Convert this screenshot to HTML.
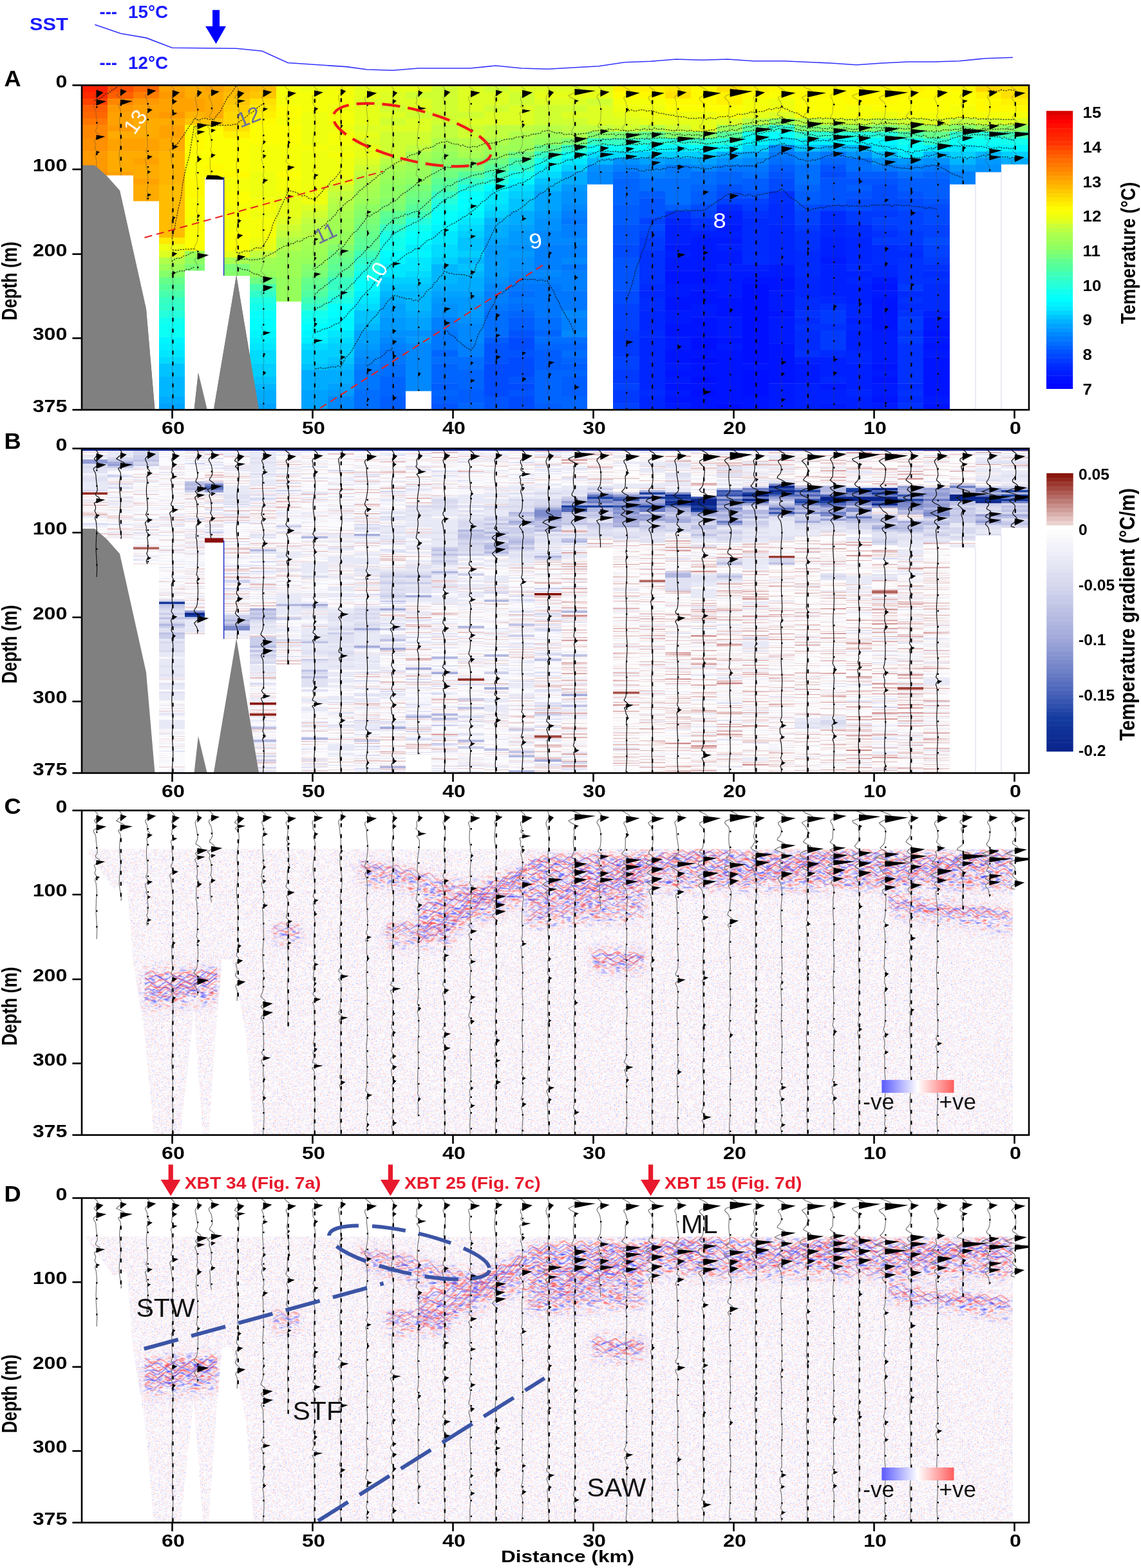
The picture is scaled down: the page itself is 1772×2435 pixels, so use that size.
<!DOCTYPE html><html><head><meta charset="utf-8"><title>Figure</title><style>
*{margin:0;padding:0}
html,body{width:1772px;height:2435px;background:#fff;overflow:hidden}
svg{display:block}
text{font-family:'Liberation Sans', Arial, Helvetica, sans-serif}
.tl{font-size:28.5px;font-weight:bold;fill:#000}
.cl{font-size:23.5px;font-weight:bold;fill:#000}
.lab{font-size:26.2px;font-weight:bold;fill:#000}
.pl{font-size:34.5px;font-weight:bold;fill:#000}
.sst{font-size:27.5px;font-weight:bold;fill:#1a1aff}
</style></head><body>
<svg width="1772" height="2435" viewBox="0 0 1772 2435">
<rect width="1772" height="2435" fill="#fff"/>
<defs><filter id="fB" x="0" y="0" width="1" height="1" color-interpolation-filters="sRGB">
<feTurbulence type="fractalNoise" baseFrequency="0.004 0.42" numOctaves="2" seed="3" result="n"/>
<feColorMatrix in="n" type="matrix" values="0 0 0 0 0.78  0 0 0 0 0.42  0 0 0 0 0.42  2.2 0 0 0 -1.22" result="r"/>
<feColorMatrix in="n" type="matrix" values="0 0 0 0 0.55  0 0 0 0 0.58  0 0 0 0 0.86  -2.0 0 0 0 0.88" result="b"/>
<feFlood flood-color="#fbfbfe" result="w"/>
<feMerge><feMergeNode in="w"/><feMergeNode in="r"/><feMergeNode in="b"/></feMerge>
</filter>
<filter id="fB2" x="0" y="0" width="1" height="1" color-interpolation-filters="sRGB">
<feTurbulence type="fractalNoise" baseFrequency="0.004 0.42" numOctaves="2" seed="5" result="n"/>
<feColorMatrix in="n" type="matrix" values="0 0 0 0 0.75  0 0 0 0 0.38  0 0 0 0 0.38  2.6 0 0 0 -1.38" result="r"/>
<feColorMatrix in="n" type="matrix" values="0 0 0 0 0.55  0 0 0 0 0.58  0 0 0 0 0.86  -1.6 0 0 0 0.66" result="b"/>
<feFlood flood-color="#fdfcfd" result="w"/>
<feMerge><feMergeNode in="w"/><feMergeNode in="r"/><feMergeNode in="b"/></feMerge>
</filter>
<filter id="fS" x="0" y="0" width="1" height="1" color-interpolation-filters="sRGB">
<feTurbulence type="fractalNoise" baseFrequency="0.3 0.45" numOctaves="2" seed="8" result="n"/>
<feColorMatrix in="n" type="matrix" values="0 0 0 0 1  0 0 0 0 0.42  0 0 0 0 0.42  1.2 0 0 0 -0.625" result="r"/>
<feColorMatrix in="n" type="matrix" values="0 0 0 0 0.42  0 0 0 0 0.42  0 0 0 0 1  -1.2 0 0 0 0.575" result="b"/>
<feMerge><feMergeNode in="r"/><feMergeNode in="b"/></feMerge>
</filter>
<filter id="fS2" x="0" y="0" width="1" height="1" color-interpolation-filters="sRGB">
<feTurbulence type="fractalNoise" baseFrequency="0.09 0.22" numOctaves="2" seed="21" result="n"/>
<feColorMatrix in="n" type="matrix" values="0 0 0 0 1  0 0 0 0 0.3  0 0 0 0 0.3  3.0 0 0 0 -1.58" result="r"/>
<feColorMatrix in="n" type="matrix" values="0 0 0 0 0.28  0 0 0 0 0.3  0 0 0 0 1  -3.0 0 0 0 1.42" result="b"/>
<feMerge><feMergeNode in="r"/><feMergeNode in="b"/></feMerge>
</filter>
<filter id="fBl" x="-0.1" y="-0.5" width="1.2" height="2"><feGaussianBlur stdDeviation="9"/></filter>
<clipPath id="trclip"><rect x="127" y="0" width="1471" height="504"/></clipPath><g id="trthin"><g clip-path="url(#trclip)"><path d="M147.5 1l2.9 3l1.9 3l-0.5 3l-3.2 3l-2.2 3l2.2 3l3.2 3l0.5 3l-3 3l-4.1 3l0.6 3l1.9 3l1 3l0.3 3l0.2 3l0.3 3l0.3 3l0.4 3l0.4 3l0.4 3l0.2 3l-0.7 3l-2.1 3l0.5 3l4.8 3l1.1 3l-4.1 3l-4.4 3l1.2 3l1.1 3l-0.3 3l-1.3 3l1.6 3l1.4 3l-2.1 3l-0.3 3l1.3 3l0.5 3l0.3 3l0.3 3l0.2 3l0.1 3l-0.1 3l-0.2 3l-0.3 3l-0.3 3l0.1 3l-0.2 3l-0.1 3l-0.1 3l0 3l0 3l0.1 3l0.2 3l0.2 3l0.2 3l0.2 3l0.2 3l0.2 3l0.1 3l0.1 3l0 3l-0.1 3l-0.1 3l-0.1 3l-0.2 3l-0.3 0.6M185.4 1l2.7 3l1.4 3l-1.6 3l-4.1 3l-3 3l6 3l5.9 3l0.3 3l-4.6 3l-4.7 3l1.4 3l1.9 3l0.4 3l-0.3 3l-0.5 3l-0.4 3l-0.3 3l-0.2 3l-0.1 3l0 3l0.2 3l0.3 3l0.3 3l0.3 3l0.3 3l0.2 3l0.1 3l0 3l-0.1 3l-0.2 3l-0.3 3l-0.4 3l-0.4 3l-0.3 3l-0.3 3l-0.1 3l0 3l0.1 3l0.3 3l0.4 3l0.5 3l0.5 3l0.5 3l0.4 3l0.4 3l0.2 3l-1.6 0.6M228.9 1l2.6 3l1 3l-1.6 3l-2.9 3l-2.4 3l0.8 3l1.7 3l0.8 3l-0.5 3l0.6 3l2.9 3l1 3l-2 3l-2.9 3l0.1 3l0.6 3l-0.1 3l-0.4 3l-0.4 3l-0.3 3l-0.1 3l0 3l0.1 3l0.2 3l0.3 3l0.3 3l0.3 3l0.3 3l0.2 3l0.1 3l0 3l-0.4 3l-1.2 3l-1.1 3l2.2 3l1.6 3l-1.7 3l-3 3l0.3 3l1.2 3l0.4 3l-0.6 3l1.2 3l2.4 3l-1.1 3l-0.7 3l0.6 3l0.3 3l0.1 3l0 3l-0.1 3l-0.1 3l-0.4 3l-1.4 3l1.4 3l1.6 3l-2.6 3l-0.8 3l1.1 3l0.4 1.6M265.6 1l3 3l2.3 3l0.6 3l-2 3l-2.7 3l0 3l2.1 3l0.7 3l-1.6 3l-1 3l0.1 3l-0.9 3l2.6 3l1 3l-3.3 3l-1.2 3l1.2 3l0.3 3l0.1 3l0.2 3l0.3 3l0.3 3l0.3 3l0.2 3l0.1 3l-0.1 3l-0.7 3l-1.6 3l-0.2 3l3 3l0.9 3l-2.7 3l-3.3 3l0.6 3l1.1 3l0.4 3l0.2 3l0.3 3l0.4 3l0.5 3l0.5 3l0.5 3l0.4 3l0.3 3l0.2 3l0 3l-0.8 3l-0.1 3l-0.1 3l-0.1 3l-0.1 3l-0.1 3l-0.1 3l0 3l0 3l0.1 3l0.1 3l0.1 3l0.2 3l0.2 3l0.1 3l0.1 3l0 3l-0.3 3l-0.8 3l-0.1 3l1.6 3l0.3 3l-1.6 3l-1.5 3l0.5 3l0.3 3l0 3l0 3l0 3l0.1 3l0.1 3l0.2 3l0.2 3l0.2 3l0.1 3l-0.1 3l-0.8 3l-0.9 3l2 3l1.9 3l-0.8 3l-2.8 3l-0.7 3l1.1 3l0.5 3l-0.1 3l-0.7 3l-0.3 3l1.9 3l1.4 3l-0.6 3l-1.7 3l0.1 3l1 3l0.4 3l0.1 3l0 3l-0.1 3l-0.1 3l-0.2 3l-0.2 3l-0.2 3l-0.2 3l-0.1 3l-0.1 3l0 3l0 3l0.1 3l0.1 3l0.1 3l0.1 3l0.1 3l0.1 3l0 3l0 3l-0.1 3l-0.1 3l-0.2 3l-0.2 3l-0.2 3l-0.2 3l-0.1 3l-0.1 3l0 3l0 3l0.1 3l0.2 3l0.2 3l0.2 3l0.2 3l0.2 3l0.1 3l0.1 3l0 3l0 3l-0.1 3l-0.1 3l-0.1 3l-0.1 3l-0.1 3l-0.1 3l0 3l0 3l0.1 3l0.1 3l0.1 3l0.2 3l0.2 3l0.2 3l0.1 3l0.1 3l0 3l-0.1 3l-0.1 3l-0.2 3l-0.2 3l-0.2 3l-0.2 3l-0.2 3l-0.2 3l-0.1 3l0.7 2M305.4 1l1.7 3l1.1 3l-0.1 3l-1.5 3l-2.1 3l-1.3 3l0.4 3l0.8 3l0.6 3l0.5 3l0.4 3l0.5 3l0.4 3l0.1 3l-0.7 3l-1.7 3l-0.4 3l4.4 3l3.5 3l-0.6 3l-5.6 3l-2.4 3l2.7 3l0 3l-3.5 3l1 3l1.7 3l0.4 3l0.2 3l0.2 3l0.3 3l0.2 3l-0.1 3l-0.7 3l-0.2 3l2.2 3l1.5 3l-0.9 3l-2.6 3l-1.3 3l0.5 3l0.2 3l-0.2 3l-0.3 3l-0.2 3l0 3l1.1 3l0.1 3l0.2 3l0.2 3l0.2 3l0.2 3l0.2 3l0.1 3l0.1 3l0 3l0 3l-0.1 3l-0.1 3l-0.1 3l-0.1 3l-0.1 3l-0.1 3l-0.5 3l-0.5 3l1.8 3l0.7 3l-1.6 3l-0.1 3l0.9 3l0.3 3l0.1 3l0.1 3l0 3l-0.1 3l-0.1 3l-0.2 3l-0.2 3l-0.2 3l-0.3 3l-0.6 3l-1.4 3l-2.2 3l-0.9 3l3.9 3l4.3 3l2 3l-2.3 3l-4.5 3l-2.9 3l1.4 3l2.1 3l1.1 3l0.3 3l0 3l0 1.6M325.6 1l3.3 3l2.1 3l-0.6 3l-2.7 3l-3.3 3l0.2 3l1.8 3l1.5 3l0.8 3l0.5 3l0.4 3l0.2 3l-0.2 3l-1.2 3l-2.3 3l-0.8 3l4.3 3l3.5 3l-0.2 3l-5.2 3l-5.6 3l2.5 3l2 3l-1.7 3l0.7 3l1.4 3l0.5 3l0.3 3l0.3 3l0.3 3l0.1 3l-0.5 3l-1.1 3l1.4 3l1.9 3l-1 3l-3 3l-0.5 3l0.7 3l0.1 3l-0.1 3l0 3l0.1 3l0.3 3l0.4 3l0.5 3l0.5 3l0 0.6M366.6 1l2.2 3l1.7 3l0.7 3l-1.3 3l-3.8 3l-1.7 3l4.9 3l-0.7 3l-3.2 3l3.1 3l1.8 3l0.5 3l0.2 3l0.1 3l-0.1 3l-0.2 3l-0.3 3l-0.4 3l-0.5 3l-0.4 3l-0.4 3l-0.3 3l-0.2 3l-0.1 3l0 3l0.2 3l0.2 3l0.3 3l0.3 3l0.3 3l0.2 3l0.1 3l0 3l-0.2 3l-0.3 3l-0.3 3l-0.4 3l-0.4 3l-0.4 3l-0.3 3l-0.2 3l0 3l0.1 3l0.2 3l0.4 3l0.4 3l0.6 3l0.2 3l0.2 3l0.2 3l0.1 3l0.1 3l0 3l-0.1 3l-0.1 3l-0.1 3l-0.1 3l-0.1 3l-0.1 3l-0.1 3l0 3l0 3l0.1 3l0.1 3l-0.1 3l-0.6 3l-0.4 3l1.9 3l1.5 3l-0.6 3l-2.1 3l-0.6 3l0.1 3l-1 3l0.3 3l2.7 3l0.9 3l-2.1 3l-2.8 3l0.4 3l1.1 3l0.3 3l-0.4 3l-1.3 3l-1.1 3l2.4 3l3.6 3l1.3 3l-2.3 3l-3.8 3l-0.6 3l1.5 3l0.9 3l0.2 3l-0.1 3l-0.1 3l-0.1 3l0 3l0.5 0.6M406.1 1l3.7 3l2.7 3l0.3 3l-2 3l-3.1 3l-1.1 3l1.2 3l1.3 3l-0.4 3l0.1 3l2.9 3l-0.6 3l-3.6 3l-0.1 3l0.7 3l-0.1 3l-0.2 3l-0.1 3l0 3l0.1 3l0.2 3l0.3 3l0.3 3l0.2 3l-0.1 3l-0.6 3l0.6 3l1.4 3l-0.4 3l-2 3l-0.6 3l0.1 3l-0.9 3l-0.2 3l1.7 3l0.4 3l-1.4 3l-0.9 3l1.1 3l0.9 3l0.6 3l0.5 3l0.5 3l0.3 3l-0.3 3l-1.1 3l0.6 3l2.5 3l-0.9 3l-3.1 3l0 3l1 3l0.2 3l-0.1 3l0 3l0 3l0.1 3l0.1 3l0.1 3l0.2 3l0.1 3l0.1 3l0.1 3l0 3l0 3l-0.1 3l-0.1 3l-0.2 3l-0.2 3l-0.2 3l-0.2 3l-0.2 3l-0.1 3l-0.1 3l0 3l0.1 3l0.1 3l0.2 3l0.2 3l0.2 3l0.2 3l0.1 3l-0.2 3l-0.5 3l0.8 3l0.8 3l-0.8 3l-1.1 3l0.4 3l0.2 3l0 3l-0.1 3l-0.3 3l-0.9 3l-1.6 3l-0.8 3l3.1 3l3.4 3l0.5 3l-3.5 3l-3.2 3l1.6 3l4.2 3l1.8 3l-2.2 3l-4.2 3l-1.1 3l1.5 3l1.3 3l0.5 3l0.1 3l0 3l0 3l0.1 3l0.1 3l0.1 3l0.1 3l0.1 3l0.1 3l0.1 3l0 3l0 3l-0.2 3l-0.9 3l-2.2 3l1.7 3l4 3l-1.6 3l-4.7 3l0.9 3l1.6 3l0.4 3l0.2 3l0.2 3l0.1 3l-0.3 3l-0.2 3l2 3l0 3l-1.7 3l0.5 3l0.4 3l0 3l-0.2 3l-0.7 3l-0.8 3l1.5 3l1.1 3l-1.2 3l-1.6 3l0.7 3l0.7 3l0.2 3l0.2 3l0.2 3l0.1 3l0.1 3l0 3l0 3l-0.1 3l-0.1 3l-0.2 3l-0.2 3l-0.2 3l-0.2 3l-0.2 3l-0.1 3l0.6 2M442 1l2.3 3l4 3l2.3 3l-1 3l-3 3l-2.5 3l0.9 3l1.5 3l0.6 3l0 3l-0.2 3l-0.3 3l-0.3 3l-0.6 3l-0.5 3l1.6 3l0 3l-1.2 3l0.9 3l0.8 3l0.5 3l0.4 3l0.4 3l0.2 3l-0.2 3l-0.6 3l0.5 3l1 3l-0.1 3l-1.5 3l-1.6 3l0 3l0.1 3l-0.1 3l-0.1 3l0 3l-0.2 3l-0.9 3l-1.2 3l2.4 3l3.6 3l0.3 3l-3.1 3l-2.2 3l1.3 3l0.9 3l-0.1 3l-0.1 3l-0.2 3l-0.2 3l-0.2 3l-0.1 3l-0.2 3l-0.9 3l-0.7 3l3.2 3l0.6 3l-2.9 3l0.3 3l1.3 3l0.4 3l0.2 3l0.1 3l0 3l-0.4 3l-1.2 3l1.8 3l1 3l-2.6 3l-0.1 3l0.8 3l0.1 3l0 3l0.1 3l0.1 3l0.1 3l0.2 3l0.2 3l0.1 3l0.1 3l0.1 3l0 3l-0.1 3l-0.1 3l-0.2 3l-0.2 3l-0.2 3l-0.2 3l-0.2 3l-0.2 3l-0.1 3l0 3l0 3l0.1 3l0.1 3l0.2 3l0.2 3l0.2 3l0.1 3l0.1 3l0 3l0 3l-0.1 3l-0.1 3l-0.1 3l-0.1 3l-0.1 3l-0.1 3l-0.1 3l0 3l0.1 3l0.5 1.6M485.9 1l3.6 3l3.1 3l0.8 3l-2.7 3l-4.3 3l-1.6 3l1.1 3l0.4 3l-0.4 3l1.8 3l1.8 3l-0.5 3l-2 3l0.1 3l1.3 3l0.7 3l0.3 3l0.1 3l0 3l-0.1 3l-0.2 3l-0.4 3l-0.4 3l-0.5 3l-0.5 3l-0.4 3l-0.4 3l-0.2 3l-0.1 3l0 3l0.2 3l0.3 3l0.4 3l0.4 3l0.4 3l0.3 3l0.3 3l0.2 3l0 3l-0.1 3l-0.2 3l-0.4 3l-1.1 3l-1.1 3l2.4 3l0.8 3l-2.1 3l-0.8 3l1.2 3l0.2 3l-0.7 3l1.6 3l1.5 3l-1.6 3l-0.7 3l1 3l0.2 3l0 3l-0.1 3l-0.1 3l-0.2 3l-0.2 3l-0.2 3l-0.2 3l-0.1 3l-0.1 3l0 3l0 3l0.1 3l0.1 3l0.1 3l0.1 3l0.1 3l0.1 3l0 3l-0.3 3l-1.4 3l1.6 3l1.8 3l-2.7 3l-1.2 3l1.1 3l0.1 3l-0.1 3l-0.2 3l-0.6 3l0.1 3l1.6 3l0.5 3l-1 3l-0.5 3l0.8 3l0.1 3l-1.3 3l-0.6 3l3.8 3l1.8 3l-2.9 3l-3.3 3l1.3 3l1 3l0.1 3l-0.1 3l0 3l0 3l0.1 3l0.1 3l0.1 3l0.2 3l0.2 3l0.1 3l0.1 3l0 3l0 3l-0.1 3l-0.1 3l-0.2 3l-0.3 3l-0.7 3l-0.9 3l0.6 3l1.4 3l0.3 3l-1.2 3l-1.4 3l0.5 3l0.8 3l0.2 3l-1.6 3l-0.8 3l6.3 3l-1 3l-5.7 3l2.1 3l1.3 3l0 3l-0.1 3l-0.1 3l-0.1 3l-0.1 3l0 3l0 3l0.1 3l0.1 3l0.2 3l0.2 3l0.2 3l0.2 3l0.2 3l0.1 3l0.1 3l0 3l-0.1 3l-0.1 3l-0.2 3l-0.2 3l-0.2 3l-0.2 3l-0.1 3l-0.1 3l-0.1 3l0 3l0.1 3l0.1 3l0.1 3l0.1 3l0.1 3l-0.2 2M530 1l1.5 3l0.5 3l-1.3 3l-2.3 3l-2.4 3l-0.2 3l0.7 3l0.6 3l0.3 3l0.2 3l0.3 3l0.3 3l0.4 3l0.4 3l0.3 3l0.2 3l-0.2 3l-0.6 3l0.9 3l0.8 3l-0.9 3l-1.7 3l-0.1 3l0.3 3l0 3l0 3l0.1 3l0.2 3l0.3 3l0.4 3l0.5 3l0.5 3l0.4 3l0.4 3l0.2 3l0.1 3l0 3l-0.2 3l-0.3 3l-0.4 3l-0.4 3l-0.4 3l-0.4 3l-0.3 3l-0.2 3l-0.1 3l0.4 3l0.1 3l0.1 3l0.1 3l0.1 3l0.1 3l0.1 3l0 3l-0.2 3l-0.7 3l0.9 3l0.5 3l-1.5 3l-0.4 3l0.3 3l-0.1 3l-0.1 3l0 3l0 3l0.1 3l0.1 3l0.2 3l0.2 3l0.2 3l0.2 3l0.2 3l0.1 3l0.1 3l0 3l-0.1 3l-0.1 3l-0.1 3l-0.1 3l-0.2 3l-0.4 3l-1.7 3l-1.4 3l4.6 3l2.7 3l-3.2 3l-3.7 3l2 3l1.5 3l0.4 3l0.1 3l0 3l0 3l-0.1 3l-0.1 3l-0.2 3l-0.2 3l-0.2 3l-0.2 3l-0.2 3l-0.1 3l-0.1 3l-0.4 3l-1.7 3l0 3l5 3l0.2 3l-4.7 3l0.2 3l1.9 3l0.4 3l0 3l-0.1 3l-0.1 3l-0.1 3l-0.1 3l-0.1 3l-0.1 3l-0.1 3l0 3l0 3l0.1 3l0.1 3l0.2 3l0.2 3l0.2 3l0.2 3l0.2 3l0.1 3l0.1 3l0 3l-0.1 3l-0.1 3l-0.2 3l-0.2 3l-0.5 3l-1.3 3l-0.3 3l2.7 3l1.2 3l-1.9 3l-2.2 3l1 3l1 3l0.3 3l0.1 3l0.1 3l0 3l0 3l-0.1 3l-0.1 3l-0.2 3l-0.2 3l-0.2 3l-0.2 3l-0.2 3l-0.1 3l-0.1 3l0 3l0.1 3l0.1 3l0.2 3l0.2 3l0.2 3l0.2 3l0.2 3l0.1 3l-0.3 2M567.5 1l3.4 3l3.4 3l1.7 3l-1.7 3l-3.4 3l-4.1 3l-0.3 3l1.4 3l1 3l0.4 3l0.1 3l0.1 3l0.2 3l0.3 3l0.3 3l0.3 3l0.3 3l0.2 3l0.1 3l-0.1 3l-0.2 3l-0.3 3l-0.4 3l-0.5 3l-0.5 3l-0.5 3l-0.8 3l-1.4 3l0.4 3l2.6 3l0.3 3l-2.2 3l-0.7 3l1.5 3l1 3l0.5 3l0.3 3l0.2 3l0.1 3l0 3l-0.1 3l-0.2 3l-0.3 3l-0.3 3l-0.3 3l-0.2 3l0.4 3l0 3l0.1 3l0.1 3l0.2 3l0.2 3l0.2 3l0.2 3l0.2 3l0.1 3l0.1 3l0 3l-0.1 3l-0.1 3l-0.2 3l-0.7 3l-1.5 3l2.2 3l1.2 3l-3.1 3l-0.4 3l1.1 3l0.2 3l0.1 3l0.1 3l-0.2 3l-0.4 3l0.5 3l1.3 3l0.3 3l-1 3l-1.1 3l0.3 3l0.3 3l-0.1 3l-0.2 3l-0.2 3l-0.1 3l-0.1 3l0 3l0.1 3l0.1 3l0.2 3l0.2 3l0.2 3l0.2 3l0.2 3l0.1 3l0.1 3l0 3l0 3l-0.1 3l-0.1 3l-0.1 3l-0.1 3l-0.1 3l-0.1 3l-0.1 3l0 3l0 3l0.1 3l0.1 3l0.2 3l0.2 3l0.1 3l0.1 3l0.1 3l0 3l-0.1 3l-0.1 3l-0.2 3l-0.2 3l-0.2 3l-0.2 3l-0.2 3l-0.2 3l-0.1 3l0 3l0 3l0.1 3l0.1 3l0.2 3l0.2 3l0.2 3l0.1 3l0.1 3l0 3l0 3l-0.1 3l-0.1 3l-0.1 3l-0.1 3l-0.1 3l-0.1 3l-0.1 3l0 3l-0.3 3l-1.2 3l0.4 3l3.4 3l0.2 3l-3 3l-0.1 3l1.4 3l0.5 3l0.1 3l0 3l-0.1 3l-0.1 3l-0.2 3l-0.2 3l-0.4 3l-0.7 3l0 3l1.2 3l0.3 3l-0.9 3l-0.9 3l0.6 3l0.5 3l0.2 3l-0.1 2M607.6 1l2 3l1.9 3l1 3l-1.1 3l-2.2 3l0.4 3l2.4 3l0.4 3l-1.8 3l-0.4 3l0.7 3l0 3l-0.4 3l-0.5 3l-0.5 3l-0.4 3l-0.3 3l-0.1 3l0 3l0.1 3l0.2 3l0.3 3l0.3 3l0.3 3l0.2 3l0.2 3l0.1 3l-0.1 3l-0.2 3l-0.3 3l-0.3 3l-0.4 3l-0.4 3l-0.3 3l-0.2 3l-0.1 3l0.1 3l0.2 3l0.3 3l0.4 3l0.5 3l0.5 3l0.5 3l0.4 3l0.3 3l0.2 3l-0.9 3l0 3l-0.1 3l-0.1 3l-0.2 3l-0.2 3l-0.1 3l-0.1 3l-0.1 3l0 3l0 3l0.1 3l0.1 3l0.1 3l0.1 3l0.1 3l0.1 3l0 3l0 3l-0.1 3l-0.1 3l-0.2 3l-0.2 3l-0.2 3l-0.2 3l-0.2 3l-0.1 3l-0.1 3l0 3l0.1 3l0.1 3l0.2 3l0.2 3l0.2 3l0.2 3l0.1 3l0.1 3l0 3l0 3l-0.1 3l-0.1 3l-0.3 3l-1.8 3l-1.4 3l5.5 3l0.1 3l-5.7 3l1.1 3l1.8 3l0.4 3l0.2 3l0.2 3l0.2 3l0.2 3l0 3l-0.6 3l0.1 3l1.6 3l-0.5 3l-1.8 3l0.2 3l0.3 3l-0.2 3l-0.3 3l-0.8 3l-0.5 3l1.6 3l1.1 3l-0.9 3l-1.5 3l0.4 3l0.8 3l0.3 3l0.1 3l0 3l-0.1 3l-0.6 3l-1 3l1 3l1.7 3l-0.8 3l-2.8 3l-1.1 3l1.3 3l2.5 3l0.9 3l-1.4 3l-1.9 3l0.4 3l0.3 3l0.3 3l2 3l1.3 3l-0.5 3l-1.7 3l-0.7 3l0.7 3l0.4 3l0 3l-0.1 3l-0.1 3l-0.1 3l-0.1 3l0 3l0 3l0.1 3l0.1 3l0.2 3l0.2 3l0.1 3l-0.2 3l-0.9 3l-0.2 3l2.2 3l1 3l-1.6 3l-2.3 3l0.3 3l0.6 3l0 3l-0.1 3l0.7 2M648.4 1l1.7 3l1.3 3l0.2 3l-1.4 3l-2.2 3l-1.1 3l0.5 3l0.2 3l-1.7 3l2.5 3l5 3l-2.2 3l-4.1 3l2.5 3l1.5 3l0.3 3l0 3l-0.1 3l-0.2 3l-0.4 3l-0.4 3l-0.5 3l-0.5 3l-0.4 3l-0.3 3l-0.2 3l-0.1 3l0 3l0 3l-0.2 3l-0.3 3l1.1 3l1.7 3l0.5 3l-1 3l-1.4 3l0.2 3l0.4 3l-0.1 3l-0.3 3l-0.4 3l-0.3 3l-0.3 3l-0.4 3l-0.9 3l-0.3 3l3.1 3l1.6 3l-0.9 3l-2 3l0.3 3l1.1 3l0.5 3l0.2 3l0.1 3l0 3l-0.1 3l-0.1 3l-0.1 3l-0.2 3l-0.4 3l-0.6 3l-0.2 3l1 3l0.7 3l-0.3 3l-1 3l-0.2 3l0.6 3l0.4 3l0.2 3l0.1 3l0 3l0 3l-0.1 3l-0.2 3l-0.2 3l-0.2 3l-0.2 3l-0.2 3l-0.2 3l-0.1 3l-0.1 3l0 3l0.1 3l0.1 3l0.2 3l0.2 3l0.2 3l0.2 3l0.1 3l0.1 3l0 3l0 3l-0.1 3l-0.1 3l-0.2 3l-0.5 3l-0.8 3l0.5 3l1.6 3l0.1 3l-1.4 3l-0.8 3l0.9 3l0.6 3l0.3 3l0.2 3l0.2 3l0.1 3l0 3l0 3l-0.1 3l-0.1 3l-0.2 3l-0.2 3l-0.2 3l-0.2 3l-0.2 3l-0.1 3l-0.1 3l0 3l0.1 3l0.1 3l0.1 3l0.1 3l0.1 3l0.1 3l0.1 3l0 3l-0.1 3l-0.1 3l-0.1 3l-0.2 3l-0.2 3l-0.2 3l-0.1 3l-0.1 3l0 3l0 3l0.1 3l0.1 3l0.2 3l0.2 3l-0.1 3l-0.5 3l0.8 3l1.6 3l0 3l-1.5 3l-0.6 3l0.6 3l0.2 3l-0.1 3l-0.1 3l-0.1 3l-0.1 3l0.1 2.6M687.1 1l2.4 3l1.8 3l0.4 3l-1 3l-1.7 3l-0.9 3l0.9 3l1.3 3l0.9 3l0.4 3l0 3l-0.2 3l-0.3 3l-0.3 3l-0.4 3l-0.3 3l-0.3 3l-0.2 3l-0.1 3l0.1 3l0.2 3l0.3 3l0.3 3l0.3 3l0.3 3l0.2 3l0.1 3l0 3l-0.1 3l-0.3 3l-0.4 3l-0.8 3l-1.6 3l0 3l2.3 3l-0.3 3l-2.9 3l-0.7 3l1.2 3l0.6 3l0.4 3l0.4 3l0.4 3l0.4 3l0.3 3l0.3 3l-0.2 3l0 3l0 3l-0.1 3l-0.1 3l-0.1 3l-0.1 3l-0.1 3l-0.1 3l0 3l0 3l0.1 3l0.1 3l0.2 3l0.1 3l-0.2 3l0 3l1.3 3l0.6 3l-0.8 3l-1 3l0.3 3l0.2 3l-0.1 3l-0.4 3l-1.4 3l-0.1 3l3.2 3l-1.5 3l-2.7 3l1.5 3l0.6 3l0.1 3l0.1 3l0.1 3l0.1 3l0.1 3l0 3l0 3l-0.1 3l-0.2 3l-0.6 3l-1.2 3l-0.3 3l2.3 3l1.4 3l-1.1 3l-2.5 3l-0.5 3l1.2 3l0.8 3l0.3 3l0.2 3l0.2 3l0.2 3l0.2 3l0.1 3l0.1 3l0 3l-0.1 3l-0.1 3l-0.1 3l-0.1 3l-0.2 3l-0.5 3l-1.5 3l-0.6 3l3.7 3l1.7 3l-2.6 3l-2.8 3l1.3 3l0 3l-0.8 3l3.1 3l2.5 3l-1.6 3l-3.6 3l0.1 3l1.2 3l0.3 3l-0.2 3l-0.2 3l-0.2 3l-0.1 3l-0.1 3l0 3l0.1 3l0.1 3l0.1 3l0.2 3l0.2 3l0.1 3l0.1 3l0.1 3l0 3l0 3l-0.1 3l-0.1 3l-0.1 3l-0.1 3l-0.1 3l-0.1 3l0 3l0 3l0.1 3l0.1 3l0.2 3l0.2 3l0.2 3l0.2 3l0.2 3l0.1 3l0.1 3l0 3l-0.1 3l-0.1 3l-0.2 3l-0.2 3l-0.2 3l-0.2 3l0 2M727.7 1l3.7 3l3.6 3l1.5 3l-2.2 3l-4.1 3l-2.7 3l0.7 3l1.2 3l0.4 3l-0.2 3l-0.3 3l-0.2 3l-0.1 3l0 3l0.2 3l0.3 3l0.4 3l0.4 3l0.3 3l-0.2 3l0.1 3l2.1 3l0.4 3l-1.8 3l-0.5 3l0.5 3l-0.1 3l-0.3 3l-0.3 3l-0.2 3l-0.1 3l0 3l0.1 3l0.2 3l0.2 3l-0.2 3l-1.2 3l1.3 3l4 3l0.2 3l-3.6 3l-1 3l1.4 3l0.3 3l-0.3 3l-0.5 3l-0.5 3l-0.2 3l-0.2 3l-0.1 3l-0.1 3l0 3l0 3l0.1 3l0.1 3l0.1 3l0.1 3l-0.4 3l-1.5 3l0.2 3l3.9 3l0.6 3l-3.6 3l-1.8 3l1.5 3l0.6 3l0 3l-0.1 3l0 3l0 3l0.1 3l0.1 3l0.2 3l0 3l-1 3l-0.2 3l3.9 3l-0.5 3l-3.4 3l1.2 3l0.8 3l0 3l-0.1 3l-0.2 3l-0.2 3l-0.2 3l-0.1 3l-0.1 3l0 3l0 3l0.1 3l-0.1 3l-0.9 3l-0.4 3l3 3l1.3 3l-2.2 3l-2 3l1.2 3l0.5 3l-0.1 3l-0.2 3l-0.3 3l-0.5 3l-1 3l-0.6 3l1.9 3l1.5 3l-0.7 3l-2.1 3l-0.3 3l1.1 3l0.7 3l0.3 3l0.2 3l0.1 3l0.1 3l0 3l-0.1 3l-0.1 3l-0.1 3l-0.1 3l-0.1 3l-0.1 3l-0.1 3l0 3l0.1 3l0.1 3l0.2 3l0.2 3l0.2 3l0.2 3l0.2 3l0.1 3l0.1 3l0 3l-0.1 3l-0.1 3l-0.2 3l-0.6 3l-0.9 3l1.3 3l0.8 3l-1.5 3l-1.1 3l0.8 3l0.3 3l0 3l-0.4 3l-1 3l2.2 3l1.9 3l-1.8 3l-1.9 3l1.2 3l0.4 3l-0.1 3l-0.2 3l-0.2 3l-0.2 3l-0.1 3l-0.1 3l-0.1 3l0 3l0.1 3l0.1 3l0.2 3l0.4 2M768.7 1l3.2 3l2.2 3l0 3l-2.2 3l-3.1 3l-0.7 3l0.8 3l0.5 3l-0.1 3l-0.4 3l-0.4 3l-0.3 3l-0.1 3l0 3l0.2 3l0.3 3l0.4 3l0.4 3l0.4 3l0.4 3l0.3 3l0.2 3l0.1 3l0 3l-0.2 3l-0.2 3l-0.3 3l-0.3 3l-0.3 3l-0.2 3l-0.1 3l0 3l0.2 3l0.3 3l0.4 3l0.4 3l0.4 3l0.3 3l-0.3 3l-1.7 3l-1.6 3l4 3l3.5 3l-2.1 3l-6.6 3l-2.1 3l4.2 3l1.2 3l-1.7 3l0.1 3l2.3 3l0.6 3l-3.1 3l-3.4 3l2.3 3l2.9 3l0.5 3l-0.9 3l0.2 3l0.5 3l0.1 3l-0.1 3l-0.1 3l-0.2 3l-0.2 3l-0.2 3l-0.1 3l-0.1 3l0 3l0 3l0.1 3l0.1 3l0.2 3l0.2 3l0.2 3l0.2 3l0.2 3l0.1 3l0.1 3l0 3l0 3l-0.1 3l-0.1 3l-0.1 3l-0.1 3l-0.1 3l-0.1 3l0 3l0 3l0.1 3l0.1 3l0.1 3l0.2 3l0.1 3l0.1 3l0.1 3l0 3l0 3l-0.1 3l-0.1 3l-0.2 3l-0.2 3l-0.2 3l-0.2 3l-0.2 3l-0.1 3l-0.1 3l0 3l0 3l0.1 3l0.1 3l0.2 3l0.1 3l-0.3 3l-0.8 3l0.2 3l2.2 3l1.3 3l-1 3l-2.3 3l-0.7 3l0.8 3l0.5 3l0.1 3l-0.1 3l-0.8 3l-0.9 3l3.2 3l0.8 3l-3.1 3l0.4 3l1.3 3l0.4 3l0.1 3l-0.1 3l-0.7 3l-1.2 3l0.8 3l2.6 3l0.4 3l-2.3 3l-2.4 3l0.7 3l0.8 3l0.2 3l0 3l0 3l0.1 3l0.1 3l0.1 3l0.1 3l0.1 3l0.1 3l0 3l0 3l-0.1 3l-0.1 3l-0.2 3l-0.2 3l-0.2 3l-0.2 3l-0.1 3l-0.1 3l0 3l0.1 3l0.1 3l0.2 3l0.5 2M808.5 1l3.8 3l2.9 3l0.8 3l-1.7 3l-2.8 3l-3.1 3l0 3l1.5 3l0.9 3l-1.6 3l-0.1 3l5.4 3l-1.3 3l-6.2 3l0.7 3l1 3l-0.6 3l0.6 3l1.4 3l0.3 3l-0.9 3l-0.8 3l0.9 3l0.9 3l0.5 3l0.3 3l0.1 3l0 3l-0.1 3l-0.2 3l-0.4 3l-0.8 3l-1.8 3l-2.1 3l1 3l4.5 3l2.8 3l-1.2 3l-3.7 3l-2.8 3l1.7 3l2.3 3l1.3 3l0.6 3l0.3 3l0.1 3l-1.1 3l-0.1 3l-0.1 3l-0.2 3l-0.2 3l-0.2 3l-0.2 3l-0.1 3l-0.1 3l0 3l0 3l0.1 3l0.1 3l0.1 3l0.1 3l0.1 3l0.1 3l0 3l-0.2 3l-1.2 3l0.4 3l2.7 3l-1.4 3l-2.7 3l1 3l0.5 3l0 3l0 3l0 3l0.1 3l0.1 3l0.2 3l0.2 3l0.2 3l0.2 3l0.2 3l0.1 3l0.1 3l0 3l0 3l-0.1 3l-0.1 3l-0.1 3l-0.1 3l-0.1 3l-0.1 3l0 3l0 3l0.1 3l0.1 3l0.2 3l0.2 3l0.2 3l0.1 3l0.1 3l0 3l0 3l-0.1 3l-0.1 3l-0.2 3l-0.2 3l-0.2 3l-0.2 3l-0.2 3l-0.1 3l-0.1 3l0 3l0 3l0.1 3l0.1 3l0.2 3l0.2 3l0.1 3l0.1 3l0.1 3l0 3l0 3l-0.1 3l-0.1 3l-0.1 3l-0.1 3l-0.1 3l-0.1 3l0 3l0 3l0.1 3l0.1 3l0.1 3l-0.3 3l-0.9 3l2.3 3l1.4 3l-2.2 3l-0.6 3l1.1 3l0.2 3l-0.1 3l-0.2 3l-0.2 3l-0.2 3l-0.4 3l-1 3l-0.8 3l2.1 3l1.6 3l-1 3l-2.3 3l0.2 3l1.1 3l0.5 3l0.2 3l0.1 3l0 3l-0.1 3l-0.1 3l-0.2 3l-0.2 3l-0.2 3l-0.2 3l-0.2 3l-0.1 3l0.8 2M850.4 1l1.3 3l0.9 3l-0.2 3l-1.3 3l-1.7 3l-1.4 3l0.3 3l1.1 3l1.1 3l0.8 3l0.6 3l0.4 3l0.3 3l0.1 3l0 3l-0.1 3l-0.2 3l-0.3 3l-0.3 3l-0.3 3l-0.2 3l-0.1 3l0 3l0.1 3l0.2 3l0.3 3l0.4 3l0.4 3l0.3 3l-0.1 3l-1.6 3l-2.9 3l1.5 3l7 3l3 3l-4.6 3l-8.8 3l-3.4 3l6.6 3l4.9 3l-3.5 3l-4.1 3l2.3 3l1.2 3l0.3 3l0.3 3l0.6 3l0.1 3l0.1 3l0.1 3l0 3l-0.2 3l-0.8 3l-0.2 3l1.7 3l0.1 3l-1.9 3l-0.6 3l0.7 3l0.2 3l0 3l0.1 3l0.1 3l0.2 3l0.2 3l0.2 3l0.2 3l0.2 3l0.1 3l0.1 3l0 3l0 3l-0.3 3l-0.9 3l0.5 3l1.3 3l-1.3 3l-1.2 3l0.7 3l0.2 3l0 3l0 3l-0.5 3l-0.5 3l1.9 3l1.3 3l-1.2 3l-1.7 3l0.7 3l0.5 3l0 3l-0.2 3l-0.2 3l-0.2 3l-0.2 3l-0.2 3l-0.1 3l-0.1 3l0 3l0 3l0.1 3l0.1 3l0.2 3l0.1 3l-0.2 3l-0.6 3l1.5 3l1.1 3l-1.3 3l-1.2 3l0.7 3l0.2 3l-0.1 3l-0.1 3l-0.1 3l-0.1 3l0 3l0 3l0.1 3l0.1 3l0.2 3l0.2 3l0.2 3l0.2 3l0.1 3l0.1 3l0 3l-0.1 3l-0.1 3l-0.2 3l-0.2 3l-0.2 3l-0.2 3l-0.2 3l-0.1 3l-0.1 3l0 3l0 3l-0.2 3l-1.2 3l-0.3 3l3.8 3l1.1 3l-3.2 3l-1.7 3l0.9 3l0.7 3l1.6 3l0.4 3l-1.3 3l-1.6 3l0.3 3l0.5 3l0.1 3l0 3l0.1 3l0.1 3l0.2 3l0.2 3l0.2 3l0.2 3l0.2 3l0.2 3l0.1 3l0 3l0 3l-0.1 3l-0.6 2M888.8 1l9 3l4.3 3l-4.3 3l-9 3l-5.9 3l3.3 3l6.4 3l0.4 3l-2.3 3l0.9 3l0.2 3l-0.4 3l-0.4 3l-0.3 3l-0.2 3l-0.1 3l0.1 3l0.2 3l0.3 3l0.3 3l-0.1 3l-1.1 3l-1.9 3l0.1 3l5.1 3l3.1 3l-1.6 3l-4.9 3l-1.4 3l1.5 3l0.9 3l-2.4 3l-0.1 3l2.7 3l3.5 3l-1.3 3l-4.5 3l-1.8 3l2.3 3l2.4 3l1.3 3l0.5 3l0.2 3l0.1 3l-0.1 3l-0.2 3l-0.9 3l-0.2 3l-0.2 3l-0.2 3l-0.2 3l-0.2 3l-0.1 3l-0.1 3l0 3l0.1 3l0.1 3l0.1 3l0.2 3l0.2 3l0.1 3l0.1 3l0.1 3l0 3l0 3l-0.1 3l-0.1 3l-0.1 3l-0.1 3l-0.1 3l-0.1 3l0 3l0 3l0.1 3l0.1 3l0.2 3l0.2 3l0.2 3l0.2 3l0.1 3l-0.5 3l0.4 3l1.4 3l-1 3l-1.1 3l0.5 3l0 3l-0.2 3l-0.2 3l-0.1 3l-0.1 3l0 3l0 3l0 3l-0.1 3l-0.6 3l-0.2 3l2.3 3l0.7 3l-1.9 3l-0.9 3l0.9 3l0.2 3l-0.1 3l-0.2 3l-0.2 3l-0.2 3l-0.2 3l-0.1 3l-0.1 3l0 3l0.1 3l0.1 3l0.2 3l0.2 3l0.2 3l0.2 3l0.2 3l0.1 3l0.1 3l0 3l0 3l-0.1 3l-0.1 3l-0.1 3l-0.1 3l-0.1 3l-0.1 3l0 3l0 3l0.1 3l0.1 3l0.2 3l0.2 3l0.2 3l0.1 3l0.1 3l0 3l0 3l-0.1 3l-0.1 3l-0.2 3l-0.2 3l-0.2 3l-0.2 3l-0.2 3l-0.1 3l-0.1 3l0 3l0 3l0.1 3l-0.2 3l-1.1 3l0.5 3l3.2 3l-0.2 3l-3 3l0.3 3l1.1 3l0.1 3l-0.1 3l-0.1 3l-0.1 3l-0.1 3l-0.1 3l0 3l0 3l0.6 2M928.2 1l3.5 3l2.6 3l0 3l-2.8 3l-3.8 3l-0.7 3l1.9 3l1.8 3l1 3l0.6 3l0.4 3l0.3 3l0.2 3l0.1 3l-0.1 3l-0.2 3l-0.3 3l-0.3 3l-0.8 3l-2.1 3l-1.1 3l4.9 3l2.6 3l-3.3 3l-4 3l1.8 3l1 3l-1 3l0 3l3.9 3l1.9 3l-3.3 3l-2.9 3l3.7 3l3.4 3l-3.8 3l-6.6 3l1.4 3l2.5 3l0.6 3l-0.1 3l-0.1 3l0 3l0.2 3l0.3 3l0.3 3l0.5 3l0.1 3l0.1 3l0.1 3l-0.2 2.6M966.6 1l5.3 3l4.9 3l2.6 3l-2 3l-4.4 3l-4.3 3l0.8 3l2.1 3l0.8 3l0.8 3l1.4 3l0 3l-1.7 3l-1.8 3l0.1 3l0.2 3l-0.1 3l-0.1 3l-0.1 3l-0.6 3l-2.2 3l-2.7 3l3.8 3l6.2 3l-1 3l-6 3l0 3l5.2 3l-1.5 3l-6.4 3l1.5 3l3.8 3l-3.5 3l-3.2 3l6.6 3l4.5 3l-3.2 3l-5.6 3l1.1 3l3 3l1.5 3l0.7 3l0.5 3l0.4 3l0.3 3l0.2 3l-0.9 3l-0.1 3l-0.1 3l-0.1 3l-0.2 3l-0.5 3l-0.6 3l0.6 3l1 3l-0.2 3l-1.2 3l-0.1 3l0.6 3l0.3 3l0.2 3l0.1 3l0.1 3l0 3l0 3l-0.1 3l-0.1 3l-0.2 3l-0.2 3l-0.2 3l-0.2 3l-0.2 3l-0.1 3l-0.1 3l0 3l0.1 3l0.1 3l0.2 3l0.2 3l0.2 3l0.2 3l0.1 3l0.1 3l0 3l0 3l-0.1 3l-0.1 3l-0.1 3l-0.1 3l-0.1 3l-0.1 3l0 3l0 3l0.1 3l0.1 3l0.2 3l0.2 3l0.2 3l0.2 3l0.2 3l0.1 3l0.1 3l0 3l-0.1 3l-0.1 3l-0.2 3l-0.2 3l-0.2 3l-0.2 3l-0.2 3l-0.1 3l-0.1 3l0 3l0 3l0.1 3l0.1 3l0.1 3l0.1 3l0.1 3l0.1 3l0 3l0 3l-0.1 3l-0.1 3l-0.2 3l-0.2 3l-0.2 3l-0.4 3l-1.3 3l-1.6 3l3.5 3l2.9 3l-2.2 3l-3.7 3l1.3 3l0.9 3l0.5 3l2 3l0.7 3l-1.3 3l-1.2 3l0.7 3l0.4 3l0 3l-0.1 3l-0.2 3l-0.1 3l-0.1 3l-0.1 3l0 3l0 3l0.1 3l0.1 3l0.1 3l0.1 3l0.1 3l0.1 3l0 3l0 3l-0.1 3l-0.1 3l-0.2 3l-0.2 3l-0.2 3l-0.2 3l-0.2 3l-0.1 3l0.7 2M1007.8 1l2.2 3l5.2 3l2.8 3l-2.2 3l-5 3l-4 3l1.5 3l2.6 3l1.5 3l0.7 3l0.4 3l0.3 3l0.2 3l0.1 3l0 3l-0.2 3l-0.3 3l-0.5 3l-0.9 3l-1.8 3l-2.6 3l-0.2 3l4.5 3l2.5 3l-2.9 3l-6.1 3l-2.2 3l6.7 3l5 3l-1.6 3l-5.3 3l-3.1 3l5.2 3l5.2 3l0 3l-5.1 3l-5.5 3l4 3l4.8 3l-0.9 3l-4.5 3l-0.4 3l2.1 3l1.1 3l0.5 3l0.4 3l0.5 3l0.2 3l0.2 3l0.2 3l0.1 3l0.1 3l0 3l0 3l-0.1 3l-0.1 3l-0.2 3l-0.2 3l-0.2 3l-0.1 3l-0.1 3l0 3l0 3l0.1 3l0.1 3l0.1 3l0.1 3l0.1 3l0.1 3l0.1 3l0 3l-0.1 3l-0.5 3l-0.9 3l0.3 3l1.4 3l0 3l-1.6 3l-1 3l0.6 3l0.4 3l0.1 3l0.1 3l0.2 3l0.2 3l0.2 3l0.2 3l0.2 3l0.1 3l0.1 3l0 3l0 3l-0.1 3l-0.1 3l-0.1 3l-0.1 3l-0.1 3l-0.1 3l0 3l0 3l0.1 3l0.1 3l0.2 3l0.2 3l0.2 3l0.2 3l0.1 3l0.1 3l0 3l-0.1 3l-0.1 3l-0.2 3l-0.2 3l-0.2 3l-0.2 3l-0.2 3l-0.2 3l-0.1 3l0 3l0 3l0.1 3l0.1 3l0.1 3l0.1 3l0.1 3l0.1 3l0.1 3l0 3l0 3l-0.1 3l-0.1 3l-0.2 3l-0.2 3l-0.1 3l-0.1 3l-0.1 3l0 3l0.1 3l0.1 3l0.2 3l0.2 3l0.2 3l0.2 3l0.2 3l0.2 3l0.1 3l0 3l0 3l-0.1 3l-0.1 3l-0.2 3l-0.2 3l-0.2 3l-0.1 3l-0.1 3l-0.1 3l0 3l0.1 3l0.1 3l0.1 3l0.1 3l0.1 3l0.1 3l0.1 3l0 3l0 3l-0.1 3l-0.4 2M1049.7 1l3.7 3l2.8 3l0.5 3l-2.7 3l-4.2 3l-2 3l0.9 3l1.2 3l0.5 3l0.1 3l0.1 3l0.2 3l0.3 3l0.4 3l0.5 3l0.5 3l0.5 3l0.4 3l0.3 3l0.2 3l-0.1 3l-0.9 3l-3.1 3l-4 3l4.7 3l8.3 3l0.3 3l-8.9 3l-8.6 3l5.8 3l6.3 3l1.7 3l-2 3l-3 3l0.3 3l1.7 3l0.7 3l-1 3l-1 3l2.9 3l2.3 3l-1.6 3l-4.2 3l-1.2 3l1.1 3l0.4 3l0.7 3l-0.1 3l0 3l0 3l0.1 3l0.1 3l0.2 3l0.2 3l0.2 3l0.1 3l0.1 3l0 3l0 3l-0.1 3l-0.1 3l-0.1 3l-0.1 3l-0.1 3l-0.1 3l0 3l0 3l0.1 3l0.1 3l0.2 3l0.2 3l0.2 3l0.2 3l0.2 3l0.1 3l0.1 3l0 3l-0.1 3l-0.1 3l-0.2 3l-0.2 3l-0.4 3l-1.1 3l-2 3l0.6 3l4.2 3l1.5 3l-2.8 3l-3.7 3l1 3l1.7 3l0.7 3l0.2 3l0.1 3l0 3l0 3l-0.1 3l-0.1 3l-0.2 3l-0.2 3l-0.2 3l-0.2 3l-0.1 3l-0.1 3l0 3l0.1 3l0.1 3l0.2 3l0.2 3l0.2 3l0.2 3l0.2 3l0.1 3l0.1 3l0 3l0 3l-0.1 3l-0.1 3l-0.1 3l-0.1 3l-0.1 3l-0.1 3l0 3l0 3l0.1 3l0.1 3l0.1 3l0.2 3l0.2 3l0.1 3l-0.3 3l-1 3l0.7 3l2.2 3l-0.2 3l-2.5 3l-0.8 3l0.8 3l0.2 3l-0.1 3l-0.2 3l-0.1 3l0 3l0 3l0.1 3l0.1 3l0.2 3l0.2 3l0.2 3l0.1 3l0.1 3l0 3l0 3l-0.1 3l-0.1 3l-0.1 3l-0.1 3l-0.1 3l-0.1 3l-0.1 3l0 3l0.1 3l0.1 3l0.2 3l0.2 3l0.2 3l0.2 3l-0.4 2M1085.2 1l6.7 3l5.3 3l2.7 3l-2.2 3l-4.7 3l-6.1 3l-0.4 3l2.9 3l2.8 3l1.5 3l0.5 3l0 3l-0.3 3l-0.4 3l-0.4 3l-0.4 3l-0.4 3l-0.4 3l-0.7 3l-2 3l-3 3l2 3l7.2 3l2.9 3l-4.4 3l-7.6 3l-1.8 3l0.6 3l2.9 3l6.7 3l3.9 3l-2.5 3l-7.7 3l-4.5 3l4.5 3l4.7 3l-1.8 3l-5.6 3l-0.3 3l3 3l1.9 3l0.8 3l0.5 3l0.5 3l0.5 3l0.4 3l-0.2 3l0.1 3l0 3l-0.1 3l-0.8 3l-1.5 3l1.3 3l2.7 3l-0.6 3l-3.3 3l-0.4 3l1.4 3l0.5 3l0.2 3l0.2 3l0.2 3l0.2 3l0.1 3l0.1 3l0.1 3l0 3l-0.1 3l-0.1 3l-0.2 3l-0.2 3l-0.2 3l-0.2 3l-0.2 3l-0.1 3l-0.1 3l0 3l0 3l0.1 3l0.1 3l0.1 3l-0.1 3l-0.9 3l-0.5 3l3.1 3l1 3l-2.8 3l-1.4 3l1.2 3l0.4 3l-0.1 3l-0.1 3l-0.1 3l-0.1 3l0 3l0.1 3l0.1 3l0.2 3l0.2 3l0.2 3l0.2 3l0.2 3l0.2 3l0.1 3l0 3l-0.1 3l-0.3 3l-0.9 3l0.5 3l1.3 3l-0.9 3l-1.7 3l0.5 3l0.4 3l0.1 3l0 3l0.1 3l0.1 3l0.1 3l0.1 3l0.1 3l0.1 3l0 3l0 3l-0.1 3l-0.1 3l-0.2 3l-0.2 3l-0.2 3l-0.2 3l-0.1 3l-0.1 3l0 3l0 3l0.1 3l0.2 3l0.2 3l0.2 3l0.2 3l0.2 3l0.1 3l0.1 3l0 3l0 3l-0.1 3l-0.1 3l-0.1 3l-0.1 3l-0.1 3l-0.1 3l0 3l0 3l0 3l-0.4 3l-1.6 3l-0.4 3l4.7 3l2.3 3l-3 3l-3.8 3l1.5 3l1.4 3l0.2 3l-0.1 3l-0.2 3l-0.2 3l-0.2 3l0.1 2M1134.5 1l6.9 3l3.9 3l-2.6 3l-6.5 3l-8.7 3l-2.2 3l2.6 3l2.9 3l1.5 3l0.3 3l-0.2 3l-0.3 3l-0.2 3l-0.1 3l0 3l0.2 3l0.3 3l0.4 3l0.4 3l0.4 3l0.2 3l-0.3 3l-2 3l-3.3 3l1.3 3l7.4 3l3 3l-5.6 3l-8.9 3l0.1 3l4.8 3l2.2 3l0 3l0.3 3l0.8 3l1.2 3l-0.8 3l-2.5 3l0.2 3l1.9 3l1.5 3l0.6 3l0.1 3l-0.2 3l-0.3 3l-0.4 3l-0.8 3l-0.2 3l-0.2 3l-0.2 3l-0.4 3l-1.1 3l-1.8 3l0.4 3l4.3 3l2.8 3l-1.1 3l-3.7 3l-2.5 3l1.4 3l1.5 3l0.5 3l0 3l-0.2 3l-0.2 3l-0.2 3l-0.2 3l-0.1 3l-0.1 3l0 3l0 3l0.1 3l0.2 3l0.2 3l0.2 3l0.2 3l0.2 3l0.2 3l0.1 3l0.1 3l0 3l-0.1 3l-0.1 3l-0.1 3l-0.1 3l-0.1 3l-0.1 3l-0.1 3l0 3l0 3l0.1 3l0.1 3l0.1 3l0.2 3l0.2 3l0.1 3l0.1 3l0 3l0 3l-0.1 3l-0.1 3l-0.2 3l-0.2 3l-0.2 3l-0.2 3l-0.2 3l-0.1 3l-0.1 3l0 3l0.1 3l0 3l-0.3 3l-0.6 3l1.2 3l1.8 3l-0.3 3l-1.9 3l-0.1 3l0.8 3l0.2 3l-0.1 3l-0.1 3l-0.1 3l-0.1 3l-0.1 3l0 3l0 3l0.1 3l0.1 3l0.2 3l0.2 3l0.2 3l0.2 3l0.2 3l0.1 3l0.1 3l0 3l-0.1 3l-0.1 3l-0.2 3l-0.2 3l-0.2 3l-0.2 3l-0.2 3l-0.1 3l-0.1 3l0 3l0.1 3l0.1 3l0.1 3l0.1 3l0.1 3l0.1 3l0.1 3l0 3l-0.1 3l-0.1 3l-0.2 3l-0.2 3l-0.2 3l-0.2 3l-0.2 3l-0.1 3l-0.1 3l0 3l0.1 3l0.1 3l0.7 2M1170.4 1l4 3l3.2 3l1.1 3l-2.3 3l-3.9 3l-2.4 3l0.7 3l1.1 3l0.4 3l-0.2 3l-0.3 3l-0.5 3l-0.9 3l0.7 3l1.7 3l-0.5 3l-1.9 3l-1.5 3l-3 3l2.8 3l7.8 3l1.1 3l-6.4 3l-3.5 3l5.2 3l5.5 3l-1.9 3l-5.8 3l-3.4 3l1.6 3l2.2 3l1.1 3l0.4 3l0.3 3l0.3 3l0.4 3l0.4 3l0.4 3l0.3 3l0.2 3l0.1 3l0 3l-0.2 3l-0.3 3l-0.4 3l-0.5 3l-0.4 3l-0.2 3l-0.2 3l-0.1 3l-0.1 3l0 3l0 3l0.1 3l0.1 3l0.2 3l0.2 3l0.1 3l0.1 3l0.1 3l0 3l0 3l-0.1 3l-0.1 3l-0.1 3l-0.1 3l-0.1 3l-0.1 3l0 3l0 3l0.1 3l0.1 3l0.2 3l0.2 3l0.2 3l0.2 3l0.2 3l0.1 3l0.1 3l0 3l0 3l-0.1 3l-0.1 3l-0.2 3l-0.2 3l-0.2 3l-0.1 3l-0.1 3l0 3l0 3l0.1 3l0.1 3l0.1 3l0.1 3l0.1 3l0.1 3l0 3l-0.5 3l-0.2 3l1.4 3l-0.7 3l-1.4 3l0.4 3l0 3l-0.2 3l-0.1 3l-0.1 3l0 3l0 3l0.1 3l0.2 3l0.2 3l0.2 3l0.2 3l0.2 3l0.1 3l0.1 3l0 3l0 3l-0.1 3l-0.1 3l-0.1 3l-0.1 3l-0.1 3l-0.1 3l0 3l0 3l0.1 3l0.1 3l0.2 3l0.2 3l0.2 3l0.2 3l0.1 3l0.1 3l0 3l-0.1 3l-0.1 3l-0.2 3l-0.2 3l-0.2 3l-0.2 3l-0.2 3l-0.2 3l-0.1 3l0 3l0 3l0.1 3l0.1 3l0.1 3l0.1 3l0.1 3l0.1 3l0.1 3l0 3l0 3l-0.1 3l-0.1 3l-0.2 3l-0.2 3l-0.1 3l-0.1 3l-0.1 3l0 3l0.1 3l0.1 3l0.2 3l0.4 2M1206.5 1l4.8 3l5.6 3l3 3l-2 3l-4.7 3l-4.7 3l0.8 3l2.4 3l1.4 3l0.3 3l-0.2 3l-0.6 3l-1.6 3l-3.2 3l-0.7 3l7 3l4.9 3l-2.5 3l-8.6 3l-4.7 3l7.6 3l7.9 3l1 3l-4.8 3l-4.3 3l1.5 3l0.3 3l-1.7 3l0.3 3l4.4 3l3.2 3l0.1 3l-3.6 3l-5.1 3l-1.9 3l1.7 3l2 3l1.1 3l0.5 3l0.4 3l0.3 3l0.2 3l0.1 3l0 3l-0.1 3l-0.2 3l-0.4 3l-0.2 3l-0.2 3l-0.2 3l-0.2 3l-0.1 3l-0.1 3l0 3l0.1 3l0.1 3l0.2 3l0.2 3l0.2 3l0.2 3l0.2 3l0.1 3l0.1 3l0 3l0 3l-0.1 3l-0.1 3l-0.1 3l-0.1 3l-0.1 3l-0.1 3l0 3l0 3l0.1 3l0.1 3l0.2 3l0.2 3l0.2 3l0.1 3l0.1 3l0.1 3l0 3l-0.1 3l-0.2 3l-0.6 3l-0.6 3l0.8 3l0.6 3l-0.9 3l-1.3 3l0.2 3l0.4 3l0.1 3l0.1 3l0.1 3l0.2 3l0.2 3l0.1 3l0.1 3l0.1 3l0 3l0 3l-0.1 3l-0.1 3l-0.1 3l-0.1 3l-0.1 3l-0.1 3l-0.1 3l0 3l0.1 3l0.1 3l0.2 3l0.2 3l0.2 3l0.2 3l0.2 3l0.1 3l0.1 3l0 3l0 3l-0.1 3l-0.1 3l-0.2 3l-0.2 3l-0.2 3l-0.1 3l-0.1 3l-0.1 3l0 3l0 3l0.1 3l0.1 3l0.1 3l0.1 3l0.1 3l0.1 3l0 3l-0.5 3l-1.4 3l0.3 3l2.8 3l-0.2 3l-3.2 3l-0.8 3l0.4 3l0 3l2.3 3l0.2 3l-2.2 3l0.3 3l1 3l0.4 3l0.2 3l0.2 3l0.1 3l0.1 3l0 3l-0.6 3l-1.2 3l2 3l1.4 3l-2.1 3l-1.7 3l1.1 3l0.4 3l0.1 3l0.3 2M1246.9 1l4 3l7.6 3l3.8 3l-3.7 3l-7.8 3l-5.3 3l2.4 3l3.3 3l1.2 3l2 3l1.3 3l-1.4 3l-1 3l-1 3l-3 3l-1.8 3l5.3 3l5.7 3l1.9 3l-4.6 3l-8.1 3l-5 3l0.1 3l3.1 3l6.6 3l4.5 3l0 3l-4.9 3l-6.2 3l2.8 3l6.1 3l2.4 3l-2.3 3l-3.5 3l0.7 3l1.4 3l0.4 3l-0.2 3l-0.3 3l-0.2 3l-0.1 3l0 3l0.1 3l0.2 3l0.3 3l0.4 3l-0.1 3l0.2 3l0.1 3l0.1 3l0 3l0 3l-0.1 3l-0.2 3l-0.4 3l-1.2 3l0.9 3l1.4 3l-1.8 3l-1.1 3l0.9 3l0.2 3l0.1 3l0.1 3l0.1 3l0.1 3l0.1 3l0.1 3l0.1 3l0 3l0 3l-0.1 3l-0.1 3l-0.1 3l-0.2 3l-0.2 3l-0.1 3l-0.1 3l0 3l0 3l-0.3 3l-0.3 3l1.4 3l0.8 3l-0.9 3l-0.4 3l0.8 3l0.3 3l0.1 3l0 3l0 3l-0.1 3l-0.1 3l-0.2 3l-0.2 3l-0.2 3l-0.1 3l-0.1 3l0 3l0 3l0.1 3l0.1 3l0.1 3l0.1 3l0.1 3l0.1 3l0 3l0 3l-0.1 3l-0.1 3l-0.2 3l-0.2 3l-0.2 3l-0.2 3l-0.2 3l-0.1 3l-0.1 3l0 3l0.1 3l0.1 3l0.2 3l0.2 3l0.2 3l0.2 3l0.2 3l0.1 3l0.1 3l0 3l0 3l-0.1 3l-0.1 3l-0.1 3l-0.1 3l-0.1 3l-0.1 3l0 3l0 3l0.1 3l0.1 3l0.2 3l0.2 3l0.2 3l0.2 3l0.1 3l0.1 3l0 3l-0.1 3l-0.1 3l-0.2 3l-0.2 3l-0.2 3l-0.2 3l-0.2 3l-0.1 3l-0.1 3l0 3l0 3l0.1 3l0.1 3l0.1 3l0.1 3l0.1 3l0.1 3l0 3l0 3l-0.1 3l-0.1 3l0 2M1294 1l4.7 3l2.2 3l-2.5 3l-4.9 3l-3.8 3l0.9 3l2 3l1 3l0.2 3l-0.1 3l-0.2 3l-0.1 3l0 3l-0.2 3l-1.5 3l-2.5 3l3.4 3l5.4 3l-2.3 3l-6.5 3l2.6 3l5 3l-4.7 3l-3.1 3l5.3 3l2.9 3l-6.6 3l-4.7 3l6.5 3l4.4 3l-3.9 3l-5.8 3l2 3l5.4 3l1.3 3l-3.4 3l-2.3 3l2.3 3l1.9 3l0.6 3l0.1 3l-0.1 3l-0.2 3l-0.3 3l-0.4 3l-0.4 3l0.3 3l-0.2 3l-0.1 3l0 3l0 3l0.1 3l0.1 3l0.2 3l0.2 3l0.2 3l0.2 3l0.2 3l0.1 3l0.1 3l0 3l0 3l-0.1 3l-0.1 3l-0.1 3l-0.1 3l-0.1 3l-0.1 3l0 3l0 3l0.1 3l0.1 3l0.1 3l0.2 3l0.2 3l0.1 3l0.1 3l0 3l0 3l-0.1 3l-0.1 3l-0.2 3l-0.2 3l-0.2 3l-0.2 3l-0.2 3l-0.1 3l-0.1 3l0 3l0 3l0.1 3l0.1 3l0.2 3l0.2 3l0.1 3l0.1 3l0.1 3l0 3l0 3l-0.1 3l-0.1 3l-0.1 3l-0.1 3l-0.1 3l-0.1 3l0 3l0 3l0 3l-0.1 3l-0.5 3l-0.4 3l1.6 3l1.7 3l0.2 3l-1.3 3l-1.3 3l0.6 3l0.6 3l0.1 3l-0.1 3l-0.2 3l-0.2 3l-0.2 3l-0.2 3l-0.1 3l-0.1 3l0 3l0 3l0.1 3l0.1 3l0.1 3l0.1 3l0.1 3l0.1 3l0 3l0 3l-0.1 3l-0.4 3l-1.4 3l0.8 3l2.4 3l-1.9 3l-2.2 3l1.1 3l-0.3 3l-0.5 3l2 3l1.5 3l-0.9 3l-1.8 3l0.6 3l1 3l0.4 3l0.1 3l0 3l0 3l-0.1 3l-0.1 3l-0.1 3l-0.1 3l-0.1 3l-0.1 3l0 3l0 3l0.1 3l0.1 3l0.2 3l-0.1 2M1330.2 1l8.2 3l4.6 3l-2.8 3l-7.4 3l-9.1 3l1.6 3l5.6 3l2.6 3l-0.5 3l0.4 3l0.9 3l0.2 3l-0.2 3l-0.3 3l-0.5 3l-1.1 3l-2.4 3l-2.8 3l2.1 3l5.9 3l2.1 3l-5 3l-8.2 3l0.1 3l8.3 3l4.7 3l-2.6 3l-5.5 3l-1 3l6.4 3l5.2 3l-0.6 3l-4.1 3l-5.1 3l0.2 3l1.9 3l1.2 3l0.3 3l0 3l0 3l0.1 3l0.2 3l0.3 3l0.3 3l0.3 3l-0.2 3l-1.5 3l1.9 3l1.5 3l-1.7 3l-1.8 3l0.8 3l0.2 3l-0.2 3l-0.2 3l-0.2 3l-0.2 3l-0.1 3l0 3l0 3l0.1 3l0.1 3l0.2 3l0.2 3l0.2 3l0.1 3l0.1 3l0 3l0 3l-0.1 3l-0.1 3l-0.1 3l-0.1 3l-0.1 3l-0.1 3l-0.1 3l0 3l0.1 3l0.1 3l0.2 3l0.2 3l0.2 3l0.2 3l0.2 3l0.1 3l0.1 3l0 3l0 3l-0.1 3l-0.1 3l-0.2 3l-0.2 3l-0.2 3l-0.2 3l-0.1 3l-0.1 3l0 3l0 3l0.1 3l0.1 3l0.1 3l-0.1 3l-0.6 3l1.3 3l0.8 3l-1.6 3l-0.2 3l0.4 3l-0.4 3l-1 3l0.6 3l1.6 3l-0.4 3l-2 3l-0.1 3l0.8 3l0.3 3l0.2 3l0.2 3l0.2 3l0.2 3l0.2 3l0.2 3l0.1 3l0 3l0 3l-0.1 3l-0.1 3l-0.1 3l-0.1 3l-0.1 3l-0.1 3l-0.1 3l0 3l0 3l0.1 3l0.1 3l0.2 3l0.2 3l0.2 3l0.1 3l0.1 3l0 3l0 3l-0.1 3l-0.2 3l-0.2 3l-0.2 3l-0.2 3l-0.2 3l-0.2 3l-0.1 3l-0.1 3l0 3l0.1 3l0.1 3l0.1 3l0.2 3l0.2 3l0.1 3l0.1 3l0 3l0 3l-0.1 3l-0.1 3l-0.1 3l-0.1 3l0.2 2M1367.1 1l9.1 3l6.8 3l1.6 3l-5.2 3l-8.3 3l-5.7 3l2 3l4.1 3l2.7 3l1.1 3l0.2 3l-0.1 3l-0.3 3l-0.4 3l-0.5 3l-0.6 3l-1 3l-2.6 3l-3.2 3l3.2 3l6.4 3l-0.9 3l-9.9 3l-6.1 3l13 3l10.9 3l-1.3 3l-9.7 3l-7.5 3l2.1 3l2.1 3l2.4 3l4.9 3l2.4 3l-2.9 3l-6.1 3l-1.7 3l5.6 3l3.5 3l-2.5 3l-4.7 3l0.9 3l2.8 3l1.5 3l0.6 3l0.4 3l-0.8 3l0 3l0 3l-0.1 3l-0.1 3l-0.2 3l-0.2 3l-0.2 3l-0.3 3l-0.8 3l-1.1 3l2.6 3l0.4 3l-2.8 3l0.6 3l0.9 3l0.2 3l0.1 3l0.1 3l0.1 3l0 3l0 3l-0.1 3l-0.1 3l-0.2 3l-0.2 3l-0.2 3l-0.1 3l-0.1 3l0 3l0 3l0.1 3l0 3l-0.3 3l-0.6 3l1 3l2.2 3l0.6 3l-1.4 3l-1.7 3l0.4 3l0.1 3l-0.2 3l1.2 3l1 3l-0.3 3l-1.5 3l-1.1 3l0.5 3l0.5 3l0.2 3l0.1 3l0.1 3l0.1 3l0.1 3l0.1 3l0.1 3l0 3l0 3l-0.1 3l-0.1 3l-0.2 3l-0.2 3l-0.2 3l-0.3 3l-0.8 3l-1 3l1.6 3l1.5 3l-1.1 3l-2 3l0.8 3l0.9 3l0.3 3l0 3l-0.8 3l0.3 3l2.5 3l-0.7 3l-2.4 3l0.7 3l0.5 3l-0.1 3l-0.1 3l-0.1 3l0 3l0 3l0.1 3l0.1 3l0.2 3l0.2 3l0.2 3l0.2 3l0.2 3l0.1 3l0.1 3l0 3l-0.1 3l-0.1 3l-0.2 3l-0.2 3l-0.2 3l-0.2 3l-0.2 3l-0.1 3l-0.1 3l0 3l0 3l0.1 3l0.1 3l0.1 3l0.1 3l0.1 3l0.1 3l-0.2 3l-0.6 3l1.1 3l0.3 3l-1.6 3l-0.1 3l0.3 3l0.6 2M1410.5 1l3.2 3l2.7 3l1 3l-1.7 3l-2.9 3l-1.6 3l1.1 3l1.5 3l0.8 3l0.2 3l-0.1 3l-0.5 3l-0.9 3l-1.9 3l-2.9 3l-1.5 3l3.9 3l4.8 3l0.7 3l-5.7 3l-1.8 3l3.7 3l3 3l-4.9 3l-7.8 3l4.4 3l9.2 3l4.1 3l-2.3 3l-5.4 3l-2.1 3l1.4 3l0 3l-1.9 3l-0.3 3l4.6 3l3.6 3l0.2 3l-3.5 3l-4.6 3l0 3l2.4 3l1.8 3l0.8 3l0.3 3l0.1 3l-0.9 3l-0.1 3l-0.2 3l-0.3 3l-0.6 3l-0.6 3l0.6 3l0.7 3l-0.2 3l-1.1 3l-0.7 3l0.5 3l0.4 3l0.2 3l0 3l-0.7 3l-0.9 3l2.4 3l2.2 3l-1.1 3l-2.9 3l0 3l1.1 3l0.2 3l-0.3 3l-0.6 3l0.3 3l1 3l0.1 3l-0.9 3l-0.5 3l0.6 3l0.5 3l0.3 3l0.2 3l0.2 3l0.1 3l0.1 3l0 3l-0.1 3l-0.1 3l-0.2 3l-0.2 3l-0.2 3l-0.2 3l-0.2 3l-0.1 3l-0.1 3l0 3l0 3l0.1 3l0.1 3l-0.1 3l-0.9 3l0.4 3l2.5 3l-0.4 3l-2.5 3l0.4 3l0.7 3l0 3l-0.2 3l-0.2 3l-0.2 3l-0.1 3l-0.1 3l0 3l0.1 3l0.1 3l0.2 3l0.2 3l0.2 3l0.2 3l0.2 3l0.1 3l0.1 3l0 3l0 3l-0.1 3l-0.1 3l-0.1 3l-0.1 3l-0.1 3l-0.1 3l0 3l0 3l0.1 3l0.1 3l0.1 3l0.2 3l0.2 3l0.1 3l0.1 3l0.1 3l0 3l-0.1 3l-0.1 3l-0.2 3l-0.2 3l-0.2 3l-0.2 3l-0.2 3l-0.2 3l-0.1 3l0 3l0 3l0.1 3l0.1 3l0.2 3l0.2 3l0.2 3l0.1 3l0.1 3l0 3l0 3l-0.1 3l-0.1 3l-0.1 3l-0.1 3l-0.1 3l-0.1 3l0.5 2M1454.4 1l3.8 3l2.6 3l0.2 3l-2.7 3l-4 3l-3 3l0.5 3l1.7 3l1.3 3l0.8 3l0.5 3l0.4 3l0.3 3l-0.2 3l-1.2 3l-1 3l3.2 3l2.9 3l-0.4 3l-3.6 3l-3.4 3l0.7 3l0.8 3l-0.5 3l-1.8 3l-3 3l-1.7 3l4 3l6.3 3l3.7 3l-2.2 3l-6.8 3l-7.2 3l5.4 3l6.6 3l-0.3 3l-5.3 3l-0.6 3l3.7 3l1.4 3l-1.3 3l-1.6 3l0.3 3l0.3 3l0.1 3l0.1 3l0.8 3l0.2 3l0.2 3l0.2 3l0.2 3l0.2 3l0.2 3l0.1 3l0.1 3l0 3l-0.1 3l-0.1 3l-0.2 3l-0.2 3l-0.2 3l-0.2 3l-0.1 3l-0.1 3l0 3l0 3l0.1 3l0.1 3l0.1 3l0.1 3l0.1 3l0.1 3l0 3l0 3l-0.1 3l-0.1 3l-0.2 3l-0.2 3l-0.2 3l-0.2 3l-0.2 3l-0.1 3l0 3l0 3l0.1 3l0.1 3l0.2 3l0.2 3l0.2 3l0.2 3l0.2 3l0.1 3l0 3l0 3l-0.1 3l-0.1 3l-0.1 3l-0.1 3l-0.1 3l-0.1 3l0 3l0 3l0.1 3l0.1 3l0.2 3l0.2 3l0.2 3l0.2 3l0.1 3l0.1 3l0 3l0 3l-0.1 3l-0.1 3l-0.2 3l-0.4 3l-1.1 3l-1 3l2.7 3l0.9 3l-2.7 3l-1.1 3l1.3 3l0.5 3l0.2 3l0.1 3l0.1 3l0.1 3l0.1 3l0 3l0 3l-0.1 3l-0.1 3l-0.1 3l-0.2 3l-0.2 3l-0.1 3l-0.1 3l0 3l0 3l0.1 3l0.1 3l0.2 3l0.2 3l0.2 3l0.2 3l0.2 3l0.1 3l0.1 3l0 3l0 3l-0.1 3l-0.1 3l-0.2 3l-0.2 3l-0.2 3l-0.1 3l-0.1 3l0 3l0 3l0.1 3l0.1 3l0.1 3l0.1 3l0.1 3l0.1 3l0 3l-0.6 2M1494.4 1l4.1 3l2.6 3l-0.5 3l-3.6 3l-5.7 3l-0.4 3l3.9 3l0.4 3l-2.5 3l0.6 3l1.2 3l0.3 3l0.2 3l0.3 3l0.3 3l0.2 3l-0.4 3l-2.4 3l-5 3l-1.7 3l10.8 3l8.5 3l-1.7 3l-11.3 3l-7.1 3l4.6 3l3 3l-4 3l-1.5 3l4.2 3l2.8 3l0.2 3l-1.4 3l-0.5 3l1.1 3l0.9 3l0.5 3l0.3 3l0.1 3l0 3l-0.1 3l-0.2 3l-0.3 3l-0.3 3l-0.3 3l-0.2 3l0.4 3l0 3l0 3l0.1 3l0.3 2.6M1531.6 1l3.7 3l3.2 3l1 3l-1.9 3l-3.2 3l-0.6 3l1.7 3l1.5 3l0.6 3l0.1 3l-0.1 3l-0.3 3l-0.3 3l-0.4 3l-0.8 3l-1.7 3l-2.1 3l1.4 3l4.7 3l1.2 3l-6.6 3l-7.3 3l9.9 3l10.5 3l-3.2 3l-11.7 3l-0.8 3l4.8 3l0.7 3l-2.9 3l-0.3 3l5.8 3l0.5 3l-6.8 3l-1.5 3l5.6 3l0.6 3l-5.5 3l-0.5 3l3.1 3l1.6 3l0.6 3l0.4 3l0.3 3l-0.1 1.6M1570.4 1l2.5 3l4.3 3l2.3 3l-1.7 3l-3.9 3l-2.9 3l1.6 3l2.4 3l1.5 3l0.7 3l0.4 3l0.1 3l-0.1 3l-0.8 3l-2 3l-2.5 3l0.7 3l5 3l2.9 3l-2.9 3l-9.1 3l-6.7 3l11.3 3l10 3l-2.8 3l-10.8 3l-2 3l5.2 3l2.9 3l0.5 3l-0.7 3l-1.7 3l-1.6 3l1.3 3l3.6 3l2.2 3l-1 3l-3.5 3l-4.3 3l-0.5 3l5.7 1.6" fill="none" stroke-width="1.2"/></g></g><g id="trmain"><g clip-path="url(#trclip)"><g stroke="#000" stroke-width="2.3" stroke-dasharray="6 11"><line x1="150.3" y1="12" x2="150.3" y2="199.6" stroke-dashoffset="4" stroke-width="2.2" stroke-dasharray="2.5 22"/><line x1="187.8" y1="12" x2="187.8" y2="139.6" stroke-dashoffset="3"/><line x1="229.8" y1="12" x2="229.8" y2="179.6" stroke-dashoffset="9" stroke-width="2.2" stroke-dasharray="2.5 22"/><line x1="268.5" y1="12" x2="268.5" y2="504" stroke-dashoffset="8"/><line x1="307.3" y1="12" x2="307.3" y2="287.6" stroke-dashoffset="0" stroke-width="2.2" stroke-dasharray="2.5 22"/><line x1="328.8" y1="12" x2="328.8" y2="142.6" stroke-dashoffset="2" stroke-width="2.2" stroke-dasharray="2.5 22"/><line x1="369.8" y1="12" x2="369.8" y2="295.6" stroke-dashoffset="1"/><line x1="409.4" y1="12" x2="409.4" y2="504" stroke-dashoffset="9" stroke-width="2.2" stroke-dasharray="2.5 22"/><line x1="447.8" y1="12" x2="447.8" y2="335.6" stroke-dashoffset="6"/><line x1="488.8" y1="12" x2="488.8" y2="504" stroke-dashoffset="8"/><line x1="529.8" y1="12" x2="529.8" y2="504" stroke-dashoffset="9"/><line x1="570.8" y1="12" x2="570.8" y2="504" stroke-dashoffset="7" stroke-width="2.2" stroke-dasharray="2.5 22"/><line x1="610.8" y1="12" x2="610.8" y2="504" stroke-dashoffset="7"/><line x1="650.3" y1="12" x2="650.3" y2="474.6" stroke-dashoffset="5" stroke-width="2.2" stroke-dasharray="2.5 22"/><line x1="690.8" y1="12" x2="690.8" y2="504" stroke-dashoffset="5"/><line x1="731.8" y1="12" x2="731.8" y2="504" stroke-dashoffset="9" stroke-width="2.2" stroke-dasharray="2.5 22"/><line x1="770.8" y1="12" x2="770.8" y2="504" stroke-dashoffset="10"/><line x1="811.8" y1="12" x2="811.8" y2="504" stroke-dashoffset="6" stroke-width="2.2" stroke-dasharray="2.5 22"/><line x1="852.8" y1="12" x2="852.8" y2="504" stroke-dashoffset="5"/><line x1="893.2" y1="12" x2="893.2" y2="504" stroke-dashoffset="6"/><line x1="933.2" y1="12" x2="933.2" y2="153.6" stroke-dashoffset="1" stroke-width="2.2" stroke-dasharray="2.5 22"/><line x1="973.2" y1="12" x2="973.2" y2="504" stroke-dashoffset="1" stroke-width="2.2" stroke-dasharray="2.5 22"/><line x1="1013.2" y1="12" x2="1013.2" y2="504" stroke-dashoffset="6"/><line x1="1053.2" y1="12" x2="1053.2" y2="504" stroke-dashoffset="1" stroke-width="2.2" stroke-dasharray="2.5 22"/><line x1="1093.2" y1="12" x2="1093.2" y2="504" stroke-dashoffset="1"/><line x1="1134.4" y1="12" x2="1134.4" y2="504" stroke-dashoffset="5" stroke-width="2.2" stroke-dasharray="2.5 22"/><line x1="1174.4" y1="12" x2="1174.4" y2="504" stroke-dashoffset="9"/><line x1="1214.4" y1="12" x2="1214.4" y2="504" stroke-dashoffset="5" stroke-width="2.2" stroke-dasharray="2.5 22"/><line x1="1254.8" y1="12" x2="1254.8" y2="504" stroke-dashoffset="9"/><line x1="1295.3" y1="12" x2="1295.3" y2="504" stroke-dashoffset="8" stroke-width="2.2" stroke-dasharray="2.5 22"/><line x1="1334.8" y1="12" x2="1334.8" y2="504" stroke-dashoffset="4"/><line x1="1375.3" y1="12" x2="1375.3" y2="504" stroke-dashoffset="5" stroke-width="2.2" stroke-dasharray="2.5 22"/><line x1="1415.3" y1="12" x2="1415.3" y2="504" stroke-dashoffset="6"/><line x1="1456.8" y1="12" x2="1456.8" y2="504" stroke-dashoffset="6" stroke-width="2.2" stroke-dasharray="2.5 22"/><line x1="1495.8" y1="12" x2="1495.8" y2="153.6" stroke-dashoffset="0"/><line x1="1537.3" y1="12" x2="1537.3" y2="134.6" stroke-dashoffset="4" stroke-width="2.2" stroke-dasharray="2.5 22"/><line x1="1576.8" y1="12" x2="1576.8" y2="122.6" stroke-dashoffset="3"/></g>
<path d="M149.5 7.2l11.1 3.9l-11.1 9.1zM149.5 22l15.8 2.9l-15.8 6.7zM149.5 77.2l13.8 2.3l-13.8 5.4zM149.5 101.8l5.6 1.7l-5.6 4zM187 5.9l9.8 3.3l-9.8 7.6zM187 22l18.9 2.7l-18.9 6.3zM229 5l13.4 3.4l-13.4 8zM229 35.5l7.9 2.4l-7.9 5.6zM229 108.3l8 2.2l-8 5.2zM229 132.3l5.2 1.7l-5.2 3.9zM229 168l6.2 1.7l-6.2 3.9zM267.7 7.3l11.4 3.8l-11.4 8.9zM267.7 22l7.5 2.5l-7.5 5.7zM267.7 41.5l7.7 1.8l-7.7 4.3zM267.7 92.5l9.4 2.3l-9.4 5.5zM267.7 203.2l4.8 2.2l-4.8 5.2zM267.7 258.8l7.6 2.3l-7.6 5.5zM267.7 288.3l5.4 2.4l-5.4 5.5zM306.5 7.4l7.3 3.4l-7.3 8zM306.5 58.5l16.4 3l-16.4 7zM306.5 69.8l12 2.1l-12 4.9zM306.5 111.6l7 2.6l-7 6zM306.5 200.3l4.4 1.9l-4.4 4.3zM306.5 260.3l17.9 3.2l-17.9 7.4zM328 6.6l12.8 3.2l-12.8 7.4zM328 55.4l17.4 2.9l-17.4 6.9zM328 67.6l7.1 1.9l-7.1 4.4zM328 105.9l6.9 2.2l-6.9 5.1zM369 8.2l10.5 3.9l-10.5 9zM369 22l12.3 1.8l-12.3 4.2zM369 207.6l5.8 2.4l-5.8 5.6zM369 230.4l8.4 2.4l-8.4 5.7zM369 263.2l12.4 2.8l-12.4 6.6zM408.6 6.8l13.8 3.5l-13.8 8.2zM408.6 34.5l7.5 1.9l-7.5 4.4zM408.6 85.3l4.4 2.1l-4.4 5zM408.6 107l4.9 2.2l-4.9 5.1zM408.6 145l7.7 2.1l-7.7 4.9zM408.6 258.3l3.1 1.9l-3.1 4.5zM408.6 296.5l15.1 3.2l-15.1 7.4zM408.6 310.2l15.5 3.2l-15.5 7.4zM408.6 381.9l11.8 2l-11.8 4.7zM408.6 415.6l4 1.7l-4 4.1zM408.6 444.1l4.9 2.1l-4.9 4.9zM447 8.9l13.1 3.1l-13.1 7.2zM447 49.6l3.5 1.7l-3.5 3.9zM447 85.8l4 2.5l-4 5.8zM447 124.5l10.8 2.4l-10.8 5.6zM447 170l7.2 1.8l-7.2 4.3zM447 203.6l5.6 1.7l-5.6 3.9zM488 7.9l13.9 3l-13.9 7.1zM488 33.8l6.2 2.3l-6.2 5.3zM488 137.3l6.7 1.9l-6.7 4.4zM488 158.9l4.9 1.7l-4.9 4.1zM488 237l6.8 1.7l-6.8 4zM488 266.1l3.8 2.1l-3.8 5zM488 290.6l10.5 2.2l-10.5 5.1zM488 367.9l4.9 2.5l-4.9 5.9zM488 394.4l13.7 1.7l-13.7 4zM529 5.6l8.4 3.4l-8.4 7.9zM529 60.5l3.6 2.1l-3.6 5zM529 173.7l3.1 1.7l-3.1 3.9zM529 254.8l12.8 2.1l-12.8 4.9zM529 319.6l11.6 1.9l-11.6 4.5zM529 419.5l7.6 2.2l-7.6 5.2zM570 8.7l15.3 3.4l-15.3 7.9zM570 91.7l7 2.2l-7 5.1zM570 194.6l6.9 1.7l-6.9 4zM570 226.9l3.7 2.4l-3.7 5.6zM570 439.6l8 2l-8 4.7zM570 485.1l3.6 2.3l-3.6 5.3zM610 8.2l7.2 3.3l-7.2 7.7zM610 22l5.9 2.2l-5.9 5.2zM610 274.7l12.9 1.8l-12.9 4.2zM610 313.2l3.9 1.9l-3.9 4.3zM610 342.1l4.8 2.3l-4.8 5.3zM610 379l5.7 2.2l-5.7 5zM610 395.3l6.4 2.4l-6.4 5.7zM610 417.4l5.5 2.6l-5.5 6zM610 482.7l6.3 2.3l-6.3 5.4zM649.5 7.8l7.1 3.2l-7.1 7.5zM649.5 33.7l12.8 1.9l-12.8 4.3zM649.5 100.9l4.6 2.6l-4.6 6zM649.5 144.1l6.4 2.4l-6.4 5.5zM649.5 195.3l3.4 2.6l-3.4 6zM649.5 304.6l4.7 2.3l-4.7 5.4zM649.5 445.4l4.2 2.2l-4.2 5.2zM690 6.8l9.4 3.7l-9.4 8.6zM690 106.6l7.1 2.1l-7.1 4.9zM690 194.6l3.2 2.2l-3.2 5.1zM690 222.9l7.7 1.7l-7.7 4zM690 276.2l7.5 2.6l-7.5 6zM690 344.5l10 2.2l-10 5.1zM690 366.4l9.8 2.3l-9.8 5.3zM731 8.2l14.8 3.2l-14.8 7.4zM731 67.9l4.5 2l-4.5 4.6zM731 118.5l9.8 2.1l-9.8 5zM731 184.9l10.1 2.1l-10.1 4.9zM731 232.4l8.3 1.8l-8.3 4.1zM731 287.4l7.7 2.1l-7.7 4.9zM731 324.6l6.3 2.4l-6.3 5.7zM731 428.8l4.4 1.9l-4.4 4.4zM731 456.1l6.8 1.9l-6.8 4.4zM770 7l10.5 3.1l-10.5 7.3zM770 130.3l16.3 2.5l-16.3 5.9zM770 143.2l14.9 2.8l-14.9 6.5zM770 153.4l15.8 2.9l-15.8 6.7zM770 168.7l3.1 2.1l-3.1 5zM770 354.1l6.8 2.6l-6.8 6.1zM770 386.1l7.5 1.8l-7.5 4.2zM770 419l8 2.4l-8 5.6zM811 7.3l16 3.9l-16 9zM811 37.4l13.6 1.9l-13.6 4.3zM811 58.7l4.2 2.4l-4.2 5.7zM811 111.2l15.4 2.9l-15.4 6.8zM811 204.9l6.9 1.8l-6.9 4.2zM811 413.6l6.1 1.8l-6.1 4.2zM811 453.4l6.7 2.3l-6.7 5.4zM852 7l8.1 3.9l-8.1 9.1zM852 104.6l22.1 2.6l-22.1 6.1zM852 120.1l13.5 1.9l-13.5 4.5zM852 166.9l4.6 2l-4.6 4.7zM852 228.4l4.1 1.7l-4.1 4zM852 258l5.3 2.1l-5.3 4.9zM852 323.9l4.3 1.9l-4.3 4.4zM852 428.1l9.2 2l-9.2 4.8zM852 446.3l4.7 2.3l-4.7 5.4zM892.4 5.5l32.7 3l-32.7 7.1zM892.4 22l6.5 1.8l-6.5 4.1zM892.4 79.5l19.6 3.1l-19.6 7.2zM892.4 91.9l19.7 3l-19.7 7zM892.4 103.8l19.7 3.1l-19.7 7.3zM892.4 249.6l3.6 1.7l-3.6 3.9zM892.4 296.2l5.4 2l-5.4 4.7zM892.4 466.4l7.5 2l-7.5 4.6zM932.4 7.2l14.2 3.2l-14.2 7.4zM932.4 68.7l13.7 2.2l-13.7 5.1zM932.4 94.1l13.6 2.9l-13.6 6.7zM932.4 104.5l21.9 2.4l-21.9 5.5zM972.4 8.4l21.2 3.4l-21.2 7.9zM972.4 35l4.6 2.4l-4.6 5.5zM972.4 74l23.9 2.6l-23.9 6.1zM972.4 84.4l23.6 2.6l-23.6 6zM972.4 95.7l13 2.4l-13 5.7zM972.4 107.5l18.3 2.5l-18.3 5.7zM972.4 166.1l3.3 2.2l-3.3 5.2zM972.4 396.2l11.2 2.1l-11.2 4.9zM972.4 416.2l4.6 2.2l-4.6 5.1zM1012.4 9l19.6 3l-19.6 7.1zM1012.4 72.7l16.7 2.9l-16.7 6.7zM1012.4 87.4l19.4 3.1l-19.4 7.2zM1012.4 102.5l16.7 3.2l-16.7 7.5zM1012.4 117.3l13.9 2.4l-13.9 5.6zM1012.4 229.7l4.6 2.3l-4.6 5.3zM1052.4 7.6l14 3.2l-14 7.5zM1052.4 79.7l28.5 2.5l-28.5 5.9zM1052.4 94.5l11.5 2.9l-11.5 6.8zM1052.4 123.6l10.5 2.4l-10.5 5.6zM1052.4 260.3l12.2 2.4l-12.2 5.7zM1052.4 403.4l6.3 2.2l-6.3 5zM1092.4 8.3l27.3 3.7l-27.3 8.6zM1092.4 71.4l21.3 2.6l-21.3 6zM1092.4 94l24.5 3.2l-24.5 7.6zM1092.4 107.4l20.6 2.7l-20.6 6.3zM1092.4 163.2l8.4 2.2l-8.4 5.1zM1092.4 257.3l7.8 2l-7.8 4.7zM1092.4 330.8l4.3 1.9l-4.3 4.5zM1092.4 473.6l12.5 2.2l-12.5 5.2zM1133.6 5.6l35.3 3.7l-35.3 8.7zM1133.6 80.9l25.1 2.7l-25.1 6.3zM1133.6 95.1l13.8 3.2l-13.8 7.4zM1133.6 105.7l13.7 3.2l-13.7 7.6zM1133.6 168.4l13.6 2.8l-13.6 6.5zM1133.6 346l5.1 2.2l-5.1 5.1zM1173.6 7.9l14.4 3.3l-14.4 7.6zM1173.6 45.8l4.3 1.9l-4.3 4.5zM1173.6 65.3l27.8 2.6l-27.8 6zM1173.6 77.1l21.8 3.2l-21.8 7.4zM1173.6 301.1l3.3 1.7l-3.3 3.9zM1213.6 8.6l22 3.3l-22 7.7zM1213.6 51.5l22.2 2.6l-22.2 6.1zM1213.6 67.4l18.3 2.5l-18.3 5.8zM1213.6 94.4l18.1 3.3l-18.1 7.6zM1213.6 264.2l3.3 2.2l-3.3 5zM1213.6 427.6l7.8 2.1l-7.8 4.8zM1213.6 445.8l5.5 1.9l-5.5 4.4zM1213.6 485.9l6.5 1.9l-6.5 4.4zM1254 8.8l29.1 3l-29.1 7.1zM1254 32.8l3.9 1.8l-3.9 4.1zM1254 56.2l25.4 3.1l-25.4 7.2zM1254 79.1l18.9 3.1l-18.9 7.1zM1254 94.6l12.5 2.6l-12.5 6.2zM1254 174.2l5 1.7l-5 4zM1254 251.6l3.2 1.9l-3.2 4.5zM1294.5 5.2l20.2 3.3l-20.2 7.7zM1294.5 55.5l19.3 2.4l-19.3 5.5zM1294.5 66.7l22.5 2.7l-22.5 6.2zM1294.5 77l33.5 2.5l-33.5 5.7zM1294.5 88.9l18.9 3.2l-18.9 7.5zM1294.5 102.8l15.9 2.6l-15.9 6.1zM1294.5 340.3l5.5 2.6l-5.5 6zM1294.5 423.6l6.9 1.8l-6.9 4.1zM1294.5 444.2l5.7 2.2l-5.7 5.2zM1334 6l33.7 3.3l-33.7 7.7zM1334 22l4.8 2.2l-4.8 5.1zM1334 62.6l20.3 2.8l-20.3 6.5zM1334 78.4l19.4 3l-19.4 7zM1334 92.9l19.7 3.2l-19.7 7.6zM1334 147l5.8 1.9l-5.8 4.5zM1334 314.6l3.6 1.7l-3.6 4zM1334 337.2l5 2.1l-5 4.9zM1374.5 7.5l36 3.5l-36 8.2zM1374.5 64.9l22.3 2.5l-22.3 5.9zM1374.5 78.5l35.9 2.8l-35.9 6.4zM1374.5 102.6l16.8 3l-16.8 7.1zM1374.5 116l17.4 2.7l-17.4 6.2zM1374.5 176l6.3 1.7l-6.3 4zM1374.5 250.9l5.9 2.5l-5.9 5.7zM1374.5 274l4.7 2.6l-4.7 6.1zM1374.5 345.4l5.8 2.1l-5.8 4.9zM1374.5 373.1l5.7 1.8l-5.7 4.2zM1374.5 491.3l3.1 1.7l-3.1 4zM1414.5 7.8l12.5 3.3l-12.5 7.7zM1414.5 56.8l22.2 3.3l-22.2 7.7zM1414.5 68.1l25.8 2.5l-25.8 5.7zM1414.5 83.9l17.1 2.7l-17.1 6.4zM1414.5 112.3l17.2 3l-17.2 7zM1414.5 163.2l3.3 2.5l-3.3 5.8zM1414.5 195.6l7.9 2.2l-7.9 5.2zM1414.5 223.6l3.1 2.3l-3.1 5.5zM1414.5 307.3l6 1.9l-6 4.5zM1456 7.3l16 3.6l-16 8.4zM1456 55.2l12 2.6l-12 6.1zM1456 90l24.3 3.3l-24.3 7.7zM1456 105.4l15.5 2.4l-15.5 5.5zM1456 119.6l4.2 2.1l-4.2 5zM1456 359.3l7.3 2l-7.3 4.6zM1495 6.5l15.9 3.5l-15.9 8.2zM1495 22l7.9 2l-7.9 4.7zM1495 67.4l40.3 2.9l-40.3 6.7zM1495 78.8l17.2 2.4l-17.2 5.6zM1495 94l5.3 2.5l-5.3 5.8zM1536.5 7.6l12.9 3.1l-12.9 7.3zM1536.5 59.8l15.6 2.8l-15.6 6.4zM1536.5 72.4l34.7 2.4l-34.7 5.6zM1536.5 98.6l19.8 2.4l-19.8 5.6zM1536.5 108.7l18.2 2.3l-18.2 5.5zM1576 8.8l16.5 3.1l-16.5 7.2zM1576 57.6l19 3.1l-19 7.1zM1576 72.4l34 2.5l-34 5.8zM1576 108.5l15.1 3.3l-15.1 7.6z" fill="#000"/></g></g></defs>
<polyline points="147.3,38.2 187.3,52 227.3,58.9 267.3,74.2 367,75.3 407,79.3 447,97.5 538,103.6 570,108 610,109.3 650,106 730,106 770,102 810,106 850,107.3 930,102.7 970,96.7 1010,95.3 1050,92 1090,93.3 1130,92 1170,94.7 1217,94.7 1290,98 1330,100.7 1370,98 1410,96 1450,96 1490,94.7 1530,90.7 1573,89.3" fill="none" stroke="#3333ff" stroke-width="1.6"/>
<text transform="translate(46 46.5) scale(1.120 1)" class="sst">SST</text>
<text transform="translate(154.5 28.3)" class="sst">---</text>
<text transform="translate(199 28.3) scale(1.010 1)" class="sst">15°C</text>
<text transform="translate(154.5 107.3)" class="sst">---</text>
<text transform="translate(199 107.3) scale(1.010 1)" class="sst">12°C</text>
<polygon points="330,15.6 341,15.6 341,40.7 351,40.7 335.5,68 319,40.7 330,40.7" fill="#0000ff"/>
<rect x="127" y="132.4" width="40" height="10.7" fill="#ff1e00"/>
<rect x="127" y="142.7" width="40" height="10.7" fill="#ff2a00"/>
<rect x="127" y="153" width="40" height="10.7" fill="#ff4200"/>
<rect x="127" y="163.3" width="40" height="10.7" fill="#ff5f00"/>
<rect x="127" y="173.5" width="40" height="10.7" fill="#ff6700"/>
<rect x="127" y="183.8" width="40" height="10.7" fill="#ff7700"/>
<rect x="127" y="194.1" width="40" height="21" fill="#ff8700"/>
<rect x="127" y="214.7" width="40" height="21" fill="#ff9000"/>
<rect x="127" y="235.3" width="40" height="31.3" fill="#ff9900"/>
<rect x="127" y="266.1" width="40" height="6.3" fill="#ff9000"/>
<rect x="167" y="132.4" width="40" height="10.7" fill="#ff4e00"/>
<rect x="167" y="142.7" width="40" height="10.7" fill="#ff5f00"/>
<rect x="167" y="153" width="40" height="10.7" fill="#ff8700"/>
<rect x="167" y="163.3" width="40" height="10.7" fill="#ff9900"/>
<rect x="167" y="173.5" width="40" height="21" fill="#ffa200"/>
<rect x="167" y="194.1" width="40" height="10.7" fill="#ff9900"/>
<rect x="167" y="204.4" width="40" height="10.7" fill="#ffab00"/>
<rect x="167" y="214.7" width="40" height="21" fill="#ffa200"/>
<rect x="167" y="235.3" width="40" height="31.3" fill="#ffab00"/>
<rect x="167" y="266.1" width="40" height="6.3" fill="#ffa200"/>
<rect x="207" y="132.4" width="40" height="10.7" fill="#ff6700"/>
<rect x="207" y="142.7" width="40" height="10.7" fill="#ff7e00"/>
<rect x="207" y="153" width="40" height="10.7" fill="#ff9900"/>
<rect x="207" y="163.3" width="40" height="21" fill="#ffa200"/>
<rect x="207" y="183.8" width="40" height="31.3" fill="#ffab00"/>
<rect x="207" y="214.7" width="40" height="21" fill="#ffa200"/>
<rect x="207" y="235.3" width="40" height="10.7" fill="#ffab00"/>
<rect x="207" y="245.5" width="40" height="10.7" fill="#ffa200"/>
<rect x="207" y="255.8" width="40" height="21" fill="#ffab00"/>
<rect x="207" y="276.4" width="40" height="10.7" fill="#ffa200"/>
<rect x="207" y="286.7" width="40" height="25.7" fill="#ffab00"/>
<rect x="247" y="132.4" width="40" height="10.7" fill="#ffa200"/>
<rect x="247" y="142.7" width="40" height="10.7" fill="#ff9900"/>
<rect x="247" y="153" width="40" height="21" fill="#ffa200"/>
<rect x="247" y="173.5" width="40" height="10.7" fill="#ff9900"/>
<rect x="247" y="183.8" width="40" height="10.7" fill="#ffab00"/>
<rect x="247" y="194.1" width="40" height="21" fill="#ffa200"/>
<rect x="247" y="214.7" width="40" height="21" fill="#ffab00"/>
<rect x="247" y="235.3" width="40" height="51.8" fill="#ffb400"/>
<rect x="247" y="286.7" width="40" height="82.7" fill="#ffbc00"/>
<rect x="247" y="369" width="40" height="10.7" fill="#ffe900"/>
<rect x="247" y="379.3" width="40" height="10.7" fill="#eeff10"/>
<rect x="247" y="389.5" width="40" height="10.7" fill="#ddff23"/>
<rect x="247" y="399.8" width="40" height="10.7" fill="#afff4b"/>
<rect x="247" y="410.1" width="40" height="10.7" fill="#9bff56"/>
<rect x="247" y="420.4" width="40" height="10.7" fill="#85ff6b"/>
<rect x="247" y="430.7" width="40" height="10.7" fill="#66ff8a"/>
<rect x="247" y="441" width="40" height="10.7" fill="#57ff99"/>
<rect x="247" y="451.3" width="40" height="10.7" fill="#47ffac"/>
<rect x="247" y="461.5" width="40" height="10.7" fill="#37ffc2"/>
<rect x="247" y="471.8" width="40" height="10.7" fill="#31ffca"/>
<rect x="247" y="482.1" width="40" height="10.7" fill="#25ffdb"/>
<rect x="247" y="492.4" width="40" height="10.7" fill="#13ffed"/>
<rect x="247" y="502.7" width="40" height="21" fill="#0cfff4"/>
<rect x="247" y="523.3" width="40" height="10.7" fill="#00f6ff"/>
<rect x="247" y="533.5" width="40" height="10.7" fill="#00efff"/>
<rect x="247" y="543.8" width="40" height="10.7" fill="#00e7ff"/>
<rect x="247" y="554.1" width="40" height="10.7" fill="#00dbff"/>
<rect x="247" y="564.4" width="40" height="21" fill="#00c3ff"/>
<rect x="247" y="585" width="40" height="31.3" fill="#00b7ff"/>
<rect x="247" y="615.8" width="40" height="10.7" fill="#00acff"/>
<rect x="247" y="626.1" width="40" height="10.7" fill="#00a2ff"/>
<rect x="287" y="132.4" width="31" height="21" fill="#ffab00"/>
<rect x="287" y="153" width="31" height="21" fill="#ffa200"/>
<rect x="287" y="173.5" width="31" height="10.7" fill="#ffb400"/>
<rect x="287" y="183.8" width="31" height="10.7" fill="#ffc500"/>
<rect x="287" y="194.1" width="31" height="41.5" fill="#fffa00"/>
<rect x="287" y="235.3" width="31" height="41.5" fill="#fcff03"/>
<rect x="287" y="276.4" width="31" height="31.3" fill="#fffa00"/>
<rect x="287" y="307.3" width="31" height="31.3" fill="#fcff03"/>
<rect x="287" y="338.1" width="31" height="10.7" fill="#f5ff09"/>
<rect x="287" y="348.4" width="31" height="10.7" fill="#fffa00"/>
<rect x="287" y="358.7" width="31" height="31.3" fill="#fcff03"/>
<rect x="287" y="389.5" width="31" height="10.7" fill="#9bff56"/>
<rect x="287" y="399.8" width="31" height="10.7" fill="#8dff63"/>
<rect x="287" y="410.1" width="31" height="10.3" fill="#7cff74"/>
<rect x="318" y="132.4" width="29" height="10.7" fill="#ffa200"/>
<rect x="318" y="142.7" width="29" height="41.5" fill="#ffab00"/>
<rect x="318" y="183.8" width="29" height="10.7" fill="#ffc500"/>
<rect x="318" y="194.1" width="29" height="10.7" fill="#fffa00"/>
<rect x="318" y="204.4" width="29" height="51.8" fill="#fcff03"/>
<rect x="318" y="255.8" width="29" height="19.6" fill="#fffa00"/>
<rect x="347" y="132.4" width="41" height="10.7" fill="#ffb400"/>
<rect x="347" y="142.7" width="41" height="10.7" fill="#ffbc00"/>
<rect x="347" y="153" width="41" height="10.7" fill="#ffc500"/>
<rect x="347" y="163.3" width="41" height="10.7" fill="#ffce00"/>
<rect x="347" y="173.5" width="41" height="21" fill="#ffd700"/>
<rect x="347" y="194.1" width="41" height="10.7" fill="#ffe000"/>
<rect x="347" y="204.4" width="41" height="10.7" fill="#fff100"/>
<rect x="347" y="214.7" width="41" height="51.8" fill="#fcff03"/>
<rect x="347" y="266.1" width="41" height="10.7" fill="#fffa00"/>
<rect x="347" y="276.4" width="41" height="21" fill="#f5ff09"/>
<rect x="347" y="297" width="41" height="21" fill="#fcff03"/>
<rect x="347" y="317.5" width="41" height="10.7" fill="#f5ff09"/>
<rect x="347" y="327.8" width="41" height="10.7" fill="#fcff03"/>
<rect x="347" y="338.1" width="41" height="21" fill="#f5ff09"/>
<rect x="347" y="358.7" width="41" height="31.3" fill="#fcff03"/>
<rect x="347" y="389.5" width="41" height="10.7" fill="#e6ff19"/>
<rect x="347" y="399.8" width="41" height="10.7" fill="#a7ff50"/>
<rect x="347" y="410.1" width="41" height="10.7" fill="#7cff74"/>
<rect x="347" y="420.4" width="41" height="8" fill="#85ff6b"/>
<rect x="388" y="132.4" width="41" height="10.7" fill="#ffbc00"/>
<rect x="388" y="142.7" width="41" height="10.7" fill="#ffc500"/>
<rect x="388" y="153" width="41" height="10.7" fill="#ffe000"/>
<rect x="388" y="163.3" width="41" height="10.7" fill="#ffe900"/>
<rect x="388" y="173.5" width="41" height="10.7" fill="#fff100"/>
<rect x="388" y="183.8" width="41" height="10.7" fill="#fffa00"/>
<rect x="388" y="194.1" width="41" height="31.3" fill="#fcff03"/>
<rect x="388" y="225" width="41" height="41.5" fill="#f5ff09"/>
<rect x="388" y="266.1" width="41" height="41.5" fill="#eeff10"/>
<rect x="388" y="307.3" width="41" height="21" fill="#f5ff09"/>
<rect x="388" y="327.8" width="41" height="10.7" fill="#eeff10"/>
<rect x="388" y="338.1" width="41" height="31.3" fill="#f5ff09"/>
<rect x="388" y="369" width="41" height="10.7" fill="#eeff10"/>
<rect x="388" y="379.3" width="41" height="10.7" fill="#e6ff19"/>
<rect x="388" y="389.5" width="41" height="10.7" fill="#c1ff3f"/>
<rect x="388" y="399.8" width="41" height="10.7" fill="#a1ff53"/>
<rect x="388" y="410.1" width="41" height="10.7" fill="#9bff56"/>
<rect x="388" y="420.4" width="41" height="10.7" fill="#95ff5b"/>
<rect x="388" y="430.7" width="41" height="10.7" fill="#71ff7f"/>
<rect x="388" y="441" width="41" height="10.7" fill="#47ffac"/>
<rect x="388" y="451.3" width="41" height="10.7" fill="#31ffca"/>
<rect x="388" y="461.5" width="41" height="10.7" fill="#1cffe4"/>
<rect x="388" y="471.8" width="41" height="10.7" fill="#13ffed"/>
<rect x="388" y="482.1" width="41" height="10.7" fill="#05fffa"/>
<rect x="388" y="492.4" width="41" height="21" fill="#00feff"/>
<rect x="388" y="513" width="41" height="10.7" fill="#00f6ff"/>
<rect x="388" y="523.3" width="41" height="10.7" fill="#00efff"/>
<rect x="388" y="533.5" width="41" height="10.7" fill="#00e7ff"/>
<rect x="388" y="543.8" width="41" height="21" fill="#00dbff"/>
<rect x="388" y="564.4" width="41" height="21" fill="#00cfff"/>
<rect x="388" y="585" width="41" height="10.7" fill="#00c3ff"/>
<rect x="388" y="595.3" width="41" height="10.7" fill="#00b7ff"/>
<rect x="388" y="605.5" width="41" height="21" fill="#00acff"/>
<rect x="388" y="626.1" width="41" height="10.7" fill="#00a2ff"/>
<rect x="429" y="132.4" width="39" height="31.3" fill="#f5ff09"/>
<rect x="429" y="163.3" width="39" height="21" fill="#fcff03"/>
<rect x="429" y="183.8" width="39" height="10.7" fill="#f5ff09"/>
<rect x="429" y="194.1" width="39" height="31.3" fill="#fcff03"/>
<rect x="429" y="225" width="39" height="41.5" fill="#f5ff09"/>
<rect x="429" y="266.1" width="39" height="10.7" fill="#fcff03"/>
<rect x="429" y="276.4" width="39" height="21" fill="#f5ff09"/>
<rect x="429" y="297" width="39" height="10.7" fill="#eeff10"/>
<rect x="429" y="307.3" width="39" height="31.3" fill="#e6ff19"/>
<rect x="429" y="338.1" width="39" height="10.7" fill="#ddff23"/>
<rect x="429" y="348.4" width="39" height="10.7" fill="#cfff31"/>
<rect x="429" y="358.7" width="39" height="10.7" fill="#c1ff3f"/>
<rect x="429" y="369" width="39" height="21" fill="#afff4b"/>
<rect x="429" y="389.5" width="39" height="10.7" fill="#a1ff53"/>
<rect x="429" y="399.8" width="39" height="31.3" fill="#9bff56"/>
<rect x="429" y="430.7" width="39" height="37.7" fill="#95ff5b"/>
<rect x="468" y="132.4" width="41" height="10.7" fill="#eeff10"/>
<rect x="468" y="142.7" width="41" height="31.3" fill="#f5ff09"/>
<rect x="468" y="173.5" width="41" height="51.8" fill="#eeff10"/>
<rect x="468" y="225" width="41" height="10.7" fill="#f5ff09"/>
<rect x="468" y="235.3" width="41" height="82.7" fill="#eeff10"/>
<rect x="468" y="317.5" width="41" height="10.7" fill="#ddff23"/>
<rect x="468" y="327.8" width="41" height="10.7" fill="#cfff31"/>
<rect x="468" y="338.1" width="41" height="10.7" fill="#c1ff3f"/>
<rect x="468" y="348.4" width="41" height="21" fill="#b8ff45"/>
<rect x="468" y="369" width="41" height="10.7" fill="#a7ff50"/>
<rect x="468" y="379.3" width="41" height="10.7" fill="#a1ff53"/>
<rect x="468" y="389.5" width="41" height="10.7" fill="#9bff56"/>
<rect x="468" y="399.8" width="41" height="10.7" fill="#95ff5b"/>
<rect x="468" y="410.1" width="41" height="10.7" fill="#85ff6b"/>
<rect x="468" y="420.4" width="41" height="10.7" fill="#7cff74"/>
<rect x="468" y="430.7" width="41" height="10.7" fill="#66ff8a"/>
<rect x="468" y="441" width="41" height="10.7" fill="#5dff93"/>
<rect x="468" y="451.3" width="41" height="10.7" fill="#50ffa0"/>
<rect x="468" y="461.5" width="41" height="10.7" fill="#3fffb7"/>
<rect x="468" y="471.8" width="41" height="10.7" fill="#31ffca"/>
<rect x="468" y="482.1" width="41" height="10.7" fill="#13ffed"/>
<rect x="468" y="492.4" width="41" height="10.7" fill="#0cfff4"/>
<rect x="468" y="502.7" width="41" height="10.7" fill="#00feff"/>
<rect x="468" y="513" width="41" height="10.7" fill="#00f6ff"/>
<rect x="468" y="523.3" width="41" height="10.7" fill="#00efff"/>
<rect x="468" y="533.5" width="41" height="10.7" fill="#00dbff"/>
<rect x="468" y="543.8" width="41" height="21" fill="#00cfff"/>
<rect x="468" y="564.4" width="41" height="10.7" fill="#00c3ff"/>
<rect x="468" y="574.7" width="41" height="31.3" fill="#00acff"/>
<rect x="468" y="605.5" width="41" height="31.3" fill="#00a2ff"/>
<rect x="509" y="132.4" width="41" height="31.3" fill="#f5ff09"/>
<rect x="509" y="163.3" width="41" height="10.7" fill="#eeff10"/>
<rect x="509" y="173.5" width="41" height="21" fill="#f5ff09"/>
<rect x="509" y="194.1" width="41" height="10.7" fill="#eeff10"/>
<rect x="509" y="204.4" width="41" height="21" fill="#f5ff09"/>
<rect x="509" y="225" width="41" height="10.7" fill="#eeff10"/>
<rect x="509" y="235.3" width="41" height="10.7" fill="#f5ff09"/>
<rect x="509" y="245.5" width="41" height="31.3" fill="#eeff10"/>
<rect x="509" y="276.4" width="41" height="10.7" fill="#e6ff19"/>
<rect x="509" y="286.7" width="41" height="10.7" fill="#cfff31"/>
<rect x="509" y="297" width="41" height="10.7" fill="#c1ff3f"/>
<rect x="509" y="307.3" width="41" height="10.7" fill="#b8ff45"/>
<rect x="509" y="317.5" width="41" height="10.7" fill="#afff4b"/>
<rect x="509" y="327.8" width="41" height="10.7" fill="#a7ff50"/>
<rect x="509" y="338.1" width="41" height="21" fill="#a1ff53"/>
<rect x="509" y="358.7" width="41" height="21" fill="#95ff5b"/>
<rect x="509" y="379.3" width="41" height="10.7" fill="#85ff6b"/>
<rect x="509" y="389.5" width="41" height="10.7" fill="#71ff7f"/>
<rect x="509" y="399.8" width="41" height="10.7" fill="#66ff8a"/>
<rect x="509" y="410.1" width="41" height="10.7" fill="#5dff93"/>
<rect x="509" y="420.4" width="41" height="10.7" fill="#50ffa0"/>
<rect x="509" y="430.7" width="41" height="21" fill="#37ffc2"/>
<rect x="509" y="451.3" width="41" height="10.7" fill="#2cffd3"/>
<rect x="509" y="461.5" width="41" height="10.7" fill="#1cffe4"/>
<rect x="509" y="471.8" width="41" height="10.7" fill="#05fffa"/>
<rect x="509" y="482.1" width="41" height="10.7" fill="#00feff"/>
<rect x="509" y="492.4" width="41" height="21" fill="#00f6ff"/>
<rect x="509" y="513" width="41" height="10.7" fill="#00e7ff"/>
<rect x="509" y="523.3" width="41" height="10.7" fill="#00dbff"/>
<rect x="509" y="533.5" width="41" height="21" fill="#00cfff"/>
<rect x="509" y="554.1" width="41" height="10.7" fill="#00c3ff"/>
<rect x="509" y="564.4" width="41" height="10.7" fill="#00b7ff"/>
<rect x="509" y="574.7" width="41" height="21" fill="#00acff"/>
<rect x="509" y="595.3" width="41" height="10.7" fill="#00a2ff"/>
<rect x="509" y="605.5" width="41" height="10.7" fill="#0099ff"/>
<rect x="509" y="615.8" width="41" height="21" fill="#0088ff"/>
<rect x="550" y="132.4" width="40" height="21" fill="#e6ff19"/>
<rect x="550" y="153" width="40" height="10.7" fill="#ddff23"/>
<rect x="550" y="163.3" width="40" height="31.3" fill="#e6ff19"/>
<rect x="550" y="194.1" width="40" height="10.7" fill="#ddff23"/>
<rect x="550" y="204.4" width="40" height="10.7" fill="#e6ff19"/>
<rect x="550" y="214.7" width="40" height="10.7" fill="#ddff23"/>
<rect x="550" y="225" width="40" height="21" fill="#e6ff19"/>
<rect x="550" y="245.5" width="40" height="10.7" fill="#ddff23"/>
<rect x="550" y="255.8" width="40" height="10.7" fill="#cfff31"/>
<rect x="550" y="266.1" width="40" height="10.7" fill="#c1ff3f"/>
<rect x="550" y="276.4" width="40" height="10.7" fill="#afff4b"/>
<rect x="550" y="286.7" width="40" height="10.7" fill="#a7ff50"/>
<rect x="550" y="297" width="40" height="10.7" fill="#a1ff53"/>
<rect x="550" y="307.3" width="40" height="10.7" fill="#9bff56"/>
<rect x="550" y="317.5" width="40" height="10.7" fill="#8dff63"/>
<rect x="550" y="327.8" width="40" height="10.7" fill="#85ff6b"/>
<rect x="550" y="338.1" width="40" height="10.7" fill="#7cff74"/>
<rect x="550" y="348.4" width="40" height="10.7" fill="#71ff7f"/>
<rect x="550" y="358.7" width="40" height="10.7" fill="#66ff8a"/>
<rect x="550" y="369" width="40" height="10.7" fill="#5dff93"/>
<rect x="550" y="379.3" width="40" height="10.7" fill="#57ff99"/>
<rect x="550" y="389.5" width="40" height="10.7" fill="#3fffb7"/>
<rect x="550" y="399.8" width="40" height="10.7" fill="#31ffca"/>
<rect x="550" y="410.1" width="40" height="10.7" fill="#25ffdb"/>
<rect x="550" y="420.4" width="40" height="10.7" fill="#13ffed"/>
<rect x="550" y="430.7" width="40" height="10.7" fill="#05fffa"/>
<rect x="550" y="441" width="40" height="10.7" fill="#00feff"/>
<rect x="550" y="451.3" width="40" height="10.7" fill="#00efff"/>
<rect x="550" y="461.5" width="40" height="10.7" fill="#00e7ff"/>
<rect x="550" y="471.8" width="40" height="10.7" fill="#00dbff"/>
<rect x="550" y="482.1" width="40" height="21" fill="#00c3ff"/>
<rect x="550" y="502.7" width="40" height="10.7" fill="#00b7ff"/>
<rect x="550" y="513" width="40" height="21" fill="#00a2ff"/>
<rect x="550" y="533.5" width="40" height="10.7" fill="#0099ff"/>
<rect x="550" y="543.8" width="40" height="10.7" fill="#0091ff"/>
<rect x="550" y="554.1" width="40" height="10.7" fill="#0088ff"/>
<rect x="550" y="564.4" width="40" height="10.7" fill="#007fff"/>
<rect x="550" y="574.7" width="40" height="31.3" fill="#0077ff"/>
<rect x="550" y="605.5" width="40" height="31.3" fill="#006eff"/>
<rect x="590" y="132.4" width="40" height="10.7" fill="#e6ff19"/>
<rect x="590" y="142.7" width="40" height="21" fill="#ddff23"/>
<rect x="590" y="163.3" width="40" height="10.7" fill="#cfff31"/>
<rect x="590" y="173.5" width="40" height="10.7" fill="#ddff23"/>
<rect x="590" y="183.8" width="40" height="10.7" fill="#cfff31"/>
<rect x="590" y="194.1" width="40" height="10.7" fill="#ddff23"/>
<rect x="590" y="204.4" width="40" height="41.5" fill="#cfff31"/>
<rect x="590" y="245.5" width="40" height="10.7" fill="#b8ff45"/>
<rect x="590" y="255.8" width="40" height="10.7" fill="#a7ff50"/>
<rect x="590" y="266.1" width="40" height="10.7" fill="#9bff56"/>
<rect x="590" y="276.4" width="40" height="10.7" fill="#95ff5b"/>
<rect x="590" y="286.7" width="40" height="21" fill="#8dff63"/>
<rect x="590" y="307.3" width="40" height="10.7" fill="#85ff6b"/>
<rect x="590" y="317.5" width="40" height="10.7" fill="#7cff74"/>
<rect x="590" y="327.8" width="40" height="10.7" fill="#5dff93"/>
<rect x="590" y="338.1" width="40" height="10.7" fill="#50ffa0"/>
<rect x="590" y="348.4" width="40" height="10.7" fill="#37ffc2"/>
<rect x="590" y="358.7" width="40" height="10.7" fill="#1cffe4"/>
<rect x="590" y="369" width="40" height="21" fill="#13ffed"/>
<rect x="590" y="389.5" width="40" height="10.7" fill="#00feff"/>
<rect x="590" y="399.8" width="40" height="10.7" fill="#00f6ff"/>
<rect x="590" y="410.1" width="40" height="21" fill="#00e7ff"/>
<rect x="590" y="430.7" width="40" height="10.7" fill="#00cfff"/>
<rect x="590" y="441" width="40" height="10.7" fill="#00c3ff"/>
<rect x="590" y="451.3" width="40" height="10.7" fill="#00b7ff"/>
<rect x="590" y="461.5" width="40" height="10.7" fill="#00acff"/>
<rect x="590" y="471.8" width="40" height="21" fill="#00a2ff"/>
<rect x="590" y="492.4" width="40" height="21" fill="#0099ff"/>
<rect x="590" y="513" width="40" height="10.7" fill="#0091ff"/>
<rect x="590" y="523.3" width="40" height="10.7" fill="#0088ff"/>
<rect x="590" y="533.5" width="40" height="10.7" fill="#007fff"/>
<rect x="590" y="543.8" width="40" height="21" fill="#0077ff"/>
<rect x="590" y="564.4" width="40" height="21" fill="#006eff"/>
<rect x="590" y="585" width="40" height="31.3" fill="#0065ff"/>
<rect x="590" y="615.8" width="40" height="21" fill="#005dff"/>
<rect x="630" y="132.4" width="40" height="10.7" fill="#e6ff19"/>
<rect x="630" y="142.7" width="40" height="10.7" fill="#cfff31"/>
<rect x="630" y="153" width="40" height="21" fill="#ddff23"/>
<rect x="630" y="173.5" width="40" height="10.7" fill="#cfff31"/>
<rect x="630" y="183.8" width="40" height="21" fill="#ddff23"/>
<rect x="630" y="204.4" width="40" height="21" fill="#cfff31"/>
<rect x="630" y="225" width="40" height="10.7" fill="#c1ff3f"/>
<rect x="630" y="235.3" width="40" height="10.7" fill="#a7ff50"/>
<rect x="630" y="245.5" width="40" height="10.7" fill="#a1ff53"/>
<rect x="630" y="255.8" width="40" height="10.7" fill="#9bff56"/>
<rect x="630" y="266.1" width="40" height="10.7" fill="#95ff5b"/>
<rect x="630" y="276.4" width="40" height="10.7" fill="#8dff63"/>
<rect x="630" y="286.7" width="40" height="10.7" fill="#7cff74"/>
<rect x="630" y="297" width="40" height="10.7" fill="#71ff7f"/>
<rect x="630" y="307.3" width="40" height="10.7" fill="#66ff8a"/>
<rect x="630" y="317.5" width="40" height="10.7" fill="#57ff99"/>
<rect x="630" y="327.8" width="40" height="10.7" fill="#3fffb7"/>
<rect x="630" y="338.1" width="40" height="10.7" fill="#25ffdb"/>
<rect x="630" y="348.4" width="40" height="10.7" fill="#13ffed"/>
<rect x="630" y="358.7" width="40" height="10.7" fill="#05fffa"/>
<rect x="630" y="369" width="40" height="10.7" fill="#00feff"/>
<rect x="630" y="379.3" width="40" height="10.7" fill="#00efff"/>
<rect x="630" y="389.5" width="40" height="10.7" fill="#00f6ff"/>
<rect x="630" y="399.8" width="40" height="21" fill="#00e7ff"/>
<rect x="630" y="420.4" width="40" height="10.7" fill="#00dbff"/>
<rect x="630" y="430.7" width="40" height="10.7" fill="#00cfff"/>
<rect x="630" y="441" width="40" height="10.7" fill="#00c3ff"/>
<rect x="630" y="451.3" width="40" height="31.3" fill="#00b7ff"/>
<rect x="630" y="482.1" width="40" height="10.7" fill="#00acff"/>
<rect x="630" y="492.4" width="40" height="21" fill="#00a2ff"/>
<rect x="630" y="513" width="40" height="10.7" fill="#0091ff"/>
<rect x="630" y="523.3" width="40" height="10.7" fill="#0099ff"/>
<rect x="630" y="533.5" width="40" height="73.9" fill="#0088ff"/>
<rect x="670" y="132.4" width="41" height="62.1" fill="#cfff31"/>
<rect x="670" y="194.1" width="41" height="21" fill="#c1ff3f"/>
<rect x="670" y="214.7" width="41" height="10.7" fill="#afff4b"/>
<rect x="670" y="225" width="41" height="10.7" fill="#a1ff53"/>
<rect x="670" y="235.3" width="41" height="10.7" fill="#95ff5b"/>
<rect x="670" y="245.5" width="41" height="10.7" fill="#8dff63"/>
<rect x="670" y="255.8" width="41" height="10.7" fill="#7cff74"/>
<rect x="670" y="266.1" width="41" height="10.7" fill="#71ff7f"/>
<rect x="670" y="276.4" width="41" height="10.7" fill="#5dff93"/>
<rect x="670" y="286.7" width="41" height="10.7" fill="#50ffa0"/>
<rect x="670" y="297" width="41" height="10.7" fill="#37ffc2"/>
<rect x="670" y="307.3" width="41" height="10.7" fill="#25ffdb"/>
<rect x="670" y="317.5" width="41" height="10.7" fill="#13ffed"/>
<rect x="670" y="327.8" width="41" height="10.7" fill="#05fffa"/>
<rect x="670" y="338.1" width="41" height="10.7" fill="#00feff"/>
<rect x="670" y="348.4" width="41" height="10.7" fill="#00f6ff"/>
<rect x="670" y="358.7" width="41" height="21" fill="#00e7ff"/>
<rect x="670" y="379.3" width="41" height="21" fill="#00dbff"/>
<rect x="670" y="399.8" width="41" height="10.7" fill="#00cfff"/>
<rect x="670" y="410.1" width="41" height="31.3" fill="#00b7ff"/>
<rect x="670" y="441" width="41" height="10.7" fill="#00acff"/>
<rect x="670" y="451.3" width="41" height="10.7" fill="#00a2ff"/>
<rect x="670" y="461.5" width="41" height="10.7" fill="#0099ff"/>
<rect x="670" y="471.8" width="41" height="21" fill="#0091ff"/>
<rect x="670" y="492.4" width="41" height="21" fill="#007fff"/>
<rect x="670" y="513" width="41" height="31.3" fill="#0077ff"/>
<rect x="670" y="543.8" width="41" height="10.7" fill="#0065ff"/>
<rect x="670" y="554.1" width="41" height="10.7" fill="#006eff"/>
<rect x="670" y="564.4" width="41" height="31.3" fill="#0065ff"/>
<rect x="670" y="595.3" width="41" height="10.7" fill="#005dff"/>
<rect x="670" y="605.5" width="41" height="10.7" fill="#0065ff"/>
<rect x="670" y="615.8" width="41" height="10.7" fill="#005dff"/>
<rect x="670" y="626.1" width="41" height="10.7" fill="#0054ff"/>
<rect x="711" y="132.4" width="41" height="41.5" fill="#ddff23"/>
<rect x="711" y="173.5" width="41" height="10.7" fill="#cfff31"/>
<rect x="711" y="183.8" width="41" height="10.7" fill="#ddff23"/>
<rect x="711" y="194.1" width="41" height="21" fill="#cfff31"/>
<rect x="711" y="214.7" width="41" height="10.7" fill="#b8ff45"/>
<rect x="711" y="225" width="41" height="10.7" fill="#afff4b"/>
<rect x="711" y="235.3" width="41" height="10.7" fill="#a7ff50"/>
<rect x="711" y="245.5" width="41" height="10.7" fill="#8dff63"/>
<rect x="711" y="255.8" width="41" height="10.7" fill="#7cff74"/>
<rect x="711" y="266.1" width="41" height="10.7" fill="#57ff99"/>
<rect x="711" y="276.4" width="41" height="10.7" fill="#37ffc2"/>
<rect x="711" y="286.7" width="41" height="10.7" fill="#1cffe4"/>
<rect x="711" y="297" width="41" height="10.7" fill="#05fffa"/>
<rect x="711" y="307.3" width="41" height="21" fill="#00feff"/>
<rect x="711" y="327.8" width="41" height="10.7" fill="#00f6ff"/>
<rect x="711" y="338.1" width="41" height="10.7" fill="#00e7ff"/>
<rect x="711" y="348.4" width="41" height="10.7" fill="#00dbff"/>
<rect x="711" y="358.7" width="41" height="10.7" fill="#00cfff"/>
<rect x="711" y="369" width="41" height="21" fill="#00c3ff"/>
<rect x="711" y="389.5" width="41" height="10.7" fill="#00cfff"/>
<rect x="711" y="399.8" width="41" height="10.7" fill="#00b7ff"/>
<rect x="711" y="410.1" width="41" height="10.7" fill="#00c3ff"/>
<rect x="711" y="420.4" width="41" height="10.7" fill="#00b7ff"/>
<rect x="711" y="430.7" width="41" height="21" fill="#00acff"/>
<rect x="711" y="451.3" width="41" height="10.7" fill="#00a2ff"/>
<rect x="711" y="461.5" width="41" height="31.3" fill="#0099ff"/>
<rect x="711" y="492.4" width="41" height="10.7" fill="#0091ff"/>
<rect x="711" y="502.7" width="41" height="31.3" fill="#0088ff"/>
<rect x="711" y="533.5" width="41" height="21" fill="#007fff"/>
<rect x="711" y="554.1" width="41" height="21" fill="#006eff"/>
<rect x="711" y="574.7" width="41" height="31.3" fill="#0065ff"/>
<rect x="711" y="605.5" width="41" height="21" fill="#005dff"/>
<rect x="711" y="626.1" width="41" height="10.7" fill="#0065ff"/>
<rect x="752" y="132.4" width="38" height="10.7" fill="#cfff31"/>
<rect x="752" y="142.7" width="38" height="21" fill="#ddff23"/>
<rect x="752" y="163.3" width="38" height="10.7" fill="#cfff31"/>
<rect x="752" y="173.5" width="38" height="21" fill="#ddff23"/>
<rect x="752" y="194.1" width="38" height="21" fill="#c1ff3f"/>
<rect x="752" y="214.7" width="38" height="10.7" fill="#afff4b"/>
<rect x="752" y="225" width="38" height="10.7" fill="#a1ff53"/>
<rect x="752" y="235.3" width="38" height="10.7" fill="#95ff5b"/>
<rect x="752" y="245.5" width="38" height="10.7" fill="#71ff7f"/>
<rect x="752" y="255.8" width="38" height="10.7" fill="#57ff99"/>
<rect x="752" y="266.1" width="38" height="10.7" fill="#37ffc2"/>
<rect x="752" y="276.4" width="38" height="10.7" fill="#25ffdb"/>
<rect x="752" y="286.7" width="38" height="10.7" fill="#00feff"/>
<rect x="752" y="297" width="38" height="21" fill="#00e7ff"/>
<rect x="752" y="317.5" width="38" height="10.7" fill="#00dbff"/>
<rect x="752" y="327.8" width="38" height="10.7" fill="#00cfff"/>
<rect x="752" y="338.1" width="38" height="10.7" fill="#00b7ff"/>
<rect x="752" y="348.4" width="38" height="21" fill="#00acff"/>
<rect x="752" y="369" width="38" height="10.7" fill="#00a2ff"/>
<rect x="752" y="379.3" width="38" height="51.8" fill="#0099ff"/>
<rect x="752" y="430.7" width="38" height="10.7" fill="#0091ff"/>
<rect x="752" y="441" width="38" height="10.7" fill="#0088ff"/>
<rect x="752" y="451.3" width="38" height="21" fill="#007fff"/>
<rect x="752" y="471.8" width="38" height="10.7" fill="#0077ff"/>
<rect x="752" y="482.1" width="38" height="41.5" fill="#006eff"/>
<rect x="752" y="523.3" width="38" height="10.7" fill="#005dff"/>
<rect x="752" y="533.5" width="38" height="31.3" fill="#0054ff"/>
<rect x="752" y="564.4" width="38" height="51.8" fill="#004bff"/>
<rect x="752" y="615.8" width="38" height="21" fill="#0054ff"/>
<rect x="790" y="132.4" width="40" height="10.7" fill="#ddff23"/>
<rect x="790" y="142.7" width="40" height="21" fill="#cfff31"/>
<rect x="790" y="163.3" width="40" height="31.3" fill="#ddff23"/>
<rect x="790" y="194.1" width="40" height="10.7" fill="#c1ff3f"/>
<rect x="790" y="204.4" width="40" height="10.7" fill="#afff4b"/>
<rect x="790" y="214.7" width="40" height="10.7" fill="#a1ff53"/>
<rect x="790" y="225" width="40" height="10.7" fill="#9bff56"/>
<rect x="790" y="235.3" width="40" height="10.7" fill="#71ff7f"/>
<rect x="790" y="245.5" width="40" height="10.7" fill="#47ffac"/>
<rect x="790" y="255.8" width="40" height="10.7" fill="#31ffca"/>
<rect x="790" y="266.1" width="40" height="10.7" fill="#13ffed"/>
<rect x="790" y="276.4" width="40" height="10.7" fill="#00f6ff"/>
<rect x="790" y="286.7" width="40" height="10.7" fill="#00dbff"/>
<rect x="790" y="297" width="40" height="10.7" fill="#00cfff"/>
<rect x="790" y="307.3" width="40" height="21" fill="#00c3ff"/>
<rect x="790" y="327.8" width="40" height="21" fill="#00acff"/>
<rect x="790" y="348.4" width="40" height="10.7" fill="#00a2ff"/>
<rect x="790" y="358.7" width="40" height="21" fill="#0099ff"/>
<rect x="790" y="379.3" width="40" height="10.7" fill="#0091ff"/>
<rect x="790" y="389.5" width="40" height="10.7" fill="#0099ff"/>
<rect x="790" y="399.8" width="40" height="21" fill="#0091ff"/>
<rect x="790" y="420.4" width="40" height="10.7" fill="#0088ff"/>
<rect x="790" y="430.7" width="40" height="10.7" fill="#007fff"/>
<rect x="790" y="441" width="40" height="10.7" fill="#0077ff"/>
<rect x="790" y="451.3" width="40" height="10.7" fill="#006eff"/>
<rect x="790" y="461.5" width="40" height="10.7" fill="#0077ff"/>
<rect x="790" y="471.8" width="40" height="10.7" fill="#006eff"/>
<rect x="790" y="482.1" width="40" height="10.7" fill="#0065ff"/>
<rect x="790" y="492.4" width="40" height="21" fill="#005dff"/>
<rect x="790" y="513" width="40" height="10.7" fill="#0054ff"/>
<rect x="790" y="523.3" width="40" height="21" fill="#004bff"/>
<rect x="790" y="543.8" width="40" height="10.7" fill="#0054ff"/>
<rect x="790" y="554.1" width="40" height="31.3" fill="#004bff"/>
<rect x="790" y="585" width="40" height="10.7" fill="#0054ff"/>
<rect x="790" y="595.3" width="40" height="10.7" fill="#004bff"/>
<rect x="790" y="605.5" width="40" height="10.7" fill="#0054ff"/>
<rect x="790" y="615.8" width="40" height="21" fill="#004bff"/>
<rect x="830" y="132.4" width="42" height="10.7" fill="#ddff23"/>
<rect x="830" y="142.7" width="42" height="10.7" fill="#e6ff19"/>
<rect x="830" y="153" width="42" height="10.7" fill="#ddff23"/>
<rect x="830" y="163.3" width="42" height="31.3" fill="#cfff31"/>
<rect x="830" y="194.1" width="42" height="10.7" fill="#b8ff45"/>
<rect x="830" y="204.4" width="42" height="10.7" fill="#a1ff53"/>
<rect x="830" y="214.7" width="42" height="10.7" fill="#95ff5b"/>
<rect x="830" y="225" width="42" height="10.7" fill="#66ff8a"/>
<rect x="830" y="235.3" width="42" height="10.7" fill="#37ffc2"/>
<rect x="830" y="245.5" width="42" height="10.7" fill="#13ffed"/>
<rect x="830" y="255.8" width="42" height="10.7" fill="#00efff"/>
<rect x="830" y="266.1" width="42" height="10.7" fill="#00dbff"/>
<rect x="830" y="276.4" width="42" height="10.7" fill="#00c3ff"/>
<rect x="830" y="286.7" width="42" height="10.7" fill="#00b7ff"/>
<rect x="830" y="297" width="42" height="31.3" fill="#00a2ff"/>
<rect x="830" y="327.8" width="42" height="10.7" fill="#0099ff"/>
<rect x="830" y="338.1" width="42" height="21" fill="#0091ff"/>
<rect x="830" y="358.7" width="42" height="21" fill="#0088ff"/>
<rect x="830" y="379.3" width="42" height="41.5" fill="#007fff"/>
<rect x="830" y="420.4" width="42" height="10.7" fill="#0088ff"/>
<rect x="830" y="430.7" width="42" height="10.7" fill="#007fff"/>
<rect x="830" y="441" width="42" height="51.8" fill="#0077ff"/>
<rect x="830" y="492.4" width="42" height="21" fill="#006eff"/>
<rect x="830" y="513" width="42" height="10.7" fill="#0065ff"/>
<rect x="830" y="523.3" width="42" height="10.7" fill="#006eff"/>
<rect x="830" y="533.5" width="42" height="10.7" fill="#0065ff"/>
<rect x="830" y="543.8" width="42" height="31.3" fill="#005dff"/>
<rect x="830" y="574.7" width="42" height="51.8" fill="#0065ff"/>
<rect x="830" y="626.1" width="42" height="10.7" fill="#005dff"/>
<rect x="872" y="132.4" width="40" height="10.7" fill="#ddff23"/>
<rect x="872" y="142.7" width="40" height="10.7" fill="#e6ff19"/>
<rect x="872" y="153" width="40" height="10.7" fill="#ddff23"/>
<rect x="872" y="163.3" width="40" height="10.7" fill="#cfff31"/>
<rect x="872" y="173.5" width="40" height="10.7" fill="#ddff23"/>
<rect x="872" y="183.8" width="40" height="10.7" fill="#cfff31"/>
<rect x="872" y="194.1" width="40" height="10.7" fill="#c1ff3f"/>
<rect x="872" y="204.4" width="40" height="10.7" fill="#afff4b"/>
<rect x="872" y="214.7" width="40" height="10.7" fill="#7cff74"/>
<rect x="872" y="225" width="40" height="10.7" fill="#31ffca"/>
<rect x="872" y="235.3" width="40" height="10.7" fill="#0cfff4"/>
<rect x="872" y="245.5" width="40" height="10.7" fill="#00e7ff"/>
<rect x="872" y="255.8" width="40" height="10.7" fill="#00cfff"/>
<rect x="872" y="266.1" width="40" height="21" fill="#00acff"/>
<rect x="872" y="286.7" width="40" height="10.7" fill="#0099ff"/>
<rect x="872" y="297" width="40" height="21" fill="#0091ff"/>
<rect x="872" y="317.5" width="40" height="10.7" fill="#0088ff"/>
<rect x="872" y="327.8" width="40" height="10.7" fill="#007fff"/>
<rect x="872" y="338.1" width="40" height="10.7" fill="#0077ff"/>
<rect x="872" y="348.4" width="40" height="21" fill="#007fff"/>
<rect x="872" y="369" width="40" height="10.7" fill="#0088ff"/>
<rect x="872" y="379.3" width="40" height="21" fill="#007fff"/>
<rect x="872" y="399.8" width="40" height="10.7" fill="#0088ff"/>
<rect x="872" y="410.1" width="40" height="10.7" fill="#0077ff"/>
<rect x="872" y="420.4" width="40" height="31.3" fill="#007fff"/>
<rect x="872" y="451.3" width="40" height="31.3" fill="#0077ff"/>
<rect x="872" y="482.1" width="40" height="10.7" fill="#0088ff"/>
<rect x="872" y="492.4" width="40" height="21" fill="#007fff"/>
<rect x="872" y="513" width="40" height="10.7" fill="#0088ff"/>
<rect x="872" y="523.3" width="40" height="10.7" fill="#006eff"/>
<rect x="872" y="533.5" width="40" height="10.7" fill="#0065ff"/>
<rect x="872" y="543.8" width="40" height="10.7" fill="#006eff"/>
<rect x="872" y="554.1" width="40" height="10.7" fill="#0065ff"/>
<rect x="872" y="564.4" width="40" height="10.7" fill="#005dff"/>
<rect x="872" y="574.7" width="40" height="10.7" fill="#0065ff"/>
<rect x="872" y="585" width="40" height="31.3" fill="#005dff"/>
<rect x="872" y="615.8" width="40" height="21" fill="#0065ff"/>
<rect x="912" y="132.4" width="40" height="21" fill="#e6ff19"/>
<rect x="912" y="153" width="40" height="10.7" fill="#cfff31"/>
<rect x="912" y="163.3" width="40" height="31.3" fill="#ddff23"/>
<rect x="912" y="194.1" width="40" height="10.7" fill="#c1ff3f"/>
<rect x="912" y="204.4" width="40" height="10.7" fill="#85ff6b"/>
<rect x="912" y="214.7" width="40" height="10.7" fill="#37ffc2"/>
<rect x="912" y="225" width="40" height="10.7" fill="#05fffa"/>
<rect x="912" y="235.3" width="40" height="10.7" fill="#00dbff"/>
<rect x="912" y="245.5" width="40" height="10.7" fill="#00b7ff"/>
<rect x="912" y="255.8" width="40" height="10.7" fill="#0091ff"/>
<rect x="912" y="266.1" width="40" height="20.3" fill="#0088ff"/>
<rect x="952" y="132.4" width="41" height="10.7" fill="#fff100"/>
<rect x="952" y="142.7" width="41" height="10.7" fill="#fffa00"/>
<rect x="952" y="153" width="41" height="10.7" fill="#f5ff09"/>
<rect x="952" y="163.3" width="41" height="10.7" fill="#eeff10"/>
<rect x="952" y="173.5" width="41" height="10.7" fill="#e6ff19"/>
<rect x="952" y="183.8" width="41" height="10.7" fill="#ddff23"/>
<rect x="952" y="194.1" width="41" height="10.7" fill="#cfff31"/>
<rect x="952" y="204.4" width="41" height="10.7" fill="#7cff74"/>
<rect x="952" y="214.7" width="41" height="10.7" fill="#37ffc2"/>
<rect x="952" y="225" width="41" height="10.7" fill="#0cfff4"/>
<rect x="952" y="235.3" width="41" height="10.7" fill="#00dbff"/>
<rect x="952" y="245.5" width="41" height="10.7" fill="#0091ff"/>
<rect x="952" y="255.8" width="41" height="10.7" fill="#007fff"/>
<rect x="952" y="266.1" width="41" height="10.7" fill="#006eff"/>
<rect x="952" y="276.4" width="41" height="41.5" fill="#0065ff"/>
<rect x="952" y="317.5" width="41" height="31.3" fill="#005dff"/>
<rect x="952" y="348.4" width="41" height="31.3" fill="#0054ff"/>
<rect x="952" y="379.3" width="41" height="21" fill="#004bff"/>
<rect x="952" y="399.8" width="41" height="51.8" fill="#0054ff"/>
<rect x="952" y="451.3" width="41" height="21" fill="#004bff"/>
<rect x="952" y="471.8" width="41" height="41.5" fill="#0042ff"/>
<rect x="952" y="513" width="41" height="41.5" fill="#003aff"/>
<rect x="952" y="554.1" width="41" height="21" fill="#0042ff"/>
<rect x="952" y="574.7" width="41" height="21" fill="#003aff"/>
<rect x="952" y="595.3" width="41" height="10.7" fill="#0042ff"/>
<rect x="952" y="605.5" width="41" height="21" fill="#003aff"/>
<rect x="952" y="626.1" width="41" height="10.7" fill="#0042ff"/>
<rect x="993" y="132.4" width="40" height="10.7" fill="#fff100"/>
<rect x="993" y="142.7" width="40" height="10.7" fill="#fffa00"/>
<rect x="993" y="153" width="40" height="10.7" fill="#f5ff09"/>
<rect x="993" y="163.3" width="40" height="21" fill="#eeff10"/>
<rect x="993" y="183.8" width="40" height="10.7" fill="#e6ff19"/>
<rect x="993" y="194.1" width="40" height="10.7" fill="#b8ff45"/>
<rect x="993" y="204.4" width="40" height="10.7" fill="#66ff8a"/>
<rect x="993" y="214.7" width="40" height="10.7" fill="#2cffd3"/>
<rect x="993" y="225" width="40" height="10.7" fill="#00feff"/>
<rect x="993" y="235.3" width="40" height="10.7" fill="#00cfff"/>
<rect x="993" y="245.5" width="40" height="10.7" fill="#00a2ff"/>
<rect x="993" y="255.8" width="40" height="10.7" fill="#0088ff"/>
<rect x="993" y="266.1" width="40" height="10.7" fill="#007fff"/>
<rect x="993" y="276.4" width="40" height="21" fill="#006eff"/>
<rect x="993" y="297" width="40" height="10.7" fill="#005dff"/>
<rect x="993" y="307.3" width="40" height="31.3" fill="#0054ff"/>
<rect x="993" y="338.1" width="40" height="10.7" fill="#0042ff"/>
<rect x="993" y="348.4" width="40" height="10.7" fill="#004bff"/>
<rect x="993" y="358.7" width="40" height="10.7" fill="#0042ff"/>
<rect x="993" y="369" width="40" height="21" fill="#003aff"/>
<rect x="993" y="389.5" width="40" height="51.8" fill="#0031ff"/>
<rect x="993" y="441" width="40" height="10.7" fill="#002bff"/>
<rect x="993" y="451.3" width="40" height="10.7" fill="#0026ff"/>
<rect x="993" y="461.5" width="40" height="21" fill="#002bff"/>
<rect x="993" y="482.1" width="40" height="31.3" fill="#0026ff"/>
<rect x="993" y="513" width="40" height="10.7" fill="#002bff"/>
<rect x="993" y="523.3" width="40" height="82.7" fill="#0026ff"/>
<rect x="993" y="605.5" width="40" height="10.7" fill="#002bff"/>
<rect x="993" y="615.8" width="40" height="21" fill="#0026ff"/>
<rect x="1033" y="132.4" width="40" height="10.7" fill="#ffe900"/>
<rect x="1033" y="142.7" width="40" height="10.7" fill="#ffe000"/>
<rect x="1033" y="153" width="40" height="10.7" fill="#fffa00"/>
<rect x="1033" y="163.3" width="40" height="10.7" fill="#fcff03"/>
<rect x="1033" y="173.5" width="40" height="10.7" fill="#eeff10"/>
<rect x="1033" y="183.8" width="40" height="10.7" fill="#e6ff19"/>
<rect x="1033" y="194.1" width="40" height="10.7" fill="#cfff31"/>
<rect x="1033" y="204.4" width="40" height="10.7" fill="#85ff6b"/>
<rect x="1033" y="214.7" width="40" height="10.7" fill="#25ffdb"/>
<rect x="1033" y="225" width="40" height="10.7" fill="#00f6ff"/>
<rect x="1033" y="235.3" width="40" height="10.7" fill="#00cfff"/>
<rect x="1033" y="245.5" width="40" height="10.7" fill="#0099ff"/>
<rect x="1033" y="255.8" width="40" height="21" fill="#0077ff"/>
<rect x="1033" y="276.4" width="40" height="41.5" fill="#006eff"/>
<rect x="1033" y="317.5" width="40" height="10.7" fill="#005dff"/>
<rect x="1033" y="327.8" width="40" height="10.7" fill="#0031ff"/>
<rect x="1033" y="338.1" width="40" height="10.7" fill="#0026ff"/>
<rect x="1033" y="348.4" width="40" height="31.3" fill="#0020ff"/>
<rect x="1033" y="379.3" width="40" height="10.7" fill="#001aff"/>
<rect x="1033" y="389.5" width="40" height="10.7" fill="#0020ff"/>
<rect x="1033" y="399.8" width="40" height="21" fill="#001aff"/>
<rect x="1033" y="420.4" width="40" height="21" fill="#0014ff"/>
<rect x="1033" y="441" width="40" height="21" fill="#001aff"/>
<rect x="1033" y="461.5" width="40" height="21" fill="#0014ff"/>
<rect x="1033" y="482.1" width="40" height="21" fill="#001aff"/>
<rect x="1033" y="502.7" width="40" height="21" fill="#0014ff"/>
<rect x="1033" y="523.3" width="40" height="21" fill="#001aff"/>
<rect x="1033" y="543.8" width="40" height="21" fill="#0014ff"/>
<rect x="1033" y="564.4" width="40" height="10.7" fill="#001aff"/>
<rect x="1033" y="574.7" width="40" height="10.7" fill="#0014ff"/>
<rect x="1033" y="585" width="40" height="10.7" fill="#001aff"/>
<rect x="1033" y="595.3" width="40" height="10.7" fill="#0014ff"/>
<rect x="1033" y="605.5" width="40" height="10.7" fill="#001aff"/>
<rect x="1033" y="615.8" width="40" height="10.7" fill="#0014ff"/>
<rect x="1033" y="626.1" width="40" height="10.7" fill="#001aff"/>
<rect x="1073" y="132.4" width="40" height="31.3" fill="#fffa00"/>
<rect x="1073" y="163.3" width="40" height="10.7" fill="#fcff03"/>
<rect x="1073" y="173.5" width="40" height="10.7" fill="#eeff10"/>
<rect x="1073" y="183.8" width="40" height="21" fill="#e6ff19"/>
<rect x="1073" y="204.4" width="40" height="10.7" fill="#85ff6b"/>
<rect x="1073" y="214.7" width="40" height="10.7" fill="#31ffca"/>
<rect x="1073" y="225" width="40" height="10.7" fill="#00feff"/>
<rect x="1073" y="235.3" width="40" height="10.7" fill="#00cfff"/>
<rect x="1073" y="245.5" width="40" height="10.7" fill="#00a2ff"/>
<rect x="1073" y="255.8" width="40" height="10.7" fill="#0088ff"/>
<rect x="1073" y="266.1" width="40" height="21" fill="#006eff"/>
<rect x="1073" y="286.7" width="40" height="10.7" fill="#0065ff"/>
<rect x="1073" y="297" width="40" height="21" fill="#005dff"/>
<rect x="1073" y="317.5" width="40" height="10.7" fill="#004bff"/>
<rect x="1073" y="327.8" width="40" height="10.7" fill="#0042ff"/>
<rect x="1073" y="338.1" width="40" height="10.7" fill="#0031ff"/>
<rect x="1073" y="348.4" width="40" height="10.7" fill="#002bff"/>
<rect x="1073" y="358.7" width="40" height="10.7" fill="#0020ff"/>
<rect x="1073" y="369" width="40" height="51.8" fill="#001aff"/>
<rect x="1073" y="420.4" width="40" height="21" fill="#0014ff"/>
<rect x="1073" y="441" width="40" height="10.7" fill="#001aff"/>
<rect x="1073" y="451.3" width="40" height="21" fill="#0014ff"/>
<rect x="1073" y="471.8" width="40" height="21" fill="#001aff"/>
<rect x="1073" y="492.4" width="40" height="31.3" fill="#0014ff"/>
<rect x="1073" y="523.3" width="40" height="21" fill="#000fff"/>
<rect x="1073" y="543.8" width="40" height="10.7" fill="#0014ff"/>
<rect x="1073" y="554.1" width="40" height="10.7" fill="#000fff"/>
<rect x="1073" y="564.4" width="40" height="21" fill="#0014ff"/>
<rect x="1073" y="585" width="40" height="10.7" fill="#000fff"/>
<rect x="1073" y="595.3" width="40" height="10.7" fill="#0014ff"/>
<rect x="1073" y="605.5" width="40" height="10.7" fill="#000fff"/>
<rect x="1073" y="615.8" width="40" height="21" fill="#0014ff"/>
<rect x="1113" y="132.4" width="40" height="10.7" fill="#ffe000"/>
<rect x="1113" y="142.7" width="40" height="21" fill="#fff100"/>
<rect x="1113" y="163.3" width="40" height="10.7" fill="#fcff03"/>
<rect x="1113" y="173.5" width="40" height="10.7" fill="#f5ff09"/>
<rect x="1113" y="183.8" width="40" height="10.7" fill="#ddff23"/>
<rect x="1113" y="194.1" width="40" height="10.7" fill="#9bff56"/>
<rect x="1113" y="204.4" width="40" height="10.7" fill="#57ff99"/>
<rect x="1113" y="214.7" width="40" height="10.7" fill="#25ffdb"/>
<rect x="1113" y="225" width="40" height="10.7" fill="#00f6ff"/>
<rect x="1113" y="235.3" width="40" height="10.7" fill="#00acff"/>
<rect x="1113" y="245.5" width="40" height="10.7" fill="#0091ff"/>
<rect x="1113" y="255.8" width="40" height="10.7" fill="#0077ff"/>
<rect x="1113" y="266.1" width="40" height="21" fill="#0065ff"/>
<rect x="1113" y="286.7" width="40" height="10.7" fill="#0054ff"/>
<rect x="1113" y="297" width="40" height="10.7" fill="#004bff"/>
<rect x="1113" y="307.3" width="40" height="10.7" fill="#0042ff"/>
<rect x="1113" y="317.5" width="40" height="10.7" fill="#002bff"/>
<rect x="1113" y="327.8" width="40" height="21" fill="#0020ff"/>
<rect x="1113" y="348.4" width="40" height="10.7" fill="#001aff"/>
<rect x="1113" y="358.7" width="40" height="10.7" fill="#0020ff"/>
<rect x="1113" y="369" width="40" height="10.7" fill="#001aff"/>
<rect x="1113" y="379.3" width="40" height="10.7" fill="#0020ff"/>
<rect x="1113" y="389.5" width="40" height="21" fill="#001aff"/>
<rect x="1113" y="410.1" width="40" height="10.7" fill="#0020ff"/>
<rect x="1113" y="420.4" width="40" height="41.5" fill="#001aff"/>
<rect x="1113" y="461.5" width="40" height="31.3" fill="#0014ff"/>
<rect x="1113" y="492.4" width="40" height="31.3" fill="#001aff"/>
<rect x="1113" y="523.3" width="40" height="10.7" fill="#0014ff"/>
<rect x="1113" y="533.5" width="40" height="10.7" fill="#001aff"/>
<rect x="1113" y="543.8" width="40" height="82.7" fill="#0014ff"/>
<rect x="1113" y="626.1" width="40" height="10.7" fill="#000fff"/>
<rect x="1153" y="132.4" width="41" height="10.7" fill="#fff100"/>
<rect x="1153" y="142.7" width="41" height="10.7" fill="#fffa00"/>
<rect x="1153" y="153" width="41" height="21" fill="#f5ff09"/>
<rect x="1153" y="173.5" width="41" height="10.7" fill="#e6ff19"/>
<rect x="1153" y="183.8" width="41" height="10.7" fill="#b8ff45"/>
<rect x="1153" y="194.1" width="41" height="10.7" fill="#5dff93"/>
<rect x="1153" y="204.4" width="41" height="10.7" fill="#13ffed"/>
<rect x="1153" y="214.7" width="41" height="10.7" fill="#00f6ff"/>
<rect x="1153" y="225" width="41" height="10.7" fill="#00cfff"/>
<rect x="1153" y="235.3" width="41" height="10.7" fill="#00a2ff"/>
<rect x="1153" y="245.5" width="41" height="10.7" fill="#0088ff"/>
<rect x="1153" y="255.8" width="41" height="10.7" fill="#0077ff"/>
<rect x="1153" y="266.1" width="41" height="10.7" fill="#006eff"/>
<rect x="1153" y="276.4" width="41" height="21" fill="#005dff"/>
<rect x="1153" y="297" width="41" height="10.7" fill="#0054ff"/>
<rect x="1153" y="307.3" width="41" height="10.7" fill="#0042ff"/>
<rect x="1153" y="317.5" width="41" height="10.7" fill="#003aff"/>
<rect x="1153" y="327.8" width="41" height="10.7" fill="#0031ff"/>
<rect x="1153" y="338.1" width="41" height="72.4" fill="#002bff"/>
<rect x="1153" y="410.1" width="41" height="10.7" fill="#0020ff"/>
<rect x="1153" y="420.4" width="41" height="10.7" fill="#001aff"/>
<rect x="1153" y="430.7" width="41" height="10.7" fill="#0014ff"/>
<rect x="1153" y="441" width="41" height="123.8" fill="#000fff"/>
<rect x="1153" y="564.4" width="41" height="10.7" fill="#0014ff"/>
<rect x="1153" y="574.7" width="41" height="41.5" fill="#000fff"/>
<rect x="1153" y="615.8" width="41" height="21" fill="#0014ff"/>
<rect x="1194" y="132.4" width="40" height="10.7" fill="#fffa00"/>
<rect x="1194" y="142.7" width="40" height="10.7" fill="#fcff03"/>
<rect x="1194" y="153" width="40" height="21" fill="#eeff10"/>
<rect x="1194" y="173.5" width="40" height="10.7" fill="#ddff23"/>
<rect x="1194" y="183.8" width="40" height="10.7" fill="#8dff63"/>
<rect x="1194" y="194.1" width="40" height="10.7" fill="#2cffd3"/>
<rect x="1194" y="204.4" width="40" height="10.7" fill="#05fffa"/>
<rect x="1194" y="214.7" width="40" height="10.7" fill="#00dbff"/>
<rect x="1194" y="225" width="40" height="10.7" fill="#0088ff"/>
<rect x="1194" y="235.3" width="40" height="10.7" fill="#0077ff"/>
<rect x="1194" y="245.5" width="40" height="10.7" fill="#006eff"/>
<rect x="1194" y="255.8" width="40" height="10.7" fill="#005dff"/>
<rect x="1194" y="266.1" width="40" height="10.7" fill="#0054ff"/>
<rect x="1194" y="276.4" width="40" height="21" fill="#004bff"/>
<rect x="1194" y="297" width="40" height="21" fill="#0031ff"/>
<rect x="1194" y="317.5" width="40" height="31.3" fill="#002bff"/>
<rect x="1194" y="348.4" width="40" height="62.1" fill="#0026ff"/>
<rect x="1194" y="410.1" width="40" height="21" fill="#001aff"/>
<rect x="1194" y="430.7" width="40" height="21" fill="#0014ff"/>
<rect x="1194" y="451.3" width="40" height="31.3" fill="#001aff"/>
<rect x="1194" y="482.1" width="40" height="10.7" fill="#0014ff"/>
<rect x="1194" y="492.4" width="40" height="41.5" fill="#001aff"/>
<rect x="1194" y="533.5" width="40" height="62.1" fill="#0014ff"/>
<rect x="1194" y="595.3" width="40" height="41.5" fill="#001aff"/>
<rect x="1234" y="132.4" width="40" height="21" fill="#fffa00"/>
<rect x="1234" y="153" width="40" height="21" fill="#fcff03"/>
<rect x="1234" y="173.5" width="40" height="10.7" fill="#f5ff09"/>
<rect x="1234" y="183.8" width="40" height="10.7" fill="#b8ff45"/>
<rect x="1234" y="194.1" width="40" height="10.7" fill="#7cff74"/>
<rect x="1234" y="204.4" width="40" height="10.7" fill="#2cffd3"/>
<rect x="1234" y="214.7" width="40" height="10.7" fill="#00efff"/>
<rect x="1234" y="225" width="40" height="10.7" fill="#00c3ff"/>
<rect x="1234" y="235.3" width="40" height="10.7" fill="#0088ff"/>
<rect x="1234" y="245.5" width="40" height="10.7" fill="#007fff"/>
<rect x="1234" y="255.8" width="40" height="31.3" fill="#006eff"/>
<rect x="1234" y="286.7" width="40" height="10.7" fill="#0065ff"/>
<rect x="1234" y="297" width="40" height="21" fill="#005dff"/>
<rect x="1234" y="317.5" width="40" height="10.7" fill="#004bff"/>
<rect x="1234" y="327.8" width="40" height="21" fill="#0042ff"/>
<rect x="1234" y="348.4" width="40" height="10.7" fill="#003aff"/>
<rect x="1234" y="358.7" width="40" height="31.3" fill="#0031ff"/>
<rect x="1234" y="389.5" width="40" height="41.5" fill="#002bff"/>
<rect x="1234" y="430.7" width="40" height="31.3" fill="#0026ff"/>
<rect x="1234" y="461.5" width="40" height="21" fill="#002bff"/>
<rect x="1234" y="482.1" width="40" height="10.7" fill="#0031ff"/>
<rect x="1234" y="492.4" width="40" height="10.7" fill="#002bff"/>
<rect x="1234" y="502.7" width="40" height="10.7" fill="#0031ff"/>
<rect x="1234" y="513" width="40" height="31.3" fill="#002bff"/>
<rect x="1234" y="543.8" width="40" height="10.7" fill="#0031ff"/>
<rect x="1234" y="554.1" width="40" height="10.7" fill="#0020ff"/>
<rect x="1234" y="564.4" width="40" height="31.3" fill="#001aff"/>
<rect x="1234" y="595.3" width="40" height="41.5" fill="#0020ff"/>
<rect x="1274" y="132.4" width="40" height="21" fill="#fffa00"/>
<rect x="1274" y="153" width="40" height="21" fill="#fcff03"/>
<rect x="1274" y="173.5" width="40" height="10.7" fill="#f5ff09"/>
<rect x="1274" y="183.8" width="40" height="10.7" fill="#cfff31"/>
<rect x="1274" y="194.1" width="40" height="10.7" fill="#85ff6b"/>
<rect x="1274" y="204.4" width="40" height="10.7" fill="#2cffd3"/>
<rect x="1274" y="214.7" width="40" height="10.7" fill="#00efff"/>
<rect x="1274" y="225" width="40" height="10.7" fill="#00acff"/>
<rect x="1274" y="235.3" width="40" height="10.7" fill="#0077ff"/>
<rect x="1274" y="245.5" width="40" height="10.7" fill="#0065ff"/>
<rect x="1274" y="255.8" width="40" height="10.7" fill="#0054ff"/>
<rect x="1274" y="266.1" width="40" height="10.7" fill="#004bff"/>
<rect x="1274" y="276.4" width="40" height="41.5" fill="#0054ff"/>
<rect x="1274" y="317.5" width="40" height="10.7" fill="#0042ff"/>
<rect x="1274" y="327.8" width="40" height="21" fill="#002bff"/>
<rect x="1274" y="348.4" width="40" height="21" fill="#0026ff"/>
<rect x="1274" y="369" width="40" height="31.3" fill="#0020ff"/>
<rect x="1274" y="399.8" width="40" height="10.7" fill="#001aff"/>
<rect x="1274" y="410.1" width="40" height="51.8" fill="#0020ff"/>
<rect x="1274" y="461.5" width="40" height="10.7" fill="#0026ff"/>
<rect x="1274" y="471.8" width="40" height="10.7" fill="#0031ff"/>
<rect x="1274" y="482.1" width="40" height="21" fill="#003aff"/>
<rect x="1274" y="502.7" width="40" height="10.7" fill="#0031ff"/>
<rect x="1274" y="513" width="40" height="31.3" fill="#003aff"/>
<rect x="1274" y="543.8" width="40" height="10.7" fill="#002bff"/>
<rect x="1274" y="554.1" width="40" height="31.3" fill="#0020ff"/>
<rect x="1274" y="585" width="40" height="10.7" fill="#0026ff"/>
<rect x="1274" y="595.3" width="40" height="10.7" fill="#001aff"/>
<rect x="1274" y="605.5" width="40" height="21" fill="#0020ff"/>
<rect x="1274" y="626.1" width="40" height="10.7" fill="#001aff"/>
<rect x="1314" y="132.4" width="40" height="31.3" fill="#fffa00"/>
<rect x="1314" y="163.3" width="40" height="21" fill="#f5ff09"/>
<rect x="1314" y="183.8" width="40" height="10.7" fill="#cfff31"/>
<rect x="1314" y="194.1" width="40" height="10.7" fill="#8dff63"/>
<rect x="1314" y="204.4" width="40" height="10.7" fill="#25ffdb"/>
<rect x="1314" y="214.7" width="40" height="10.7" fill="#00f6ff"/>
<rect x="1314" y="225" width="40" height="10.7" fill="#00b7ff"/>
<rect x="1314" y="235.3" width="40" height="10.7" fill="#0091ff"/>
<rect x="1314" y="245.5" width="40" height="21" fill="#006eff"/>
<rect x="1314" y="266.1" width="40" height="10.7" fill="#005dff"/>
<rect x="1314" y="276.4" width="40" height="10.7" fill="#0054ff"/>
<rect x="1314" y="286.7" width="40" height="10.7" fill="#005dff"/>
<rect x="1314" y="297" width="40" height="10.7" fill="#0054ff"/>
<rect x="1314" y="307.3" width="40" height="21" fill="#004bff"/>
<rect x="1314" y="327.8" width="40" height="21" fill="#003aff"/>
<rect x="1314" y="348.4" width="40" height="21" fill="#002bff"/>
<rect x="1314" y="369" width="40" height="41.5" fill="#0026ff"/>
<rect x="1314" y="410.1" width="40" height="10.7" fill="#002bff"/>
<rect x="1314" y="420.4" width="40" height="10.7" fill="#0020ff"/>
<rect x="1314" y="430.7" width="40" height="10.7" fill="#0026ff"/>
<rect x="1314" y="441" width="40" height="31.3" fill="#0020ff"/>
<rect x="1314" y="471.8" width="40" height="21" fill="#0026ff"/>
<rect x="1314" y="492.4" width="40" height="10.7" fill="#0020ff"/>
<rect x="1314" y="502.7" width="40" height="10.7" fill="#0026ff"/>
<rect x="1314" y="513" width="40" height="31.3" fill="#0020ff"/>
<rect x="1314" y="543.8" width="40" height="21" fill="#0026ff"/>
<rect x="1314" y="564.4" width="40" height="41.5" fill="#0020ff"/>
<rect x="1314" y="605.5" width="40" height="10.7" fill="#0026ff"/>
<rect x="1314" y="615.8" width="40" height="21" fill="#0020ff"/>
<rect x="1354" y="132.4" width="40" height="31.3" fill="#fffa00"/>
<rect x="1354" y="163.3" width="40" height="10.7" fill="#fcff03"/>
<rect x="1354" y="173.5" width="40" height="10.7" fill="#eeff10"/>
<rect x="1354" y="183.8" width="40" height="10.7" fill="#c1ff3f"/>
<rect x="1354" y="194.1" width="40" height="10.7" fill="#7cff74"/>
<rect x="1354" y="204.4" width="40" height="10.7" fill="#25ffdb"/>
<rect x="1354" y="214.7" width="40" height="10.7" fill="#00f6ff"/>
<rect x="1354" y="225" width="40" height="10.7" fill="#00e7ff"/>
<rect x="1354" y="235.3" width="40" height="10.7" fill="#00b7ff"/>
<rect x="1354" y="245.5" width="40" height="10.7" fill="#0091ff"/>
<rect x="1354" y="255.8" width="40" height="10.7" fill="#0077ff"/>
<rect x="1354" y="266.1" width="40" height="10.7" fill="#005dff"/>
<rect x="1354" y="276.4" width="40" height="10.7" fill="#0054ff"/>
<rect x="1354" y="286.7" width="40" height="31.3" fill="#004bff"/>
<rect x="1354" y="317.5" width="40" height="10.7" fill="#0042ff"/>
<rect x="1354" y="327.8" width="40" height="10.7" fill="#003aff"/>
<rect x="1354" y="338.1" width="40" height="10.7" fill="#0042ff"/>
<rect x="1354" y="348.4" width="40" height="10.7" fill="#003aff"/>
<rect x="1354" y="358.7" width="40" height="10.7" fill="#0031ff"/>
<rect x="1354" y="369" width="40" height="10.7" fill="#003aff"/>
<rect x="1354" y="379.3" width="40" height="31.3" fill="#002bff"/>
<rect x="1354" y="410.1" width="40" height="21" fill="#0026ff"/>
<rect x="1354" y="430.7" width="40" height="10.7" fill="#001aff"/>
<rect x="1354" y="441" width="40" height="10.7" fill="#0014ff"/>
<rect x="1354" y="451.3" width="40" height="10.7" fill="#001aff"/>
<rect x="1354" y="461.5" width="40" height="51.8" fill="#0014ff"/>
<rect x="1354" y="513" width="40" height="51.8" fill="#001aff"/>
<rect x="1354" y="564.4" width="40" height="10.7" fill="#0014ff"/>
<rect x="1354" y="574.7" width="40" height="10.7" fill="#001aff"/>
<rect x="1354" y="585" width="40" height="10.7" fill="#0014ff"/>
<rect x="1354" y="595.3" width="40" height="21" fill="#001aff"/>
<rect x="1354" y="615.8" width="40" height="10.7" fill="#0014ff"/>
<rect x="1354" y="626.1" width="40" height="10.7" fill="#001aff"/>
<rect x="1394" y="132.4" width="40" height="10.7" fill="#fff100"/>
<rect x="1394" y="142.7" width="40" height="10.7" fill="#fffa00"/>
<rect x="1394" y="153" width="40" height="21" fill="#fcff03"/>
<rect x="1394" y="173.5" width="40" height="10.7" fill="#f5ff09"/>
<rect x="1394" y="183.8" width="40" height="10.7" fill="#cfff31"/>
<rect x="1394" y="194.1" width="40" height="10.7" fill="#95ff5b"/>
<rect x="1394" y="204.4" width="40" height="10.7" fill="#47ffac"/>
<rect x="1394" y="214.7" width="40" height="10.7" fill="#13ffed"/>
<rect x="1394" y="225" width="40" height="10.7" fill="#00feff"/>
<rect x="1394" y="235.3" width="40" height="10.7" fill="#00e7ff"/>
<rect x="1394" y="245.5" width="40" height="10.7" fill="#0099ff"/>
<rect x="1394" y="255.8" width="40" height="10.7" fill="#007fff"/>
<rect x="1394" y="266.1" width="40" height="10.7" fill="#006eff"/>
<rect x="1394" y="276.4" width="40" height="21" fill="#005dff"/>
<rect x="1394" y="297" width="40" height="10.7" fill="#0054ff"/>
<rect x="1394" y="307.3" width="40" height="21" fill="#004bff"/>
<rect x="1394" y="327.8" width="40" height="31.3" fill="#0042ff"/>
<rect x="1394" y="358.7" width="40" height="21" fill="#003aff"/>
<rect x="1394" y="379.3" width="40" height="10.7" fill="#0031ff"/>
<rect x="1394" y="389.5" width="40" height="10.7" fill="#002bff"/>
<rect x="1394" y="399.8" width="40" height="41.5" fill="#0031ff"/>
<rect x="1394" y="441" width="40" height="10.7" fill="#003aff"/>
<rect x="1394" y="451.3" width="40" height="10.7" fill="#002bff"/>
<rect x="1394" y="461.5" width="40" height="10.7" fill="#0031ff"/>
<rect x="1394" y="471.8" width="40" height="10.7" fill="#002bff"/>
<rect x="1394" y="482.1" width="40" height="10.7" fill="#0031ff"/>
<rect x="1394" y="492.4" width="40" height="21" fill="#003aff"/>
<rect x="1394" y="513" width="40" height="10.7" fill="#0031ff"/>
<rect x="1394" y="523.3" width="40" height="10.7" fill="#003aff"/>
<rect x="1394" y="533.5" width="40" height="62.1" fill="#0031ff"/>
<rect x="1394" y="595.3" width="40" height="10.7" fill="#002bff"/>
<rect x="1394" y="605.5" width="40" height="10.7" fill="#0031ff"/>
<rect x="1394" y="615.8" width="40" height="10.7" fill="#002bff"/>
<rect x="1394" y="626.1" width="40" height="10.7" fill="#0031ff"/>
<rect x="1434" y="132.4" width="41" height="21" fill="#fffa00"/>
<rect x="1434" y="153" width="41" height="21" fill="#fcff03"/>
<rect x="1434" y="173.5" width="41" height="10.7" fill="#f5ff09"/>
<rect x="1434" y="183.8" width="41" height="10.7" fill="#ddff23"/>
<rect x="1434" y="194.1" width="41" height="10.7" fill="#9bff56"/>
<rect x="1434" y="204.4" width="41" height="10.7" fill="#66ff8a"/>
<rect x="1434" y="214.7" width="41" height="10.7" fill="#31ffca"/>
<rect x="1434" y="225" width="41" height="10.7" fill="#00efff"/>
<rect x="1434" y="235.3" width="41" height="10.7" fill="#00b7ff"/>
<rect x="1434" y="245.5" width="41" height="10.7" fill="#0091ff"/>
<rect x="1434" y="255.8" width="41" height="10.7" fill="#0077ff"/>
<rect x="1434" y="266.1" width="41" height="10.7" fill="#0065ff"/>
<rect x="1434" y="276.4" width="41" height="31.3" fill="#005dff"/>
<rect x="1434" y="307.3" width="41" height="10.7" fill="#0054ff"/>
<rect x="1434" y="317.5" width="41" height="31.3" fill="#004bff"/>
<rect x="1434" y="348.4" width="41" height="21" fill="#0042ff"/>
<rect x="1434" y="369" width="41" height="10.7" fill="#004bff"/>
<rect x="1434" y="379.3" width="41" height="21" fill="#0042ff"/>
<rect x="1434" y="399.8" width="41" height="10.7" fill="#003aff"/>
<rect x="1434" y="410.1" width="41" height="10.7" fill="#0031ff"/>
<rect x="1434" y="420.4" width="41" height="10.7" fill="#002bff"/>
<rect x="1434" y="430.7" width="41" height="10.7" fill="#0031ff"/>
<rect x="1434" y="441" width="41" height="41.5" fill="#002bff"/>
<rect x="1434" y="482.1" width="41" height="10.7" fill="#0020ff"/>
<rect x="1434" y="492.4" width="41" height="21" fill="#001aff"/>
<rect x="1434" y="513" width="41" height="10.7" fill="#0014ff"/>
<rect x="1434" y="523.3" width="41" height="10.7" fill="#001aff"/>
<rect x="1434" y="533.5" width="41" height="10.7" fill="#0014ff"/>
<rect x="1434" y="543.8" width="41" height="10.7" fill="#001aff"/>
<rect x="1434" y="554.1" width="41" height="62.1" fill="#0014ff"/>
<rect x="1434" y="615.8" width="41" height="10.7" fill="#001aff"/>
<rect x="1434" y="626.1" width="41" height="10.7" fill="#0014ff"/>
<rect x="1475" y="132.4" width="40" height="10.7" fill="#fffa00"/>
<rect x="1475" y="142.7" width="40" height="21" fill="#fcff03"/>
<rect x="1475" y="163.3" width="40" height="21" fill="#f5ff09"/>
<rect x="1475" y="183.8" width="40" height="10.7" fill="#c1ff3f"/>
<rect x="1475" y="194.1" width="40" height="10.7" fill="#85ff6b"/>
<rect x="1475" y="204.4" width="40" height="10.7" fill="#2cffd3"/>
<rect x="1475" y="214.7" width="40" height="10.7" fill="#0cfff4"/>
<rect x="1475" y="225" width="40" height="10.7" fill="#00e7ff"/>
<rect x="1475" y="235.3" width="40" height="10.7" fill="#00cfff"/>
<rect x="1475" y="245.5" width="40" height="10.7" fill="#00b7ff"/>
<rect x="1475" y="255.8" width="40" height="10.7" fill="#0099ff"/>
<rect x="1475" y="266.1" width="40" height="20.3" fill="#007fff"/>
<rect x="1515" y="132.4" width="40" height="10.7" fill="#ffd700"/>
<rect x="1515" y="142.7" width="40" height="10.7" fill="#fff100"/>
<rect x="1515" y="153" width="40" height="21" fill="#fffa00"/>
<rect x="1515" y="173.5" width="40" height="10.7" fill="#f5ff09"/>
<rect x="1515" y="183.8" width="40" height="10.7" fill="#cfff31"/>
<rect x="1515" y="194.1" width="40" height="10.7" fill="#95ff5b"/>
<rect x="1515" y="204.4" width="40" height="10.7" fill="#25ffdb"/>
<rect x="1515" y="214.7" width="40" height="10.7" fill="#0cfff4"/>
<rect x="1515" y="225" width="40" height="10.7" fill="#00f6ff"/>
<rect x="1515" y="235.3" width="40" height="10.7" fill="#00b7ff"/>
<rect x="1515" y="245.5" width="40" height="10.7" fill="#0099ff"/>
<rect x="1515" y="255.8" width="40" height="10.7" fill="#0091ff"/>
<rect x="1515" y="266.1" width="40" height="1.3" fill="#0088ff"/>
<rect x="1555" y="132.4" width="43" height="21" fill="#ffe000"/>
<rect x="1555" y="153" width="43" height="10.7" fill="#fff100"/>
<rect x="1555" y="163.3" width="43" height="10.7" fill="#fffa00"/>
<rect x="1555" y="173.5" width="43" height="10.7" fill="#f5ff09"/>
<rect x="1555" y="183.8" width="43" height="10.7" fill="#ddff23"/>
<rect x="1555" y="194.1" width="43" height="10.7" fill="#8dff63"/>
<rect x="1555" y="204.4" width="43" height="10.7" fill="#3fffb7"/>
<rect x="1555" y="214.7" width="43" height="10.7" fill="#13ffed"/>
<rect x="1555" y="225" width="43" height="10.7" fill="#00f6ff"/>
<rect x="1555" y="235.3" width="43" height="10.7" fill="#00cfff"/>
<rect x="1555" y="245.5" width="43" height="9.9" fill="#00acff"/>
<polygon points="127,256.8 147,256.8 165.5,273 186,296 227,480 240.5,636.4 127,636.4" fill="#808080"/>
<polygon points="301.5,636.4 307.9,578.9 321.7,636.4" fill="#808080"/>
<polygon points="331.8,636.4 367.1,427.4 402,636.4" fill="#808080"/>
<g transform="translate(0 -637)"><rect x="127" y="1333.5" width="40" height="139.6" filter="url(#fB)"/></g>
<g transform="translate(0 -261)"><rect x="167" y="957.5" width="40" height="139.6" filter="url(#fB)"/></g>
<g transform="translate(0 -759)"><rect x="207" y="1455.5" width="40" height="179.6" filter="url(#fB)"/></g>
<g transform="translate(0 -367)"><rect x="247" y="1063.5" width="40" height="504" filter="url(#fB)"/></g>
<g transform="translate(0 -814)"><rect x="287" y="1510.5" width="31" height="287.6" filter="url(#fB)"/></g>
<g transform="translate(0 -707)"><rect x="318" y="1403.5" width="29" height="142.6" filter="url(#fB)"/></g>
<g transform="translate(0 -861)"><rect x="347" y="1557.5" width="41" height="295.6" filter="url(#fB)"/></g>
<g transform="translate(0 -757)"><rect x="388" y="1453.5" width="41" height="504" filter="url(#fB)"/></g>
<g transform="translate(0 -667)"><rect x="429" y="1363.5" width="39" height="335.6" filter="url(#fB)"/></g>
<g transform="translate(0 -542)"><rect x="468" y="1238.5" width="41" height="504" filter="url(#fB)"/></g>
<g transform="translate(0 -29)"><rect x="509" y="725.5" width="41" height="504" filter="url(#fB)"/></g>
<g transform="translate(0 -860)"><rect x="550" y="1556.5" width="40" height="504" filter="url(#fB)"/></g>
<g transform="translate(0 -476)"><rect x="590" y="1172.5" width="40" height="504" filter="url(#fB)"/></g>
<g transform="translate(0 -794)"><rect x="630" y="1490.5" width="40" height="474.6" filter="url(#fB)"/></g>
<g transform="translate(0 -255)"><rect x="670" y="951.5" width="41" height="504" filter="url(#fB)"/></g>
<g transform="translate(0 -664)"><rect x="711" y="1360.5" width="41" height="504" filter="url(#fB)"/></g>
<g transform="translate(0 -53)"><rect x="752" y="749.5" width="38" height="504" filter="url(#fB)"/></g>
<g transform="translate(0 -160)"><rect x="790" y="856.5" width="40" height="504" filter="url(#fB)"/></g>
<g transform="translate(0 -115)"><rect x="830" y="811.5" width="42" height="504" filter="url(#fB)"/></g>
<g transform="translate(0 -380)"><rect x="872" y="1076.5" width="40" height="504" filter="url(#fB2)"/></g>
<g transform="translate(0 -480)"><rect x="912" y="1176.5" width="40" height="153.6" filter="url(#fB2)"/></g>
<g transform="translate(0 -889)"><rect x="952" y="1585.5" width="41" height="504" filter="url(#fB2)"/></g>
<g transform="translate(0 -252)"><rect x="993" y="948.5" width="40" height="504" filter="url(#fB2)"/></g>
<g transform="translate(0 -389)"><rect x="1033" y="1085.5" width="40" height="504" filter="url(#fB2)"/></g>
<g transform="translate(0 -556)"><rect x="1073" y="1252.5" width="40" height="504" filter="url(#fB2)"/></g>
<g transform="translate(0 -104)"><rect x="1113" y="800.5" width="40" height="504" filter="url(#fB2)"/></g>
<g transform="translate(0 -587)"><rect x="1153" y="1283.5" width="41" height="504" filter="url(#fB2)"/></g>
<g transform="translate(0 -255)"><rect x="1194" y="951.5" width="40" height="504" filter="url(#fB2)"/></g>
<g transform="translate(0 -13)"><rect x="1234" y="709.5" width="40" height="504" filter="url(#fB2)"/></g>
<g transform="translate(0 -748)"><rect x="1274" y="1444.5" width="40" height="504" filter="url(#fB2)"/></g>
<g transform="translate(0 -221)"><rect x="1314" y="917.5" width="40" height="504" filter="url(#fB2)"/></g>
<g transform="translate(0 -417)"><rect x="1354" y="1113.5" width="40" height="504" filter="url(#fB2)"/></g>
<g transform="translate(0 -286)"><rect x="1394" y="982.5" width="40" height="504" filter="url(#fB2)"/></g>
<g transform="translate(0 -186)"><rect x="1434" y="882.5" width="41" height="504" filter="url(#fB2)"/></g>
<g transform="translate(0 -888)"><rect x="1475" y="1584.5" width="40" height="153.6" filter="url(#fB2)"/></g>
<g transform="translate(0 -784)"><rect x="1515" y="1480.5" width="40" height="134.6" filter="url(#fB2)"/></g>
<g transform="translate(0 -398)"><rect x="1555" y="1094.5" width="43" height="122.6" filter="url(#fB2)"/></g>
<rect x="127" y="706.7" width="40" height="3.7" fill="#e8e9f6"/>
<rect x="127" y="713.5" width="40" height="7.1" fill="#929cd4"/>
<rect x="127" y="720.3" width="40" height="3.7" fill="#e0e1f2"/>
<rect x="127" y="723.7" width="40" height="3.7" fill="#d7d9ee"/>
<rect x="127" y="727.1" width="40" height="7.1" fill="#e0e1f2"/>
<rect x="127" y="737.3" width="40" height="3.7" fill="#e8e9f6"/>
<rect x="127" y="740.7" width="40" height="7.1" fill="#e0e1f2"/>
<rect x="127" y="747.5" width="40" height="13.9" fill="#e8e9f6"/>
<rect x="127" y="764.5" width="40" height="3.7" fill="#962f27"/>
<rect x="167" y="696.5" width="40" height="13.9" fill="#e8e9f6"/>
<rect x="167" y="710.1" width="40" height="3.7" fill="#d7d9ee"/>
<rect x="167" y="713.5" width="40" height="3.7" fill="#cbceea"/>
<rect x="167" y="716.9" width="40" height="3.7" fill="#a4abdb"/>
<rect x="167" y="720.3" width="40" height="3.7" fill="#929cd4"/>
<rect x="167" y="723.7" width="40" height="3.7" fill="#cbceea"/>
<rect x="167" y="727.1" width="40" height="3.7" fill="#e8e9f6"/>
<rect x="207" y="696.5" width="40" height="3.7" fill="#e0e1f2"/>
<rect x="207" y="699.9" width="40" height="7.1" fill="#d7d9ee"/>
<rect x="207" y="706.7" width="40" height="7.1" fill="#cbceea"/>
<rect x="207" y="713.5" width="40" height="3.7" fill="#bec2e5"/>
<rect x="207" y="716.9" width="40" height="3.7" fill="#d7d9ee"/>
<rect x="207" y="720.3" width="40" height="3.7" fill="#cbceea"/>
<rect x="207" y="849.5" width="40" height="3.7" fill="#b0615a"/>
<rect x="247" y="931.1" width="40" height="3.7" fill="#d7d9ee"/>
<rect x="247" y="934.5" width="40" height="3.7" fill="#103499"/>
<rect x="247" y="937.9" width="40" height="3.7" fill="#bec2e5"/>
<rect x="247" y="941.3" width="40" height="3.7" fill="#cbceea"/>
<rect x="247" y="944.7" width="40" height="3.7" fill="#d7d9ee"/>
<rect x="247" y="948.1" width="40" height="3.7" fill="#e0e1f2"/>
<rect x="247" y="951.5" width="40" height="3.7" fill="#cbceea"/>
<rect x="247" y="954.9" width="40" height="3.7" fill="#e0e1f2"/>
<rect x="247" y="958.3" width="40" height="3.7" fill="#bec2e5"/>
<rect x="247" y="961.7" width="40" height="3.7" fill="#e0e1f2"/>
<rect x="247" y="965.1" width="40" height="3.7" fill="#d7d9ee"/>
<rect x="247" y="968.5" width="40" height="3.7" fill="#b1b7e0"/>
<rect x="247" y="971.9" width="40" height="3.7" fill="#cbceea"/>
<rect x="247" y="975.3" width="40" height="7.1" fill="#e0e1f2"/>
<rect x="247" y="982.1" width="40" height="3.7" fill="#bec2e5"/>
<rect x="247" y="985.5" width="40" height="7.1" fill="#cbceea"/>
<rect x="247" y="992.3" width="40" height="3.7" fill="#e8e9f6"/>
<rect x="247" y="995.7" width="40" height="3.7" fill="#d7d9ee"/>
<rect x="247" y="999.1" width="40" height="10.5" fill="#e0e1f2"/>
<rect x="247" y="1009.3" width="40" height="3.7" fill="#d7d9ee"/>
<rect x="247" y="1012.7" width="40" height="7.1" fill="#e8e9f6"/>
<rect x="247" y="1022.9" width="40" height="10.5" fill="#e8e9f6"/>
<rect x="247" y="1033.1" width="40" height="3.7" fill="#e0e1f2"/>
<rect x="247" y="1036.5" width="40" height="10.5" fill="#e8e9f6"/>
<rect x="247" y="1046.7" width="40" height="3.7" fill="#e0e1f2"/>
<rect x="247" y="1050.1" width="40" height="3.7" fill="#e8e9f6"/>
<rect x="247" y="1060.3" width="40" height="3.7" fill="#e0e1f2"/>
<rect x="247" y="1063.7" width="40" height="7.1" fill="#e8e9f6"/>
<rect x="247" y="1073.9" width="40" height="3.7" fill="#e0e1f2"/>
<rect x="247" y="1077.3" width="40" height="10.5" fill="#e8e9f6"/>
<rect x="247" y="1107.9" width="40" height="3.7" fill="#e8e9f6"/>
<rect x="247" y="1118.1" width="40" height="13.9" fill="#e8e9f6"/>
<rect x="287" y="747.5" width="31" height="3.7" fill="#bec2e5"/>
<rect x="287" y="750.9" width="31" height="3.7" fill="#b1b7e0"/>
<rect x="287" y="754.3" width="31" height="3.7" fill="#bec2e5"/>
<rect x="287" y="757.7" width="31" height="3.7" fill="#b1b7e0"/>
<rect x="287" y="761.1" width="31" height="3.7" fill="#cbceea"/>
<rect x="287" y="948.1" width="31" height="3.7" fill="#929cd4"/>
<rect x="287" y="951.5" width="31" height="3.7" fill="#0a248c"/>
<rect x="287" y="954.9" width="31" height="3.7" fill="#183fa2"/>
<rect x="287" y="958.3" width="31" height="3.7" fill="#bec2e5"/>
<rect x="287" y="961.7" width="31" height="10.5" fill="#e8e9f6"/>
<rect x="287" y="975.3" width="31" height="7.1" fill="#e8e9f6"/>
<rect x="318" y="747.5" width="29" height="3.7" fill="#cbceea"/>
<rect x="318" y="750.9" width="29" height="3.7" fill="#7d8bcc"/>
<rect x="318" y="754.3" width="29" height="3.7" fill="#5067b9"/>
<rect x="318" y="757.7" width="29" height="3.7" fill="#6779c3"/>
<rect x="318" y="761.1" width="29" height="3.7" fill="#929cd4"/>
<rect x="347" y="723.7" width="41" height="3.7" fill="#e8e9f6"/>
<rect x="347" y="754.3" width="41" height="13.9" fill="#e8e9f6"/>
<rect x="347" y="767.9" width="41" height="7.1" fill="#e0e1f2"/>
<rect x="347" y="774.7" width="41" height="3.7" fill="#e8e9f6"/>
<rect x="347" y="778.1" width="41" height="3.7" fill="#e0e1f2"/>
<rect x="347" y="951.5" width="41" height="3.7" fill="#e8e9f6"/>
<rect x="347" y="954.9" width="41" height="7.1" fill="#cbceea"/>
<rect x="347" y="961.7" width="41" height="3.7" fill="#b1b7e0"/>
<rect x="347" y="965.1" width="41" height="3.7" fill="#cbceea"/>
<rect x="347" y="968.5" width="41" height="3.7" fill="#b1b7e0"/>
<rect x="347" y="971.9" width="41" height="7.1" fill="#7d8bcc"/>
<rect x="388" y="696.5" width="41" height="3.7" fill="#e0e1f2"/>
<rect x="388" y="703.3" width="41" height="7.1" fill="#e8e9f6"/>
<rect x="388" y="710.1" width="41" height="3.7" fill="#e0e1f2"/>
<rect x="388" y="713.5" width="41" height="3.7" fill="#e8e9f6"/>
<rect x="388" y="716.9" width="41" height="3.7" fill="#e0e1f2"/>
<rect x="388" y="720.3" width="41" height="13.9" fill="#e8e9f6"/>
<rect x="388" y="737.3" width="41" height="3.7" fill="#e8e9f6"/>
<rect x="388" y="744.1" width="41" height="10.5" fill="#e8e9f6"/>
<rect x="388" y="761.1" width="41" height="3.7" fill="#e8e9f6"/>
<rect x="388" y="829.1" width="41" height="3.7" fill="#e0e1f2"/>
<rect x="388" y="852.9" width="41" height="3.7" fill="#b1b7e0"/>
<rect x="388" y="856.3" width="41" height="3.7" fill="#e0e1f2"/>
<rect x="388" y="944.7" width="41" height="3.7" fill="#a4abdb"/>
<rect x="388" y="948.1" width="41" height="3.7" fill="#cbceea"/>
<rect x="388" y="951.5" width="41" height="3.7" fill="#bec2e5"/>
<rect x="388" y="954.9" width="41" height="3.7" fill="#cbceea"/>
<rect x="388" y="958.3" width="41" height="3.7" fill="#b1b7e0"/>
<rect x="388" y="961.7" width="41" height="3.7" fill="#d7d9ee"/>
<rect x="388" y="965.1" width="41" height="3.7" fill="#e0e1f2"/>
<rect x="388" y="968.5" width="41" height="3.7" fill="#e8e9f6"/>
<rect x="388" y="971.9" width="41" height="3.7" fill="#e0e1f2"/>
<rect x="388" y="975.3" width="41" height="7.1" fill="#e8e9f6"/>
<rect x="388" y="988.9" width="41" height="13.9" fill="#cbceea"/>
<rect x="388" y="1002.5" width="41" height="3.7" fill="#b1b7e0"/>
<rect x="388" y="1005.9" width="41" height="3.7" fill="#e0e1f2"/>
<rect x="388" y="1009.3" width="41" height="3.7" fill="#bec2e5"/>
<rect x="388" y="1012.7" width="41" height="3.7" fill="#e0e1f2"/>
<rect x="388" y="1016.1" width="41" height="3.7" fill="#cbceea"/>
<rect x="388" y="1019.5" width="41" height="3.7" fill="#d7d9ee"/>
<rect x="388" y="1022.9" width="41" height="3.7" fill="#e0e1f2"/>
<rect x="388" y="1026.3" width="41" height="3.7" fill="#d7d9ee"/>
<rect x="388" y="1033.1" width="41" height="10.5" fill="#e8e9f6"/>
<rect x="388" y="1046.7" width="41" height="3.7" fill="#e8e9f6"/>
<rect x="388" y="1090.9" width="41" height="3.7" fill="#8a180f"/>
<rect x="388" y="1107.9" width="41" height="3.7" fill="#91261c"/>
<rect x="388" y="1128.3" width="41" height="3.7" fill="#bec2e5"/>
<rect x="388" y="1148.7" width="41" height="3.7" fill="#b1b7e0"/>
<rect x="388" y="1172.5" width="41" height="3.7" fill="#d7d9ee"/>
<rect x="388" y="1179.3" width="41" height="3.7" fill="#cbceea"/>
<rect x="429" y="815.5" width="39" height="3.7" fill="#cbceea"/>
<rect x="429" y="856.3" width="39" height="7.1" fill="#e8e9f6"/>
<rect x="429" y="883.5" width="39" height="3.7" fill="#e0e1f2"/>
<rect x="429" y="920.9" width="39" height="17.3" fill="#e8e9f6"/>
<rect x="429" y="937.9" width="39" height="3.7" fill="#b1b7e0"/>
<rect x="429" y="941.3" width="39" height="13.9" fill="#e8e9f6"/>
<rect x="429" y="958.3" width="39" height="3.7" fill="#cbceea"/>
<rect x="429" y="992.3" width="39" height="3.7" fill="#d7d9ee"/>
<rect x="468" y="832.5" width="41" height="3.7" fill="#b1b7e0"/>
<rect x="468" y="873.3" width="41" height="17.3" fill="#e8e9f6"/>
<rect x="468" y="893.7" width="41" height="3.7" fill="#d7d9ee"/>
<rect x="468" y="920.9" width="41" height="3.7" fill="#e8e9f6"/>
<rect x="468" y="934.5" width="41" height="3.7" fill="#e8e9f6"/>
<rect x="468" y="937.9" width="41" height="3.7" fill="#a4abdb"/>
<rect x="468" y="941.3" width="41" height="3.7" fill="#d7d9ee"/>
<rect x="468" y="944.7" width="41" height="3.7" fill="#e8e9f6"/>
<rect x="468" y="954.9" width="41" height="7.1" fill="#e8e9f6"/>
<rect x="468" y="968.5" width="41" height="3.7" fill="#e8e9f6"/>
<rect x="468" y="975.3" width="41" height="10.5" fill="#e8e9f6"/>
<rect x="468" y="985.5" width="41" height="3.7" fill="#e0e1f2"/>
<rect x="468" y="988.9" width="41" height="3.7" fill="#e8e9f6"/>
<rect x="468" y="992.3" width="41" height="3.7" fill="#e0e1f2"/>
<rect x="468" y="995.7" width="41" height="3.7" fill="#bec2e5"/>
<rect x="468" y="999.1" width="41" height="10.5" fill="#e8e9f6"/>
<rect x="468" y="1009.3" width="41" height="7.1" fill="#e0e1f2"/>
<rect x="468" y="1016.1" width="41" height="3.7" fill="#e8e9f6"/>
<rect x="468" y="1022.9" width="41" height="3.7" fill="#cbceea"/>
<rect x="468" y="1026.3" width="41" height="3.7" fill="#e0e1f2"/>
<rect x="468" y="1029.7" width="41" height="10.5" fill="#e8e9f6"/>
<rect x="468" y="1039.9" width="41" height="3.7" fill="#bec2e5"/>
<rect x="468" y="1043.3" width="41" height="3.7" fill="#d7d9ee"/>
<rect x="468" y="1046.7" width="41" height="3.7" fill="#e0e1f2"/>
<rect x="468" y="1050.1" width="41" height="3.7" fill="#bec2e5"/>
<rect x="468" y="1053.5" width="41" height="13.9" fill="#e0e1f2"/>
<rect x="468" y="1070.5" width="41" height="3.7" fill="#e0e1f2"/>
<rect x="468" y="1084.1" width="41" height="7.1" fill="#e8e9f6"/>
<rect x="468" y="1097.7" width="41" height="7.1" fill="#e8e9f6"/>
<rect x="468" y="1145.3" width="41" height="3.7" fill="#b1b7e0"/>
<rect x="509" y="829.1" width="41" height="7.1" fill="#e8e9f6"/>
<rect x="509" y="839.3" width="41" height="3.7" fill="#e8e9f6"/>
<rect x="509" y="849.5" width="41" height="3.7" fill="#e0e1f2"/>
<rect x="509" y="863.1" width="41" height="10.5" fill="#e8e9f6"/>
<rect x="509" y="893.7" width="41" height="3.7" fill="#e8e9f6"/>
<rect x="509" y="910.7" width="41" height="7.1" fill="#e8e9f6"/>
<rect x="509" y="920.9" width="41" height="7.1" fill="#e8e9f6"/>
<rect x="509" y="944.7" width="41" height="7.1" fill="#e8e9f6"/>
<rect x="509" y="951.5" width="41" height="13.9" fill="#e0e1f2"/>
<rect x="509" y="965.1" width="41" height="7.1" fill="#e8e9f6"/>
<rect x="509" y="971.9" width="41" height="3.7" fill="#e0e1f2"/>
<rect x="509" y="975.3" width="41" height="3.7" fill="#d7d9ee"/>
<rect x="509" y="978.7" width="41" height="3.7" fill="#e8e9f6"/>
<rect x="509" y="982.1" width="41" height="3.7" fill="#cbceea"/>
<rect x="509" y="985.5" width="41" height="13.9" fill="#e0e1f2"/>
<rect x="509" y="999.1" width="41" height="3.7" fill="#e8e9f6"/>
<rect x="509" y="1002.5" width="41" height="3.7" fill="#e0e1f2"/>
<rect x="509" y="1005.9" width="41" height="3.7" fill="#e8e9f6"/>
<rect x="509" y="1009.3" width="41" height="3.7" fill="#e0e1f2"/>
<rect x="509" y="1012.7" width="41" height="3.7" fill="#d7d9ee"/>
<rect x="509" y="1016.1" width="41" height="3.7" fill="#e0e1f2"/>
<rect x="509" y="1019.5" width="41" height="3.7" fill="#e8e9f6"/>
<rect x="509" y="1022.9" width="41" height="3.7" fill="#e0e1f2"/>
<rect x="509" y="1026.3" width="41" height="7.1" fill="#e8e9f6"/>
<rect x="509" y="1033.1" width="41" height="3.7" fill="#e0e1f2"/>
<rect x="509" y="1036.5" width="41" height="3.7" fill="#e8e9f6"/>
<rect x="509" y="1043.3" width="41" height="7.1" fill="#e8e9f6"/>
<rect x="509" y="1053.5" width="41" height="7.1" fill="#e8e9f6"/>
<rect x="509" y="1063.7" width="41" height="3.7" fill="#e8e9f6"/>
<rect x="509" y="1080.7" width="41" height="7.1" fill="#e8e9f6"/>
<rect x="509" y="1124.9" width="41" height="3.7" fill="#e0e1f2"/>
<rect x="509" y="1155.5" width="41" height="10.5" fill="#e8e9f6"/>
<rect x="509" y="1169.1" width="41" height="3.7" fill="#e8e9f6"/>
<rect x="550" y="815.5" width="40" height="3.7" fill="#e8e9f6"/>
<rect x="550" y="818.9" width="40" height="3.7" fill="#d7d9ee"/>
<rect x="550" y="822.3" width="40" height="3.7" fill="#e8e9f6"/>
<rect x="550" y="829.1" width="40" height="3.7" fill="#a4abdb"/>
<rect x="550" y="832.5" width="40" height="3.7" fill="#e8e9f6"/>
<rect x="550" y="839.3" width="40" height="3.7" fill="#e8e9f6"/>
<rect x="550" y="859.7" width="40" height="3.7" fill="#e8e9f6"/>
<rect x="550" y="866.5" width="40" height="10.5" fill="#e8e9f6"/>
<rect x="550" y="880.1" width="40" height="3.7" fill="#e8e9f6"/>
<rect x="550" y="883.5" width="40" height="3.7" fill="#e0e1f2"/>
<rect x="550" y="886.9" width="40" height="7.1" fill="#e8e9f6"/>
<rect x="550" y="907.3" width="40" height="3.7" fill="#e8e9f6"/>
<rect x="550" y="941.3" width="40" height="3.7" fill="#e8e9f6"/>
<rect x="550" y="944.7" width="40" height="3.7" fill="#d7d9ee"/>
<rect x="550" y="948.1" width="40" height="3.7" fill="#e0e1f2"/>
<rect x="550" y="951.5" width="40" height="3.7" fill="#d7d9ee"/>
<rect x="550" y="954.9" width="40" height="3.7" fill="#e0e1f2"/>
<rect x="550" y="958.3" width="40" height="3.7" fill="#d7d9ee"/>
<rect x="550" y="961.7" width="40" height="3.7" fill="#e8e9f6"/>
<rect x="550" y="965.1" width="40" height="3.7" fill="#e0e1f2"/>
<rect x="550" y="968.5" width="40" height="3.7" fill="#d7d9ee"/>
<rect x="550" y="971.9" width="40" height="3.7" fill="#e0e1f2"/>
<rect x="550" y="975.3" width="40" height="3.7" fill="#a4abdb"/>
<rect x="550" y="978.7" width="40" height="3.7" fill="#e0e1f2"/>
<rect x="550" y="982.1" width="40" height="20.7" fill="#e8e9f6"/>
<rect x="550" y="1002.5" width="40" height="3.7" fill="#a4abdb"/>
<rect x="550" y="1016.1" width="40" height="10.5" fill="#e8e9f6"/>
<rect x="550" y="1029.7" width="40" height="10.5" fill="#e8e9f6"/>
<rect x="550" y="1077.3" width="40" height="3.7" fill="#e0e1f2"/>
<rect x="550" y="1084.1" width="40" height="7.1" fill="#e8e9f6"/>
<rect x="550" y="1097.7" width="40" height="3.7" fill="#e8e9f6"/>
<rect x="550" y="1121.5" width="40" height="10.5" fill="#e8e9f6"/>
<rect x="550" y="1148.7" width="40" height="3.7" fill="#cbceea"/>
<rect x="590" y="795.1" width="40" height="3.7" fill="#e0e1f2"/>
<rect x="590" y="801.9" width="40" height="3.7" fill="#e0e1f2"/>
<rect x="590" y="815.5" width="40" height="3.7" fill="#e0e1f2"/>
<rect x="590" y="818.9" width="40" height="7.1" fill="#e8e9f6"/>
<rect x="590" y="825.7" width="40" height="3.7" fill="#e0e1f2"/>
<rect x="590" y="832.5" width="40" height="3.7" fill="#e8e9f6"/>
<rect x="590" y="835.9" width="40" height="3.7" fill="#e0e1f2"/>
<rect x="590" y="883.5" width="40" height="3.7" fill="#e8e9f6"/>
<rect x="590" y="886.9" width="40" height="3.7" fill="#e0e1f2"/>
<rect x="590" y="890.3" width="40" height="3.7" fill="#d7d9ee"/>
<rect x="590" y="893.7" width="40" height="3.7" fill="#cbceea"/>
<rect x="590" y="897.1" width="40" height="3.7" fill="#e0e1f2"/>
<rect x="590" y="900.5" width="40" height="3.7" fill="#d7d9ee"/>
<rect x="590" y="903.9" width="40" height="3.7" fill="#cbceea"/>
<rect x="590" y="907.3" width="40" height="7.1" fill="#e0e1f2"/>
<rect x="590" y="914.1" width="40" height="3.7" fill="#d7d9ee"/>
<rect x="590" y="917.5" width="40" height="3.7" fill="#e0e1f2"/>
<rect x="590" y="920.9" width="40" height="3.7" fill="#d7d9ee"/>
<rect x="590" y="924.3" width="40" height="3.7" fill="#cbceea"/>
<rect x="590" y="927.7" width="40" height="3.7" fill="#e0e1f2"/>
<rect x="590" y="941.3" width="40" height="3.7" fill="#e8e9f6"/>
<rect x="590" y="944.7" width="40" height="3.7" fill="#a4abdb"/>
<rect x="590" y="948.1" width="40" height="3.7" fill="#e8e9f6"/>
<rect x="590" y="958.3" width="40" height="7.1" fill="#e8e9f6"/>
<rect x="590" y="968.5" width="40" height="3.7" fill="#e8e9f6"/>
<rect x="590" y="975.3" width="40" height="3.7" fill="#cbceea"/>
<rect x="590" y="985.5" width="40" height="7.1" fill="#e0e1f2"/>
<rect x="590" y="992.3" width="40" height="3.7" fill="#bec2e5"/>
<rect x="590" y="999.1" width="40" height="7.1" fill="#e8e9f6"/>
<rect x="590" y="1005.9" width="40" height="3.7" fill="#a4abdb"/>
<rect x="590" y="1077.3" width="40" height="3.7" fill="#e8e9f6"/>
<rect x="590" y="1128.3" width="40" height="3.7" fill="#a4abdb"/>
<rect x="590" y="1189.5" width="40" height="3.7" fill="#b1b7e0"/>
<rect x="630" y="784.9" width="40" height="3.7" fill="#d7d9ee"/>
<rect x="630" y="788.3" width="40" height="3.7" fill="#e8e9f6"/>
<rect x="630" y="791.7" width="40" height="3.7" fill="#e0e1f2"/>
<rect x="630" y="795.1" width="40" height="3.7" fill="#e8e9f6"/>
<rect x="630" y="798.5" width="40" height="3.7" fill="#e0e1f2"/>
<rect x="630" y="801.9" width="40" height="7.1" fill="#e8e9f6"/>
<rect x="630" y="812.1" width="40" height="7.1" fill="#e8e9f6"/>
<rect x="630" y="829.1" width="40" height="7.1" fill="#e8e9f6"/>
<rect x="630" y="839.3" width="40" height="3.7" fill="#e8e9f6"/>
<rect x="630" y="846.1" width="40" height="7.1" fill="#e8e9f6"/>
<rect x="630" y="856.3" width="40" height="3.7" fill="#e8e9f6"/>
<rect x="630" y="869.9" width="40" height="3.7" fill="#e8e9f6"/>
<rect x="630" y="876.7" width="40" height="7.1" fill="#e0e1f2"/>
<rect x="630" y="883.5" width="40" height="3.7" fill="#e8e9f6"/>
<rect x="630" y="886.9" width="40" height="3.7" fill="#e0e1f2"/>
<rect x="630" y="890.3" width="40" height="3.7" fill="#d7d9ee"/>
<rect x="630" y="893.7" width="40" height="3.7" fill="#bec2e5"/>
<rect x="630" y="897.1" width="40" height="7.1" fill="#e0e1f2"/>
<rect x="630" y="903.9" width="40" height="3.7" fill="#cbceea"/>
<rect x="630" y="907.3" width="40" height="3.7" fill="#e8e9f6"/>
<rect x="630" y="910.7" width="40" height="10.5" fill="#e0e1f2"/>
<rect x="630" y="924.3" width="40" height="3.7" fill="#a4abdb"/>
<rect x="630" y="927.7" width="40" height="7.1" fill="#e8e9f6"/>
<rect x="630" y="1036.5" width="40" height="3.7" fill="#a4abdb"/>
<rect x="630" y="1111.3" width="40" height="3.7" fill="#b1b7e0"/>
<rect x="670" y="771.3" width="41" height="3.7" fill="#e8e9f6"/>
<rect x="670" y="774.7" width="41" height="7.1" fill="#d7d9ee"/>
<rect x="670" y="781.5" width="41" height="3.7" fill="#e0e1f2"/>
<rect x="670" y="784.9" width="41" height="3.7" fill="#d7d9ee"/>
<rect x="670" y="788.3" width="41" height="3.7" fill="#e0e1f2"/>
<rect x="670" y="791.7" width="41" height="10.5" fill="#e8e9f6"/>
<rect x="670" y="805.3" width="41" height="20.7" fill="#e8e9f6"/>
<rect x="670" y="825.7" width="41" height="3.7" fill="#e0e1f2"/>
<rect x="670" y="829.1" width="41" height="7.1" fill="#e8e9f6"/>
<rect x="670" y="835.9" width="41" height="3.7" fill="#e0e1f2"/>
<rect x="670" y="839.3" width="41" height="10.5" fill="#e8e9f6"/>
<rect x="670" y="849.5" width="41" height="3.7" fill="#cbceea"/>
<rect x="670" y="852.9" width="41" height="3.7" fill="#bec2e5"/>
<rect x="670" y="856.3" width="41" height="3.7" fill="#d7d9ee"/>
<rect x="670" y="859.7" width="41" height="3.7" fill="#bec2e5"/>
<rect x="670" y="863.1" width="41" height="3.7" fill="#d7d9ee"/>
<rect x="670" y="866.5" width="41" height="3.7" fill="#e0e1f2"/>
<rect x="670" y="869.9" width="41" height="3.7" fill="#cbceea"/>
<rect x="670" y="873.3" width="41" height="3.7" fill="#d7d9ee"/>
<rect x="670" y="876.7" width="41" height="3.7" fill="#e8e9f6"/>
<rect x="670" y="883.5" width="41" height="3.7" fill="#e8e9f6"/>
<rect x="670" y="886.9" width="41" height="3.7" fill="#b1b7e0"/>
<rect x="670" y="893.7" width="41" height="7.1" fill="#e8e9f6"/>
<rect x="670" y="907.3" width="41" height="3.7" fill="#e0e1f2"/>
<rect x="670" y="914.1" width="41" height="3.7" fill="#e8e9f6"/>
<rect x="670" y="927.7" width="41" height="10.5" fill="#e8e9f6"/>
<rect x="670" y="1019.5" width="41" height="3.7" fill="#b1b7e0"/>
<rect x="670" y="1043.3" width="41" height="3.7" fill="#a4abdb"/>
<rect x="670" y="1107.9" width="41" height="3.7" fill="#b1b7e0"/>
<rect x="670" y="1114.7" width="41" height="3.7" fill="#bec2e5"/>
<rect x="670" y="1199.7" width="41" height="1.1" fill="#cbceea"/>
<rect x="711" y="767.9" width="41" height="13.9" fill="#e8e9f6"/>
<rect x="711" y="784.9" width="41" height="3.7" fill="#e0e1f2"/>
<rect x="711" y="791.7" width="41" height="3.7" fill="#e0e1f2"/>
<rect x="711" y="798.5" width="41" height="3.7" fill="#e0e1f2"/>
<rect x="711" y="801.9" width="41" height="3.7" fill="#e8e9f6"/>
<rect x="711" y="805.3" width="41" height="3.7" fill="#e0e1f2"/>
<rect x="711" y="808.7" width="41" height="10.5" fill="#d7d9ee"/>
<rect x="711" y="818.9" width="41" height="3.7" fill="#e0e1f2"/>
<rect x="711" y="822.3" width="41" height="3.7" fill="#b1b7e0"/>
<rect x="711" y="825.7" width="41" height="3.7" fill="#cbceea"/>
<rect x="711" y="829.1" width="41" height="7.1" fill="#bec2e5"/>
<rect x="711" y="835.9" width="41" height="3.7" fill="#cbceea"/>
<rect x="711" y="839.3" width="41" height="3.7" fill="#d7d9ee"/>
<rect x="711" y="842.7" width="41" height="3.7" fill="#cbceea"/>
<rect x="711" y="846.1" width="41" height="10.5" fill="#d7d9ee"/>
<rect x="711" y="856.3" width="41" height="3.7" fill="#e0e1f2"/>
<rect x="711" y="859.7" width="41" height="3.7" fill="#cbceea"/>
<rect x="711" y="866.5" width="41" height="3.7" fill="#e8e9f6"/>
<rect x="711" y="873.3" width="41" height="3.7" fill="#e8e9f6"/>
<rect x="711" y="890.3" width="41" height="3.7" fill="#cbceea"/>
<rect x="711" y="900.5" width="41" height="3.7" fill="#e8e9f6"/>
<rect x="711" y="907.3" width="41" height="3.7" fill="#e8e9f6"/>
<rect x="711" y="920.9" width="41" height="7.1" fill="#e8e9f6"/>
<rect x="711" y="971.9" width="41" height="3.7" fill="#b1b7e0"/>
<rect x="711" y="1053.5" width="41" height="3.7" fill="#973128"/>
<rect x="711" y="1084.1" width="41" height="3.7" fill="#cbceea"/>
<rect x="711" y="1097.7" width="41" height="3.7" fill="#bec2e5"/>
<rect x="711" y="1111.3" width="41" height="3.7" fill="#d7d9ee"/>
<rect x="711" y="1124.9" width="41" height="3.7" fill="#e8e9f6"/>
<rect x="711" y="1138.5" width="41" height="3.7" fill="#e0e1f2"/>
<rect x="711" y="1148.7" width="41" height="3.7" fill="#b1b7e0"/>
<rect x="711" y="1158.9" width="41" height="3.7" fill="#cbceea"/>
<rect x="752" y="757.7" width="38" height="3.7" fill="#e8e9f6"/>
<rect x="752" y="764.5" width="38" height="7.1" fill="#e8e9f6"/>
<rect x="752" y="774.7" width="38" height="7.1" fill="#e8e9f6"/>
<rect x="752" y="784.9" width="38" height="3.7" fill="#d7d9ee"/>
<rect x="752" y="788.3" width="38" height="3.7" fill="#e0e1f2"/>
<rect x="752" y="791.7" width="38" height="10.5" fill="#e8e9f6"/>
<rect x="752" y="801.9" width="38" height="3.7" fill="#d7d9ee"/>
<rect x="752" y="805.3" width="38" height="3.7" fill="#cbceea"/>
<rect x="752" y="808.7" width="38" height="3.7" fill="#e0e1f2"/>
<rect x="752" y="812.1" width="38" height="3.7" fill="#bec2e5"/>
<rect x="752" y="815.5" width="38" height="3.7" fill="#d7d9ee"/>
<rect x="752" y="818.9" width="38" height="3.7" fill="#cbceea"/>
<rect x="752" y="822.3" width="38" height="3.7" fill="#d7d9ee"/>
<rect x="752" y="825.7" width="38" height="3.7" fill="#b1b7e0"/>
<rect x="752" y="829.1" width="38" height="3.7" fill="#d7d9ee"/>
<rect x="752" y="832.5" width="38" height="3.7" fill="#bec2e5"/>
<rect x="752" y="835.9" width="38" height="3.7" fill="#cbceea"/>
<rect x="752" y="839.3" width="38" height="3.7" fill="#e0e1f2"/>
<rect x="752" y="842.7" width="38" height="3.7" fill="#bec2e5"/>
<rect x="752" y="846.1" width="38" height="7.1" fill="#b1b7e0"/>
<rect x="752" y="852.9" width="38" height="3.7" fill="#cbceea"/>
<rect x="752" y="856.3" width="38" height="3.7" fill="#b1b7e0"/>
<rect x="752" y="859.7" width="38" height="3.7" fill="#d7d9ee"/>
<rect x="752" y="869.9" width="38" height="3.7" fill="#e8e9f6"/>
<rect x="752" y="876.7" width="38" height="3.7" fill="#e8e9f6"/>
<rect x="752" y="893.7" width="38" height="10.5" fill="#e8e9f6"/>
<rect x="752" y="907.3" width="38" height="3.7" fill="#e8e9f6"/>
<rect x="752" y="917.5" width="38" height="3.7" fill="#d7d9ee"/>
<rect x="752" y="931.1" width="38" height="3.7" fill="#b1b7e0"/>
<rect x="752" y="1016.1" width="38" height="3.7" fill="#b1b7e0"/>
<rect x="752" y="1043.3" width="38" height="3.7" fill="#cbceea"/>
<rect x="752" y="1067.1" width="38" height="3.7" fill="#a4abdb"/>
<rect x="752" y="1084.1" width="38" height="7.1" fill="#e8e9f6"/>
<rect x="752" y="1094.3" width="38" height="10.5" fill="#e8e9f6"/>
<rect x="752" y="1162.3" width="38" height="3.7" fill="#bec2e5"/>
<rect x="790" y="754.3" width="40" height="7.1" fill="#e8e9f6"/>
<rect x="790" y="764.5" width="40" height="3.7" fill="#e0e1f2"/>
<rect x="790" y="771.3" width="40" height="3.7" fill="#e8e9f6"/>
<rect x="790" y="774.7" width="40" height="3.7" fill="#d7d9ee"/>
<rect x="790" y="778.1" width="40" height="7.1" fill="#e0e1f2"/>
<rect x="790" y="784.9" width="40" height="3.7" fill="#d7d9ee"/>
<rect x="790" y="788.3" width="40" height="7.1" fill="#e0e1f2"/>
<rect x="790" y="795.1" width="40" height="3.7" fill="#b1b7e0"/>
<rect x="790" y="798.5" width="40" height="3.7" fill="#bec2e5"/>
<rect x="790" y="801.9" width="40" height="3.7" fill="#d7d9ee"/>
<rect x="790" y="805.3" width="40" height="3.7" fill="#cbceea"/>
<rect x="790" y="808.7" width="40" height="3.7" fill="#a4abdb"/>
<rect x="790" y="812.1" width="40" height="3.7" fill="#b1b7e0"/>
<rect x="790" y="815.5" width="40" height="3.7" fill="#e0e1f2"/>
<rect x="790" y="818.9" width="40" height="10.5" fill="#cbceea"/>
<rect x="790" y="829.1" width="40" height="3.7" fill="#d7d9ee"/>
<rect x="790" y="832.5" width="40" height="3.7" fill="#cbceea"/>
<rect x="790" y="835.9" width="40" height="3.7" fill="#bec2e5"/>
<rect x="790" y="839.3" width="40" height="3.7" fill="#b1b7e0"/>
<rect x="790" y="842.7" width="40" height="3.7" fill="#bec2e5"/>
<rect x="790" y="846.1" width="40" height="3.7" fill="#d7d9ee"/>
<rect x="790" y="849.5" width="40" height="3.7" fill="#bec2e5"/>
<rect x="790" y="852.9" width="40" height="3.7" fill="#d7d9ee"/>
<rect x="790" y="856.3" width="40" height="3.7" fill="#e8e9f6"/>
<rect x="790" y="859.7" width="40" height="7.1" fill="#e0e1f2"/>
<rect x="790" y="866.5" width="40" height="7.1" fill="#e8e9f6"/>
<rect x="790" y="948.1" width="40" height="3.7" fill="#e0e1f2"/>
<rect x="790" y="968.5" width="40" height="3.7" fill="#bec2e5"/>
<rect x="790" y="985.5" width="40" height="3.7" fill="#cbceea"/>
<rect x="790" y="1060.3" width="40" height="7.1" fill="#e8e9f6"/>
<rect x="790" y="1077.3" width="40" height="3.7" fill="#e8e9f6"/>
<rect x="790" y="1131.7" width="40" height="3.7" fill="#cbceea"/>
<rect x="790" y="1165.7" width="40" height="3.7" fill="#bec2e5"/>
<rect x="790" y="1172.5" width="40" height="3.7" fill="#b1b7e0"/>
<rect x="790" y="1196.3" width="40" height="3.7" fill="#b1b7e0"/>
<rect x="830" y="750.9" width="42" height="3.7" fill="#e8e9f6"/>
<rect x="830" y="761.1" width="42" height="3.7" fill="#e8e9f6"/>
<rect x="830" y="764.5" width="42" height="3.7" fill="#d7d9ee"/>
<rect x="830" y="767.9" width="42" height="7.1" fill="#e8e9f6"/>
<rect x="830" y="774.7" width="42" height="10.5" fill="#d7d9ee"/>
<rect x="830" y="784.9" width="42" height="3.7" fill="#cbceea"/>
<rect x="830" y="788.3" width="42" height="3.7" fill="#a4abdb"/>
<rect x="830" y="791.7" width="42" height="10.5" fill="#7d8bcc"/>
<rect x="830" y="801.9" width="42" height="3.7" fill="#929cd4"/>
<rect x="830" y="805.3" width="42" height="3.7" fill="#a4abdb"/>
<rect x="830" y="808.7" width="42" height="7.1" fill="#bec2e5"/>
<rect x="830" y="815.5" width="42" height="3.7" fill="#b1b7e0"/>
<rect x="830" y="818.9" width="42" height="3.7" fill="#cbceea"/>
<rect x="830" y="822.3" width="42" height="3.7" fill="#b1b7e0"/>
<rect x="830" y="825.7" width="42" height="3.7" fill="#e8e9f6"/>
<rect x="830" y="829.1" width="42" height="3.7" fill="#d7d9ee"/>
<rect x="830" y="832.5" width="42" height="3.7" fill="#e8e9f6"/>
<rect x="830" y="835.9" width="42" height="7.1" fill="#e0e1f2"/>
<rect x="830" y="842.7" width="42" height="3.7" fill="#e8e9f6"/>
<rect x="830" y="849.5" width="42" height="7.1" fill="#e8e9f6"/>
<rect x="830" y="863.1" width="42" height="3.7" fill="#b1b7e0"/>
<rect x="830" y="866.5" width="42" height="3.7" fill="#d7d9ee"/>
<rect x="830" y="920.9" width="42" height="3.7" fill="#88150b"/>
<rect x="830" y="951.5" width="42" height="3.7" fill="#d7d9ee"/>
<rect x="830" y="1022.9" width="42" height="3.7" fill="#bec2e5"/>
<rect x="830" y="1094.3" width="42" height="3.7" fill="#d7d9ee"/>
<rect x="830" y="1107.9" width="42" height="3.7" fill="#cbceea"/>
<rect x="830" y="1141.9" width="42" height="3.7" fill="#a2473f"/>
<rect x="830" y="1179.3" width="42" height="3.7" fill="#a4abdb"/>
<rect x="872" y="754.3" width="40" height="7.1" fill="#e8e9f6"/>
<rect x="872" y="761.1" width="40" height="7.1" fill="#e0e1f2"/>
<rect x="872" y="767.9" width="40" height="3.7" fill="#e8e9f6"/>
<rect x="872" y="771.3" width="40" height="3.7" fill="#cbceea"/>
<rect x="872" y="774.7" width="40" height="3.7" fill="#bec2e5"/>
<rect x="872" y="778.1" width="40" height="3.7" fill="#929cd4"/>
<rect x="872" y="781.5" width="40" height="3.7" fill="#b1b7e0"/>
<rect x="872" y="784.9" width="40" height="3.7" fill="#183fa2"/>
<rect x="872" y="788.3" width="40" height="7.1" fill="#5067b9"/>
<rect x="872" y="795.1" width="40" height="3.7" fill="#bec2e5"/>
<rect x="872" y="798.5" width="40" height="13.9" fill="#cbceea"/>
<rect x="872" y="812.1" width="40" height="3.7" fill="#bec2e5"/>
<rect x="872" y="815.5" width="40" height="3.7" fill="#e0e1f2"/>
<rect x="872" y="818.9" width="40" height="3.7" fill="#e8e9f6"/>
<rect x="872" y="829.1" width="40" height="3.7" fill="#d7d9ee"/>
<rect x="872" y="832.5" width="40" height="3.7" fill="#e8e9f6"/>
<rect x="872" y="835.9" width="40" height="3.7" fill="#bec2e5"/>
<rect x="872" y="839.3" width="40" height="3.7" fill="#b1b7e0"/>
<rect x="872" y="842.7" width="40" height="3.7" fill="#e8e9f6"/>
<rect x="872" y="859.7" width="40" height="7.1" fill="#e8e9f6"/>
<rect x="872" y="948.1" width="40" height="3.7" fill="#b1b7e0"/>
<rect x="872" y="1016.1" width="40" height="3.7" fill="#bec2e5"/>
<rect x="872" y="1077.3" width="40" height="3.7" fill="#a4abdb"/>
<rect x="872" y="1087.5" width="40" height="3.7" fill="#e8e9f6"/>
<rect x="872" y="1094.3" width="40" height="3.7" fill="#bec2e5"/>
<rect x="872" y="1101.1" width="40" height="3.7" fill="#e8e9f6"/>
<rect x="872" y="1182.7" width="40" height="3.7" fill="#d7d9ee"/>
<rect x="912" y="754.3" width="40" height="3.7" fill="#e0e1f2"/>
<rect x="912" y="757.7" width="40" height="3.7" fill="#cbceea"/>
<rect x="912" y="761.1" width="40" height="3.7" fill="#e0e1f2"/>
<rect x="912" y="764.5" width="40" height="3.7" fill="#b1b7e0"/>
<rect x="912" y="767.9" width="40" height="3.7" fill="#6779c3"/>
<rect x="912" y="771.3" width="40" height="3.7" fill="#183fa2"/>
<rect x="912" y="774.7" width="40" height="3.7" fill="#7d8bcc"/>
<rect x="912" y="778.1" width="40" height="3.7" fill="#6779c3"/>
<rect x="912" y="781.5" width="40" height="3.7" fill="#a4abdb"/>
<rect x="912" y="784.9" width="40" height="3.7" fill="#183fa2"/>
<rect x="912" y="788.3" width="40" height="7.1" fill="#b1b7e0"/>
<rect x="912" y="795.1" width="40" height="3.7" fill="#cbceea"/>
<rect x="912" y="798.5" width="40" height="3.7" fill="#bec2e5"/>
<rect x="912" y="801.9" width="40" height="3.7" fill="#cbceea"/>
<rect x="912" y="805.3" width="40" height="7.1" fill="#e0e1f2"/>
<rect x="912" y="812.1" width="40" height="3.7" fill="#bec2e5"/>
<rect x="912" y="815.5" width="40" height="3.7" fill="#cbceea"/>
<rect x="912" y="818.9" width="40" height="3.7" fill="#d7d9ee"/>
<rect x="912" y="822.3" width="40" height="7.1" fill="#e0e1f2"/>
<rect x="912" y="829.1" width="40" height="3.7" fill="#d7d9ee"/>
<rect x="912" y="832.5" width="40" height="3.7" fill="#e8e9f6"/>
<rect x="952" y="706.7" width="41" height="3.7" fill="#e8e9f6"/>
<rect x="952" y="716.9" width="41" height="3.7" fill="#e8e9f6"/>
<rect x="952" y="750.9" width="41" height="7.1" fill="#e8e9f6"/>
<rect x="952" y="764.5" width="41" height="3.7" fill="#cbceea"/>
<rect x="952" y="767.9" width="41" height="3.7" fill="#929cd4"/>
<rect x="952" y="771.3" width="41" height="3.7" fill="#5067b9"/>
<rect x="952" y="774.7" width="41" height="3.7" fill="#3453ae"/>
<rect x="952" y="778.1" width="41" height="7.1" fill="#929cd4"/>
<rect x="952" y="784.9" width="41" height="3.7" fill="#3453ae"/>
<rect x="952" y="788.3" width="41" height="3.7" fill="#7d8bcc"/>
<rect x="952" y="791.7" width="41" height="3.7" fill="#929cd4"/>
<rect x="952" y="795.1" width="41" height="3.7" fill="#7d8bcc"/>
<rect x="952" y="798.5" width="41" height="3.7" fill="#a4abdb"/>
<rect x="952" y="801.9" width="41" height="3.7" fill="#929cd4"/>
<rect x="952" y="805.3" width="41" height="7.1" fill="#a4abdb"/>
<rect x="952" y="812.1" width="41" height="3.7" fill="#b1b7e0"/>
<rect x="952" y="815.5" width="41" height="3.7" fill="#a4abdb"/>
<rect x="952" y="818.9" width="41" height="3.7" fill="#e0e1f2"/>
<rect x="952" y="822.3" width="41" height="3.7" fill="#e8e9f6"/>
<rect x="952" y="825.7" width="41" height="7.1" fill="#e0e1f2"/>
<rect x="952" y="832.5" width="41" height="3.7" fill="#d7d9ee"/>
<rect x="952" y="835.9" width="41" height="3.7" fill="#e8e9f6"/>
<rect x="952" y="914.1" width="41" height="3.7" fill="#e8e9f6"/>
<rect x="952" y="1073.9" width="41" height="3.7" fill="#aa554e"/>
<rect x="993" y="699.9" width="40" height="3.7" fill="#e8e9f6"/>
<rect x="993" y="716.9" width="40" height="7.1" fill="#e8e9f6"/>
<rect x="993" y="727.1" width="40" height="7.1" fill="#e8e9f6"/>
<rect x="993" y="750.9" width="40" height="7.1" fill="#e8e9f6"/>
<rect x="993" y="761.1" width="40" height="3.7" fill="#b1b7e0"/>
<rect x="993" y="764.5" width="40" height="3.7" fill="#183fa2"/>
<rect x="993" y="767.9" width="40" height="3.7" fill="#a4abdb"/>
<rect x="993" y="771.3" width="40" height="3.7" fill="#103499"/>
<rect x="993" y="774.7" width="40" height="7.1" fill="#a4abdb"/>
<rect x="993" y="781.5" width="40" height="3.7" fill="#7d8bcc"/>
<rect x="993" y="784.9" width="40" height="3.7" fill="#183fa2"/>
<rect x="993" y="788.3" width="40" height="7.1" fill="#6779c3"/>
<rect x="993" y="795.1" width="40" height="3.7" fill="#d7d9ee"/>
<rect x="993" y="798.5" width="40" height="3.7" fill="#929cd4"/>
<rect x="993" y="801.9" width="40" height="3.7" fill="#a4abdb"/>
<rect x="993" y="805.3" width="40" height="3.7" fill="#929cd4"/>
<rect x="993" y="808.7" width="40" height="3.7" fill="#cbceea"/>
<rect x="993" y="812.1" width="40" height="3.7" fill="#d7d9ee"/>
<rect x="993" y="815.5" width="40" height="3.7" fill="#bec2e5"/>
<rect x="993" y="818.9" width="40" height="3.7" fill="#cbceea"/>
<rect x="993" y="822.3" width="40" height="3.7" fill="#d7d9ee"/>
<rect x="993" y="825.7" width="40" height="7.1" fill="#e0e1f2"/>
<rect x="993" y="832.5" width="40" height="3.7" fill="#e8e9f6"/>
<rect x="993" y="835.9" width="40" height="7.1" fill="#e0e1f2"/>
<rect x="993" y="900.5" width="40" height="3.7" fill="#b2655e"/>
<rect x="1033" y="716.9" width="40" height="3.7" fill="#e8e9f6"/>
<rect x="1033" y="720.3" width="40" height="3.7" fill="#e0e1f2"/>
<rect x="1033" y="723.7" width="40" height="3.7" fill="#e8e9f6"/>
<rect x="1033" y="733.9" width="40" height="7.1" fill="#e0e1f2"/>
<rect x="1033" y="740.7" width="40" height="3.7" fill="#e8e9f6"/>
<rect x="1033" y="747.5" width="40" height="7.1" fill="#e8e9f6"/>
<rect x="1033" y="757.7" width="40" height="7.1" fill="#e8e9f6"/>
<rect x="1033" y="764.5" width="40" height="3.7" fill="#7d8bcc"/>
<rect x="1033" y="767.9" width="40" height="3.7" fill="#0c2a91"/>
<rect x="1033" y="771.3" width="40" height="3.7" fill="#103499"/>
<rect x="1033" y="774.7" width="40" height="3.7" fill="#3453ae"/>
<rect x="1033" y="778.1" width="40" height="3.7" fill="#0a248c"/>
<rect x="1033" y="781.5" width="40" height="3.7" fill="#103499"/>
<rect x="1033" y="784.9" width="40" height="3.7" fill="#6779c3"/>
<rect x="1033" y="788.3" width="40" height="7.1" fill="#a4abdb"/>
<rect x="1033" y="795.1" width="40" height="3.7" fill="#bec2e5"/>
<rect x="1033" y="798.5" width="40" height="3.7" fill="#cbceea"/>
<rect x="1033" y="801.9" width="40" height="3.7" fill="#b1b7e0"/>
<rect x="1033" y="805.3" width="40" height="7.1" fill="#a4abdb"/>
<rect x="1033" y="812.1" width="40" height="10.5" fill="#d7d9ee"/>
<rect x="1033" y="822.3" width="40" height="3.7" fill="#cbceea"/>
<rect x="1033" y="825.7" width="40" height="3.7" fill="#e8e9f6"/>
<rect x="1033" y="832.5" width="40" height="3.7" fill="#e8e9f6"/>
<rect x="1033" y="886.9" width="40" height="3.7" fill="#cbceea"/>
<rect x="1033" y="890.3" width="40" height="7.1" fill="#b1b7e0"/>
<rect x="1033" y="897.1" width="40" height="17.3" fill="#e0e1f2"/>
<rect x="1033" y="914.1" width="40" height="3.7" fill="#d7d9ee"/>
<rect x="1073" y="771.3" width="40" height="3.7" fill="#3453ae"/>
<rect x="1073" y="774.7" width="40" height="10.5" fill="#0a248c"/>
<rect x="1073" y="784.9" width="40" height="3.7" fill="#183fa2"/>
<rect x="1073" y="788.3" width="40" height="3.7" fill="#0a248c"/>
<rect x="1073" y="791.7" width="40" height="3.7" fill="#183fa2"/>
<rect x="1073" y="795.1" width="40" height="3.7" fill="#929cd4"/>
<rect x="1073" y="798.5" width="40" height="3.7" fill="#a4abdb"/>
<rect x="1073" y="801.9" width="40" height="3.7" fill="#cbceea"/>
<rect x="1073" y="805.3" width="40" height="3.7" fill="#bec2e5"/>
<rect x="1073" y="808.7" width="40" height="3.7" fill="#cbceea"/>
<rect x="1073" y="812.1" width="40" height="3.7" fill="#d7d9ee"/>
<rect x="1073" y="815.5" width="40" height="7.1" fill="#bec2e5"/>
<rect x="1073" y="822.3" width="40" height="7.1" fill="#d7d9ee"/>
<rect x="1073" y="829.1" width="40" height="3.7" fill="#bec2e5"/>
<rect x="1073" y="832.5" width="40" height="3.7" fill="#d7d9ee"/>
<rect x="1073" y="835.9" width="40" height="7.1" fill="#e8e9f6"/>
<rect x="1073" y="846.1" width="40" height="3.7" fill="#e0e1f2"/>
<rect x="1073" y="890.3" width="40" height="3.7" fill="#e8e9f6"/>
<rect x="1073" y="893.7" width="40" height="10.5" fill="#e0e1f2"/>
<rect x="1073" y="903.9" width="40" height="7.1" fill="#e8e9f6"/>
<rect x="1073" y="914.1" width="40" height="13.9" fill="#e8e9f6"/>
<rect x="1073" y="941.3" width="40" height="3.7" fill="#e8e9f6"/>
<rect x="1113" y="723.7" width="40" height="7.1" fill="#e0e1f2"/>
<rect x="1113" y="733.9" width="40" height="7.1" fill="#e0e1f2"/>
<rect x="1113" y="744.1" width="40" height="3.7" fill="#e8e9f6"/>
<rect x="1113" y="750.9" width="40" height="3.7" fill="#e8e9f6"/>
<rect x="1113" y="757.7" width="40" height="3.7" fill="#bec2e5"/>
<rect x="1113" y="761.1" width="40" height="3.7" fill="#3453ae"/>
<rect x="1113" y="764.5" width="40" height="3.7" fill="#5067b9"/>
<rect x="1113" y="767.9" width="40" height="3.7" fill="#3453ae"/>
<rect x="1113" y="771.3" width="40" height="3.7" fill="#a4abdb"/>
<rect x="1113" y="774.7" width="40" height="3.7" fill="#5067b9"/>
<rect x="1113" y="778.1" width="40" height="3.7" fill="#929cd4"/>
<rect x="1113" y="781.5" width="40" height="3.7" fill="#7d8bcc"/>
<rect x="1113" y="784.9" width="40" height="3.7" fill="#b1b7e0"/>
<rect x="1113" y="788.3" width="40" height="3.7" fill="#7d8bcc"/>
<rect x="1113" y="791.7" width="40" height="3.7" fill="#a4abdb"/>
<rect x="1113" y="795.1" width="40" height="3.7" fill="#bec2e5"/>
<rect x="1113" y="798.5" width="40" height="3.7" fill="#a4abdb"/>
<rect x="1113" y="801.9" width="40" height="3.7" fill="#b1b7e0"/>
<rect x="1113" y="805.3" width="40" height="3.7" fill="#bec2e5"/>
<rect x="1113" y="808.7" width="40" height="3.7" fill="#6779c3"/>
<rect x="1113" y="812.1" width="40" height="3.7" fill="#929cd4"/>
<rect x="1113" y="815.5" width="40" height="3.7" fill="#d7d9ee"/>
<rect x="1113" y="818.9" width="40" height="3.7" fill="#e8e9f6"/>
<rect x="1113" y="822.3" width="40" height="3.7" fill="#d7d9ee"/>
<rect x="1113" y="825.7" width="40" height="3.7" fill="#cbceea"/>
<rect x="1113" y="829.1" width="40" height="3.7" fill="#e0e1f2"/>
<rect x="1113" y="832.5" width="40" height="7.1" fill="#d7d9ee"/>
<rect x="1113" y="839.3" width="40" height="3.7" fill="#e0e1f2"/>
<rect x="1113" y="866.5" width="40" height="3.7" fill="#e0e1f2"/>
<rect x="1113" y="869.9" width="40" height="3.7" fill="#d7d9ee"/>
<rect x="1113" y="873.3" width="40" height="3.7" fill="#bec2e5"/>
<rect x="1113" y="890.3" width="40" height="3.7" fill="#d7d9ee"/>
<rect x="1113" y="893.7" width="40" height="3.7" fill="#bec2e5"/>
<rect x="1113" y="897.1" width="40" height="3.7" fill="#d7d9ee"/>
<rect x="1113" y="900.5" width="40" height="3.7" fill="#e8e9f6"/>
<rect x="1153" y="716.9" width="41" height="3.7" fill="#e8e9f6"/>
<rect x="1153" y="723.7" width="41" height="3.7" fill="#e8e9f6"/>
<rect x="1153" y="733.9" width="41" height="3.7" fill="#e8e9f6"/>
<rect x="1153" y="744.1" width="41" height="3.7" fill="#e8e9f6"/>
<rect x="1153" y="754.3" width="41" height="3.7" fill="#d7d9ee"/>
<rect x="1153" y="757.7" width="41" height="3.7" fill="#6779c3"/>
<rect x="1153" y="761.1" width="41" height="3.7" fill="#7d8bcc"/>
<rect x="1153" y="764.5" width="41" height="3.7" fill="#183fa2"/>
<rect x="1153" y="767.9" width="41" height="3.7" fill="#0a248c"/>
<rect x="1153" y="771.3" width="41" height="3.7" fill="#6779c3"/>
<rect x="1153" y="774.7" width="41" height="3.7" fill="#0a248c"/>
<rect x="1153" y="778.1" width="41" height="3.7" fill="#5067b9"/>
<rect x="1153" y="781.5" width="41" height="3.7" fill="#a4abdb"/>
<rect x="1153" y="784.9" width="41" height="3.7" fill="#d7d9ee"/>
<rect x="1153" y="788.3" width="41" height="3.7" fill="#e0e1f2"/>
<rect x="1153" y="791.7" width="41" height="7.1" fill="#b1b7e0"/>
<rect x="1153" y="798.5" width="41" height="3.7" fill="#cbceea"/>
<rect x="1153" y="801.9" width="41" height="3.7" fill="#b1b7e0"/>
<rect x="1153" y="805.3" width="41" height="3.7" fill="#e0e1f2"/>
<rect x="1153" y="808.7" width="41" height="7.1" fill="#cbceea"/>
<rect x="1153" y="815.5" width="41" height="3.7" fill="#d7d9ee"/>
<rect x="1153" y="818.9" width="41" height="3.7" fill="#e0e1f2"/>
<rect x="1153" y="822.3" width="41" height="3.7" fill="#e8e9f6"/>
<rect x="1153" y="825.7" width="41" height="3.7" fill="#e0e1f2"/>
<rect x="1153" y="829.1" width="41" height="3.7" fill="#e8e9f6"/>
<rect x="1153" y="832.5" width="41" height="3.7" fill="#e0e1f2"/>
<rect x="1153" y="835.9" width="41" height="7.1" fill="#e8e9f6"/>
<rect x="1153" y="859.7" width="41" height="3.7" fill="#e8e9f6"/>
<rect x="1153" y="866.5" width="41" height="10.5" fill="#e8e9f6"/>
<rect x="1153" y="880.1" width="41" height="3.7" fill="#e8e9f6"/>
<rect x="1153" y="988.9" width="41" height="3.7" fill="#e0e1f2"/>
<rect x="1153" y="995.7" width="41" height="10.5" fill="#e8e9f6"/>
<rect x="1153" y="1009.3" width="41" height="3.7" fill="#e8e9f6"/>
<rect x="1194" y="706.7" width="40" height="7.1" fill="#e8e9f6"/>
<rect x="1194" y="723.7" width="40" height="3.7" fill="#e8e9f6"/>
<rect x="1194" y="730.5" width="40" height="3.7" fill="#e8e9f6"/>
<rect x="1194" y="744.1" width="40" height="3.7" fill="#e8e9f6"/>
<rect x="1194" y="747.5" width="40" height="3.7" fill="#e0e1f2"/>
<rect x="1194" y="750.9" width="40" height="3.7" fill="#7d8bcc"/>
<rect x="1194" y="754.3" width="40" height="3.7" fill="#0a248c"/>
<rect x="1194" y="757.7" width="40" height="3.7" fill="#3453ae"/>
<rect x="1194" y="761.1" width="40" height="3.7" fill="#0a248c"/>
<rect x="1194" y="764.5" width="40" height="3.7" fill="#183fa2"/>
<rect x="1194" y="767.9" width="40" height="3.7" fill="#5067b9"/>
<rect x="1194" y="771.3" width="40" height="3.7" fill="#929cd4"/>
<rect x="1194" y="774.7" width="40" height="3.7" fill="#b1b7e0"/>
<rect x="1194" y="778.1" width="40" height="3.7" fill="#d7d9ee"/>
<rect x="1194" y="781.5" width="40" height="3.7" fill="#bec2e5"/>
<rect x="1194" y="784.9" width="40" height="3.7" fill="#a4abdb"/>
<rect x="1194" y="788.3" width="40" height="3.7" fill="#5067b9"/>
<rect x="1194" y="791.7" width="40" height="3.7" fill="#929cd4"/>
<rect x="1194" y="795.1" width="40" height="3.7" fill="#3453ae"/>
<rect x="1194" y="798.5" width="40" height="3.7" fill="#b1b7e0"/>
<rect x="1194" y="801.9" width="40" height="7.1" fill="#e0e1f2"/>
<rect x="1194" y="808.7" width="40" height="24.1" fill="#e8e9f6"/>
<rect x="1194" y="832.5" width="40" height="7.1" fill="#e0e1f2"/>
<rect x="1194" y="863.1" width="40" height="3.7" fill="#9a372f"/>
<rect x="1194" y="866.5" width="40" height="7.1" fill="#d7d9ee"/>
<rect x="1194" y="873.3" width="40" height="3.7" fill="#bec2e5"/>
<rect x="1234" y="754.3" width="40" height="3.7" fill="#bec2e5"/>
<rect x="1234" y="757.7" width="40" height="3.7" fill="#7d8bcc"/>
<rect x="1234" y="761.1" width="40" height="3.7" fill="#183fa2"/>
<rect x="1234" y="764.5" width="40" height="3.7" fill="#7d8bcc"/>
<rect x="1234" y="767.9" width="40" height="3.7" fill="#5067b9"/>
<rect x="1234" y="771.3" width="40" height="3.7" fill="#929cd4"/>
<rect x="1234" y="774.7" width="40" height="3.7" fill="#3453ae"/>
<rect x="1234" y="778.1" width="40" height="3.7" fill="#183fa2"/>
<rect x="1234" y="781.5" width="40" height="3.7" fill="#6779c3"/>
<rect x="1234" y="784.9" width="40" height="3.7" fill="#b1b7e0"/>
<rect x="1234" y="788.3" width="40" height="3.7" fill="#a4abdb"/>
<rect x="1234" y="791.7" width="40" height="3.7" fill="#bec2e5"/>
<rect x="1234" y="795.1" width="40" height="3.7" fill="#7d8bcc"/>
<rect x="1234" y="798.5" width="40" height="3.7" fill="#d7d9ee"/>
<rect x="1234" y="801.9" width="40" height="7.1" fill="#cbceea"/>
<rect x="1234" y="808.7" width="40" height="3.7" fill="#a4abdb"/>
<rect x="1234" y="812.1" width="40" height="3.7" fill="#d7d9ee"/>
<rect x="1234" y="815.5" width="40" height="7.1" fill="#e0e1f2"/>
<rect x="1234" y="822.3" width="40" height="10.5" fill="#e8e9f6"/>
<rect x="1234" y="1114.7" width="40" height="7.1" fill="#e8e9f6"/>
<rect x="1234" y="1121.5" width="40" height="3.7" fill="#e0e1f2"/>
<rect x="1234" y="1124.9" width="40" height="3.7" fill="#e8e9f6"/>
<rect x="1234" y="1128.3" width="40" height="3.7" fill="#e0e1f2"/>
<rect x="1274" y="754.3" width="40" height="10.5" fill="#b1b7e0"/>
<rect x="1274" y="764.5" width="40" height="3.7" fill="#bec2e5"/>
<rect x="1274" y="767.9" width="40" height="3.7" fill="#5067b9"/>
<rect x="1274" y="771.3" width="40" height="7.1" fill="#0a248c"/>
<rect x="1274" y="778.1" width="40" height="3.7" fill="#183fa2"/>
<rect x="1274" y="781.5" width="40" height="3.7" fill="#5067b9"/>
<rect x="1274" y="784.9" width="40" height="3.7" fill="#7d8bcc"/>
<rect x="1274" y="788.3" width="40" height="3.7" fill="#b1b7e0"/>
<rect x="1274" y="791.7" width="40" height="3.7" fill="#a4abdb"/>
<rect x="1274" y="795.1" width="40" height="3.7" fill="#6779c3"/>
<rect x="1274" y="798.5" width="40" height="3.7" fill="#7d8bcc"/>
<rect x="1274" y="801.9" width="40" height="3.7" fill="#cbceea"/>
<rect x="1274" y="805.3" width="40" height="3.7" fill="#929cd4"/>
<rect x="1274" y="808.7" width="40" height="7.1" fill="#d7d9ee"/>
<rect x="1274" y="815.5" width="40" height="3.7" fill="#e0e1f2"/>
<rect x="1274" y="818.9" width="40" height="3.7" fill="#e8e9f6"/>
<rect x="1274" y="822.3" width="40" height="3.7" fill="#e0e1f2"/>
<rect x="1274" y="890.3" width="40" height="3.7" fill="#e0e1f2"/>
<rect x="1274" y="893.7" width="40" height="3.7" fill="#d7d9ee"/>
<rect x="1274" y="897.1" width="40" height="3.7" fill="#e0e1f2"/>
<rect x="1274" y="1111.3" width="40" height="7.1" fill="#e8e9f6"/>
<rect x="1274" y="1118.1" width="40" height="7.1" fill="#d7d9ee"/>
<rect x="1274" y="1124.9" width="40" height="3.7" fill="#e0e1f2"/>
<rect x="1274" y="1128.3" width="40" height="3.7" fill="#e8e9f6"/>
<rect x="1314" y="754.3" width="40" height="3.7" fill="#e8e9f6"/>
<rect x="1314" y="757.7" width="40" height="3.7" fill="#183fa2"/>
<rect x="1314" y="761.1" width="40" height="3.7" fill="#103499"/>
<rect x="1314" y="764.5" width="40" height="3.7" fill="#6779c3"/>
<rect x="1314" y="767.9" width="40" height="3.7" fill="#7d8bcc"/>
<rect x="1314" y="771.3" width="40" height="7.1" fill="#0a248c"/>
<rect x="1314" y="778.1" width="40" height="3.7" fill="#6779c3"/>
<rect x="1314" y="781.5" width="40" height="3.7" fill="#7d8bcc"/>
<rect x="1314" y="784.9" width="40" height="3.7" fill="#bec2e5"/>
<rect x="1314" y="788.3" width="40" height="7.1" fill="#7d8bcc"/>
<rect x="1314" y="795.1" width="40" height="3.7" fill="#cbceea"/>
<rect x="1314" y="798.5" width="40" height="3.7" fill="#bec2e5"/>
<rect x="1314" y="801.9" width="40" height="3.7" fill="#6779c3"/>
<rect x="1314" y="805.3" width="40" height="3.7" fill="#b1b7e0"/>
<rect x="1314" y="808.7" width="40" height="3.7" fill="#bec2e5"/>
<rect x="1314" y="812.1" width="40" height="10.5" fill="#d7d9ee"/>
<rect x="1314" y="822.3" width="40" height="7.1" fill="#e8e9f6"/>
<rect x="1314" y="835.9" width="40" height="3.7" fill="#e8e9f6"/>
<rect x="1314" y="893.7" width="40" height="13.9" fill="#e8e9f6"/>
<rect x="1314" y="910.7" width="40" height="3.7" fill="#e8e9f6"/>
<rect x="1314" y="917.5" width="40" height="3.7" fill="#e8e9f6"/>
<rect x="1354" y="754.3" width="40" height="3.7" fill="#e8e9f6"/>
<rect x="1354" y="757.7" width="40" height="3.7" fill="#0a248c"/>
<rect x="1354" y="761.1" width="40" height="3.7" fill="#5067b9"/>
<rect x="1354" y="764.5" width="40" height="3.7" fill="#103499"/>
<rect x="1354" y="767.9" width="40" height="3.7" fill="#6779c3"/>
<rect x="1354" y="771.3" width="40" height="7.1" fill="#0a248c"/>
<rect x="1354" y="778.1" width="40" height="3.7" fill="#5067b9"/>
<rect x="1354" y="781.5" width="40" height="3.7" fill="#0c2a91"/>
<rect x="1354" y="784.9" width="40" height="3.7" fill="#7d8bcc"/>
<rect x="1354" y="798.5" width="40" height="7.1" fill="#cbceea"/>
<rect x="1354" y="805.3" width="40" height="3.7" fill="#b1b7e0"/>
<rect x="1354" y="808.7" width="40" height="3.7" fill="#bec2e5"/>
<rect x="1354" y="812.1" width="40" height="3.7" fill="#d7d9ee"/>
<rect x="1354" y="815.5" width="40" height="3.7" fill="#b1b7e0"/>
<rect x="1354" y="818.9" width="40" height="3.7" fill="#a4abdb"/>
<rect x="1354" y="822.3" width="40" height="3.7" fill="#cbceea"/>
<rect x="1354" y="825.7" width="40" height="10.5" fill="#e0e1f2"/>
<rect x="1354" y="835.9" width="40" height="3.7" fill="#d7d9ee"/>
<rect x="1354" y="839.3" width="40" height="3.7" fill="#cbceea"/>
<rect x="1354" y="842.7" width="40" height="3.7" fill="#d7d9ee"/>
<rect x="1354" y="893.7" width="40" height="3.7" fill="#e8e9f6"/>
<rect x="1354" y="897.1" width="40" height="3.7" fill="#e0e1f2"/>
<rect x="1354" y="917.5" width="40" height="3.7" fill="#af5e58"/>
<rect x="1394" y="754.3" width="40" height="3.7" fill="#929cd4"/>
<rect x="1394" y="757.7" width="40" height="3.7" fill="#a4abdb"/>
<rect x="1394" y="761.1" width="40" height="3.7" fill="#b1b7e0"/>
<rect x="1394" y="764.5" width="40" height="3.7" fill="#a4abdb"/>
<rect x="1394" y="767.9" width="40" height="3.7" fill="#3453ae"/>
<rect x="1394" y="771.3" width="40" height="3.7" fill="#929cd4"/>
<rect x="1394" y="774.7" width="40" height="3.7" fill="#183fa2"/>
<rect x="1394" y="778.1" width="40" height="3.7" fill="#6779c3"/>
<rect x="1394" y="781.5" width="40" height="7.1" fill="#7d8bcc"/>
<rect x="1394" y="788.3" width="40" height="3.7" fill="#929cd4"/>
<rect x="1394" y="791.7" width="40" height="3.7" fill="#bec2e5"/>
<rect x="1394" y="795.1" width="40" height="3.7" fill="#b1b7e0"/>
<rect x="1394" y="805.3" width="40" height="3.7" fill="#e8e9f6"/>
<rect x="1394" y="808.7" width="40" height="3.7" fill="#a4abdb"/>
<rect x="1394" y="812.1" width="40" height="7.1" fill="#bec2e5"/>
<rect x="1394" y="818.9" width="40" height="3.7" fill="#b1b7e0"/>
<rect x="1394" y="822.3" width="40" height="3.7" fill="#bec2e5"/>
<rect x="1394" y="825.7" width="40" height="3.7" fill="#d7d9ee"/>
<rect x="1394" y="829.1" width="40" height="3.7" fill="#e8e9f6"/>
<rect x="1394" y="832.5" width="40" height="7.1" fill="#e0e1f2"/>
<rect x="1394" y="839.3" width="40" height="10.5" fill="#e8e9f6"/>
<rect x="1394" y="852.9" width="40" height="10.5" fill="#e8e9f6"/>
<rect x="1394" y="866.5" width="40" height="3.7" fill="#e8e9f6"/>
<rect x="1394" y="1067.1" width="40" height="3.7" fill="#9f3f37"/>
<rect x="1434" y="757.7" width="41" height="3.7" fill="#929cd4"/>
<rect x="1434" y="761.1" width="41" height="3.7" fill="#a4abdb"/>
<rect x="1434" y="764.5" width="41" height="7.1" fill="#929cd4"/>
<rect x="1434" y="771.3" width="41" height="3.7" fill="#a4abdb"/>
<rect x="1434" y="774.7" width="41" height="3.7" fill="#6779c3"/>
<rect x="1434" y="778.1" width="41" height="3.7" fill="#a4abdb"/>
<rect x="1434" y="781.5" width="41" height="7.1" fill="#929cd4"/>
<rect x="1434" y="788.3" width="41" height="3.7" fill="#b1b7e0"/>
<rect x="1434" y="791.7" width="41" height="3.7" fill="#929cd4"/>
<rect x="1434" y="795.1" width="41" height="7.1" fill="#7d8bcc"/>
<rect x="1434" y="801.9" width="41" height="3.7" fill="#bec2e5"/>
<rect x="1434" y="805.3" width="41" height="3.7" fill="#d7d9ee"/>
<rect x="1434" y="808.7" width="41" height="3.7" fill="#bec2e5"/>
<rect x="1434" y="812.1" width="41" height="3.7" fill="#b1b7e0"/>
<rect x="1434" y="815.5" width="41" height="3.7" fill="#d7d9ee"/>
<rect x="1434" y="818.9" width="41" height="3.7" fill="#cbceea"/>
<rect x="1434" y="822.3" width="41" height="3.7" fill="#e0e1f2"/>
<rect x="1434" y="825.7" width="41" height="3.7" fill="#d7d9ee"/>
<rect x="1434" y="829.1" width="41" height="3.7" fill="#cbceea"/>
<rect x="1434" y="832.5" width="41" height="3.7" fill="#e0e1f2"/>
<rect x="1434" y="835.9" width="41" height="3.7" fill="#e8e9f6"/>
<rect x="1434" y="839.3" width="41" height="3.7" fill="#e0e1f2"/>
<rect x="1434" y="1053.5" width="41" height="10.5" fill="#e8e9f6"/>
<rect x="1475" y="750.9" width="40" height="3.7" fill="#cbceea"/>
<rect x="1475" y="754.3" width="40" height="3.7" fill="#6779c3"/>
<rect x="1475" y="757.7" width="40" height="3.7" fill="#bec2e5"/>
<rect x="1475" y="761.1" width="40" height="3.7" fill="#b1b7e0"/>
<rect x="1475" y="764.5" width="40" height="3.7" fill="#bec2e5"/>
<rect x="1475" y="767.9" width="40" height="7.1" fill="#0a248c"/>
<rect x="1475" y="774.7" width="40" height="3.7" fill="#0c2a91"/>
<rect x="1475" y="778.1" width="40" height="7.1" fill="#bec2e5"/>
<rect x="1475" y="784.9" width="40" height="3.7" fill="#d7d9ee"/>
<rect x="1475" y="788.3" width="40" height="3.7" fill="#bec2e5"/>
<rect x="1475" y="791.7" width="40" height="7.1" fill="#cbceea"/>
<rect x="1475" y="798.5" width="40" height="3.7" fill="#bec2e5"/>
<rect x="1475" y="801.9" width="40" height="10.5" fill="#cbceea"/>
<rect x="1475" y="812.1" width="40" height="7.1" fill="#e8e9f6"/>
<rect x="1475" y="818.9" width="40" height="10.5" fill="#d7d9ee"/>
<rect x="1475" y="829.1" width="40" height="3.7" fill="#e8e9f6"/>
<rect x="1475" y="832.5" width="40" height="3.7" fill="#d7d9ee"/>
<rect x="1475" y="835.9" width="40" height="3.7" fill="#e0e1f2"/>
<rect x="1475" y="846.1" width="40" height="3.7" fill="#e8e9f6"/>
<rect x="1515" y="703.3" width="40" height="3.7" fill="#e8e9f6"/>
<rect x="1515" y="710.1" width="40" height="7.1" fill="#e8e9f6"/>
<rect x="1515" y="716.9" width="40" height="3.7" fill="#e0e1f2"/>
<rect x="1515" y="727.1" width="40" height="7.1" fill="#e8e9f6"/>
<rect x="1515" y="737.3" width="40" height="7.1" fill="#e8e9f6"/>
<rect x="1515" y="744.1" width="40" height="3.7" fill="#e0e1f2"/>
<rect x="1515" y="754.3" width="40" height="3.7" fill="#d7d9ee"/>
<rect x="1515" y="757.7" width="40" height="7.1" fill="#7d8bcc"/>
<rect x="1515" y="764.5" width="40" height="3.7" fill="#b1b7e0"/>
<rect x="1515" y="767.9" width="40" height="3.7" fill="#6779c3"/>
<rect x="1515" y="771.3" width="40" height="3.7" fill="#0a248c"/>
<rect x="1515" y="774.7" width="40" height="3.7" fill="#103499"/>
<rect x="1515" y="778.1" width="40" height="3.7" fill="#0a248c"/>
<rect x="1515" y="781.5" width="40" height="3.7" fill="#cbceea"/>
<rect x="1515" y="784.9" width="40" height="3.7" fill="#d7d9ee"/>
<rect x="1515" y="788.3" width="40" height="3.7" fill="#e0e1f2"/>
<rect x="1515" y="791.7" width="40" height="3.7" fill="#d7d9ee"/>
<rect x="1515" y="795.1" width="40" height="3.7" fill="#e0e1f2"/>
<rect x="1515" y="798.5" width="40" height="3.7" fill="#929cd4"/>
<rect x="1515" y="801.9" width="40" height="3.7" fill="#bec2e5"/>
<rect x="1515" y="805.3" width="40" height="3.7" fill="#b1b7e0"/>
<rect x="1515" y="808.7" width="40" height="3.7" fill="#929cd4"/>
<rect x="1515" y="812.1" width="40" height="3.7" fill="#bec2e5"/>
<rect x="1515" y="815.5" width="40" height="7.1" fill="#e0e1f2"/>
<rect x="1515" y="822.3" width="40" height="7.1" fill="#e8e9f6"/>
<rect x="1515" y="829.1" width="40" height="2.3" fill="#d7d9ee"/>
<rect x="1555" y="706.7" width="43" height="3.7" fill="#e8e9f6"/>
<rect x="1555" y="713.5" width="43" height="3.7" fill="#e8e9f6"/>
<rect x="1555" y="716.9" width="43" height="3.7" fill="#e0e1f2"/>
<rect x="1555" y="723.7" width="43" height="3.7" fill="#e8e9f6"/>
<rect x="1555" y="730.5" width="43" height="7.1" fill="#e8e9f6"/>
<rect x="1555" y="737.3" width="43" height="3.7" fill="#e0e1f2"/>
<rect x="1555" y="740.7" width="43" height="7.1" fill="#e8e9f6"/>
<rect x="1555" y="750.9" width="43" height="3.7" fill="#e8e9f6"/>
<rect x="1555" y="754.3" width="43" height="3.7" fill="#d7d9ee"/>
<rect x="1555" y="757.7" width="43" height="3.7" fill="#b1b7e0"/>
<rect x="1555" y="761.1" width="43" height="3.7" fill="#183fa2"/>
<rect x="1555" y="764.5" width="43" height="3.7" fill="#b1b7e0"/>
<rect x="1555" y="767.9" width="43" height="3.7" fill="#183fa2"/>
<rect x="1555" y="771.3" width="43" height="3.7" fill="#7d8bcc"/>
<rect x="1555" y="774.7" width="43" height="3.7" fill="#103499"/>
<rect x="1555" y="778.1" width="43" height="3.7" fill="#6779c3"/>
<rect x="1555" y="781.5" width="43" height="3.7" fill="#d7d9ee"/>
<rect x="1555" y="784.9" width="43" height="3.7" fill="#bec2e5"/>
<rect x="1555" y="788.3" width="43" height="3.7" fill="#cbceea"/>
<rect x="1555" y="791.7" width="43" height="3.7" fill="#bec2e5"/>
<rect x="1555" y="795.1" width="43" height="3.7" fill="#d7d9ee"/>
<rect x="1555" y="798.5" width="43" height="3.7" fill="#a4abdb"/>
<rect x="1555" y="801.9" width="43" height="3.7" fill="#bec2e5"/>
<rect x="1555" y="805.3" width="43" height="3.7" fill="#e0e1f2"/>
<rect x="1555" y="808.7" width="43" height="3.7" fill="#cbceea"/>
<rect x="1555" y="812.1" width="43" height="3.7" fill="#bec2e5"/>
<rect x="1555" y="815.5" width="43" height="3.7" fill="#d7d9ee"/>
<rect x="127" y="697" width="1471" height="3" fill="#1a2a9a"/>
<polygon points="127,820.9 147,820.9 165.5,837.1 186,860.1 227,1044.1 240.5,1200.5 127,1200.5" fill="#808080"/>
<polygon points="301.5,1200.5 307.9,1143 321.7,1200.5" fill="#808080"/>
<polygon points="331.8,1200.5 367.1,991.5 402,1200.5" fill="#808080"/>
<clipPath id="clipC"><polygon points="133,1318.5 1573,1318.5 1573,1762 394,1762 382,1605 360,1490 345,1490 335,1605 324,1762 315,1762 301,1570 280.4,1762 239,1762 236.7,1736 224.7,1605 207,1496 201.8,1431 197,1372 176,1380"/></clipPath>
<mask id="mkC" maskUnits="userSpaceOnUse" x="0" y="1258.6" width="1772" height="520"><g fill="#fff" filter="url(#fBl)"><polygon points="1000,1322 1573,1322 1573,1382 1000,1382"/><polygon points="820,1334 1000,1322 1000,1427 820,1439"/><polygon points="650,1411 820,1341 820,1401 650,1471"/><polygon points="560,1334 760,1381 760,1417 560,1370"/><polygon points="600,1436 700,1436 700,1470 600,1470"/><polygon points="425,1436 465,1436 465,1466 425,1466"/><polygon points="920,1474 1000,1474 1000,1510 920,1510"/><polygon points="225,1508 340,1501 340,1559 225,1566"/><polygon points="1380,1388 1570,1416 1570,1448 1380,1420"/></g></mask>
<g clip-path="url(#clipC)">
<rect x="127" y="1316.6" width="1450" height="446" filter="url(#fS)"/>
<rect x="127" y="1316.6" width="1450" height="300" filter="url(#fS2)" mask="url(#mkC)"/>
<polyline points="1000,1331 1004,1328 1008,1326.6 1012,1329 1016,1331.5 1020,1333.7 1024,1330.5 1028,1327.2 1032,1324 1036,1325 1040,1327.3 1044,1329.5 1048,1328.8 1052,1325.5 1056,1322.2 1060,1320.5 1064,1322.7 1068,1325 1072,1327.2 1076,1324 1080,1320.9 1084,1317.8 1088,1319.1 1092,1321.7 1096,1324.3 1100,1324.1 1104,1321.3 1108,1318.5 1112,1317.4 1116,1320.3 1120,1323.3 1124,1326.1 1128,1323.6 1132,1321.2 1136,1318.8 1140,1320.8 1144,1324.1 1148,1327.3 1152,1327.6 1156,1325.4 1160,1323.2 1164,1322.5 1168,1325.8 1172,1329.1 1176,1332.2 1180,1329.9 1184,1327.6 1188,1325.3 1192,1327.3 1196,1330.4 1200,1333.5 1204,1333.5 1208,1331 1212,1328.3 1216,1327.3 1220,1330.1 1224,1332.8 1228,1335.3 1232,1332.4 1236,1329.4 1240,1326.4 1244,1327.7 1248,1330.1 1252,1332.5 1256,1331.9 1260,1328.7 1264,1325.4 1268,1323.7 1272,1325.9 1276,1328.2 1280,1330.2 1284,1326.9 1288,1323.6 1292,1320.3 1296,1321.4 1300,1323.7 1304,1326 1308,1325.5 1312,1322.3 1316,1319.2 1320,1317.8 1324,1320.4 1328,1323 1332,1325.4 1336,1322.6 1340,1319.9 1344,1317.2 1348,1318.9 1352,1321.9 1356,1324.9 1360,1325 1364,1322.5 1368,1320.2 1372,1319.4 1376,1322.6 1380,1325.9 1384,1329 1388,1326.7 1392,1324.5 1396,1322.2 1400,1324.4 1404,1327.7 1408,1330.9 1412,1331.3 1416,1329 1420,1326.6 1424,1325.8 1428,1329 1432,1332 1436,1334.9 1440,1332.3 1444,1329.7 1448,1327.1 1452,1328.7 1456,1331.4 1460,1334.1 1464,1333.8 1468,1330.8 1472,1327.8 1476,1326.4 1480,1328.8 1484,1331.2 1488,1333.3 1492,1330.1 1496,1326.9 1500,1323.6 1504,1324.6 1508,1326.9 1512,1329.1 1516,1328.4 1520,1325.1 1524,1321.8 1528,1320.1 1532,1322.4 1536,1324.7 1540,1326.9 1544,1323.8 1548,1320.7 1552,1317.6 1556,1319 1560,1321.6 1564,1324.3 1568,1324 1572,1321.3" fill="none" stroke="#ff4a4a" stroke-width="1.8" stroke-opacity="0.45"/>
<polyline points="1000,1331.7 1004,1334.1 1008,1336.5 1012,1337 1016,1333.8 1020,1330.5 1024,1327.7 1028,1329.9 1032,1332.2 1036,1334.4 1040,1332 1044,1328.7 1048,1325.4 1052,1325.4 1056,1327.7 1060,1330 1064,1330.6 1068,1327.4 1072,1324.3 1076,1321.8 1080,1324.3 1084,1326.9 1088,1329.6 1092,1327.7 1096,1324.9 1100,1322.2 1104,1322.8 1108,1325.8 1112,1328.8 1116,1330 1120,1327.6 1124,1325.2 1128,1323.3 1132,1326.5 1136,1329.8 1140,1333 1144,1331.7 1148,1329.5 1152,1327.3 1156,1328.2 1160,1331.5 1164,1334.8 1168,1336.3 1172,1334 1176,1331.6 1180,1329.7 1184,1332.9 1188,1336 1192,1339 1196,1337.4 1200,1334.8 1204,1332.1 1208,1332.6 1212,1335.4 1216,1338.1 1220,1338.9 1224,1335.9 1228,1332.9 1232,1330.3 1236,1332.8 1240,1335.2 1244,1337.5 1248,1335.2 1252,1332 1256,1328.7 1260,1328.6 1264,1330.9 1268,1333.1 1272,1333.5 1276,1330.2 1280,1326.9 1284,1324.1 1288,1326.4 1292,1328.7 1296,1331.1 1300,1328.9 1304,1325.8 1308,1322.7 1312,1322.9 1316,1325.5 1320,1328.2 1324,1329.1 1328,1326.3 1332,1323.6 1336,1321.4 1340,1324.4 1344,1327.4 1348,1330.4 1352,1328.9 1356,1326.5 1360,1324.2 1364,1325.1 1368,1328.3 1372,1331.6 1376,1333 1380,1330.8 1384,1328.6 1388,1326.8 1392,1330.1 1396,1333.4 1400,1336.7 1404,1335.3 1408,1333 1412,1330.6 1416,1331.4 1420,1334.5 1424,1337.6 1428,1338.7 1432,1336.1 1436,1333.5 1440,1331.2 1444,1334 1448,1336.7 1452,1339.3 1456,1337.3 1460,1334.3 1464,1331.3 1468,1331.4 1472,1333.8 1476,1336.2 1480,1336.7 1484,1333.4 1488,1330.1 1492,1327.3 1496,1329.5 1500,1331.8 1504,1334 1508,1331.6 1512,1328.3 1516,1325.1 1520,1325 1524,1327.4 1528,1329.7 1532,1330.3 1536,1327.2 1540,1324.1 1544,1321.6 1548,1324.2 1552,1326.8 1556,1329.5 1560,1327.7 1564,1325 1568,1322.3 1572,1323" fill="none" stroke="#4a4aff" stroke-width="1.8" stroke-opacity="0.45"/>
<polyline points="1000,1335.5 1004,1333.8 1008,1336.1 1012,1338.4 1016,1340.5 1020,1337.2 1024,1333.9 1028,1330.6 1032,1331.6 1036,1333.8 1040,1336.1 1044,1335.5 1048,1332.3 1052,1329.1 1056,1327.5 1060,1329.9 1064,1332.4 1068,1334.8 1072,1331.8 1076,1329 1080,1326.1 1084,1327.7 1088,1330.5 1092,1333.4 1096,1333.4 1100,1330.9 1104,1328.4 1108,1327.4 1112,1330.6 1116,1333.8 1120,1336.8 1124,1334.5 1128,1332.3 1132,1330 1136,1332.1 1140,1335.4 1144,1338.7 1148,1339.1 1152,1336.8 1156,1334.6 1160,1333.8 1164,1337 1168,1340.2 1172,1343.2 1176,1340.8 1180,1338.3 1184,1335.8 1188,1337.5 1192,1340.3 1196,1343.2 1200,1343 1204,1340.2 1208,1337.3 1212,1335.9 1216,1338.5 1220,1341 1224,1343.3 1228,1340.1 1232,1337 1236,1333.7 1240,1334.8 1244,1337.1 1248,1339.3 1252,1338.6 1256,1335.3 1260,1332 1264,1330.2 1268,1332.5 1272,1334.8 1276,1336.9 1280,1333.7 1284,1330.5 1288,1327.4 1292,1328.5 1296,1331 1300,1333.6 1304,1333.2 1308,1330.4 1312,1327.5 1316,1326.3 1320,1329.1 1324,1332 1328,1334.8 1332,1332.2 1336,1329.7 1340,1327.3 1344,1329.1 1348,1332.3 1352,1335.5 1356,1335.9 1360,1333.6 1364,1331.3 1368,1330.6 1372,1333.9 1376,1337.2 1380,1340.4 1384,1338.2 1388,1335.9 1392,1333.6 1396,1335.6 1400,1338.8 1404,1341.9 1408,1342.1 1412,1339.6 1416,1337.1 1420,1336 1424,1338.9 1428,1341.8 1432,1344.4 1436,1341.6 1440,1338.7 1444,1335.8 1448,1337.1 1452,1339.6 1456,1342.1 1460,1341.6 1464,1338.4 1468,1335.2 1472,1333.5 1476,1335.7 1480,1338 1484,1340.1 1488,1336.8 1492,1333.5 1496,1330.2 1500,1331.2 1504,1333.4 1508,1335.7 1512,1335.1 1516,1331.9 1520,1328.8 1524,1327.2 1528,1329.7 1532,1332.2 1536,1334.7 1540,1331.8 1544,1328.9 1548,1326.1 1552,1327.7 1556,1330.6 1560,1333.5 1564,1333.6 1568,1331.1 1572,1328.6" fill="none" stroke="#ff4a4a" stroke-width="1.8" stroke-opacity="0.45"/>
<polyline points="1000,1339.6 1004,1341.8 1008,1344 1012,1342 1016,1338.6 1020,1335.3 1024,1335 1028,1337.2 1032,1339.5 1036,1340.3 1040,1337.1 1044,1334 1048,1331 1052,1333.5 1056,1336 1060,1338.6 1064,1336.9 1068,1334.1 1072,1331.3 1076,1331.5 1080,1334.4 1084,1337.3 1088,1338.7 1092,1336.2 1096,1333.8 1100,1331.5 1104,1334.7 1108,1337.9 1112,1341.2 1116,1340.1 1120,1337.9 1124,1335.6 1128,1336.3 1132,1339.6 1136,1342.9 1140,1344.7 1144,1342.4 1148,1340.1 1152,1338 1156,1341.2 1160,1344.3 1164,1347.4 1168,1346.2 1172,1343.7 1176,1341.1 1180,1341.4 1184,1344.2 1188,1347 1192,1348.2 1196,1345.3 1200,1342.4 1204,1339.6 1208,1342.1 1212,1344.5 1216,1347 1220,1345 1224,1341.8 1228,1338.6 1232,1338.2 1236,1340.5 1240,1342.7 1244,1343.4 1248,1340.1 1252,1336.8 1256,1333.7 1260,1335.9 1264,1338.2 1268,1340.5 1272,1338.5 1276,1335.4 1280,1332.3 1284,1332.1 1288,1334.7 1292,1337.2 1296,1338.3 1300,1335.5 1304,1332.7 1308,1330.1 1312,1333 1316,1335.9 1320,1338.9 1324,1337.6 1328,1335.1 1332,1332.7 1336,1333.3 1340,1336.5 1344,1339.7 1348,1341.4 1352,1339.2 1356,1336.9 1360,1334.9 1364,1338.2 1368,1341.5 1372,1344.8 1376,1343.7 1380,1341.5 1384,1339.2 1388,1339.7 1392,1342.9 1396,1346 1400,1347.5 1404,1345 1408,1342.4 1412,1340 1416,1342.8 1420,1345.6 1424,1348.4 1428,1346.7 1432,1343.8 1436,1340.8 1440,1340.7 1444,1343.2 1448,1345.6 1452,1346.4 1456,1343.2 1460,1340 1464,1336.9 1468,1339.2 1472,1341.4 1476,1343.6 1480,1341.5 1484,1338.2 1488,1334.9 1492,1334.6 1496,1336.9 1500,1339.2 1504,1340 1508,1336.8 1512,1333.7 1516,1330.8 1520,1333.3 1524,1335.9 1528,1338.5 1532,1336.9 1536,1334.1 1540,1331.3 1544,1331.6 1548,1334.5 1552,1337.5 1556,1338.9 1560,1336.5 1564,1334.1 1568,1331.8 1572,1335" fill="none" stroke="#4a4aff" stroke-width="1.8" stroke-opacity="0.45"/>
<polyline points="1000,1343 1004,1345.3 1008,1347.5 1012,1344.5 1016,1341.2 1020,1338 1024,1338.6 1028,1340.9 1032,1343.3 1036,1343.3 1040,1340.2 1044,1337.2 1048,1335.3 1052,1337.9 1056,1340.6 1060,1343.3 1064,1340.9 1068,1338.2 1072,1335.6 1076,1336.9 1080,1339.9 1084,1343 1088,1343.7 1092,1341.3 1096,1338.9 1100,1337.7 1104,1341 1108,1344.2 1112,1347.5 1116,1345.6 1120,1343.4 1124,1341.2 1128,1342.8 1132,1346 1136,1349.3 1140,1350.1 1144,1347.7 1148,1345.4 1152,1344 1156,1347.1 1160,1350.1 1164,1353.1 1168,1350.8 1172,1348.1 1176,1345.4 1180,1346.4 1184,1349.1 1188,1351.7 1192,1351.8 1196,1348.8 1200,1345.7 1204,1343.7 1208,1346.1 1212,1348.4 1216,1350.7 1220,1347.8 1224,1344.5 1228,1341.2 1232,1341.7 1236,1343.9 1240,1346.2 1244,1346 1248,1342.7 1252,1339.4 1256,1337.3 1260,1339.6 1264,1342 1268,1344.4 1272,1341.6 1276,1338.6 1280,1335.6 1284,1336.5 1288,1339.2 1292,1342 1296,1342.3 1300,1339.6 1304,1337 1308,1335.5 1312,1338.5 1316,1341.6 1320,1344.7 1324,1342.6 1328,1340.3 1332,1338 1336,1339.5 1340,1342.8 1344,1346.1 1348,1346.9 1352,1344.7 1356,1342.5 1360,1341.3 1364,1344.6 1368,1347.9 1372,1351.1 1376,1349.1 1380,1346.7 1384,1344.3 1388,1345.7 1392,1348.7 1396,1351.7 1400,1352.1 1404,1349.5 1408,1346.7 1412,1345 1416,1347.7 1420,1350.3 1424,1352.9 1428,1350.2 1432,1347.2 1436,1344 1440,1344.7 1444,1347.1 1448,1349.4 1452,1349.2 1456,1345.9 1460,1342.6 1464,1340.4 1468,1342.6 1472,1344.9 1476,1347.1 1480,1344.1 1484,1340.9 1488,1337.6 1492,1338.3 1496,1340.6 1500,1343 1504,1343 1508,1340 1512,1337 1516,1335.2 1520,1337.8 1524,1340.6 1528,1343.4 1532,1341 1536,1338.3 1540,1335.8 1544,1337.1 1548,1340.1 1552,1343.2 1556,1343.9 1560,1341.6 1564,1339.3 1568,1338.1 1572,1341.3" fill="none" stroke="#ff4a4a" stroke-width="1.8" stroke-opacity="0.45"/>
<polyline points="1000,1351.1 1004,1347.8 1008,1344.5 1012,1341.3 1016,1343.6 1020,1346 1024,1348.4 1028,1346.7 1032,1343.7 1036,1340.7 1040,1340.5 1044,1343.2 1048,1345.9 1052,1347.4 1056,1344.7 1060,1342 1064,1339.4 1068,1342.4 1072,1345.5 1076,1348.6 1080,1347.6 1084,1345.3 1088,1343 1092,1343.4 1096,1346.7 1100,1350 1104,1351.9 1108,1349.7 1112,1347.5 1116,1345.2 1120,1348.5 1124,1351.7 1128,1355 1132,1354.1 1136,1351.7 1140,1349.3 1144,1349.6 1148,1352.6 1152,1355.6 1156,1357.2 1160,1354.5 1164,1351.8 1168,1349 1172,1351.7 1176,1354.3 1180,1356.9 1184,1355.3 1188,1352.2 1192,1349.1 1196,1348.7 1200,1351.1 1204,1353.4 1208,1354.3 1212,1351 1216,1347.8 1220,1344.4 1224,1346.6 1228,1348.9 1232,1351.1 1236,1349.2 1240,1346 1244,1342.7 1248,1342.2 1252,1344.6 1256,1347 1260,1348.1 1264,1345.1 1268,1342.1 1272,1339.2 1276,1341.8 1280,1344.5 1284,1347.3 1288,1346 1292,1343.4 1296,1340.8 1300,1341 1304,1344 1308,1347.2 1312,1349 1316,1346.6 1320,1344.3 1324,1342 1328,1345.2 1332,1348.5 1336,1351.8 1340,1351 1344,1348.8 1348,1346.6 1352,1347 1356,1350.3 1360,1353.5 1364,1355.4 1368,1353.1 1372,1350.7 1376,1348.2 1380,1351.2 1384,1354.2 1388,1357.1 1392,1355.9 1396,1353.2 1400,1350.4 1404,1350.3 1408,1352.9 1412,1355.5 1416,1356.7 1420,1353.7 1424,1350.6 1428,1347.4 1432,1349.7 1436,1352 1440,1354.3 1444,1352.5 1448,1349.2 1452,1345.9 1456,1345.3 1460,1347.5 1464,1349.8 1468,1350.7 1472,1347.4 1476,1344.2 1480,1341 1484,1343.3 1488,1345.7 1492,1348.1 1496,1346.5 1500,1343.5 1504,1340.6 1508,1340.4 1512,1343.1 1516,1345.9 1520,1347.4 1524,1344.8 1528,1342.2 1532,1339.6 1536,1342.6 1540,1345.7 1544,1348.9 1548,1347.9 1552,1345.6 1556,1343.3 1560,1343.8 1564,1347.1 1568,1350.4 1572,1352.4" fill="none" stroke="#4a4aff" stroke-width="1.8" stroke-opacity="0.45"/>
<polyline points="1000,1354.5 1004,1352.1 1008,1348.9 1012,1345.8 1016,1346 1020,1348.5 1024,1351 1028,1351.7 1032,1348.8 1036,1346 1040,1343.8 1044,1346.6 1048,1349.5 1052,1352.5 1056,1350.8 1060,1348.3 1064,1345.8 1068,1346.7 1072,1349.9 1076,1353.1 1080,1354.5 1084,1352.2 1088,1350 1092,1348.3 1096,1351.6 1100,1354.9 1104,1358.2 1108,1356.8 1112,1354.5 1116,1352.2 1120,1353.2 1124,1356.4 1128,1359.5 1132,1360.7 1136,1358.2 1140,1355.6 1144,1353.6 1148,1356.5 1152,1359.3 1156,1362.1 1160,1360.1 1164,1357.2 1168,1354.3 1172,1354.6 1176,1357.1 1180,1359.5 1184,1360 1188,1356.8 1192,1353.6 1196,1350.9 1200,1353.1 1204,1355.4 1208,1357.6 1212,1355.2 1216,1351.8 1220,1348.5 1224,1348.6 1228,1350.8 1232,1353.1 1236,1353.5 1240,1350.3 1244,1347.2 1248,1344.6 1252,1347.1 1256,1349.7 1260,1352.3 1264,1350.2 1268,1347.4 1272,1344.6 1276,1345.2 1280,1348.1 1284,1351 1288,1352.1 1292,1349.6 1296,1347.2 1300,1345.3 1304,1348.5 1308,1351.7 1312,1355 1316,1353.5 1320,1351.3 1324,1349 1328,1350.1 1332,1353.4 1336,1356.7 1340,1358.1 1344,1355.8 1348,1353.5 1352,1351.8 1356,1354.9 1360,1358.1 1364,1361.2 1368,1359.5 1372,1357 1376,1354.4 1380,1355.1 1384,1357.9 1388,1360.7 1392,1361.5 1396,1358.6 1400,1355.7 1404,1353.2 1408,1355.7 1412,1358.2 1416,1360.6 1420,1358.2 1424,1355 1428,1351.8 1432,1351.8 1436,1354.1 1440,1356.3 1444,1356.6 1448,1353.3 1452,1350 1456,1347.2 1460,1349.5 1464,1351.8 1468,1354.1 1472,1351.8 1476,1348.6 1480,1345.5 1484,1345.8 1488,1348.3 1492,1350.9 1496,1351.6 1500,1348.8 1504,1346 1508,1343.8 1512,1346.7 1516,1349.6 1520,1352.6 1524,1351 1528,1348.5 1532,1346.1 1536,1347.1 1540,1350.3 1544,1353.5 1548,1354.8 1552,1352.6 1556,1350.4 1560,1348.7 1564,1352 1568,1355.3 1572,1358.6" fill="none" stroke="#ff4a4a" stroke-width="1.8" stroke-opacity="0.45"/>
<polyline points="1000,1356.9 1004,1356.4 1008,1353.4 1012,1350.4 1016,1349 1020,1351.6 1024,1354.3 1028,1356.9 1032,1354.2 1036,1351.5 1040,1348.9 1044,1350.7 1048,1353.7 1052,1356.8 1056,1357 1060,1354.7 1064,1352.3 1068,1351.6 1072,1354.9 1076,1358.2 1080,1361.3 1084,1359.1 1088,1356.8 1092,1354.6 1096,1356.7 1100,1359.9 1104,1363.2 1108,1363.5 1112,1361.1 1116,1358.7 1120,1357.9 1124,1360.9 1128,1363.9 1132,1366.7 1136,1364.1 1140,1361.4 1144,1358.6 1148,1360.1 1152,1362.8 1156,1365.4 1160,1365 1164,1362 1168,1358.9 1172,1357.3 1176,1359.7 1180,1362 1184,1364.1 1188,1360.9 1192,1357.6 1196,1354.3 1200,1355.3 1204,1357.5 1208,1359.8 1212,1359.1 1216,1355.8 1220,1352.5 1224,1350.9 1228,1353.2 1232,1355.6 1236,1357.9 1240,1354.8 1244,1351.8 1248,1348.8 1252,1350.3 1256,1352.9 1260,1355.7 1264,1355.6 1268,1352.9 1272,1350.3 1276,1349.3 1280,1352.3 1284,1355.4 1288,1358.4 1292,1356 1296,1353.7 1300,1351.4 1304,1353.4 1308,1356.7 1312,1360 1316,1360.4 1320,1358.1 1324,1355.9 1328,1355.2 1332,1358.5 1336,1361.8 1340,1364.8 1344,1362.5 1348,1360.1 1352,1357.6 1356,1359.5 1360,1362.5 1364,1365.5 1368,1365.4 1372,1362.7 1376,1360 1380,1358.7 1384,1361.4 1388,1364 1392,1366.4 1396,1363.4 1400,1360.3 1404,1357.2 1408,1358.3 1412,1360.7 1416,1363 1420,1362.3 1424,1359 1428,1355.7 1432,1354 1436,1356.2 1440,1358.4 1444,1360.5 1448,1357.2 1452,1354 1456,1350.7 1460,1351.9 1464,1354.3 1468,1356.7 1472,1356.2 1476,1353.2 1480,1350.2 1484,1348.9 1488,1351.6 1492,1354.3 1496,1357 1500,1354.3 1504,1351.7 1508,1349.1 1512,1350.9 1516,1354 1520,1357.1 1524,1357.3 1528,1355 1532,1352.7 1536,1352 1540,1355.3 1544,1358.6 1548,1361.7 1552,1359.5 1556,1357.2 1560,1355 1564,1357.1 1568,1360.3 1572,1363.5" fill="none" stroke="#4a4aff" stroke-width="1.8" stroke-opacity="0.27"/>
<polyline points="1000,1357.2 1004,1354.3 1008,1353.8 1012,1356.5 1016,1359.3 1020,1361 1024,1358.3 1028,1355.7 1032,1353.1 1036,1355.9 1040,1358.9 1044,1362.1 1048,1361.4 1052,1359.1 1056,1356.7 1060,1356.9 1064,1360.2 1068,1363.5 1072,1365.7 1076,1363.5 1080,1361.3 1084,1359 1088,1362 1092,1365.3 1096,1368.5 1100,1367.8 1104,1365.5 1108,1363 1112,1363 1116,1366.1 1120,1369 1124,1370.9 1128,1368.2 1132,1365.4 1136,1362.6 1140,1365 1144,1367.6 1148,1370.2 1152,1368.8 1156,1365.8 1160,1362.6 1164,1361.9 1168,1364.3 1172,1366.6 1176,1367.8 1180,1364.5 1184,1361.2 1188,1357.9 1192,1359.8 1196,1362.1 1200,1364.3 1204,1362.7 1208,1359.4 1212,1356.2 1216,1355.5 1220,1357.9 1224,1360.3 1228,1361.7 1232,1358.6 1236,1355.7 1240,1352.8 1244,1355.1 1248,1357.9 1252,1360.7 1256,1359.7 1260,1357.1 1264,1354.5 1268,1354.4 1272,1357.5 1276,1360.6 1280,1362.7 1284,1360.4 1288,1358.1 1292,1355.8 1296,1358.8 1300,1362.1 1304,1365.4 1308,1364.8 1312,1362.6 1316,1360.4 1320,1360.6 1324,1363.8 1328,1367.1 1332,1369.2 1336,1366.8 1340,1364.4 1344,1361.9 1348,1364.6 1352,1367.6 1356,1370.5 1360,1369.5 1364,1366.8 1368,1364 1372,1363.6 1376,1366.2 1380,1368.8 1384,1370.3 1388,1367.2 1392,1364.1 1396,1360.9 1400,1363 1404,1365.3 1408,1367.5 1412,1365.9 1416,1362.7 1420,1359.3 1424,1358.5 1428,1360.7 1432,1363 1436,1364.2 1440,1360.9 1444,1357.7 1448,1354.5 1452,1356.5 1456,1358.9 1460,1361.4 1464,1360.1 1468,1357.1 1472,1354.2 1476,1353.8 1480,1356.5 1484,1359.3 1488,1361.1 1492,1358.4 1496,1355.9 1500,1353.3 1504,1356.1 1508,1359.2 1512,1362.4 1516,1361.7 1520,1359.4 1524,1357.1 1528,1357.3 1532,1360.6 1536,1363.9 1540,1366.2 1544,1363.9 1548,1361.7 1552,1359.4 1556,1362.4 1560,1365.6 1564,1368.8 1568,1368.1 1572,1365.7" fill="none" stroke="#ff4a4a" stroke-width="1.8" stroke-opacity="0.27"/>
<polyline points="1000,1361.9 1004,1359.1 1008,1357.7 1012,1360.6 1016,1363.5 1020,1366.4 1024,1363.9 1028,1361.4 1032,1359 1036,1360.8 1040,1364 1044,1367.2 1048,1367.7 1052,1365.4 1056,1363.2 1060,1362.4 1064,1365.7 1068,1369 1072,1372.3 1076,1370 1080,1367.7 1084,1365.4 1088,1367.3 1092,1370.4 1096,1373.6 1100,1373.8 1104,1371.3 1108,1368.8 1112,1367.6 1116,1370.4 1120,1373.3 1124,1376 1128,1373.1 1132,1370.2 1136,1367.2 1140,1368.4 1144,1370.9 1148,1373.3 1152,1372.9 1156,1369.7 1160,1366.5 1164,1364.7 1168,1366.9 1172,1369.2 1176,1371.3 1180,1368 1184,1364.7 1188,1361.4 1192,1362.3 1196,1364.6 1200,1366.9 1204,1366.4 1208,1363.3 1212,1360.1 1216,1358.5 1220,1361 1224,1363.5 1228,1366.1 1232,1363.3 1236,1360.4 1240,1357.7 1244,1359.2 1248,1362.1 1252,1365 1256,1365.2 1260,1362.8 1264,1360.3 1268,1359.4 1272,1362.6 1276,1365.8 1280,1369 1284,1366.7 1288,1364.5 1292,1362.3 1296,1364.2 1300,1367.5 1304,1370.8 1308,1371.3 1312,1369 1316,1366.7 1320,1365.8 1324,1369 1328,1372.1 1332,1375.2 1336,1372.7 1340,1370.1 1344,1367.5 1348,1369.1 1352,1371.9 1356,1374.6 1360,1374.5 1364,1371.6 1368,1368.7 1372,1367.1 1376,1369.6 1380,1372 1384,1374.3 1388,1371.1 1392,1367.9 1396,1364.7 1400,1365.6 1404,1367.8 1408,1370.1 1412,1369.5 1416,1366.2 1420,1362.9 1424,1361 1428,1363.3 1432,1365.6 1436,1367.9 1440,1364.7 1444,1361.6 1448,1358.5 1452,1359.6 1456,1362.2 1460,1364.8 1464,1364.6 1468,1361.8 1472,1359.1 1476,1357.8 1480,1360.7 1484,1363.6 1488,1366.6 1492,1364.1 1496,1361.7 1500,1359.3 1504,1361.1 1508,1364.4 1512,1367.6 1516,1368.1 1520,1365.8 1524,1363.6 1528,1362.8 1532,1366.1 1536,1369.4 1540,1372.6 1544,1370.4 1548,1368.1 1552,1365.8 1556,1367.6 1560,1370.7 1564,1373.8 1568,1374 1572,1371.5" fill="none" stroke="#4a4aff" stroke-width="1.8" stroke-opacity="0.27"/>
<polyline points="1000,1368.6 1004,1366 1008,1363.4 1012,1363.4 1016,1366.5 1020,1369.6 1024,1371.5 1028,1369.2 1032,1366.9 1036,1364.6 1040,1367.7 1044,1371 1048,1374.3 1052,1373.6 1056,1371.4 1060,1369.1 1064,1369.5 1068,1372.7 1072,1376 1076,1378 1080,1375.6 1084,1373.2 1088,1370.8 1092,1373.6 1096,1376.6 1100,1379.6 1104,1378.5 1108,1375.7 1112,1373 1116,1372.7 1120,1375.4 1124,1378 1128,1379.3 1132,1376.2 1136,1373.1 1140,1370 1144,1372.2 1148,1374.5 1152,1376.8 1156,1375.1 1160,1371.8 1164,1368.5 1168,1367.7 1172,1370 1176,1372.2 1180,1373.3 1184,1370 1188,1366.7 1192,1363.5 1196,1365.7 1200,1368.1 1204,1370.6 1208,1369.1 1212,1366.1 1216,1363.1 1220,1362.9 1224,1365.6 1228,1368.3 1232,1370 1236,1367.3 1240,1364.7 1244,1362.2 1248,1365.1 1252,1368.2 1256,1371.3 1260,1370.5 1264,1368.2 1268,1365.9 1272,1366.2 1276,1369.5 1280,1372.8 1284,1374.9 1288,1372.7 1292,1370.4 1296,1368.2 1300,1371.3 1304,1374.5 1308,1377.8 1312,1377 1316,1374.6 1320,1372.1 1324,1372.2 1328,1375.2 1332,1378.2 1336,1379.8 1340,1377.1 1344,1374.4 1348,1371.5 1352,1374 1356,1376.6 1360,1379.1 1364,1377.7 1368,1374.6 1372,1371.4 1376,1370.8 1380,1373.1 1384,1375.4 1388,1376.5 1392,1373.2 1396,1369.9 1400,1366.6 1404,1368.7 1408,1370.9 1412,1373.1 1416,1371.4 1420,1368.2 1424,1365 1428,1364.4 1432,1366.8 1436,1369.2 1440,1370.5 1444,1367.5 1448,1364.5 1452,1361.7 1456,1364.2 1460,1367 1464,1369.8 1468,1368.7 1472,1366.1 1476,1363.5 1480,1363.6 1484,1366.7 1488,1369.9 1492,1371.8 1496,1369.5 1500,1367.2 1504,1365 1508,1368.1 1512,1371.4 1516,1374.7 1520,1374 1524,1371.8 1528,1369.5 1532,1369.8 1536,1373.1 1540,1376.3 1544,1378.3 1548,1375.9 1552,1373.5 1556,1371 1560,1373.8 1564,1376.7 1568,1379.6 1572,1378.5" fill="none" stroke="#ff4a4a" stroke-width="1.8" stroke-opacity="0.27"/>
<polyline points="820,1334.1 824,1336.1 828,1338.1 832,1338.6 836,1335.1 840,1331.6 844,1328.3 848,1330.5 852,1332.7 856,1334.9 860,1332.9 864,1329.8 868,1326.6 872,1326.5 876,1329 880,1331.6 884,1332.7 888,1329.9 892,1327.1 896,1324.5 900,1327.4 904,1330.3 908,1333.2 912,1331.9 916,1329.3 920,1326.8 924,1327.2 928,1330.3 932,1333.3 936,1334.8 940,1332.3 944,1329.8 948,1327.4 952,1330.4 956,1333.3 960,1336.2 964,1334.7 968,1332 972,1329.2 976,1329.3 980,1331.9 984,1334.5 988,1335.5 992,1332.5 996,1329.3 1000,1326.3" fill="none" stroke="#ff4a4a" stroke-width="1.8" stroke-opacity="0.45"/>
<polyline points="820,1344.7 824,1341.2 828,1337.7 832,1334.3 836,1335.1 840,1337.3 844,1339.6 848,1339 852,1335.8 856,1332.7 860,1331.1 864,1333.6 868,1336.2 872,1338.7 876,1335.9 880,1333.1 884,1330.3 888,1331.9 892,1334.8 896,1337.7 900,1337.8 904,1335.2 908,1332.7 912,1331.7 916,1334.7 920,1337.8 924,1340.7 928,1338.2 932,1335.7 936,1333.1 940,1334.9 944,1337.8 948,1340.7 952,1340.7 956,1337.9 960,1335.2 964,1333.9 968,1336.5 972,1339.1 976,1341.5 980,1338.5 984,1335.4 988,1332.2 992,1333.3 996,1335.5 1000,1337.7" fill="none" stroke="#4a4aff" stroke-width="1.8" stroke-opacity="0.45"/>
<polyline points="820,1340.6 824,1342.7 828,1344.9 832,1345.4 836,1342.1 840,1338.9 844,1336.2 848,1338.6 852,1341.1 856,1343.7 860,1341.8 864,1338.9 868,1336.1 872,1336.5 876,1339.3 880,1342.2 884,1343.4 888,1340.8 892,1338.2 896,1336.1 900,1339.1 904,1342.1 908,1345.2 912,1343.7 916,1341.2 920,1338.6 924,1339.3 928,1342.3 932,1345.2 936,1346.3 940,1343.7 944,1341 948,1338.6 952,1341.3 956,1344 960,1346.6 964,1344.6 968,1341.6 972,1338.5 976,1338.5 980,1340.8 984,1343.1 988,1343.5 992,1340.2 996,1336.8 1000,1333.7" fill="none" stroke="#ff4a4a" stroke-width="1.8" stroke-opacity="0.45"/>
<polyline points="820,1347.6 824,1349.8 828,1349.2 832,1346 836,1342.9 840,1341.5 844,1344 848,1346.6 852,1349.1 856,1346.3 860,1343.5 864,1340.8 868,1342.5 872,1345.4 876,1348.4 880,1348.3 884,1345.8 888,1343.3 892,1342.4 896,1345.4 900,1348.5 904,1351.3 908,1348.8 912,1346.2 916,1343.7 920,1345.5 924,1348.4 928,1351.3 932,1351.1 936,1348.4 940,1345.6 944,1344.3 948,1347 952,1349.5 956,1351.8 960,1348.7 964,1345.6 968,1342.4 972,1343.5 976,1345.8 980,1347.9 984,1347.1 988,1343.6 992,1340.2 996,1338.3 1000,1340.3" fill="none" stroke="#4a4aff" stroke-width="1.8" stroke-opacity="0.45"/>
<polyline points="820,1351.8 824,1348.7 828,1346.3 832,1348.9 836,1351.5 840,1354.1 844,1352 848,1349.2 852,1346.5 856,1347.3 860,1350.2 864,1353.1 868,1354 872,1351.4 876,1348.9 880,1347.1 884,1350.2 888,1353.2 892,1356.2 896,1354.4 900,1351.9 904,1349.3 908,1350.2 912,1353.2 916,1356.1 920,1356.8 924,1354.1 928,1351.3 932,1349.1 936,1351.8 940,1354.4 944,1356.9 948,1354.5 952,1351.4 956,1348.2 960,1348.4 964,1350.7 968,1352.9 972,1352.9 976,1349.5 980,1346 984,1343.2 988,1345.2 992,1347.2 996,1349.2 1000,1346.3" fill="none" stroke="#ff4a4a" stroke-width="1.8" stroke-opacity="0.45"/>
<polyline points="820,1355.9 824,1358.5 828,1358.3 832,1355.5 836,1352.7 840,1351.4 844,1354.2 848,1357.1 852,1360 856,1357.4 860,1354.9 864,1352.3 868,1354 872,1357.1 876,1360.1 880,1360.3 884,1357.8 888,1355.3 892,1354.2 896,1357.2 900,1360.1 904,1363 908,1360.3 912,1357.5 916,1354.8 920,1356.2 924,1358.8 928,1361.4 932,1361.1 936,1358.1 940,1354.9 944,1353.2 948,1355.5 952,1357.8 956,1359.9 960,1356.5 964,1353.1 968,1349.7 972,1350.4 976,1352.4 980,1354.4 984,1353.5 988,1350 992,1346.4 996,1344.3 1000,1346.2" fill="none" stroke="#4a4aff" stroke-width="1.8" stroke-opacity="0.45"/>
<polyline points="820,1364.2 824,1361.4 828,1358.6 832,1356 836,1358.9 840,1361.8 844,1364.7 848,1363.5 852,1361 856,1358.5 860,1358.8 864,1361.8 868,1364.9 872,1366.5 876,1364 880,1361.4 884,1358.9 888,1361.9 892,1364.8 896,1367.6 900,1366.2 904,1363.5 908,1360.7 912,1360.6 916,1363.2 920,1365.8 924,1366.8 928,1363.7 932,1360.6 936,1357.4 940,1359.7 944,1361.9 948,1364.1 952,1362 956,1358.5 960,1355 964,1354.4 968,1356.4 972,1358.3 976,1358.9 980,1355.3 984,1351.7 988,1348.2 992,1350.2 996,1352.2 1000,1354.2" fill="none" stroke="#ff4a4a" stroke-width="1.8" stroke-opacity="0.45"/>
<polyline points="820,1363.7 824,1366.6 828,1369.5 832,1368.7 836,1366.2 840,1363.6 844,1363.5 848,1366.5 852,1369.6 856,1371.6 860,1369.1 864,1366.6 868,1364.1 872,1366.6 876,1369.6 880,1372.5 884,1371.7 888,1368.9 892,1366.2 896,1365.7 900,1368.4 904,1371 908,1372.6 912,1369.6 916,1366.5 920,1363.4 924,1365.3 928,1367.6 932,1369.8 936,1368.2 940,1364.8 944,1361.4 948,1360.3 952,1362.3 956,1364.3 960,1365.3 964,1361.7 968,1358.2 972,1354.6 976,1356.1 980,1358.1 984,1360.1 988,1358.4 992,1354.9 996,1351.5 1000,1350.4" fill="none" stroke="#4a4aff" stroke-width="1.8" stroke-opacity="0.45"/>
<polyline points="820,1373.9 824,1375.1 828,1372.6 832,1370.1 836,1367.9 840,1371 844,1374 848,1377 852,1375.6 856,1373 860,1370.5 864,1371 868,1373.9 872,1376.8 876,1378 880,1375.2 884,1372.4 888,1369.9 892,1372.5 896,1375.1 900,1377.6 904,1375.6 908,1372.5 912,1369.3 916,1369.1 920,1371.4 924,1373.6 928,1374 932,1370.6 936,1367.1 940,1363.9 944,1365.9 948,1367.9 952,1369.9 956,1367.4 960,1363.8 964,1360.2 968,1359.8 972,1361.8 976,1363.8 980,1364.1 984,1360.6 988,1357.2 992,1354.2 996,1356.4 1000,1358.6" fill="none" stroke="#ff4a4a" stroke-width="1.8" stroke-opacity="0.45"/>
<polyline points="820,1378.3 824,1381.3 828,1380 832,1377.5 836,1375 840,1375.5 844,1378.5 848,1381.5 852,1382.9 856,1380.3 860,1377.6 864,1375.1 868,1377.9 872,1380.7 876,1383.4 880,1381.7 884,1378.8 888,1375.8 892,1375.7 896,1378.1 900,1380.4 904,1381.2 908,1377.9 912,1374.5 916,1371.3 920,1373.5 924,1375.5 928,1377.6 932,1375.2 936,1371.7 940,1368.1 944,1367.5 948,1369.5 952,1371.4 956,1371.8 960,1368.3 964,1364.8 968,1361.5 972,1363.5 976,1365.6 980,1367.8 984,1365.6 988,1362.3 992,1359.1 996,1358.9 1000,1361.3" fill="none" stroke="#4a4aff" stroke-width="1.8" stroke-opacity="0.45"/>
<polyline points="820,1385.6 824,1383.1 828,1380.6 832,1380.8 836,1383.8 840,1386.7 844,1388.4 848,1385.8 852,1383.1 856,1380.4 860,1383 864,1385.7 868,1388.4 872,1387 876,1384 880,1380.9 884,1380.5 888,1382.8 892,1385.2 896,1386.2 900,1382.8 904,1379.5 908,1376 912,1378 916,1380.1 920,1382.1 924,1380 928,1376.5 932,1372.9 936,1372 940,1373.9 944,1375.9 948,1376.6 952,1373.1 956,1369.6 960,1366.1 964,1368.1 968,1370.2 972,1372.4 976,1370.6 980,1367.4 984,1364.2 988,1363.7 992,1366.1 996,1368.6 1000,1369.9" fill="none" stroke="#ff4a4a" stroke-width="1.8" stroke-opacity="0.45"/>
<polyline points="820,1392.1 824,1392.6 828,1390.1 832,1387.5 836,1385.9 840,1388.8 844,1391.6 848,1394.4 852,1391.9 856,1389.1 860,1386.1 864,1387 868,1389.5 872,1391.9 876,1391.9 880,1388.7 884,1385.4 888,1383.1 892,1385.3 896,1387.4 900,1389.5 904,1386.4 908,1382.9 912,1379.3 916,1379.6 920,1381.6 924,1383.5 928,1383.1 932,1379.5 936,1375.9 940,1373.4 944,1375.5 948,1377.5 952,1379.6 956,1376.5 960,1373.2 964,1369.9 968,1370.4 972,1372.7 976,1375.1 980,1375.1 984,1372.1 988,1369.1 992,1367.2 996,1369.9 1000,1372.6" fill="none" stroke="#4a4aff" stroke-width="1.8" stroke-opacity="0.45"/>
<polyline points="820,1394.4 824,1397.3 828,1399.2 832,1396.5 836,1393.8 840,1391 844,1393.3 848,1395.9 852,1398.5 856,1397.2 860,1394.1 864,1391 868,1390.2 872,1392.5 876,1394.7 880,1395.9 884,1392.5 888,1389 892,1385.6 896,1387.2 900,1389.2 904,1391.2 908,1389.4 912,1385.8 916,1382.3 920,1381.1 924,1383.1 928,1385.1 932,1386.1 936,1382.6 940,1379.1 944,1375.7 948,1377.5 952,1379.7 956,1382 960,1380.5 964,1377.3 968,1374.2 972,1373.6 976,1376.1 980,1378.7 984,1380.4 988,1377.5 992,1374.8 996,1372 1000,1374.5" fill="none" stroke="#ff4a4a" stroke-width="1.8" stroke-opacity="0.45"/>
<polyline points="820,1398.1 824,1396.8 828,1399.5 832,1402.2 836,1404.8 840,1401.8 844,1398.8 848,1395.8 852,1396.8 856,1399.2 860,1401.5 864,1400.9 868,1397.6 872,1394.2 876,1392.2 880,1394.3 884,1396.3 888,1398.3 892,1394.7 896,1391.2 900,1387.6 904,1388.2 908,1390.2 912,1392.2 916,1391.3 920,1387.8 924,1384.3 928,1382.3 932,1384.4 936,1386.5 940,1388.7 944,1385.4 948,1382.2 952,1379 956,1380.1 960,1382.5 964,1385.1 968,1384.8 972,1381.9 976,1379.1 980,1377.8 984,1380.6 988,1383.4 992,1386.3 996,1383.7 1000,1381.1" fill="none" stroke="#4a4aff" stroke-width="1.8" stroke-opacity="0.27"/>
<polyline points="820,1408.9 824,1406 828,1403.1 832,1401.3 836,1403.8 840,1406.3 844,1408.6 848,1405.5 852,1402.2 856,1398.9 860,1399.6 864,1401.7 868,1403.8 872,1403.1 876,1399.6 880,1396.1 884,1393.8 888,1395.8 892,1397.7 896,1399.7 900,1396.2 904,1392.7 908,1389.1 912,1389.7 916,1391.7 920,1393.8 924,1393.3 928,1390 932,1386.7 936,1384.7 940,1387.1 944,1389.5 948,1391.9 952,1389 956,1386 960,1383.1 964,1384.3 968,1387.1 972,1389.9 976,1390 980,1387.4 984,1384.8 988,1383.5 992,1386.5 996,1389.5 1000,1392.5" fill="none" stroke="#ff4a4a" stroke-width="1.8" stroke-opacity="0.27"/>
<polyline points="820,1414.3 824,1411.3 828,1408.2 832,1405 836,1407.3 840,1409.6 844,1411.8 848,1409.9 852,1406.4 856,1403 860,1402.2 864,1404.2 868,1406.2 872,1406.9 876,1403.3 880,1399.7 884,1396.2 888,1398.1 892,1400.1 896,1402.1 900,1400 904,1396.5 908,1393.1 912,1392.4 916,1394.6 920,1396.8 924,1397.7 928,1394.5 932,1391.4 936,1388.3 940,1390.8 944,1393.3 948,1395.9 952,1394.5 956,1391.7 960,1389 964,1389 968,1391.8 972,1394.8 976,1396.4 980,1393.8 984,1391.3 988,1388.8 992,1391.8 996,1394.8 1000,1397.8" fill="none" stroke="#4a4aff" stroke-width="1.8" stroke-opacity="0.27"/>
<polyline points="820,1411.8 824,1414.2 828,1416.5 832,1417.1 836,1413.7 840,1410.3 844,1407.1 848,1409.2 852,1411.2 856,1413.2 860,1410.8 864,1407.2 868,1403.6 872,1403.1 876,1405 880,1407 884,1407.4 888,1403.9 892,1400.4 896,1397.2 900,1399.3 904,1401.5 908,1403.7 912,1401.6 916,1398.3 920,1395.2 924,1395.1 928,1397.6 932,1400.1 936,1401.1 940,1398.2 944,1395.4 948,1392.9 952,1395.7 956,1398.6 960,1401.5 964,1400 968,1397.5 972,1394.9 976,1395.4 980,1398.5 984,1401.5 988,1402.9 992,1400.4 996,1397.9 1000,1395.6" fill="none" stroke="#ff4a4a" stroke-width="1.8" stroke-opacity="0.27"/>
<polyline points="820,1420.9 824,1422.3 828,1418.9 832,1415.4 836,1412 840,1413.4 844,1415.4 848,1417.4 852,1415.8 856,1412.3 860,1408.7 864,1407.3 868,1409.2 872,1411.2 876,1412.5 880,1409 884,1405.5 888,1402.1 892,1403.6 896,1405.9 900,1408.1 904,1406.9 908,1403.7 912,1400.6 916,1399.7 920,1402.2 924,1404.8 928,1406.7 932,1403.9 936,1401.1 940,1398.4 944,1400.6 948,1403.5 952,1406.4 956,1405.9 960,1403.3 964,1400.8 968,1400.5 972,1403.5 976,1406.5 980,1408.8 984,1406.3 988,1403.8 992,1401.2 996,1403.6 1000,1406.5" fill="none" stroke="#4a4aff" stroke-width="1.8" stroke-opacity="0.27"/>
<polyline points="820,1425.8 824,1422.4 828,1418.9 832,1415.8 836,1417.8 840,1419.8 844,1421.8 848,1419.1 852,1415.5 856,1411.9 860,1411.7 864,1413.7 868,1415.7 872,1415.9 876,1412.5 880,1409.1 884,1406.2 888,1408.5 892,1410.8 896,1413.1 900,1410.9 904,1407.8 908,1404.8 912,1405.1 916,1407.7 920,1410.4 924,1411.3 928,1408.6 932,1405.9 936,1403.7 940,1406.7 944,1409.6 948,1412.6 952,1411 956,1408.4 960,1405.9 964,1406.7 968,1409.8 972,1412.8 976,1413.9 980,1411.4 984,1408.8 988,1406.7 992,1409.6 996,1412.5 1000,1415.3" fill="none" stroke="#ff4a4a" stroke-width="1.8" stroke-opacity="0.27"/>
<polyline points="820,1427.5 824,1428.9 828,1425.4 832,1421.8 836,1418.2 840,1419.4 844,1421.4 848,1423.4 852,1422 856,1418.5 860,1415 864,1413.5 868,1415.7 872,1417.9 876,1419.5 880,1416.3 884,1413.1 888,1409.9 892,1411.6 896,1414.1 900,1416.7 904,1415.9 908,1413.1 912,1410.3 916,1409.5 920,1412.3 924,1415.2 928,1417.5 932,1415 936,1412.4 940,1409.9 944,1412.1 948,1415.1 952,1418.2 956,1417.9 960,1415.4 964,1412.8 968,1412.3 972,1415.3 976,1418.2 980,1420.5 984,1417.9 988,1415.1 992,1412.4 996,1414.3 1000,1417" fill="none" stroke="#4a4aff" stroke-width="1.8" stroke-opacity="0.27"/>
<polyline points="820,1431.2 824,1427.7 828,1424.1 832,1422.8 836,1424.8 840,1426.8 844,1427.9 848,1424.4 852,1421 856,1417.6 860,1419.2 864,1421.4 868,1423.7 872,1422.4 876,1419.2 880,1416.1 884,1415.4 888,1417.9 892,1420.5 896,1422.3 900,1419.5 904,1416.8 908,1414 912,1416.4 916,1419.3 920,1422.3 924,1421.6 928,1419.1 932,1416.5 936,1416.3 940,1419.3 944,1422.4 948,1424.5 952,1422 956,1419.5 960,1416.9 964,1419.4 968,1422.3 972,1425.2 976,1424.4 980,1421.6 984,1418.8 988,1418.2 992,1420.9 996,1423.4 1000,1425.1" fill="none" stroke="#ff4a4a" stroke-width="1.8" stroke-opacity="0.27"/>
<polyline points="650,1413.9 654,1411.3 658,1407.1 662,1403 666,1401.4 670,1402.9 674,1404.5 678,1404.9 682,1400.9 686,1397 690,1393.1 694,1394.6 698,1396.2 702,1397.9 706,1395.6 710,1391.7 714,1387.8 718,1386.4 722,1388 726,1389.5 730,1389.8 734,1385.7 738,1381.6 742,1377.4 746,1378.5 750,1379.7 754,1380.9 758,1378 762,1373.6 766,1369 770,1367 774,1367.9 778,1368.7 782,1368.3 786,1363.5 790,1358.7 794,1353.8 798,1354.3 802,1354.9 806,1355.5 810,1352.1 814,1347.2 818,1342.2" fill="none" stroke="#ff4a4a" stroke-width="1.8" stroke-opacity="0.45"/>
<polyline points="650,1412.2 654,1410.9 658,1412.4 662,1413.9 666,1414.1 670,1410.1 674,1406.2 678,1402.4 682,1404 686,1405.7 690,1407.4 694,1404.8 698,1400.9 702,1397 706,1395.9 710,1397.5 714,1399 718,1399.1 722,1395 726,1390.8 730,1386.7 734,1388 738,1389.2 742,1390.4 746,1387.4 750,1382.9 754,1378.4 758,1376.6 762,1377.5 766,1378.4 770,1377.7 774,1372.9 778,1368.1 782,1363.3 786,1364 790,1364.6 794,1365.2 798,1361.6 802,1356.6 806,1351.7 810,1349.5 814,1350.1 818,1350.7" fill="none" stroke="#4a4aff" stroke-width="1.8" stroke-opacity="0.45"/>
<polyline points="650,1425.1 654,1421.1 658,1417.2 662,1413.3 666,1414 670,1415.6 674,1417.3 678,1415.7 682,1411.8 686,1408 690,1405.9 694,1407.5 698,1409.1 702,1410.2 706,1406.1 710,1402.1 714,1397.9 718,1398.4 722,1399.7 726,1401 730,1398.9 734,1394.5 738,1390.1 742,1387.4 746,1388.4 750,1389.3 754,1389.7 758,1385 762,1380.2 766,1375.4 770,1375.1 774,1375.8 778,1376.4 782,1373.8 786,1368.8 790,1363.9 794,1360.8 798,1361.4 802,1362 806,1362.1 810,1357.2 814,1352.3 818,1347.5" fill="none" stroke="#ff4a4a" stroke-width="1.8" stroke-opacity="0.45"/>
<polyline points="650,1423.6 654,1425.2 658,1426.9 662,1427 666,1423.2 670,1419.3 674,1415.5 678,1417.1 682,1418.7 686,1420.3 690,1417.6 694,1413.6 698,1409.5 702,1408.3 706,1409.7 710,1411 714,1410.8 718,1406.5 722,1402.1 726,1397.7 730,1398.8 734,1399.7 738,1400.7 742,1397.3 746,1392.6 750,1387.8 754,1385.9 758,1386.6 762,1387.2 766,1386.4 770,1381.5 774,1376.5 778,1371.7 782,1372.2 786,1372.8 790,1373.4 794,1369.8 798,1364.9 802,1360 806,1358 810,1358.7 814,1359.5 818,1358.8" fill="none" stroke="#4a4aff" stroke-width="1.8" stroke-opacity="0.45"/>
<polyline points="650,1428.3 654,1430 658,1431.7 662,1433.3 666,1430.3 670,1426.4 674,1422.4 678,1421.7 682,1423.3 686,1424.7 690,1424.3 694,1420.1 698,1415.9 702,1412.2 706,1413.4 710,1414.6 714,1415.7 718,1412.1 722,1407.5 726,1402.9 730,1401.6 734,1402.4 738,1403.2 742,1402 746,1397.2 750,1392.3 754,1387.9 758,1388.6 762,1389.2 766,1389.7 770,1385.7 774,1380.7 778,1375.8 782,1374.1 786,1374.7 790,1375.4 794,1374.2 798,1369.3 802,1364.6 806,1360.3 810,1361.2 814,1362.1 818,1363" fill="none" stroke="#ff4a4a" stroke-width="1.8" stroke-opacity="0.45"/>
<polyline points="650,1436.1 654,1437.7 658,1439.4 662,1438.3 666,1434.3 670,1430.3 674,1427.6 678,1429 682,1430.4 686,1431.8 690,1427.6 694,1423.3 698,1419 702,1418.6 706,1419.7 710,1420.7 714,1419 718,1414.3 722,1409.6 726,1406.2 730,1406.9 734,1407.6 738,1408.3 742,1403.5 746,1398.6 750,1393.7 754,1392.8 758,1393.3 762,1393.9 766,1391.9 770,1386.9 774,1382 778,1378.4 782,1379.1 786,1379.8 790,1380.5 794,1375.9 798,1371.2 802,1366.5 806,1366 810,1367 814,1368 818,1366.5" fill="none" stroke="#4a4aff" stroke-width="1.8" stroke-opacity="0.45"/>
<polyline points="650,1442.8 654,1444.4 658,1445.9 662,1443.2 666,1439.1 670,1435 674,1433.7 678,1435 682,1436.2 686,1435.9 690,1431.5 694,1427.1 698,1422.6 702,1423.6 706,1424.5 710,1425.4 714,1421.9 718,1417.1 722,1412.3 726,1410.3 730,1411 734,1411.6 738,1410.7 742,1405.8 746,1400.8 750,1396 754,1396.6 758,1397.2 762,1397.8 766,1394.2 770,1389.3 774,1384.4 778,1382.5 782,1383.3 786,1384.1 790,1383.5 794,1378.9 798,1374.4 802,1370 806,1371.1 810,1372.3 814,1373.5 818,1370.5" fill="none" stroke="#ff4a4a" stroke-width="1.8" stroke-opacity="0.45"/>
<polyline points="650,1450.2 654,1451.6 658,1451 662,1446.8 666,1442.6 670,1439 674,1440.2 678,1441.4 682,1442.5 686,1438.6 690,1434.1 694,1429.4 698,1428.2 702,1429.1 706,1429.8 710,1428.5 714,1423.6 718,1418.8 722,1414.5 726,1415.2 730,1415.8 734,1416.3 738,1412.1 742,1407.1 746,1402.2 750,1400.7 754,1401.3 758,1402 762,1400.6 766,1395.8 770,1391 774,1387 778,1387.9 782,1388.8 786,1389.8 790,1386 794,1381.5 798,1377.1 802,1376.3 806,1377.5 810,1378.8 814,1378.1 818,1374" fill="none" stroke="#4a4aff" stroke-width="1.8" stroke-opacity="0.27"/>
<polyline points="650,1453 654,1454.4 658,1455.7 662,1454.2 666,1449.8 670,1445.3 674,1442.2 678,1443.2 682,1444.1 686,1445 690,1440.3 694,1435.6 698,1430.8 702,1430 706,1430.7 710,1431.3 714,1429.2 718,1424.3 722,1419.3 726,1415.7 730,1416.3 734,1416.9 738,1417.5 742,1412.6 746,1407.8 750,1402.9 754,1402.2 758,1402.9 762,1403.8 766,1401.9 770,1397.3 774,1392.7 778,1389.5 782,1390.6 786,1391.7 790,1392.9 794,1388.7 798,1384.5 802,1380.3 806,1380.3 810,1381.7 814,1383.2 818,1382" fill="none" stroke="#ff4a4a" stroke-width="1.8" stroke-opacity="0.27"/>
<polyline points="650,1464.9 654,1460.5 658,1456.1 662,1451.6 666,1451.4 670,1452.3 674,1453.2 678,1451.1 682,1446.4 686,1441.6 690,1438.3 694,1438.9 698,1439.6 702,1440.1 706,1435.2 710,1430.2 714,1425.2 718,1424.6 722,1425.2 726,1425.8 730,1423.5 734,1418.6 738,1413.7 742,1410.4 746,1411.2 750,1412 754,1412.7 758,1408 762,1403.5 766,1398.9 770,1398.7 774,1399.9 778,1401 782,1399.4 786,1395.1 790,1391 794,1388.3 798,1389.8 802,1391.3 806,1392.7 810,1388.7 814,1384.8 818,1380.9" fill="none" stroke="#4a4aff" stroke-width="1.8" stroke-opacity="0.27"/>
<polyline points="650,1465.4 654,1460.9 658,1457.4 662,1458.3 666,1459.2 670,1460 674,1455.5 678,1450.7 682,1445.8 686,1444.8 690,1445.4 694,1446 698,1444.1 702,1439.2 706,1434.2 710,1430.4 714,1431 718,1431.6 722,1432.2 726,1427.6 730,1422.8 734,1418 738,1417.1 742,1418 746,1418.8 750,1417.3 754,1412.7 758,1408.3 762,1404.9 766,1406.1 770,1407.3 774,1408.6 778,1404.7 782,1400.5 786,1396.4 790,1396.3 794,1397.8 798,1399.4 802,1398.5 806,1394.5 810,1390.6 814,1387.9 818,1389.5" fill="none" stroke="#ff4a4a" stroke-width="1.8" stroke-opacity="0.27"/>
<polyline points="560,1338.3 564,1337.4 568,1340.6 572,1343.8 576,1346.9 580,1344.6 584,1342.2 588,1339.8 592,1341.7 596,1344.9 600,1348.1 604,1348.5 608,1346.3 612,1344.1 616,1343.3 620,1346.7 624,1350.2 628,1353.7 632,1351.7 636,1349.8 640,1348 644,1350.4 648,1354.2 652,1358 656,1359.2 660,1357.6 664,1356.1 668,1356 672,1360.1 676,1364.3 680,1368.4 684,1367.1 688,1365.8 692,1364.5 696,1367.4 700,1371.6 704,1375.9 708,1377.3 712,1376 716,1374.6 720,1374.7 724,1378.8 728,1382.9 732,1386.9 736,1385.4 740,1383.8 744,1382.2 748,1384.7 752,1388.5 756,1392.2 760,1393.1" fill="none" stroke="#ff4a4a" stroke-width="1.8" stroke-opacity="0.30"/>
<polyline points="560,1341.6 564,1344.8 568,1347.9 572,1348 576,1345.7 580,1343.3 584,1342.6 588,1345.9 592,1349.1 596,1352.1 600,1349.9 604,1347.7 608,1345.5 612,1347.9 616,1351.4 620,1355 624,1355.5 628,1353.7 632,1351.9 636,1351.8 640,1355.7 644,1359.6 648,1363.2 652,1361.7 656,1360.2 660,1358.8 664,1361.8 668,1366 672,1370.2 676,1371.3 680,1370 684,1368.8 688,1369.1 692,1373.4 696,1377.6 700,1381.6 704,1380.2 708,1378.9 712,1377.5 716,1380.5 720,1384.5 724,1388.6 728,1389.5 732,1387.8 736,1386.2 740,1386.1 744,1389.9 748,1393.5 752,1396.9 756,1394.9 760,1392.9" fill="none" stroke="#4a4aff" stroke-width="1.8" stroke-opacity="0.30"/>
<polyline points="560,1342.7 564,1345.2 568,1348.4 572,1351.6 576,1351.3 580,1349 584,1346.7 588,1346.6 592,1350 596,1353.4 600,1356 604,1354 608,1352 612,1350.1 616,1353.1 620,1356.9 624,1360.6 628,1360.9 632,1359.3 636,1357.7 640,1358.3 644,1362.4 648,1366.5 652,1369.8 656,1368.4 660,1367.1 664,1365.7 668,1369.4 672,1373.6 676,1377.9 680,1378.6 684,1377.3 688,1375.9 692,1376.8 696,1381 700,1385.1 704,1388.4 708,1387 712,1385.5 716,1383.9 720,1387.3 724,1391.1 728,1394.9 732,1395.1 736,1393.3 740,1391.4 744,1391.6 748,1395.2 752,1398.6 756,1401.3 760,1399.1" fill="none" stroke="#ff4a4a" stroke-width="1.8" stroke-opacity="0.30"/>
<polyline points="560,1346.4 564,1347.6 568,1350.8 572,1354.1 576,1355.3 580,1353.1 584,1350.9 588,1349.5 592,1353 596,1356.5 600,1360.1 604,1358.9 608,1357.1 612,1355.3 616,1357.1 620,1361 624,1364.9 628,1366.8 632,1365.3 636,1363.8 640,1363.1 644,1367.3 648,1371.5 652,1375.7 656,1375 660,1373.7 664,1372.4 668,1374.7 672,1378.9 676,1383.1 680,1385.2 684,1383.9 688,1382.5 692,1381.8 696,1385.9 700,1389.9 704,1393.9 708,1393 712,1391.3 716,1389.6 720,1391.3 724,1395.1 728,1398.7 732,1400.2 736,1398.2 740,1396.1 744,1394.8 748,1398.2 752,1401.5 756,1404.8 760,1403.2" fill="none" stroke="#4a4aff" stroke-width="1.8" stroke-opacity="0.18"/>
<polyline points="560,1352.4 564,1355.7 568,1358.3 572,1356.1 576,1354 580,1351.9 584,1354.8 588,1358.4 592,1362 596,1362.2 600,1360.4 604,1358.7 608,1359.2 612,1363.1 616,1367.1 620,1370.3 624,1368.9 628,1367.4 632,1366 636,1369.6 640,1373.8 644,1378 648,1378.7 652,1377.4 656,1376.2 660,1377 664,1381.2 668,1385.5 672,1388.9 676,1387.5 680,1386.1 684,1384.7 688,1388.1 692,1392.1 696,1396 700,1396.4 704,1394.7 708,1393 712,1393.3 716,1397 720,1400.6 724,1403.4 728,1401.3 732,1399.2 736,1397.1 740,1399.8 744,1403.1 748,1406.4 752,1406.1 756,1403.8 760,1401.4" fill="none" stroke="#ff4a4a" stroke-width="1.8" stroke-opacity="0.18"/>
<polyline points="600,1437.5 604,1434.3 608,1433.2 612,1435.6 616,1438.1 620,1439.8 624,1436.8 628,1433.8 632,1430.9 636,1433 640,1435.7 644,1438.5 648,1437.9 652,1435.3 656,1432.7 660,1432.3 664,1435.4 668,1438.5 672,1441 676,1438.6 680,1436.3 684,1434.1 688,1436.7 692,1440 696,1443.3 700,1443.1" fill="none" stroke="#ff4a4a" stroke-width="1.8" stroke-opacity="0.35"/>
<polyline points="600,1438.5 604,1441 608,1443.4 612,1443 616,1440 620,1437.1 624,1435.8 628,1438.5 632,1441.3 636,1444 640,1441.4 644,1438.8 648,1436.3 652,1438.2 656,1441.3 660,1444.4 664,1444.7 668,1442.4 672,1440.1 676,1439.4 680,1442.7 684,1446 688,1449.1 692,1446.9 696,1444.7 700,1442.4" fill="none" stroke="#4a4aff" stroke-width="1.8" stroke-opacity="0.35"/>
<polyline points="600,1442.5 604,1440.1 608,1442.7 612,1445.4 616,1448.1 620,1446.1 624,1443.4 628,1440.8 632,1441.6 636,1444.6 640,1447.7 644,1448.8 648,1446.4 652,1444 656,1442.3 660,1445.6 664,1448.9 668,1452.2 672,1450.7 676,1448.4 680,1446.2 684,1447.4 688,1450.7 692,1453.9 696,1455.2 700,1452.8" fill="none" stroke="#ff4a4a" stroke-width="1.8" stroke-opacity="0.35"/>
<polyline points="600,1446.7 604,1449.5 608,1452.2 612,1451.1 616,1448.4 620,1445.8 624,1445.9 628,1448.9 632,1452 636,1454 640,1451.6 644,1449.3 648,1447 652,1450.1 656,1453.4 660,1456.7 664,1456 668,1453.8 672,1451.5 676,1451.9 680,1455.1 684,1458.4 688,1460.4 692,1458 696,1455.7 700,1453.2" fill="none" stroke="#4a4aff" stroke-width="1.8" stroke-opacity="0.21"/>
<polyline points="600,1449.7 604,1452.6 608,1455.5 612,1457.5 616,1455 620,1452.6 624,1450.2 628,1452.9 632,1456.1 636,1459.4 640,1458.9 644,1456.7 648,1454.4 652,1454.5 656,1457.8 660,1461.1 664,1463.5 668,1461.2 672,1458.9 676,1456.6 680,1459.4 684,1462.5 688,1465.6 692,1465 696,1462.5 700,1459.9" fill="none" stroke="#ff4a4a" stroke-width="1.8" stroke-opacity="0.21"/>
<polyline points="425,1439.9 429,1437.8 433,1435.3 437,1433 441,1434.4 445,1437.6 449,1440.8 453,1441.7 457,1439.5 461,1437.2 465,1436" fill="none" stroke="#ff4a4a" stroke-width="1.8" stroke-opacity="0.30"/>
<polyline points="425,1438.7 429,1441.8 433,1445 437,1445.3 441,1443 445,1440.8 449,1440.1 453,1443.4 457,1446.8 461,1449.9 465,1447.6" fill="none" stroke="#4a4aff" stroke-width="1.8" stroke-opacity="0.30"/>
<polyline points="425,1450.6 429,1448.3 433,1446 437,1443.8 441,1447 445,1450.3 449,1453.6 453,1452.9 457,1450.6 461,1448.3 465,1448.6" fill="none" stroke="#ff4a4a" stroke-width="1.8" stroke-opacity="0.30"/>
<polyline points="425,1454.2 429,1457.5 433,1455.5 437,1453.3 441,1451.1 445,1452.7 449,1456 453,1459.2 457,1459.9 461,1457.5 465,1455.1" fill="none" stroke="#4a4aff" stroke-width="1.8" stroke-opacity="0.18"/>
<polyline points="920,1481.1 924,1479 928,1476.7 932,1474.5 936,1476.4 940,1479.7 944,1482.9 948,1483.5 952,1481.2 956,1478.9 960,1477.8 964,1480.9 968,1484 972,1487 976,1484.5 980,1481.9 984,1479.2 988,1480.5 992,1483.3 996,1486 1000,1485.9" fill="none" stroke="#ff4a4a" stroke-width="1.8" stroke-opacity="0.45"/>
<polyline points="920,1485.9 924,1486.2 928,1484 932,1481.7 936,1481 940,1484.3 944,1487.5 948,1490.5 952,1488 956,1485.6 960,1483.1 964,1484.9 968,1487.8 972,1490.7 976,1490.5 980,1487.7 984,1484.9 988,1483.6 992,1486.2 996,1488.7 1000,1491" fill="none" stroke="#4a4aff" stroke-width="1.8" stroke-opacity="0.45"/>
<polyline points="920,1484.9 924,1488.1 928,1491.4 932,1494.5 936,1492.1 940,1489.7 944,1487.3 948,1489.1 952,1492.1 956,1495 960,1495 964,1492.3 968,1489.5 972,1488.2 976,1490.8 980,1493.4 984,1495.9 988,1492.8 992,1489.7 996,1486.6 1000,1487.6" fill="none" stroke="#ff4a4a" stroke-width="1.8" stroke-opacity="0.45"/>
<polyline points="920,1493.7 924,1496.9 928,1499.5 932,1497 936,1494.5 940,1492 944,1494.2 948,1497.1 952,1499.9 956,1499.3 960,1496.5 964,1493.6 968,1492.7 972,1495.2 976,1497.7 980,1499.6 984,1496.5 988,1493.3 992,1490.1 996,1491.6 1000,1493.8" fill="none" stroke="#4a4aff" stroke-width="1.8" stroke-opacity="0.27"/>
<polyline points="920,1502.2 924,1499.7 928,1497.2 932,1497.9 936,1500.8 940,1503.6 944,1504.6 948,1501.8 952,1498.9 956,1496.5 960,1499 964,1501.5 968,1504 972,1501.8 976,1498.6 980,1495.4 984,1495.4 988,1497.7 992,1500 996,1500.4 1000,1497" fill="none" stroke="#ff4a4a" stroke-width="1.8" stroke-opacity="0.27"/>
<polyline points="225,1513.5 229,1511 233,1508.5 237,1508.7 241,1511.8 245,1514.8 249,1516.5 253,1514 257,1511.4 261,1508.8 265,1511.6 269,1514.5 273,1517.3 277,1516 281,1513.1 285,1510.2 289,1509.9 293,1512.5 297,1514.9 301,1516 305,1512.8 309,1509.6 313,1506.3 317,1508.4 321,1510.6 325,1512.7 329,1510.7 333,1507.2 337,1503.7" fill="none" stroke="#ff4a4a" stroke-width="1.8" stroke-opacity="0.50"/>
<polyline points="225,1518.2 229,1521.2 233,1519.8 237,1517.3 241,1514.8 245,1515.3 249,1518.2 253,1521.1 257,1522.3 261,1519.6 265,1516.8 269,1514.3 273,1516.9 277,1519.5 281,1522 285,1520.1 289,1517 293,1513.8 297,1513.6 301,1515.8 305,1518.1 309,1518.5 313,1515.1 317,1511.7 321,1508.5 325,1510.5 329,1512.5 333,1514.5 337,1512" fill="none" stroke="#4a4aff" stroke-width="1.8" stroke-opacity="0.50"/>
<polyline points="225,1518.7 229,1521.1 233,1524.1 237,1527.1 241,1526.5 245,1523.8 249,1521.1 253,1520.4 257,1523.2 261,1525.8 265,1527.7 269,1524.7 273,1521.6 277,1518.5 281,1520.3 285,1522.6 289,1524.8 293,1523.5 297,1520.2 301,1516.8 305,1515.4 309,1517.5 313,1519.5 317,1520.8 321,1517.3 325,1513.7 329,1510.1 333,1511.5 337,1513.5" fill="none" stroke="#ff4a4a" stroke-width="1.8" stroke-opacity="0.50"/>
<polyline points="225,1529.1 229,1526.5 233,1525.1 237,1527.9 241,1530.7 245,1533.4 249,1530.7 253,1527.8 257,1524.8 261,1525.8 265,1528.2 269,1530.6 273,1530.3 277,1527.1 281,1523.7 285,1521.6 289,1523.8 293,1525.9 297,1527.9 301,1524.6 305,1521 309,1517.5 313,1518 317,1520 321,1522 325,1521.3 329,1517.8 333,1514.3 337,1512.1" fill="none" stroke="#4a4aff" stroke-width="1.8" stroke-opacity="0.50"/>
<polyline points="225,1536.2 229,1533.5 233,1530.7 237,1531.4 241,1534.1 245,1536.6 249,1536.9 253,1533.8 257,1530.7 261,1528.3 265,1530.6 269,1532.9 273,1535.1 277,1532.2 281,1528.8 285,1525.3 289,1525.4 293,1527.4 297,1529.5 301,1529.2 305,1525.6 309,1522.1 313,1519.4 317,1521.4 321,1523.4 325,1525.5 329,1522.6 333,1519.2 337,1515.8" fill="none" stroke="#ff4a4a" stroke-width="1.8" stroke-opacity="0.50"/>
<polyline points="225,1538.5 229,1535.6 233,1536.4 237,1538.9 241,1541.4 245,1541.4 249,1538.2 253,1535 257,1532.7 261,1534.9 265,1537 269,1539.2 273,1536.1 277,1532.6 281,1529.1 285,1529.3 289,1531.3 293,1533.3 297,1532.9 301,1529.4 305,1525.9 309,1523.3 313,1525.3 317,1527.4 321,1529.5 325,1526.6 329,1523.2 333,1519.9 337,1520.4" fill="none" stroke="#4a4aff" stroke-width="1.8" stroke-opacity="0.50"/>
<polyline points="225,1543.9 229,1540.8 233,1540 237,1542.4 241,1544.7 245,1546 249,1542.7 253,1539.3 257,1535.9 261,1537.5 265,1539.6 269,1541.6 273,1540 277,1536.4 281,1532.9 285,1531.6 289,1533.6 293,1535.6 297,1536.7 301,1533.2 305,1529.7 309,1526.3 313,1528 317,1530.2 321,1532.4 325,1531 329,1527.8 333,1524.6 337,1523.8" fill="none" stroke="#ff4a4a" stroke-width="1.8" stroke-opacity="0.30"/>
<polyline points="225,1551.3 229,1548.1 233,1544.9 237,1543 241,1545.1 245,1547.3 249,1549.3 253,1545.9 257,1542.4 261,1538.8 265,1539.5 269,1541.5 273,1543.4 277,1542.6 281,1539.1 285,1535.6 289,1533.5 293,1535.5 297,1537.6 301,1539.7 305,1536.4 309,1533.1 313,1529.8 317,1530.8 321,1533.1 325,1535.6 329,1535.3 333,1532.3 337,1529.4" fill="none" stroke="#4a4aff" stroke-width="1.8" stroke-opacity="0.30"/>
<polyline points="225,1549.8 229,1552 233,1554.2 237,1553.1 241,1549.6 245,1546.1 249,1544.4 253,1546.4 257,1548.4 261,1549.9 265,1546.4 269,1542.9 273,1539.3 277,1540.4 281,1542.5 285,1544.5 289,1543.5 293,1540.1 297,1536.8 301,1535.3 305,1537.6 309,1540 313,1542 317,1538.9 321,1535.9 325,1533 329,1534.7 333,1537.4 337,1540.2" fill="none" stroke="#ff4a4a" stroke-width="1.8" stroke-opacity="0.30"/>
<polyline points="225,1554.1 229,1550.6 233,1552 237,1554 241,1556.1 245,1554.6 249,1551 253,1547.4 257,1546 261,1548 265,1550 269,1551.4 273,1547.9 277,1544.5 281,1541.1 285,1542.6 289,1544.9 293,1547.2 297,1546 301,1542.9 305,1539.9 309,1538.9 313,1541.5 317,1544.2 321,1546.2 325,1543.4 329,1540.6 333,1537.9 337,1540.2" fill="none" stroke="#4a4aff" stroke-width="1.8" stroke-opacity="0.30"/>
<polyline points="1380,1393 1384,1394.4 1388,1392.7 1392,1391.1 1396,1390.6 1400,1394.5 1404,1398.4 1408,1402.2 1412,1400.8 1416,1399.1 1420,1397.4 1424,1399.5 1428,1403.2 1432,1406.9 1436,1408 1440,1406 1444,1404 1448,1403 1452,1406.4 1456,1409.8 1460,1413.1 1464,1411 1468,1408.7 1472,1406.2 1476,1407.7 1480,1410.7 1484,1413.7 1488,1414.1 1492,1411.4 1496,1408.8 1500,1407.2 1504,1410.1 1508,1412.9 1512,1415.7 1516,1413.2 1520,1410.5 1524,1407.8 1528,1409.1 1532,1411.9 1536,1414.9 1540,1415.3 1544,1412.8 1548,1410.3 1552,1408.9 1556,1412.1 1560,1415.3 1564,1418.5 1568,1416.6" fill="none" stroke="#ff4a4a" stroke-width="1.8" stroke-opacity="0.40"/>
<polyline points="1380,1392.1 1384,1394.7 1388,1398.6 1392,1402.5 1396,1403.6 1400,1401.9 1404,1400.2 1408,1399.9 1412,1403.7 1416,1407.4 1420,1411 1424,1409.1 1428,1407.1 1432,1405.1 1436,1407.3 1440,1410.7 1444,1414.1 1448,1414.5 1452,1412.2 1456,1409.9 1460,1408.9 1464,1412 1468,1415 1472,1417.9 1476,1415.4 1480,1412.7 1484,1410.1 1488,1411.6 1492,1414.5 1496,1417.3 1500,1417.3 1504,1414.5 1508,1411.8 1512,1410.6 1516,1413.5 1520,1416.3 1524,1419.2 1528,1416.6 1532,1414 1536,1411.5 1540,1413.3 1544,1416.4 1548,1419.6 1552,1420 1556,1417.7 1560,1415.6 1564,1414.9 1568,1418.4" fill="none" stroke="#4a4aff" stroke-width="1.8" stroke-opacity="0.40"/>
<polyline points="1380,1399 1384,1402.9 1388,1406.7 1392,1408.9 1396,1407.2 1400,1405.5 1404,1403.9 1408,1407.6 1412,1411.3 1416,1414.8 1420,1414 1424,1411.9 1428,1409.8 1432,1410.7 1436,1414 1440,1417.2 1444,1418.8 1448,1416.4 1452,1414 1456,1411.7 1460,1414.7 1464,1417.7 1468,1420.6 1472,1419.1 1476,1416.4 1480,1413.7 1484,1414 1488,1416.8 1492,1419.6 1496,1420.8 1500,1418.1 1504,1415.4 1508,1413 1512,1415.9 1516,1418.9 1520,1421.8 1524,1420.5 1528,1418 1532,1415.6 1536,1416.2 1540,1419.4 1544,1422.7 1548,1424.4 1552,1422.3 1556,1420.2 1560,1418.5 1564,1422 1568,1425.7" fill="none" stroke="#ff4a4a" stroke-width="1.8" stroke-opacity="0.40"/>
<polyline points="1380,1405.7 1384,1409.5 1388,1413.3 1392,1413.8 1396,1412 1400,1410.1 1404,1410 1408,1413.6 1412,1417.1 1416,1420.1 1420,1417.9 1424,1415.7 1428,1413.4 1432,1415.7 1436,1418.8 1440,1421.9 1444,1421.8 1448,1419.2 1452,1416.7 1456,1415.9 1460,1418.8 1464,1421.7 1468,1424.1 1472,1421.3 1476,1418.6 1480,1415.9 1484,1417.8 1488,1420.6 1492,1423.5 1496,1423.1 1500,1420.5 1504,1417.9 1508,1417.1 1512,1420.1 1516,1423.2 1520,1425.9 1524,1423.5 1528,1421.2 1532,1418.9 1536,1421.3 1540,1424.7 1544,1428.1 1548,1428.4 1552,1426.4 1556,1424.5 1560,1424.5 1564,1428.2 1568,1431.9" fill="none" stroke="#4a4aff" stroke-width="1.8" stroke-opacity="0.24"/>
</g>
<clipPath id="clipD"><polygon points="133,1920.4 1573,1920.4 1573,2363.9 394,2363.9 382,2206.9 360,2091.9 345,2091.9 335,2206.9 324,2363.9 315,2363.9 301,2171.9 280.4,2363.9 239,2363.9 236.7,2337.9 224.7,2206.9 207,2097.9 201.8,2032.9 197,1973.9 176,1981.9"/></clipPath>
<mask id="mkD" maskUnits="userSpaceOnUse" x="0" y="1860.5" width="1772" height="520"><g fill="#fff" filter="url(#fBl)"><polygon points="1000,1923.9 1573,1923.9 1573,1983.9 1000,1983.9"/><polygon points="820,1935.9 1000,1923.9 1000,2028.9 820,2040.9"/><polygon points="650,2012.9 820,1942.9 820,2002.9 650,2072.9"/><polygon points="560,1935.9 760,1982.9 760,2018.9 560,1971.9"/><polygon points="600,2037.9 700,2037.9 700,2071.9 600,2071.9"/><polygon points="425,2037.9 465,2037.9 465,2067.9 425,2067.9"/><polygon points="920,2075.9 1000,2075.9 1000,2111.9 920,2111.9"/><polygon points="225,2109.9 340,2102.9 340,2160.9 225,2167.9"/><polygon points="1380,1989.9 1570,2017.9 1570,2049.9 1380,2021.9"/></g></mask>
<g clip-path="url(#clipD)">
<rect x="127" y="1918.5" width="1450" height="446" filter="url(#fS)"/>
<rect x="127" y="1918.5" width="1450" height="300" filter="url(#fS2)" mask="url(#mkD)"/>
<polyline points="1000,1932.9 1004,1930 1008,1928.4 1012,1930.9 1016,1933.3 1020,1935.6 1024,1932.4 1028,1929.2 1032,1925.9 1036,1926.9 1040,1929.1 1044,1931.4 1048,1930.7 1052,1927.4 1056,1924.1 1060,1922.3 1064,1924.6 1068,1926.9 1072,1929.1 1076,1926 1080,1922.8 1084,1919.8 1088,1921 1092,1923.6 1096,1926.2 1100,1926 1104,1923.2 1108,1920.4 1112,1919.3 1116,1922.2 1120,1925.1 1124,1928 1128,1925.6 1132,1923.1 1136,1920.8 1140,1922.7 1144,1925.9 1148,1929.2 1152,1929.6 1156,1927.3 1160,1925.1 1164,1924.4 1168,1927.7 1172,1931 1176,1934.1 1180,1931.9 1184,1929.6 1188,1927.2 1192,1929.1 1196,1932.2 1200,1935.3 1204,1935.5 1208,1932.9 1212,1930.3 1216,1929.1 1220,1931.9 1224,1934.7 1228,1937.2 1232,1934.3 1236,1931.4 1240,1928.4 1244,1929.6 1248,1932 1252,1934.4 1256,1933.8 1260,1930.6 1264,1927.3 1268,1925.6 1272,1927.8 1276,1930 1280,1932.2 1284,1928.9 1288,1925.6 1292,1922.3 1296,1923.3 1300,1925.6 1304,1927.9 1308,1927.4 1312,1924.3 1316,1921.2 1320,1919.7 1324,1922.2 1328,1924.8 1332,1927.4 1336,1924.6 1340,1921.8 1344,1919.1 1348,1920.8 1352,1923.7 1356,1926.7 1360,1926.9 1364,1924.5 1368,1922.1 1372,1921.3 1376,1924.5 1380,1927.7 1384,1930.9 1388,1928.7 1392,1926.4 1396,1924.2 1400,1926.2 1404,1929.5 1408,1932.8 1412,1933.2 1416,1930.9 1420,1928.6 1424,1927.7 1428,1930.8 1432,1933.9 1436,1936.8 1440,1934.3 1444,1931.7 1448,1929 1452,1930.5 1456,1933.3 1460,1936 1464,1935.7 1468,1932.8 1472,1929.8 1476,1928.2 1480,1930.6 1484,1933 1488,1935.3 1492,1932 1496,1928.8 1500,1925.5 1504,1926.5 1508,1928.7 1512,1931 1516,1930.3 1520,1927 1524,1923.7 1528,1921.9 1532,1924.2 1536,1926.6 1540,1928.8 1544,1925.7 1548,1922.6 1552,1919.6 1556,1920.8 1560,1923.5 1564,1926.1 1568,1926 1572,1923.2" fill="none" stroke="#ff4a4a" stroke-width="1.8" stroke-opacity="0.45"/>
<polyline points="1000,1939.5 1004,1936.4 1008,1933.2 1012,1931.6 1016,1933.9 1020,1936.2 1024,1938.3 1028,1935 1032,1931.7 1036,1928.4 1040,1929.4 1044,1931.6 1048,1933.9 1052,1933.2 1056,1930 1060,1926.8 1064,1925.1 1068,1927.5 1072,1930 1076,1932.4 1080,1929.4 1084,1926.4 1088,1923.6 1092,1925 1096,1927.8 1100,1930.7 1104,1930.7 1108,1928.1 1112,1925.5 1116,1924.6 1120,1927.7 1124,1930.8 1128,1933.9 1132,1931.6 1136,1929.3 1140,1927 1144,1929.1 1148,1932.4 1152,1935.7 1156,1936.1 1160,1933.8 1164,1931.6 1168,1930.8 1172,1934.1 1176,1937.3 1180,1940.3 1184,1937.9 1188,1935.5 1192,1933 1196,1934.7 1200,1937.7 1204,1940.5 1208,1940.4 1212,1937.7 1216,1934.8 1220,1933.5 1224,1936 1228,1938.6 1232,1940.9 1236,1937.8 1240,1934.7 1244,1931.5 1248,1932.6 1252,1934.8 1256,1937.1 1260,1936.5 1264,1933.2 1268,1929.8 1272,1928.1 1276,1930.3 1280,1932.5 1284,1934.7 1288,1931.4 1292,1928.2 1296,1925 1300,1926.2 1304,1928.6 1308,1931.1 1312,1930.8 1316,1927.8 1320,1925 1324,1923.7 1328,1926.4 1332,1929.3 1336,1932 1340,1929.4 1344,1926.9 1348,1924.4 1352,1926.3 1356,1929.4 1360,1932.6 1364,1932.9 1368,1930.6 1372,1928.3 1376,1927.6 1380,1930.9 1384,1934.2 1388,1937.4 1392,1935.2 1396,1932.9 1400,1930.7 1404,1932.6 1408,1935.9 1412,1939 1416,1939.3 1420,1936.8 1424,1934.3 1428,1933.3 1432,1936.2 1436,1939.1 1440,1941.8 1444,1939.1 1448,1936.2 1452,1933.3 1456,1934.7 1460,1937.2 1464,1939.7 1468,1939.3 1472,1936.1 1476,1932.9 1480,1931.2 1484,1933.5 1488,1935.8 1492,1937.9 1496,1934.6 1500,1931.3 1504,1928 1508,1929 1512,1931.2 1516,1933.5 1520,1932.9 1524,1929.7 1528,1926.5 1532,1924.9 1536,1927.3 1540,1929.8 1544,1932.2 1548,1929.3 1552,1926.4 1556,1923.5 1560,1925 1564,1927.9 1568,1930.8 1572,1930.8" fill="none" stroke="#4a4aff" stroke-width="1.8" stroke-opacity="0.45"/>
<polyline points="1000,1936.9 1004,1936.3 1008,1938.6 1012,1940.8 1016,1941.9 1020,1938.6 1024,1935.2 1028,1931.9 1032,1934 1036,1936.3 1040,1938.5 1044,1936.8 1048,1933.6 1052,1930.4 1056,1929.9 1060,1932.3 1064,1934.8 1068,1936.1 1072,1933.2 1076,1930.3 1080,1927.5 1084,1930.1 1088,1932.9 1092,1935.8 1096,1934.8 1100,1932.2 1104,1929.7 1108,1929.9 1112,1933 1116,1936.2 1120,1938.2 1124,1935.9 1128,1933.6 1132,1931.4 1136,1934.5 1140,1937.8 1144,1941.1 1148,1940.5 1152,1938.2 1156,1935.9 1160,1936.3 1164,1939.5 1168,1942.7 1172,1944.6 1176,1942.1 1180,1939.7 1184,1937.1 1188,1939.9 1192,1942.8 1196,1945.6 1200,1944.4 1204,1941.6 1208,1938.7 1212,1938.4 1216,1940.9 1220,1943.4 1224,1944.6 1228,1941.5 1232,1938.3 1236,1935.1 1240,1937.2 1244,1939.5 1248,1941.8 1252,1940 1256,1936.7 1260,1933.4 1264,1932.7 1268,1934.9 1272,1937.2 1276,1938.3 1280,1935 1284,1931.9 1288,1928.7 1292,1931 1296,1933.5 1300,1936 1304,1934.6 1308,1931.7 1312,1928.9 1316,1928.7 1320,1931.5 1324,1934.4 1328,1936.1 1332,1933.6 1336,1931.1 1340,1928.6 1344,1931.6 1348,1934.8 1352,1938 1356,1937.2 1360,1935 1364,1932.7 1368,1933.1 1372,1936.4 1376,1939.7 1380,1941.8 1384,1939.5 1388,1937.3 1392,1935 1396,1938 1400,1941.2 1404,1944.4 1408,1943.5 1412,1941 1416,1938.5 1420,1938.5 1424,1941.4 1428,1944.2 1432,1945.8 1436,1943 1440,1940.1 1444,1937.2 1448,1939.6 1452,1942.1 1456,1944.5 1460,1942.9 1464,1939.8 1468,1936.5 1472,1935.9 1476,1938.2 1480,1940.4 1484,1941.5 1488,1938.1 1492,1934.8 1496,1931.5 1500,1933.6 1504,1935.9 1508,1938.2 1512,1936.5 1516,1933.3 1520,1930.1 1524,1929.6 1528,1932.1 1532,1934.6 1536,1936 1540,1933.1 1544,1930.3 1548,1927.5 1552,1930.1 1556,1933 1560,1935.9 1564,1934.9 1568,1932.4 1572,1930" fill="none" stroke="#ff4a4a" stroke-width="1.8" stroke-opacity="0.45"/>
<polyline points="1000,1945.1 1004,1941.8 1008,1938.5 1012,1938.8 1016,1941.1 1020,1943.3 1024,1943.3 1028,1940 1032,1936.7 1036,1934.4 1040,1936.8 1044,1939.2 1048,1941.6 1052,1939 1056,1936 1060,1933.1 1064,1933.8 1068,1936.5 1072,1939.3 1076,1939.8 1080,1937.1 1084,1934.5 1088,1932.9 1092,1935.9 1096,1939 1100,1942.1 1104,1940.2 1108,1937.9 1112,1935.6 1116,1937 1120,1940.3 1124,1943.6 1128,1944.6 1132,1942.4 1136,1940.1 1140,1938.8 1144,1942.1 1148,1945.3 1152,1948.6 1156,1946.7 1160,1944.3 1164,1941.9 1168,1943.1 1172,1946.1 1176,1949 1180,1949.7 1184,1947 1188,1944.2 1192,1942.3 1196,1945 1200,1947.6 1204,1950.2 1208,1947.6 1212,1944.5 1216,1941.4 1220,1941.9 1224,1944.2 1228,1946.5 1232,1946.5 1236,1943.2 1240,1939.9 1244,1937.5 1248,1939.8 1252,1942 1256,1944.2 1260,1941.4 1264,1938.2 1268,1935 1272,1935.4 1276,1937.8 1280,1940.2 1284,1940.4 1288,1937.4 1292,1934.5 1296,1932.5 1300,1935.1 1304,1937.9 1308,1940.7 1312,1938.5 1316,1935.9 1320,1933.3 1324,1934.5 1328,1937.6 1332,1940.7 1336,1941.6 1340,1939.2 1344,1936.9 1348,1935.6 1352,1938.8 1356,1942.1 1360,1945.4 1364,1943.7 1368,1941.5 1372,1939.2 1376,1940.6 1380,1943.9 1384,1947.1 1388,1948 1392,1945.7 1396,1943.2 1400,1941.7 1404,1944.7 1408,1947.6 1412,1950.5 1416,1948.3 1420,1945.6 1424,1942.8 1428,1943.6 1432,1946.2 1436,1948.8 1440,1949 1444,1945.9 1448,1942.8 1452,1940.6 1456,1942.9 1460,1945.2 1464,1947.5 1468,1944.7 1472,1941.4 1476,1938.1 1480,1938.4 1484,1940.7 1488,1942.9 1492,1942.9 1496,1939.6 1500,1936.4 1504,1934.1 1508,1936.5 1512,1938.9 1516,1941.4 1520,1938.8 1524,1935.9 1528,1932.9 1532,1933.8 1536,1936.5 1540,1939.3 1544,1939.9 1548,1937.3 1552,1934.7 1556,1933.1 1560,1936.1 1564,1939.3 1568,1942.4 1572,1940.6" fill="none" stroke="#4a4aff" stroke-width="1.8" stroke-opacity="0.45"/>
<polyline points="1000,1949.9 1004,1946.6 1008,1943.3 1012,1940 1016,1942.3 1020,1944.6 1024,1946.9 1028,1945.1 1032,1941.9 1036,1938.8 1040,1938.5 1044,1941 1048,1943.6 1052,1944.8 1056,1942 1060,1939.2 1064,1936.4 1068,1939.3 1072,1942.2 1076,1945.2 1080,1944 1084,1941.6 1088,1939.2 1092,1939.6 1096,1942.8 1100,1946 1104,1947.9 1108,1945.6 1112,1943.4 1116,1941.1 1120,1944.4 1124,1947.7 1128,1951 1132,1950.2 1136,1947.9 1140,1945.6 1144,1946 1148,1949.2 1152,1952.3 1156,1954 1160,1951.5 1164,1948.9 1168,1946.3 1172,1949.1 1176,1951.9 1180,1954.7 1184,1953.2 1188,1950.3 1192,1947.3 1196,1947.1 1200,1949.5 1204,1952 1208,1953 1212,1949.8 1216,1946.5 1220,1943.3 1224,1945.5 1228,1947.8 1232,1950 1236,1948.1 1240,1944.8 1244,1941.5 1248,1941 1252,1943.2 1256,1945.5 1260,1946.5 1264,1943.3 1268,1940.2 1272,1937.1 1276,1939.6 1280,1942.2 1284,1944.8 1288,1943.4 1292,1940.6 1296,1937.8 1300,1937.9 1304,1940.8 1308,1943.8 1312,1945.4 1316,1942.9 1320,1940.5 1324,1938.1 1328,1941.3 1332,1944.5 1336,1947.8 1340,1946.9 1344,1944.7 1348,1942.5 1352,1943 1356,1946.3 1360,1949.6 1364,1951.5 1368,1949.2 1372,1946.9 1376,1944.6 1380,1947.7 1384,1950.9 1388,1954 1392,1952.8 1396,1950.3 1400,1947.7 1404,1947.7 1408,1950.6 1412,1953.3 1416,1954.6 1420,1951.7 1424,1948.7 1428,1945.7 1432,1948.2 1436,1950.6 1440,1953 1444,1951.2 1448,1948 1452,1944.7 1456,1944.2 1460,1946.5 1464,1948.7 1468,1949.5 1472,1946.2 1476,1942.9 1480,1939.6 1484,1941.9 1488,1944.2 1492,1946.5 1496,1944.8 1500,1941.6 1504,1938.6 1508,1938.3 1512,1940.8 1516,1943.5 1520,1944.8 1524,1941.9 1528,1939.2 1532,1936.5 1536,1939.4 1540,1942.3 1544,1945.4 1548,1944.3 1552,1941.8 1556,1939.5 1560,1939.9 1564,1943.1 1568,1946.4 1572,1948.3" fill="none" stroke="#ff4a4a" stroke-width="1.8" stroke-opacity="0.45"/>
<polyline points="1000,1946 1004,1945.6 1008,1947.8 1012,1950.1 1016,1951 1020,1947.8 1024,1944.7 1028,1941.7 1032,1944.2 1036,1946.8 1040,1949.4 1044,1947.8 1048,1945 1052,1942.3 1056,1942.4 1060,1945.3 1064,1948.3 1068,1949.8 1072,1947.4 1076,1944.9 1080,1942.6 1084,1945.8 1088,1949 1092,1952.3 1096,1951.3 1100,1949.1 1104,1946.9 1108,1947.5 1112,1950.8 1116,1954.1 1120,1955.9 1124,1953.6 1128,1951.3 1132,1949.1 1136,1952.2 1140,1955.4 1144,1958.5 1148,1957.3 1152,1954.7 1156,1952.1 1160,1952.3 1164,1955.1 1168,1957.8 1172,1959.1 1176,1956.2 1180,1953.2 1184,1950.3 1188,1952.8 1192,1955.2 1196,1957.6 1200,1955.7 1204,1952.5 1208,1949.2 1212,1948.8 1216,1951 1220,1953.3 1224,1954.1 1228,1950.7 1232,1947.4 1236,1944.2 1240,1946.5 1244,1948.8 1248,1951.1 1252,1949.3 1256,1946.1 1260,1943.1 1264,1942.9 1268,1945.4 1272,1948 1276,1949.2 1280,1946.4 1284,1943.7 1288,1941 1292,1943.9 1296,1946.9 1300,1949.9 1304,1948.7 1308,1946.3 1312,1943.9 1316,1944.4 1320,1947.6 1324,1950.8 1328,1952.7 1332,1950.4 1336,1948.2 1340,1946 1344,1949.3 1348,1952.6 1352,1955.9 1356,1955 1360,1952.7 1364,1950.3 1368,1950.8 1372,1953.9 1376,1957 1380,1958.6 1384,1956.1 1388,1953.5 1392,1950.9 1396,1953.7 1400,1956.5 1404,1959.2 1408,1957.6 1412,1954.6 1416,1951.6 1420,1951.4 1424,1953.9 1428,1956.3 1432,1957.2 1436,1953.9 1440,1950.7 1444,1947.5 1448,1949.7 1452,1952 1456,1954.2 1460,1952.2 1464,1948.9 1468,1945.6 1472,1945.2 1476,1947.5 1480,1949.8 1484,1950.7 1488,1947.6 1492,1944.5 1496,1941.5 1500,1944 1504,1946.6 1508,1949.3 1512,1947.8 1516,1945 1520,1942.3 1524,1942.5 1528,1945.5 1532,1948.5 1536,1950.1 1540,1947.6 1544,1945.2 1548,1942.9 1552,1946.1 1556,1949.4 1560,1952.7 1564,1951.7 1568,1949.5 1572,1947.3" fill="none" stroke="#4a4aff" stroke-width="1.8" stroke-opacity="0.45"/>
<polyline points="1000,1956.4 1004,1953.2 1008,1950 1012,1946.9 1016,1948.7 1020,1951.2 1024,1953.7 1028,1952.8 1032,1949.9 1036,1947.1 1040,1946.5 1044,1949.3 1048,1952.2 1052,1954.4 1056,1951.9 1060,1949.4 1064,1946.9 1068,1949.4 1072,1952.6 1076,1955.8 1080,1955.6 1084,1953.3 1088,1951.1 1092,1951 1096,1954.3 1100,1957.6 1104,1960.1 1108,1957.9 1112,1955.6 1116,1953.3 1120,1955.9 1124,1959.1 1128,1962.2 1132,1961.8 1136,1959.3 1140,1956.8 1144,1956.3 1148,1959.2 1152,1962 1156,1964 1160,1961.2 1164,1958.3 1168,1955.4 1172,1957.3 1176,1959.8 1180,1962.2 1184,1961.1 1188,1957.9 1192,1954.7 1196,1953.6 1200,1955.8 1204,1958.1 1208,1959.6 1212,1956.3 1216,1953 1220,1949.7 1224,1951.3 1228,1953.5 1232,1955.8 1236,1954.6 1240,1951.4 1244,1948.3 1248,1947.3 1252,1949.8 1256,1952.4 1260,1954.2 1264,1951.3 1268,1948.5 1272,1945.7 1276,1947.9 1280,1950.8 1284,1953.7 1288,1953.2 1292,1950.7 1296,1948.3 1300,1948 1304,1951.2 1308,1954.4 1312,1956.9 1316,1954.6 1320,1952.4 1324,1950.1 1328,1952.8 1332,1956.1 1336,1959.4 1340,1959.2 1344,1956.9 1348,1954.6 1352,1954.5 1356,1957.6 1360,1960.8 1364,1963.1 1368,1960.7 1372,1958.1 1376,1955.5 1380,1957.8 1384,1960.6 1388,1963.4 1392,1962.6 1396,1959.7 1400,1956.8 1404,1955.9 1408,1958.4 1412,1960.9 1416,1962.5 1420,1959.3 1424,1956.1 1428,1952.9 1432,1954.5 1436,1956.8 1440,1959 1444,1957.7 1448,1954.4 1452,1951.1 1456,1949.9 1460,1952.2 1464,1954.5 1468,1956.1 1472,1952.9 1476,1949.7 1480,1946.6 1484,1948.5 1488,1951 1492,1953.6 1496,1952.7 1500,1949.9 1504,1947.1 1508,1946.5 1512,1949.4 1516,1952.3 1520,1954.6 1524,1952.1 1528,1949.6 1532,1947.2 1536,1949.7 1540,1953 1544,1956.2 1548,1956 1552,1953.7 1556,1951.5 1560,1951.4 1564,1954.7 1568,1958 1572,1960.5" fill="none" stroke="#ff4a4a" stroke-width="1.8" stroke-opacity="0.45"/>
<polyline points="1000,1958.1 1004,1959.1 1008,1956 1012,1953 1016,1950.1 1020,1952.8 1024,1955.5 1028,1958.2 1032,1956.9 1036,1954.2 1040,1951.6 1044,1951.8 1048,1954.9 1052,1958 1056,1959.7 1060,1957.3 1064,1955 1068,1952.7 1072,1956 1076,1959.3 1080,1962.6 1084,1961.7 1088,1959.5 1092,1957.3 1096,1957.8 1100,1961.1 1104,1964.3 1108,1966.1 1112,1963.8 1116,1961.4 1120,1959 1124,1962 1128,1965.1 1132,1968 1136,1966.7 1140,1964 1144,1961.3 1148,1961.2 1152,1963.9 1156,1966.5 1160,1967.7 1164,1964.6 1168,1961.5 1172,1958.4 1176,1960.8 1180,1963.1 1184,1965.4 1188,1963.5 1192,1960.2 1196,1956.9 1200,1956.4 1204,1958.6 1208,1960.9 1212,1961.7 1216,1958.4 1220,1955.2 1224,1952 1228,1954.3 1232,1956.7 1236,1959.2 1240,1957.5 1244,1954.5 1248,1951.5 1252,1951.4 1256,1954.1 1260,1956.8 1264,1958.2 1268,1955.6 1272,1953 1276,1950.4 1280,1953.5 1284,1956.5 1288,1959.7 1292,1958.7 1296,1956.3 1300,1954 1304,1954.6 1308,1957.8 1312,1961.1 1316,1963 1320,1960.8 1324,1958.6 1328,1956.4 1332,1959.6 1336,1962.9 1340,1966.1 1344,1965.1 1348,1962.7 1352,1960.3 1356,1960.6 1360,1963.6 1364,1966.6 1368,1968.1 1372,1965.4 1376,1962.7 1380,1959.9 1384,1962.5 1388,1965.2 1392,1967.7 1396,1966.1 1400,1963 1404,1959.8 1408,1959.5 1412,1961.8 1416,1964.1 1420,1965 1424,1961.7 1428,1958.4 1432,1955.1 1436,1957.3 1440,1959.6 1444,1961.8 1448,1959.9 1452,1956.6 1456,1953.4 1460,1953 1464,1955.4 1468,1957.8 1472,1958.9 1476,1955.9 1480,1952.9 1484,1950 1488,1952.7 1492,1955.4 1496,1958.3 1500,1956.9 1504,1954.3 1508,1951.8 1512,1952 1516,1955.1 1520,1958.2 1524,1960 1528,1957.7 1532,1955.4 1536,1953.1 1540,1956.4 1544,1959.7 1548,1963 1552,1962.1 1556,1959.9 1560,1957.7 1564,1958.2 1568,1961.4 1572,1964.7" fill="none" stroke="#4a4aff" stroke-width="1.8" stroke-opacity="0.27"/>
<polyline points="1000,1961 1004,1963.6 1008,1960.8 1012,1957.9 1016,1955.1 1020,1956.5 1024,1959.3 1028,1962.3 1032,1962.5 1036,1960 1040,1957.6 1044,1956.5 1048,1959.6 1052,1962.8 1056,1966.1 1060,1963.9 1064,1961.6 1068,1959.4 1072,1961.2 1076,1964.5 1080,1967.8 1084,1968.4 1088,1966.2 1092,1963.9 1096,1962.9 1100,1966.1 1104,1969.3 1108,1972.4 1112,1970 1116,1967.4 1120,1964.9 1124,1966.3 1128,1969.2 1132,1972 1136,1972 1140,1969.2 1144,1966.2 1148,1964.6 1152,1967.1 1156,1969.6 1160,1972 1164,1968.9 1168,1965.7 1172,1962.4 1176,1963.3 1180,1965.5 1184,1967.8 1188,1967.3 1192,1964 1196,1960.7 1200,1958.7 1204,1961 1208,1963.2 1212,1965.5 1216,1962.4 1220,1959.3 1224,1956.1 1228,1957.2 1232,1959.7 1236,1962.2 1240,1962.2 1244,1959.3 1248,1956.5 1252,1955.1 1256,1957.9 1260,1960.9 1264,1963.8 1268,1961.4 1272,1958.9 1276,1956.5 1280,1958.2 1284,1961.4 1288,1964.6 1292,1965.2 1296,1962.9 1300,1960.7 1304,1959.8 1308,1963.1 1312,1966.4 1316,1969.7 1320,1967.5 1324,1965.2 1328,1962.9 1332,1964.7 1336,1967.8 1340,1971 1344,1971.3 1348,1968.8 1352,1966.2 1356,1964.9 1360,1967.8 1364,1970.6 1368,1973.3 1372,1970.6 1376,1967.6 1380,1964.7 1384,1965.7 1388,1968.2 1392,1970.6 1396,1970.3 1400,1967.1 1404,1963.9 1408,1961.9 1412,1964.2 1416,1966.4 1420,1968.7 1424,1965.4 1428,1962.1 1432,1958.8 1436,1959.6 1440,1961.9 1444,1964.2 1448,1963.8 1452,1960.7 1456,1957.6 1460,1955.8 1464,1958.3 1468,1960.9 1472,1963.5 1476,1960.7 1480,1957.9 1484,1955.1 1488,1956.6 1492,1959.5 1496,1962.4 1500,1962.7 1504,1960.3 1508,1957.8 1512,1956.8 1516,1960 1520,1963.2 1524,1966.5 1528,1964.3 1532,1962 1536,1959.8 1540,1961.6 1544,1964.9 1548,1968.2 1552,1968.8 1556,1966.5 1560,1964.2 1564,1963.2 1568,1966.4 1572,1969.5" fill="none" stroke="#ff4a4a" stroke-width="1.8" stroke-opacity="0.27"/>
<polyline points="1000,1964 1004,1961.2 1008,1959.4 1012,1962.2 1016,1965.1 1020,1968.1 1024,1966.1 1028,1963.6 1032,1961.2 1036,1962.5 1040,1965.7 1044,1968.9 1048,1969.8 1052,1967.6 1056,1965.3 1060,1964 1064,1967.3 1068,1970.6 1072,1973.9 1076,1972.2 1080,1969.9 1084,1967.6 1088,1968.9 1092,1972.1 1096,1975.2 1100,1976 1104,1973.5 1108,1970.9 1112,1969.2 1116,1972.1 1120,1974.9 1124,1977.6 1128,1975.3 1132,1972.4 1136,1969.4 1140,1970.1 1144,1972.5 1148,1975 1152,1975.1 1156,1971.9 1160,1968.6 1164,1966.3 1168,1968.6 1172,1970.8 1176,1973 1180,1970.2 1184,1966.9 1188,1963.6 1192,1964 1196,1966.3 1200,1968.6 1204,1968.6 1208,1965.4 1212,1962.3 1216,1960.1 1220,1962.6 1224,1965.2 1228,1967.8 1232,1965.4 1236,1962.6 1240,1959.8 1244,1960.8 1248,1963.7 1252,1966.7 1256,1967.4 1260,1964.9 1264,1962.5 1268,1961 1272,1964.2 1276,1967.4 1280,1970.7 1284,1968.9 1288,1966.7 1292,1964.4 1296,1965.9 1300,1969.2 1304,1972.5 1308,1973.5 1312,1971.2 1316,1968.9 1320,1967.5 1324,1970.7 1328,1973.8 1332,1976.9 1336,1974.8 1340,1972.3 1344,1969.7 1348,1970.7 1352,1973.5 1356,1976.3 1360,1976.7 1364,1973.8 1368,1970.8 1372,1968.7 1376,1971.2 1380,1973.6 1384,1976 1388,1973.3 1392,1970.1 1396,1966.8 1400,1967.2 1404,1969.5 1408,1971.7 1412,1971.6 1416,1968.3 1420,1965 1424,1962.7 1428,1964.9 1432,1967.2 1436,1969.6 1440,1966.9 1444,1963.7 1448,1960.6 1452,1961.3 1456,1963.8 1460,1966.4 1464,1966.8 1468,1964 1472,1961.2 1476,1959.4 1480,1962.3 1484,1965.3 1488,1968.3 1492,1966.3 1496,1963.8 1500,1961.5 1504,1962.8 1508,1966 1512,1969.3 1516,1970.2 1520,1968 1524,1965.7 1528,1964.4 1532,1967.7 1536,1971 1540,1974.3 1544,1972.5 1548,1970.2 1552,1967.9 1556,1969.2 1560,1972.4 1564,1975.5 1568,1976.2 1572,1973.7" fill="none" stroke="#4a4aff" stroke-width="1.8" stroke-opacity="0.27"/>
<polyline points="1000,1964.9 1004,1967.8 1008,1970.8 1012,1972.3 1016,1969.8 1020,1967.3 1024,1965.1 1028,1968.3 1032,1971.5 1036,1974.8 1040,1973.7 1044,1971.5 1048,1969.3 1052,1969.9 1056,1973.2 1060,1976.5 1064,1978.3 1068,1976 1072,1973.7 1076,1971.6 1080,1974.7 1084,1977.9 1088,1981 1092,1979.7 1096,1977.2 1100,1974.6 1104,1974.8 1108,1977.6 1112,1980.4 1116,1981.6 1120,1978.7 1124,1975.7 1128,1972.9 1132,1975.3 1136,1977.8 1140,1980.2 1144,1978.2 1148,1975 1152,1971.8 1156,1971.4 1160,1973.6 1164,1975.9 1168,1976.6 1172,1973.3 1176,1970 1180,1966.8 1184,1969.1 1188,1971.4 1192,1973.7 1196,1971.8 1200,1968.6 1204,1965.6 1208,1965.4 1212,1968 1216,1970.6 1220,1971.7 1224,1968.9 1228,1966.1 1232,1963.5 1236,1966.4 1240,1969.4 1244,1972.4 1248,1971.1 1252,1968.7 1256,1966.3 1260,1966.8 1264,1970.1 1268,1973.3 1272,1975.1 1276,1972.8 1280,1970.6 1284,1968.5 1288,1971.8 1292,1975.1 1296,1978.4 1300,1977.4 1304,1975.1 1308,1972.7 1312,1973.3 1316,1976.4 1320,1979.5 1324,1981.1 1328,1978.5 1332,1975.9 1336,1973.4 1340,1976.2 1344,1979 1348,1981.7 1352,1980.1 1356,1977.1 1360,1974.1 1364,1974 1368,1976.4 1372,1978.8 1376,1979.7 1380,1976.5 1384,1973.2 1388,1970.1 1392,1972.3 1396,1974.6 1400,1976.8 1404,1974.7 1408,1971.4 1412,1968.1 1416,1967.8 1420,1970.1 1424,1972.4 1428,1973.2 1432,1970.1 1436,1967 1440,1964.1 1444,1966.6 1448,1969.2 1452,1971.8 1456,1970.3 1460,1967.5 1464,1964.8 1468,1965 1472,1968 1476,1971 1480,1972.5 1484,1970 1488,1967.6 1492,1965.4 1496,1968.6 1500,1971.9 1504,1975.1 1508,1974.1 1512,1971.9 1516,1969.7 1520,1970.3 1524,1973.7 1528,1976.9 1532,1978.7 1536,1976.4 1540,1974.1 1544,1971.9 1548,1975 1552,1978.1 1556,1981.2 1560,1979.9 1564,1977.3 1568,1974.6 1572,1974.8" fill="none" stroke="#ff4a4a" stroke-width="1.8" stroke-opacity="0.27"/>
<polyline points="820,1937.1 824,1934 828,1936 832,1938 836,1940 840,1937.5 844,1934.1 848,1930.7 852,1930.6 856,1932.8 860,1935.1 864,1935.7 868,1932.6 872,1929.5 876,1926.9 880,1929.5 884,1932.1 888,1934.9 892,1933 896,1930.3 900,1927.6 904,1928.2 908,1931.1 912,1934.1 916,1935.3 920,1932.7 924,1930.2 928,1928.1 932,1931.2 936,1934.2 940,1937.3 944,1935.7 948,1933.2 952,1930.6 956,1931.2 960,1934.1 964,1936.9 968,1937.9 972,1935.1 976,1932.3 980,1929.8 984,1932.4 988,1934.9 992,1937.4 996,1935.3 1000,1932.1" fill="none" stroke="#ff4a4a" stroke-width="1.8" stroke-opacity="0.45"/>
<polyline points="820,1942.4 824,1938.8 828,1937 832,1939.1 836,1941.3 840,1943.2 844,1939.9 848,1936.7 852,1933.5 856,1934.7 860,1937.2 864,1939.7 868,1939.3 872,1936.4 876,1933.5 880,1932.4 884,1935.2 888,1938 892,1940.7 896,1938 900,1935.5 904,1932.9 908,1934.8 912,1937.8 916,1940.9 920,1940.9 924,1938.4 928,1935.9 932,1935 936,1938 940,1941 944,1943.7 948,1941 952,1938.3 956,1935.6 960,1937.3 964,1940 968,1942.6 972,1942.2 976,1939.2 980,1936.2 984,1934.7 988,1937.1 992,1939.4 996,1941.4 1000,1938.1" fill="none" stroke="#4a4aff" stroke-width="1.8" stroke-opacity="0.45"/>
<polyline points="820,1947 824,1943.6 828,1940.3 832,1941.4 836,1943.6 840,1946 844,1945.3 848,1942.3 852,1939.2 856,1937.9 860,1940.5 864,1943.2 868,1945.7 872,1942.9 876,1940.2 880,1937.6 884,1939.3 888,1942.3 892,1945.3 896,1945.3 900,1942.7 904,1940.2 908,1939.4 912,1942.4 916,1945.5 920,1948.2 924,1945.7 928,1943.1 932,1940.5 936,1942.3 940,1945.2 944,1948 948,1947.8 952,1945 956,1942.1 960,1940.8 964,1943.4 968,1945.9 972,1948.1 976,1944.9 980,1941.7 984,1938.4 988,1939.5 992,1941.7 996,1943.8 1000,1942.9" fill="none" stroke="#ff4a4a" stroke-width="1.8" stroke-opacity="0.45"/>
<polyline points="820,1948.4 824,1945.1 828,1945.3 832,1947.6 836,1950.1 840,1950.6 844,1947.6 848,1944.7 852,1942.4 856,1945.1 860,1947.9 864,1950.7 868,1948.8 872,1946.2 876,1943.6 880,1944.4 884,1947.4 888,1950.4 892,1951.5 896,1949 900,1946.5 904,1944.6 908,1947.6 912,1950.6 916,1953.6 920,1951.8 924,1949.2 928,1946.5 932,1947.2 936,1950 940,1952.7 944,1953.4 948,1950.5 952,1947.6 956,1945.1 960,1947.6 964,1950 968,1952.3 972,1949.9 976,1946.6 980,1943.2 984,1943.2 988,1945.3 992,1947.3 996,1947.4 1000,1943.8" fill="none" stroke="#4a4aff" stroke-width="1.8" stroke-opacity="0.45"/>
<polyline points="820,1955.5 824,1952.4 828,1949.4 832,1948.9 836,1951.5 840,1954.2 844,1955.7 848,1952.9 852,1950.2 856,1947.5 860,1950.2 864,1953.1 868,1956.1 872,1955.2 876,1952.7 880,1950.2 884,1950.2 888,1953.2 892,1956.3 896,1958.2 900,1955.6 904,1953.1 908,1950.5 912,1953.2 916,1956.1 920,1958.9 924,1957.8 928,1955 932,1952.2 936,1951.8 940,1954.4 944,1956.9 948,1958.3 952,1955.1 956,1951.9 960,1948.7 964,1950.7 968,1952.9 972,1955.1 976,1953.3 980,1949.8 984,1946.3 988,1945.3 992,1947.3 996,1949.2 1000,1950.1" fill="none" stroke="#ff4a4a" stroke-width="1.8" stroke-opacity="0.45"/>
<polyline points="820,1961.8 824,1959.1 828,1956.2 832,1953.3 836,1954.5 840,1957.3 844,1960.2 848,1960.5 852,1957.9 856,1955.3 860,1953.9 864,1956.9 868,1960 872,1963 876,1960.7 880,1958.2 884,1955.7 888,1957.1 892,1960.1 896,1963.1 900,1963.5 904,1960.8 908,1958.1 912,1956.6 916,1959.4 920,1962.1 924,1964.7 928,1962 932,1959 936,1955.9 940,1956.8 944,1959.1 948,1961.5 952,1961.1 956,1957.8 960,1954.4 964,1952.2 968,1954.3 972,1956.3 976,1958.3 980,1955 984,1951.4 988,1947.8 992,1948.2 996,1950.2 1000,1952.2" fill="none" stroke="#4a4aff" stroke-width="1.8" stroke-opacity="0.45"/>
<polyline points="820,1966.2 824,1964.6 828,1961.8 832,1959.1 836,1959.5 840,1962.4 844,1965.4 848,1966.7 852,1964.2 856,1961.6 860,1959.4 864,1962.5 868,1965.5 872,1968.5 876,1967.1 880,1964.6 884,1962 888,1962.5 892,1965.4 896,1968.3 900,1969.4 904,1966.7 908,1963.8 912,1961.2 916,1963.9 920,1966.4 924,1968.9 928,1966.9 932,1963.7 936,1960.5 940,1960.3 944,1962.5 948,1964.7 952,1965.2 956,1961.7 960,1958.2 964,1955 968,1957 972,1959 976,1960.9 980,1958.5 984,1954.9 988,1951.3 992,1950.8 996,1952.8 1000,1954.8" fill="none" stroke="#ff4a4a" stroke-width="1.8" stroke-opacity="0.45"/>
<polyline points="820,1971.4 824,1970.1 828,1967.5 832,1964.9 836,1965.1 840,1968.1 844,1971.1 848,1972.8 852,1970.3 856,1967.8 860,1965.3 864,1968.3 868,1971.3 872,1974.3 876,1973.1 880,1970.5 884,1967.8 888,1967.9 892,1970.7 896,1973.4 900,1974.7 904,1971.8 908,1968.8 912,1965.8 916,1968.2 920,1970.6 924,1972.9 928,1971.1 932,1967.7 936,1964.4 940,1963.8 944,1965.9 948,1967.9 952,1968.5 956,1965 960,1961.5 964,1957.9 968,1959.9 972,1961.8 976,1963.8 980,1961.6 984,1958.1 988,1954.6 992,1953.9 996,1955.9 1000,1958.1" fill="none" stroke="#4a4aff" stroke-width="1.8" stroke-opacity="0.45"/>
<polyline points="820,1973 824,1970.4 828,1970.4 832,1973.4 836,1976.4 840,1978.4 844,1975.9 848,1973.4 852,1970.9 856,1973.6 860,1976.6 864,1979.5 868,1978.6 872,1975.9 876,1973.2 880,1973 884,1975.7 888,1978.4 892,1979.9 896,1977 900,1974 904,1970.9 908,1973 912,1975.4 916,1977.7 920,1976 924,1972.7 928,1969.3 932,1968.3 936,1970.4 940,1972.4 944,1973.3 948,1969.8 952,1966.2 956,1962.7 960,1964.3 964,1966.3 968,1968.3 972,1966.4 976,1962.9 980,1959.4 984,1958.4 988,1960.5 992,1962.7 996,1963.8 1000,1960.5" fill="none" stroke="#ff4a4a" stroke-width="1.8" stroke-opacity="0.45"/>
<polyline points="820,1976.4 824,1975.7 828,1978.8 832,1981.8 836,1984.4 840,1981.9 844,1979.4 848,1976.9 852,1978.8 856,1981.8 860,1984.7 864,1984.4 868,1981.6 872,1978.8 876,1977.8 880,1980.4 884,1983 888,1985.2 892,1982.1 896,1979 900,1975.8 904,1977.1 908,1979.4 912,1981.6 916,1980.6 920,1977.1 924,1973.7 928,1972 932,1974 936,1976 940,1977.5 944,1974 948,1970.4 952,1966.8 956,1967.8 960,1969.8 964,1971.8 968,1970.7 972,1967.2 976,1963.8 980,1962.2 984,1964.4 988,1966.6 992,1968.5 996,1965.3 1000,1962.2" fill="none" stroke="#4a4aff" stroke-width="1.8" stroke-opacity="0.45"/>
<polyline points="820,1985.3 824,1988.3 828,1988.8 832,1986.3 836,1983.8 840,1982.3 844,1985.3 848,1988.2 852,1991 856,1988.6 860,1985.8 864,1983 868,1984 872,1986.6 876,1989.1 880,1989.1 884,1986 888,1982.9 892,1980.8 896,1983 900,1985.2 904,1987.4 908,1984.2 912,1980.8 916,1977.3 920,1977.7 924,1979.7 928,1981.6 932,1981.1 936,1977.5 940,1974 944,1971.5 948,1973.5 952,1975.5 956,1977.5 960,1974.3 964,1970.9 968,1967.5 972,1968 976,1970.2 980,1972.5 984,1972.4 988,1969.2 992,1966.1 996,1964.2 1000,1966.8" fill="none" stroke="#ff4a4a" stroke-width="1.8" stroke-opacity="0.45"/>
<polyline points="820,1993.4 824,1995.1 828,1992.5 832,1989.9 836,1987.3 840,1990.1 844,1993 848,1995.7 852,1994.4 856,1991.5 860,1988.6 864,1988.3 868,1990.8 872,1993.3 876,1994.3 880,1991.1 884,1987.8 888,1984.5 892,1986.6 896,1988.8 900,1990.9 904,1988.8 908,1985.3 912,1981.8 916,1980.9 920,1982.9 924,1984.9 928,1985.5 932,1981.9 936,1978.4 940,1974.8 944,1976.8 948,1978.9 952,1980.9 956,1979 960,1975.6 964,1972.3 968,1971.8 972,1974.1 976,1976.5 980,1977.6 984,1974.5 988,1971.6 992,1968.6 996,1971.3 1000,1974" fill="none" stroke="#4a4aff" stroke-width="1.8" stroke-opacity="0.45"/>
<polyline points="820,2000.9 824,1998.3 828,1995.6 832,1992.9 836,1995.2 840,1998 844,2000.6 848,1999.6 852,1996.7 856,1993.6 860,1992.8 864,1995.2 868,1997.6 872,1999 876,1995.7 880,1992.3 884,1988.9 888,1990.5 892,1992.6 896,1994.6 900,1993 904,1989.4 908,1985.8 912,1984.5 916,1986.5 920,1988.5 924,1989.6 928,1986 932,1982.5 936,1979 940,1980.6 944,1982.7 948,1984.9 952,1983.4 956,1980.1 960,1976.9 964,1976 968,1978.5 972,1980.9 976,1982.6 980,1979.7 984,1976.8 988,1974 992,1976.2 996,1979 1000,1981.9" fill="none" stroke="#ff4a4a" stroke-width="1.8" stroke-opacity="0.45"/>
<polyline points="820,2005.9 824,2003.2 828,2000.4 832,1998.1 836,2000.8 840,2003.4 844,2005.9 848,2003.6 852,2000.5 856,1997.3 860,1997.4 864,1999.7 868,2001.9 872,2002.1 876,1998.6 880,1995.2 884,1992.2 888,1994.2 892,1996.2 896,1998.2 900,1995.5 904,1991.9 908,1988.3 912,1988.1 916,1990.1 920,1992.1 924,1992.2 928,1988.7 932,1985.3 936,1982.5 940,1984.7 944,1986.9 948,1989.2 952,1986.9 956,1983.7 960,1980.7 964,1981 968,1983.6 972,1986.2 976,1987 980,1984.2 984,1981.5 988,1979.3 992,1982.2 996,1985.2 1000,1988.1" fill="none" stroke="#4a4aff" stroke-width="1.8" stroke-opacity="0.27"/>
<polyline points="820,2009.6 824,2006.7 828,2003.8 832,2004.4 836,2006.9 840,2009.3 844,2009.5 848,2006.2 852,2002.9 856,2000.5 860,2002.6 864,2004.7 868,2006.8 872,2003.9 876,2000.3 880,1996.8 884,1996.8 888,1998.8 892,2000.8 896,2000.5 900,1997 904,1993.4 908,1990.7 912,1992.7 916,1994.8 920,1996.9 924,1994.1 928,1990.7 932,1987.4 936,1987.8 940,1990.1 944,1992.5 948,1992.8 952,1989.7 956,1986.8 960,1984.7 964,1987.4 968,1990.1 972,1992.9 976,1990.8 980,1988.1 984,1985.5 988,1986.5 992,1989.5 996,1992.5 1000,1993.4" fill="none" stroke="#ff4a4a" stroke-width="1.8" stroke-opacity="0.27"/>
<polyline points="820,2012.2 824,2014.7 828,2015.5 832,2012.3 836,2009.1 840,2006.1 844,2008.3 848,2010.5 852,2012.6 856,2010.3 860,2006.8 864,2003.3 868,2002.8 872,2004.7 876,2006.7 880,2007 884,2003.5 888,1999.9 892,1996.6 896,1998.6 900,2000.6 904,2002.7 908,2000.4 912,1997 916,1993.6 920,1993.3 924,1995.6 928,1997.9 932,1998.7 936,1995.6 940,1992.6 944,1989.8 948,1992.4 952,1995.1 956,1997.9 960,1996.2 964,1993.5 968,1990.9 972,1991.3 976,1994.2 980,1997.2 984,1998.6 988,1996.1 992,1993.6 996,1991.3 1000,1994.3" fill="none" stroke="#4a4aff" stroke-width="1.8" stroke-opacity="0.27"/>
<polyline points="820,2017.9 824,2020.2 828,2018.1 832,2014.8 836,2011.5 840,2011 844,2013.1 848,2015.2 852,2015.6 856,2012.1 860,2008.5 864,2005.2 868,2007.1 872,2009.1 876,2011.1 880,2008.7 884,2005.2 888,2001.6 892,2001.1 896,2003.2 900,2005.3 904,2005.9 908,2002.6 912,1999.3 916,1996.3 920,1998.7 924,2001.1 928,2003.6 932,2001.8 936,1998.9 940,1996 944,1996.2 948,1998.9 952,2001.8 956,2003 960,2000.4 964,1997.8 968,1995.4 972,1998.4 976,2001.5 980,2004.5 984,2003.2 988,2000.7 992,1998.2 996,1998.6 1000,2001.7" fill="none" stroke="#ff4a4a" stroke-width="1.8" stroke-opacity="0.27"/>
<polyline points="820,2018.3 824,2020.5 828,2022.7 832,2021.8 836,2018.3 840,2014.8 844,2012.9 848,2014.9 852,2016.9 856,2018.6 860,2015 864,2011.4 868,2007.9 872,2008.7 876,2010.7 880,2012.8 884,2011.8 888,2008.4 892,2005 896,2003.3 900,2005.6 904,2007.9 908,2010 912,2006.9 916,2003.8 920,2000.8 924,2002.3 928,2004.9 932,2007.7 936,2007.4 940,2004.7 944,2002 948,2001 952,2003.9 956,2006.9 960,2009.6 964,2007.1 968,2004.6 972,2002.1 976,2004 980,2007.1 984,2010.1 988,2010.1 992,2007.5 996,2005 1000,2004" fill="none" stroke="#4a4aff" stroke-width="1.8" stroke-opacity="0.27"/>
<polyline points="820,2024.3 824,2020.8 828,2019.2 832,2021.2 836,2023.2 840,2024.7 844,2021.1 848,2017.5 852,2014 856,2015 860,2017 864,2019 868,2017.8 872,2014.4 876,2010.9 880,2009.4 884,2011.6 888,2013.8 892,2015.7 896,2012.5 900,2009.3 904,2006.3 908,2007.9 912,2010.4 916,2013.1 920,2012.6 924,2009.8 928,2007 932,2006.2 936,2009.1 940,2012 944,2014.5 948,2011.9 952,2009.4 956,2006.9 960,2009 964,2012.1 968,2015.1 972,2014.9 976,2012.4 980,2009.8 984,2009.1 988,2012.1 992,2015 996,2017.4 1000,2014.6" fill="none" stroke="#ff4a4a" stroke-width="1.8" stroke-opacity="0.27"/>
<polyline points="820,2024.4 824,2026.4 828,2028.4 832,2028.7 836,2025.1 840,2021.6 844,2018.3 848,2020.3 852,2022.3 856,2024.3 860,2021.9 864,2018.5 868,2015.1 872,2014.8 876,2017 880,2019.3 884,2020 888,2016.8 892,2013.7 896,2011 900,2013.6 904,2016.2 908,2018.9 912,2017.2 916,2014.4 920,2011.7 924,2012.1 928,2015 932,2018 936,2019.3 940,2016.8 944,2014.3 948,2012 952,2015.1 956,2018.1 960,2021.2 964,2019.7 968,2017.2 972,2014.6 976,2015.1 980,2018 984,2020.9 988,2022 992,2019.3 996,2016.5 1000,2013.9" fill="none" stroke="#4a4aff" stroke-width="1.8" stroke-opacity="0.27"/>
<polyline points="820,2032.4 824,2028.8 828,2025.3 832,2025.4 836,2027.4 840,2029.4 844,2029.1 848,2025.6 852,2022.1 856,2019.7 860,2021.9 864,2024.1 868,2026.3 872,2023.6 876,2020.4 880,2017.3 884,2018 888,2020.6 892,2023.2 896,2023.5 900,2020.7 904,2017.9 908,2016.2 912,2019 916,2021.9 920,2024.9 924,2022.8 928,2020.2 932,2017.7 936,2018.9 940,2022 944,2025 948,2025.7 952,2023.2 956,2020.7 960,2019.1 964,2022 968,2024.9 972,2027.8 976,2025.6 980,2022.8 984,2020 988,2020.9 992,2023.5 996,2026 1000,2026.2" fill="none" stroke="#ff4a4a" stroke-width="1.8" stroke-opacity="0.27"/>
<polyline points="650,2009 654,2010.3 658,2011.7 662,2011.7 666,2007.6 670,2003.5 674,1999.6 678,2001.2 682,2002.8 686,2004.4 690,2001.8 694,1997.9 698,1994.1 702,1993 706,1994.7 710,1996.3 714,1996.5 718,1992.6 722,1988.6 726,1984.6 730,1986.1 734,1987.6 738,1988.9 742,1986.1 746,1981.8 750,1977.5 754,1976 758,1977.1 762,1978.2 766,1977.7 770,1973.1 774,1968.5 778,1963.8 782,1964.6 786,1965.4 790,1966.1 794,1962.5 798,1957.6 802,1952.7 806,1950.6 810,1951.2 814,1951.8 818,1950.9" fill="none" stroke="#ff4a4a" stroke-width="1.8" stroke-opacity="0.45"/>
<polyline points="650,2012.8 654,2014.2 658,2015.7 662,2017.2 666,2014.6 670,2010.7 674,2006.8 678,2005.6 682,2007.3 686,2008.9 690,2009.3 694,2005.4 698,2001.5 702,1997.6 706,1999.1 710,2000.7 714,2002.2 718,1999.6 722,1995.5 726,1991.4 730,1989.9 734,1991.2 738,1992.5 742,1992.3 746,1987.9 750,1983.5 754,1978.9 758,1979.8 762,1980.7 766,1981.6 770,1978.3 774,1973.5 778,1968.7 782,1966.5 786,1967.2 790,1967.8 794,1967.1 798,1962.1 802,1957.2 806,1952.2 810,1952.8 814,1953.4 818,1954" fill="none" stroke="#4a4aff" stroke-width="1.8" stroke-opacity="0.45"/>
<polyline points="650,2024.9 654,2020.9 658,2016.9 662,2016.4 666,2018 670,2019.7 674,2019.4 678,2015.5 682,2011.6 686,2008.3 690,2009.9 694,2011.5 698,2013.1 702,2009.9 706,2005.9 710,2001.8 714,2001.1 718,2002.4 722,2003.7 726,2003 730,1998.7 734,1994.3 738,1990.4 742,1991.4 746,1992.4 750,1993.3 754,1989.4 758,1984.7 762,1979.9 766,1978.5 770,1979.2 774,1979.8 778,1978.5 782,1973.6 786,1968.6 790,1964.2 794,1964.8 798,1965.4 802,1966 806,1961.9 810,1957 814,1952.1 818,1950.6" fill="none" stroke="#ff4a4a" stroke-width="1.8" stroke-opacity="0.45"/>
<polyline points="650,2030.3 654,2031.9 658,2028 662,2024.1 666,2020.3 670,2020.5 674,2022.2 678,2023.8 682,2022.7 686,2018.7 690,2014.7 694,2012.1 698,2013.6 702,2015 706,2016.4 710,2012.1 714,2007.9 718,2003.6 722,2003.3 726,2004.4 730,2005.5 734,2003.7 738,1999.1 742,1994.4 746,1991.1 750,1991.8 754,1992.6 758,1993.3 762,1988.4 766,1983.5 770,1978.6 774,1977.8 778,1978.4 782,1978.9 786,1976.8 790,1971.8 794,1966.9 798,1963.4 802,1964 806,1964.7 810,1965.4 814,1960.7 818,1955.9" fill="none" stroke="#4a4aff" stroke-width="1.8" stroke-opacity="0.45"/>
<polyline points="650,2030.9 654,2032.5 658,2034.2 662,2035.5 666,2031.6 670,2027.7 674,2023.7 678,2024.3 682,2025.8 686,2027.3 690,2025.6 694,2021.4 698,2017.2 702,2014.7 706,2015.9 710,2017.1 714,2017.8 718,2013.4 722,2008.8 726,2004.2 730,2004.1 734,2004.9 738,2005.7 742,2003.3 746,1998.5 750,1993.6 754,1990.5 758,1991.1 762,1991.7 766,1991.9 770,1986.9 774,1982 778,1977 782,1976.6 786,1977.2 790,1977.9 794,1975.4 798,1970.6 802,1965.8 806,1962.9 810,1963.7 814,1964.6 818,1965.2" fill="none" stroke="#ff4a4a" stroke-width="1.8" stroke-opacity="0.45"/>
<polyline points="650,2042.1 654,2038.2 658,2034.3 662,2034.7 666,2036.3 670,2037.8 674,2036.3 678,2032.2 682,2028.1 686,2025.5 690,2026.8 694,2028.1 698,2029 702,2024.6 706,2020.1 710,2015.6 714,2015.4 718,2016.3 722,2017.1 726,2014.9 730,2010.1 734,2005.3 738,2002.1 742,2002.7 746,2003.3 750,2003.7 754,1998.8 758,1993.8 762,1988.8 766,1988.3 770,1988.9 774,1989.5 778,1987.1 782,1982.3 786,1977.4 790,1974.3 794,1975.1 798,1975.9 802,1976.6 806,1972 810,1967.4 814,1963 818,1962.9" fill="none" stroke="#4a4aff" stroke-width="1.8" stroke-opacity="0.45"/>
<polyline points="650,2042.2 654,2043.8 658,2045.3 662,2046.8 666,2043.5 670,2039.4 674,2035.2 678,2034.4 682,2035.6 686,2036.8 690,2035.9 694,2031.4 698,2026.9 702,2023 706,2023.9 710,2024.8 714,2025.6 718,2021.5 722,2016.7 726,2011.9 730,2010.4 734,2011 738,2011.6 742,2010.2 746,2005.2 750,2000.3 754,1996 758,1996.6 762,1997.2 766,1997.8 770,1993.7 774,1988.8 778,1984 782,1982.7 786,1983.5 790,1984.4 794,1983.3 798,1978.8 802,1974.3 806,1970.5 810,1971.7 814,1972.9 818,1974.2" fill="none" stroke="#ff4a4a" stroke-width="1.8" stroke-opacity="0.45"/>
<polyline points="650,2047.9 654,2048.6 658,2050.1 662,2051.4 666,2049.4 670,2045.1 674,2040.8 678,2038.4 682,2039.5 686,2040.5 690,2040.9 694,2036.2 698,2031.6 702,2026.8 706,2026.8 710,2027.6 714,2028.3 718,2025.5 722,2020.6 726,2015.7 730,2012.8 734,2013.3 738,2013.9 742,2013.9 746,2009 750,2004 754,1999.1 758,1999 762,1999.7 766,2000.4 770,1997.8 774,1993.1 778,1988.4 782,1985.8 786,1986.8 790,1987.8 794,1988.3 798,1983.9 802,1979.6 806,1975.3 810,1975.9 814,1977.2 818,1978.7" fill="none" stroke="#4a4aff" stroke-width="1.8" stroke-opacity="0.27"/>
<polyline points="650,2060.3 654,2056.1 658,2051.9 662,2049.3 666,2050.4 670,2051.6 674,2052.2 678,2047.7 682,2043.1 686,2038.4 690,2038.2 694,2039 698,2039.7 702,2037.3 706,2032.5 710,2027.6 714,2024.4 718,2025 722,2025.5 726,2025.8 730,2020.8 734,2015.9 738,2010.9 742,2010.5 746,2011.2 750,2011.9 754,2009.5 758,2004.7 762,2000 766,1997 770,1997.9 774,1998.9 778,1999.6 782,1995.1 786,1990.7 790,1986.4 794,1986.6 798,1987.9 802,1989.2 806,1987.5 810,1983.5 814,1979.4 818,1977.2" fill="none" stroke="#ff4a4a" stroke-width="1.8" stroke-opacity="0.27"/>
<polyline points="650,2066.4 654,2062.9 658,2058.5 662,2054 666,2052.8 670,2053.7 674,2054.6 678,2053.5 682,2048.8 686,2044 690,2039.7 694,2040.4 698,2041 702,2041.6 706,2037.5 710,2032.6 714,2027.6 718,2026 722,2026.6 726,2027.2 730,2025.9 734,2021 738,2016.1 742,2011.9 746,2012.6 750,2013.4 754,2014.2 758,2010.4 762,2005.8 766,2001.3 770,2000.2 774,2001.3 778,2002.5 782,2001.8 786,1997.5 790,1993.3 794,1989.8 798,1991.2 802,1992.7 806,1994.2 810,1991.1 814,1987.1 818,1983.2" fill="none" stroke="#4a4aff" stroke-width="1.8" stroke-opacity="0.27"/>
<polyline points="650,2067.9 654,2063.4 658,2058.8 662,2059.7 666,2060.5 670,2061.3 674,2058 678,2053.1 682,2048.3 686,2046.1 690,2046.7 694,2047.3 698,2046.6 702,2041.6 706,2036.7 710,2031.7 714,2032.3 718,2032.9 722,2033.5 726,2030.1 730,2025.3 734,2020.5 738,2018.4 742,2019.3 746,2020.2 750,2019.8 754,2015.2 758,2010.7 762,2006.3 766,2007.4 770,2008.7 774,2009.9 778,2007.2 782,2003 786,1998.9 790,1997.6 794,1999.1 798,2000.7 802,2000.9 806,1997 810,1993.1 814,1989.2 818,1990.8" fill="none" stroke="#ff4a4a" stroke-width="1.8" stroke-opacity="0.27"/>
<polyline points="560,1938.8 564,1942 568,1945.2 572,1948.4 576,1946.1 580,1943.8 584,1941.4 588,1943.1 592,1946.3 596,1949.5 600,1950 604,1947.7 608,1945.5 612,1944.6 616,1947.9 620,1951.3 624,1954.8 628,1952.9 632,1950.9 636,1949 640,1951.2 644,1955 648,1958.8 652,1960 656,1958.4 660,1956.8 664,1956.6 668,1960.6 672,1964.7 676,1968.9 680,1967.6 684,1966.3 688,1965 692,1967.7 696,1972 700,1976.2 704,1977.8 708,1976.5 712,1975.2 716,1975.1 720,1979.3 724,1983.4 728,1987.5 732,1986.1 736,1984.6 740,1983 744,1985.4 748,1989.3 752,1993.1 756,1994.1 760,1992.3" fill="none" stroke="#ff4a4a" stroke-width="1.8" stroke-opacity="0.30"/>
<polyline points="560,1946.2 564,1943.8 568,1942.6 572,1945.8 576,1949 580,1952.2 584,1950 588,1947.7 592,1945.4 596,1947.1 600,1950.4 604,1953.8 608,1954.6 612,1952.5 616,1950.5 620,1949.7 624,1953.3 628,1957 632,1960.7 636,1959.2 640,1957.5 644,1955.9 648,1958.2 652,1962.3 656,1966.3 660,1967.9 664,1966.5 668,1965.1 672,1964.9 676,1969.1 680,1973.4 684,1977.6 688,1976.5 692,1975.3 696,1974 700,1976.6 704,1980.8 708,1984.9 712,1986.5 716,1985.1 720,1983.6 724,1983.3 728,1987.2 732,1991.2 736,1995 740,1993.5 744,1991.7 748,1989.9 752,1991.9 756,1995.5 760,1999" fill="none" stroke="#4a4aff" stroke-width="1.8" stroke-opacity="0.30"/>
<polyline points="560,1946.2 564,1945.5 568,1948.6 572,1951.8 576,1954.8 580,1952.5 584,1950.3 588,1948 592,1950.2 596,1953.6 600,1957 604,1957.6 608,1955.6 612,1953.6 616,1953.4 620,1957.1 624,1960.9 628,1964.5 632,1962.8 636,1961.3 640,1959.7 644,1962.6 648,1966.7 652,1970.8 656,1972 660,1970.6 664,1969.3 668,1969.6 672,1973.9 676,1978.1 680,1982.1 684,1980.8 688,1979.5 692,1978.2 696,1981.2 700,1985.4 704,1989.5 708,1990.6 712,1989.1 716,1987.5 720,1987.5 724,1991.3 728,1995.2 732,1998.7 736,1996.9 740,1995 744,1993 748,1995.4 752,1998.9 756,2002.3 760,2002.7" fill="none" stroke="#ff4a4a" stroke-width="1.8" stroke-opacity="0.30"/>
<polyline points="560,1955.9 564,1954.4 568,1952.1 572,1949.8 576,1950.9 580,1954.2 584,1957.6 588,1959.1 592,1957.1 596,1955 600,1953.6 604,1957.3 608,1961 612,1964.8 616,1963.9 620,1962.2 624,1960.6 628,1962.4 632,1966.4 636,1970.5 640,1972.7 644,1971.3 648,1970 652,1969.2 656,1973.4 660,1977.6 664,1981.9 668,1981.5 672,1980.2 676,1978.9 680,1980.8 684,1985 688,1989.2 692,1991.4 696,1989.9 700,1988.4 704,1987.4 708,1991.3 712,1995.2 716,1999.1 720,1998.2 724,1996.3 728,1994.4 732,1995.8 736,1999.3 740,2002.8 744,2004.3 748,2002.2 752,2000 756,1998.3 760,2001.5" fill="none" stroke="#4a4aff" stroke-width="1.8" stroke-opacity="0.18"/>
<polyline points="560,1957.9 564,1955.6 568,1953.4 572,1953 576,1956.5 580,1959.9 584,1963.1 588,1961.1 592,1959.2 596,1957.3 600,1960.1 604,1963.9 608,1967.8 612,1968.6 616,1967 620,1965.5 624,1965.8 628,1969.9 632,1974.1 636,1977.8 640,1976.5 644,1975.2 648,1973.9 652,1977.2 656,1981.4 660,1985.7 664,1986.7 668,1985.4 672,1984 676,1984.5 680,1988.6 684,1992.7 688,1996.3 692,1994.8 696,1993.2 700,1991.6 704,1994.4 708,1998.2 712,2001.9 716,2002.4 720,2000.5 724,1998.5 728,1998.3 732,2001.7 736,2005.1 740,2008.1 744,2005.8 748,2003.6 752,2001.3 756,2003.5 760,2006.7" fill="none" stroke="#ff4a4a" stroke-width="1.8" stroke-opacity="0.18"/>
<polyline points="600,2037.3 604,2039.6 608,2042 612,2041 616,2037.9 620,2034.9 624,2033.8 628,2036.4 632,2039 636,2041.2 640,2038.4 644,2035.6 648,2033 652,2035 656,2038 660,2041 664,2040.8 668,2038.4 672,2036 676,2035.6 680,2038.9 684,2042.1 688,2044.9 692,2042.6 696,2040.4 700,2038.2" fill="none" stroke="#ff4a4a" stroke-width="1.8" stroke-opacity="0.35"/>
<polyline points="600,2041.9 604,2038.8 608,2039.6 612,2042.1 616,2044.6 620,2044.8 624,2041.9 628,2039.1 632,2037.5 636,2040.3 640,2043.2 644,2046.2 648,2044 652,2041.5 656,2039.1 660,2040.6 664,2043.8 668,2047 672,2047.8 676,2045.5 680,2043.3 684,2042.1 688,2045.4 692,2048.7 696,2052 700,2050.1" fill="none" stroke="#4a4aff" stroke-width="1.8" stroke-opacity="0.35"/>
<polyline points="600,2049.1 604,2049.7 608,2046.8 612,2043.9 616,2041.7 620,2044.5 624,2047.3 628,2050.2 632,2048.4 636,2045.9 640,2043.4 644,2044.3 648,2047.5 652,2050.7 656,2051.9 660,2049.7 664,2047.4 668,2045.7 672,2049 676,2052.3 680,2055.6 684,2054.2 688,2052 692,2049.7 696,2050.7 700,2053.9" fill="none" stroke="#ff4a4a" stroke-width="1.8" stroke-opacity="0.35"/>
<polyline points="600,2051.5 604,2048.6 608,2045.9 612,2048.8 616,2051.6 620,2054.6 624,2053.4 628,2050.9 632,2048.4 636,2048.9 640,2052 644,2055.3 648,2057.1 652,2054.8 656,2052.6 660,2050.4 664,2053.7 668,2057 672,2060.3 676,2059.4 680,2057.1 684,2054.8 688,2055.3 692,2058.5 696,2061.6 700,2063.3" fill="none" stroke="#4a4aff" stroke-width="1.8" stroke-opacity="0.21"/>
<polyline points="600,2057.3 604,2054.6 608,2052 612,2052.4 616,2055.4 620,2058.5 624,2060.1 628,2057.7 632,2055.4 636,2053.3 640,2056.5 644,2059.8 648,2063.1 652,2062.1 656,2059.9 660,2057.6 664,2058.3 668,2061.6 672,2064.9 676,2066.5 680,2064.2 684,2061.8 688,2059.5 692,2062.6 696,2065.6 700,2068.6" fill="none" stroke="#ff4a4a" stroke-width="1.8" stroke-opacity="0.21"/>
<polyline points="425,2037.6 429,2035.1 433,2034.5 437,2037.6 441,2040.8 445,2043.6 449,2041.3 453,2039.1 457,2036.8 461,2039.1 465,2042.4" fill="none" stroke="#ff4a4a" stroke-width="1.8" stroke-opacity="0.30"/>
<polyline points="425,2047.3 429,2045.1 433,2042.7 437,2040.4 441,2042.2 445,2045.5 449,2048.8 453,2049.5 457,2047.2 461,2045 465,2044" fill="none" stroke="#4a4aff" stroke-width="1.8" stroke-opacity="0.30"/>
<polyline points="425,2051.8 429,2049.5 433,2047.3 437,2046.2 441,2049.5 445,2052.8 449,2056.1 453,2054.1 457,2051.8 461,2049.6 465,2051.2" fill="none" stroke="#ff4a4a" stroke-width="1.8" stroke-opacity="0.30"/>
<polyline points="425,2053.2 429,2051 433,2053.4 437,2056.7 441,2060 445,2060 449,2057.7 453,2055.4 457,2055 461,2058.2 465,2061.3" fill="none" stroke="#4a4aff" stroke-width="1.8" stroke-opacity="0.18"/>
<polyline points="920,2080.9 924,2078.7 928,2076.5 932,2077.1 936,2080.4 940,2083.7 944,2085.5 948,2083.2 952,2080.9 956,2078.7 960,2081.9 964,2085 968,2088 972,2086.8 976,2084.2 980,2081.6 984,2081.8 988,2084.6 992,2087.3 996,2088.5 1000,2085.6" fill="none" stroke="#ff4a4a" stroke-width="1.8" stroke-opacity="0.45"/>
<polyline points="920,2082.1 924,2085.4 928,2088.7 932,2089.3 936,2087 940,2084.7 944,2083.7 948,2086.9 952,2090 956,2093.1 960,2090.6 964,2088.1 968,2085.5 972,2086.9 976,2089.7 980,2092.5 984,2092.4 988,2089.5 992,2086.6 996,2084.9 1000,2087.4" fill="none" stroke="#4a4aff" stroke-width="1.8" stroke-opacity="0.45"/>
<polyline points="920,2091.4 924,2089.1 928,2087.2 932,2090.4 936,2093.6 940,2096.7 944,2095.3 948,2092.8 952,2090.2 956,2090.8 960,2093.7 964,2096.5 968,2097.5 972,2094.7 976,2091.8 980,2089.2 984,2091.8 988,2094.3 992,2096.7 996,2094.6 1000,2091.4" fill="none" stroke="#ff4a4a" stroke-width="1.8" stroke-opacity="0.45"/>
<polyline points="920,2095.5 924,2093.2 928,2094.5 932,2097.6 936,2100.7 940,2101.3 944,2098.8 948,2096.1 952,2094.4 956,2097.1 960,2099.9 964,2102.5 968,2100 972,2097.1 976,2094 980,2094.6 984,2097 988,2099.4 992,2099.4 996,2096.2 1000,2092.9" fill="none" stroke="#4a4aff" stroke-width="1.8" stroke-opacity="0.27"/>
<polyline points="920,2101.9 924,2104.9 928,2106 932,2103.4 936,2100.8 940,2098.7 944,2101.5 948,2104.2 952,2106.9 956,2104.8 960,2101.8 964,2098.8 968,2099 972,2101.4 976,2103.8 980,2104.2 984,2101 988,2097.7 992,2095 996,2097.2 1000,2099.5" fill="none" stroke="#ff4a4a" stroke-width="1.8" stroke-opacity="0.27"/>
<polyline points="225,2108.8 229,2111.9 233,2115 237,2118 241,2116.1 245,2113.6 249,2111.1 253,2112.1 257,2115.1 261,2118 265,2118.7 269,2116 273,2113.3 277,2111.3 281,2114 285,2116.7 289,2119.2 293,2116.7 297,2113.7 301,2110.5 305,2111 309,2113.3 313,2115.5 317,2115.5 321,2112.1 325,2108.6 329,2106 333,2108.1 337,2110.1" fill="none" stroke="#ff4a4a" stroke-width="1.8" stroke-opacity="0.50"/>
<polyline points="225,2119.8 229,2122.8 233,2122 237,2119.5 241,2117 245,2116.9 249,2119.8 253,2122.7 257,2124.5 261,2121.8 265,2119 269,2116.2 273,2118.5 277,2121.1 281,2123.6 285,2122.3 289,2119.2 293,2116 297,2115.2 301,2117.4 305,2119.6 309,2120.8 313,2117.3 317,2113.9 321,2110.4 325,2112.1 329,2114.1 333,2116.1 337,2114.3" fill="none" stroke="#4a4aff" stroke-width="1.8" stroke-opacity="0.50"/>
<polyline points="225,2125.8 229,2123.3 233,2120.9 237,2123.8 241,2126.7 245,2129.6 249,2128.1 253,2125.3 257,2122.5 261,2122.6 265,2125.2 269,2127.7 273,2128.7 277,2125.5 281,2122.4 285,2119.3 289,2121.6 293,2123.8 297,2126 301,2123.8 305,2120.3 309,2116.9 313,2116.3 317,2118.3 321,2120.3 325,2120.7 329,2117.2 333,2113.6 337,2110.3" fill="none" stroke="#ff4a4a" stroke-width="1.8" stroke-opacity="0.50"/>
<polyline points="225,2130.2 229,2127.6 233,2127.8 237,2130.6 241,2133.4 245,2134.7 249,2131.8 253,2128.9 257,2126 261,2128.5 265,2130.9 269,2133.3 273,2131.4 277,2128.2 281,2124.9 285,2124.3 289,2126.5 293,2128.6 297,2129.2 301,2125.7 305,2122.2 309,2118.7 313,2120.7 317,2122.6 321,2124.6 325,2122.4 329,2118.9 333,2115.4 337,2114.7" fill="none" stroke="#4a4aff" stroke-width="1.8" stroke-opacity="0.50"/>
<polyline points="225,2136.6 229,2133.8 233,2132.2 237,2134.9 241,2137.5 245,2140.1 249,2137.3 253,2134.2 257,2131 261,2131.8 265,2134.1 269,2136.3 273,2135.9 277,2132.6 281,2129.1 285,2126.8 289,2128.9 293,2130.9 297,2132.9 301,2129.6 305,2126 309,2122.5 313,2122.9 317,2124.9 321,2126.9 325,2126.4 329,2122.9 333,2119.5 337,2117.3" fill="none" stroke="#ff4a4a" stroke-width="1.8" stroke-opacity="0.50"/>
<polyline points="225,2138.2 229,2137.9 233,2140.5 237,2143 241,2144.3 245,2141.1 249,2138 253,2134.7 257,2136.8 261,2139 265,2141.1 269,2139.3 273,2135.8 277,2132.3 281,2131.4 285,2133.4 289,2135.4 293,2136.2 297,2132.6 301,2129.1 305,2125.6 309,2127.4 313,2129.4 317,2131.5 321,2129.7 325,2126.3 329,2122.9 333,2122.2 337,2124.5" fill="none" stroke="#4a4aff" stroke-width="1.8" stroke-opacity="0.50"/>
<polyline points="225,2149.7 229,2146.7 233,2143.6 237,2140.4 241,2142.6 245,2144.9 249,2147.1 253,2145.2 257,2141.8 261,2138.3 265,2137.6 269,2139.6 273,2141.6 277,2142.3 281,2138.7 285,2135.2 289,2131.6 293,2133.5 297,2135.6 301,2137.6 305,2135.6 309,2132.2 313,2128.8 317,2128.1 321,2130.3 325,2132.6 329,2133.6 333,2130.5 337,2127.4" fill="none" stroke="#ff4a4a" stroke-width="1.8" stroke-opacity="0.30"/>
<polyline points="225,2152.2 229,2153.9 233,2150.6 237,2147.3 241,2143.9 245,2145.3 249,2147.4 253,2149.5 257,2148.1 261,2144.6 265,2141 269,2139.5 273,2141.5 277,2143.5 281,2144.8 285,2141.3 289,2137.8 293,2134.3 297,2135.7 301,2137.8 305,2140 309,2138.8 313,2135.5 317,2132.3 321,2131.2 325,2133.6 329,2136.1 333,2138 337,2135.1" fill="none" stroke="#4a4aff" stroke-width="1.8" stroke-opacity="0.30"/>
<polyline points="225,2150.7 229,2150.3 233,2152.5 237,2154.6 241,2155.1 245,2151.6 249,2148.1 253,2144.7 257,2146.7 261,2148.7 265,2150.7 269,2148.3 273,2144.8 277,2141.3 281,2140.8 285,2142.9 289,2145 293,2145.6 297,2142.3 301,2139 305,2135.9 309,2138.3 313,2140.7 317,2143.2 321,2141.4 325,2138.5 329,2135.6 333,2135.7 337,2138.5" fill="none" stroke="#ff4a4a" stroke-width="1.8" stroke-opacity="0.30"/>
<polyline points="225,2153.5 229,2155.6 233,2157.7 237,2159.7 241,2156.3 245,2152.7 249,2149.2 253,2149.7 257,2151.7 261,2153.7 265,2153 269,2149.5 273,2146.1 277,2143.9 281,2146.1 285,2148.3 289,2150.5 293,2147.4 297,2144.2 301,2141.1 305,2142.1 309,2144.6 313,2147.2 317,2147.1 321,2144.3 325,2141.5 329,2140.1 333,2142.9 337,2145.8" fill="none" stroke="#4a4aff" stroke-width="1.8" stroke-opacity="0.30"/>
<polyline points="1380,1992.5 1384,1996.4 1388,1997 1392,1995.4 1396,1993.8 1400,1994 1404,1997.8 1408,2001.7 1412,2005.1 1416,2003.4 1420,2001.7 1424,1999.9 1428,2002.7 1432,2006.4 1436,2010 1440,2010.3 1444,2008.3 1448,2006.2 1452,2005.9 1456,2009.3 1460,2012.6 1464,2015.3 1468,2013 1472,2010.5 1476,2008.1 1480,2010.2 1484,2013.1 1488,2016.1 1492,2015.8 1496,2013.1 1500,2010.4 1504,2009.5 1508,2012.4 1512,2015.2 1516,2017.6 1520,2014.8 1524,2012.1 1528,2009.5 1532,2011.4 1536,2014.3 1540,2017.3 1544,2017.1 1548,2014.6 1552,2012.1 1556,2011.6 1560,2014.8 1564,2018 1568,2020.9" fill="none" stroke="#ff4a4a" stroke-width="1.8" stroke-opacity="0.40"/>
<polyline points="1380,2000.5 1384,1998.8 1388,1997.2 1392,1998 1396,2001.9 1400,2005.7 1404,2008.5 1408,2006.8 1412,2005 1416,2003.2 1420,2006.6 1424,2010.2 1428,2013.8 1432,2013.5 1436,2011.4 1440,2009.3 1444,2009.5 1448,2012.8 1452,2016.1 1456,2018.2 1460,2015.8 1464,2013.3 1468,2010.8 1472,2013.5 1476,2016.4 1480,2019.4 1484,2018.4 1488,2015.7 1492,2013 1496,2012.8 1500,2015.6 1504,2018.4 1508,2020.2 1512,2017.5 1516,2014.8 1520,2012.1 1524,2014.7 1528,2017.7 1532,2020.6 1536,2019.8 1540,2017.4 1544,2015 1548,2015.1 1552,2018.3 1556,2021.6 1560,2023.9 1564,2021.8 1568,2019.7" fill="none" stroke="#4a4aff" stroke-width="1.8" stroke-opacity="0.40"/>
<polyline points="1380,2001.7 1384,2005.5 1388,2009.4 1392,2010.1 1396,2008.4 1400,2006.6 1404,2006.6 1408,2010.3 1412,2013.9 1416,2017.1 1420,2015.1 1424,2013.1 1428,2011 1432,2013.3 1436,2016.6 1440,2019.9 1444,2019.9 1448,2017.5 1452,2015.1 1456,2014.4 1460,2017.4 1464,2020.3 1468,2022.8 1472,2020.2 1476,2017.5 1480,2014.8 1484,2016.7 1488,2019.5 1492,2022.3 1496,2022 1500,2019.3 1504,2016.6 1508,2015.7 1512,2018.6 1516,2021.5 1520,2024.1 1524,2021.6 1528,2019.1 1532,2016.7 1536,2018.9 1540,2022.1 1544,2025.4 1548,2025.6 1552,2023.4 1556,2021.4 1560,2021.1 1564,2024.7 1568,2028.3" fill="none" stroke="#ff4a4a" stroke-width="1.8" stroke-opacity="0.40"/>
<polyline points="1380,2007.4 1384,2007 1388,2010.8 1392,2014.5 1396,2018.2 1400,2016.4 1404,2014.5 1408,2012.5 1412,2014.5 1416,2018 1420,2021.4 1424,2022 1428,2019.8 1432,2017.4 1436,2016.3 1440,2019.4 1444,2022.5 1448,2025.5 1452,2023 1456,2020.4 1460,2017.8 1464,2019.1 1468,2022 1472,2024.8 1476,2025 1480,2022.2 1484,2019.5 1488,2018.1 1492,2020.9 1496,2023.8 1500,2026.7 1504,2024.2 1508,2021.6 1512,2019.1 1516,2020.7 1520,2023.8 1524,2026.9 1528,2027.5 1532,2025.2 1536,2023 1540,2022.1 1544,2025.6 1548,2029.1 1552,2032.7 1556,2030.8 1560,2029 1564,2027.1 1568,2029.4" fill="none" stroke="#4a4aff" stroke-width="1.8" stroke-opacity="0.24"/>
</g>
<use href="#trthin" x="0" y="132.4" stroke="#444" opacity="0.35"/>
<use href="#trmain" x="0" y="132.4"/>
<use href="#trthin" x="0" y="696.5" stroke="#111"/>
<use href="#trmain" x="0" y="696.5"/>
<use href="#trthin" x="0" y="1258.6" stroke="#777"/>
<use href="#trmain" x="0" y="1258.6"/>
<use href="#trthin" x="0" y="1860.5" stroke="#777"/>
<use href="#trmain" x="0" y="1860.5"/>
<polygon points="127,256.8 147,256.8 165.5,273 186,296 227,480 240.5,636.4 127,636.4" fill="#808080"/>
<polygon points="301.5,636.4 307.9,578.9 321.7,636.4" fill="#808080"/>
<polygon points="331.8,636.4 367.1,427.4 402,636.4" fill="#808080"/>
<path d="M319 278.5 L322 272 L338 272.5 L347 276 L347 279 Z" fill="#000"/>
<rect x="318" y="835.6" width="29" height="7" fill="#8a0d0d"/>
<line x1="347.6" y1="275" x2="347.6" y2="428" stroke="#2838c8" stroke-width="1.6"/>
<g stroke="#dcdcee" stroke-width="1.2"><line x1="1515" y1="286" x2="1515" y2="636"/><line x1="1555" y1="267" x2="1555" y2="636"/></g>
<line x1="347.6" y1="839.1" x2="347.6" y2="992.1" stroke="#2838c8" stroke-width="1.6"/>
<g stroke="#dcdcee" stroke-width="1.2"><line x1="1515" y1="850.1" x2="1515" y2="1200.1"/><line x1="1555" y1="831.1" x2="1555" y2="1200.1"/></g>
<defs><linearGradient id="lg1258" x1="0" x2="1" y1="0" y2="0"><stop offset="0" stop-color="#5a5aff"/><stop offset="0.5" stop-color="#ffffff"/><stop offset="1" stop-color="#ff5c5c"/></linearGradient></defs>
<rect x="1369.4" y="1677.1" width="112.1" height="20" fill="url(#lg1258)"/>
<defs><linearGradient id="lg1860" x1="0" x2="1" y1="0" y2="0"><stop offset="0" stop-color="#5a5aff"/><stop offset="0.5" stop-color="#ffffff"/><stop offset="1" stop-color="#ff5c5c"/></linearGradient></defs>
<rect x="1369.4" y="2279" width="112.1" height="20" fill="url(#lg1860)"/>
<text x="1340.3" y="1723.2" style="font-size:35px;fill:#111">-ve</text><text x="1458.6" y="1723.2" style="font-size:35px;fill:#111">+ve</text>
<text x="1340.3" y="2325.1" style="font-size:35px;fill:#111">-ve</text><text x="1458.6" y="2325.1" style="font-size:35px;fill:#111">+ve</text>
<path d="M972.5 467.6 977.5 453.6 981.1 442.6 985 428.3 987.8 416.9 993.2 404.1 996.8 391.9 1001.5 381.6 1004.7 369.4 1008.1 356.4 1013.8 342 1017.4 341.6 1021.9 338.8 1025.1 339.3 1029.3 335.8 1032.2 336.1 1036.9 334.6 1040.3 332.4 1045.6 331 1048 327.6 1052.1 327.1 1056.7 327.8 1060.7 327.3 1065.7 325.6 1069.1 327.9 1073.1 326.1 1076.5 327.5 1080.4 326.9 1085.1 326.8 1088.3 327.1 1093.8 326.1 1096.7 325.3 1101.2 320.6 1104 319.5 1108.7 315.9 1112.5 313.8 1117.5 310.1 1120.2 309.6 1125.8 303.8 1129.1 303.3 1132.8 300.7 1138 300.8 1140.9 300 1144.7 300.3 1148.4 301 1153.9 302.5 1157.9 304.2 1162 301.9 1166.3 302.6 1170 305.4 1173.8 304.5 1176.7 302.5 1181.9 302 1185.7 301.1 1189 300.2 1194.2 299.9 1197.6 298.9 1202 298 1205.8 298.5 1210.5 295.1 1213.6 294 1217.7 296.6 1222.5 301.5 1225.8 305.7 1229.7 307.8 1234.9 310.8 1238.2 313.4 1243 317.7 1245.6 319.6 1250.2 323.2 1254 325.3 1258.2 326.2 1262.5 324.7 1265.9 324.1 1270.1 323.3 1273 321.9 1279 323 1281.9 322 1285.4 319.7 1290 320.4 1293.1 318.9 1298.8 319.5 1303 317.9 1306.8 320.4 1309.1 319.5 1314.5 318.6 1318.3 320.7 1322.6 319.5 1325.1 319.9 1329.4 320 1333.5 319.5 1338.1 320.9 1343 319.5 1345 320.5 1349.7 320.4 1354.7 318 1358.5 318.7 1361.6 318.8 1366.1 318.4 1370 318.4 1373.2 318.2 1378.4 318.4 1381.4 318.5 1385.4 320.5 1390.6 317.8 1393.6 318.7 1398.1 318.5 1402 319.7 1405.3 319 1409.3 318.9 1413.6 319.7 1418.8 320.8 1421.9 320.4 1425.5 321.3 1430.8 321 1433.9 322.7 1438.8 323.5 1441.9 322.3 1445.9 322.8 1449.5 323.2 1454.5 325 M570 568.3 574.8 565.3 577.3 564.2 581.1 559.4 586.5 556.5 590.9 555 593.6 552.6 598.8 548.6 601.3 544.4 606.6 544.1 610 540 M690.8 512.5 695.2 514.2 698.1 519.5 703.5 521.5 706.4 523.7 710.8 529.6 714.5 531.1 718.3 535.2 722.4 538.9 727.4 541.4 731 544.4 736.7 537.1 740.8 525.4 744.1 516.5 749.8 509 752.9 498.6 757.6 488.7 761.6 480.2 767.2 471.5 771 460.6 775.6 456.6 780.4 455.7 783.5 451.6 788.3 450.1 793.1 445.2 797.9 444.5 802 440.1 805.6 436.9 811 434.2 815 433.4 817.3 434.5 821.7 434 825.5 433.7 830.4 433.8 834.2 435.7 838.2 434.9 842.6 434.9 847 436.7 850.1 436.1 855.2 445.5 859.6 451.7 863.5 461.9 868.3 469.7 870.7 476.6 875.6 484.7 880.2 493.4 884.8 500 888.5 508.6 892 518 M972.5 261.3 976.3 263.1 981.5 261.6 984.4 262.1 989.2 262.5 992.1 264.9 995.9 265.4 1000.4 266.1 1004.1 263.5 1008.9 264.4 1013.3 264.7 1016.7 263.1 1020.2 262.3 1024.9 264.3 1029.1 261.8 1032.9 262.5 1037.7 259.6 1041.3 259.6 1045.9 260.2 1049.2 259.3 1053.5 256.6 1056.6 256.9 1060.3 260.2 1065.1 258.2 1068.6 259.3 1072.2 261 1076.8 259 1081 260.5 1085.5 260.4 1088.5 261.6 1092.8 260.8 1097.5 262.8 1101.7 261.7 1104.9 261.7 1108.4 259.1 1112.4 260.1 1116.4 259.4 1121.6 259.6 1124.4 257.6 1128 257 1132.5 258.7 1137.7 257.5 1140.2 257.9 1146 256 1149.5 259.1 1152.9 257.6 1157.9 257.7 1160.7 258 1165.6 257.4 1169.6 257.8 1173.6 258 1176.8 253 1180.9 252.5 1186.1 251.7 1188.7 246.7 1193.5 246.7 1197.6 243.4 1201.3 242.6 1206.1 241.3 1209.6 237.7 1214.9 236.3 1217.5 238 1221.9 237.6 1225.2 240.5 1229.6 241.3 1234.4 242.9 1237.9 245.3 1241 247.8 1245.5 247.4 1250 249.1 1253.1 250.4 1257.1 249.9 1261.7 248.2 1265.3 249 1270.2 246.9 1273 246.7 1277.1 244.9 1282.3 242.5 1285.7 241.7 1290.2 241.4 1293.1 237.7 1298.2 239 1302.2 240.1 1305.1 242.2 1309.4 241.4 1314.5 243.9 1318.7 244.7 1321.6 243.2 1325.9 245.8 1330.3 245.9 1334.4 245.3 1338.1 247.1 1342.8 247.8 1346.1 249.8 1350.4 251.4 1354.5 250.4 1358.9 251.1 1362.5 253 1365.2 254.3 1369.2 254.9 1374.9 257.8 1377.7 257.3 1382.2 257.2 1385.3 258.1 1390.7 260.3 1394.2 260.3 1397.8 260.7 1402.6 261.6 1405.4 260.9 1409.1 261.6 1413.9 262.1 1418.1 260.9 1421.4 260.3 1426.7 259.7 1431.1 261.1 1433.8 259.4 1438.9 257.5 1442.9 258.3 1446.7 256.6 1450.7 256.3 1454.1 257.6 1458.8 258.7 1462.1 260.6 1466.3 262 1470.2 264.7 1475.3 267.7 1478.6 269.9 1482.5 271.4 1487.5 273.1 1491.8 274.5 1495 276 M489.3 572.5 492.6 573 496.8 570.9 500.3 572.2 504.6 572 509.5 571 512.4 570.2 518 569.3 520.5 570.3 525.1 568 529.5 569.8 533.7 561.2 536.6 555.6 541.2 551 546.5 544.7 550.6 536.1 554.1 530.7 557.9 524.3 561.3 516.8 565.1 512.1 569.3 506.4 574.3 500 578.8 494.8 581.4 492.5 585.7 488.3 590 480.8 594.9 479.4 597.9 474 602.4 467.5 606.5 464.2 610.4 458.1 613.8 459.5 618.9 459.7 621.1 461.5 626.6 461.8 630.4 464.5 634.2 464 638.5 463.9 641.5 467.1 645.4 465.9 649.3 467.6 654.9 461.8 658.1 459.7 661.3 453.8 665.8 449.5 671.1 446.1 674 439.2 678.4 437.1 681.9 430.4 686.2 428 690.1 421 694.4 422.9 698.1 424.5 702.2 424.5 706.6 426.4 712 425.9 714.9 426.5 719.5 426.5 722.4 427.6 727.5 428.7 730.8 430.2 736.8 422.4 739.8 410.9 745 404 748.3 393.9 753.1 386.3 758.7 374.9 763.1 365.6 766.1 359.1 770.7 350.1 775.5 346 780.5 343.3 783.6 339.3 788 335.7 792.3 334.2 796.9 329.1 802 328 806.5 324.7 809.7 322.4 814.5 318.9 818.4 315.4 821.9 311.4 826.3 310.1 829.8 308.6 835.4 303.8 838 300.2 843.1 299.5 846.8 296.8 850.5 292.5 854.6 289.2 858.2 289.8 862.6 285 867.7 283.5 871.6 280.3 874.7 279.5 880.6 276.3 883.1 276 888.4 273 892.5 270.2 895.5 268 899.6 266.6 904.5 265.3 908.3 261.1 912.4 259.2 915.3 257.6 921 255.4 924.4 254.5 928.3 250.4 932.3 249.9 935.6 247.7 939.2 249.1 945 246.5 948 248.6 953 248.1 955.6 246.3 959.5 246 964.9 245.2 969.4 244.8 972.5 245.3 976.6 245.9 980.6 246.2 984.8 246.7 989.4 246.5 993.6 245.8 996.6 244.3 1000.3 245.4 1005.4 245.3 1008.1 244.7 1013.1 244.4 1017.8 244.7 1020.2 246.6 1024.9 244.2 1028.2 245.1 1033.9 244.4 1036.7 246 1041.3 245.6 1044 245.8 1050 244.2 1053.6 243.2 1056.5 245.8 1060.4 244.2 1064.6 243.5 1069.8 243.3 1073.9 244.2 1077.3 244.3 1080.6 245.1 1085.9 245.3 1088.4 245.3 1093.4 246.5 1096.8 245.8 1100.9 245.5 1105.1 242.7 1109.4 244.2 1112.3 241.9 1117 243.1 1121.8 240.5 1125.3 241.2 1129.1 238.8 1132.8 241 1136.6 240.8 1141.6 238.7 1144.6 237.8 1149.9 238.8 1153.9 237.9 1157.6 237.3 1160.7 237.4 1164.8 237.2 1169.1 235.9 1173.1 237.9 1178.3 236.5 1181 233.8 1186 231.4 1189.5 232 1194.7 228.6 1197.8 228.3 1201.7 228.2 1204.9 226.6 1210.6 223.8 1214.5 223.7 1217.8 222.4 1221.5 225.9 1225.7 226.2 1229.2 227.1 1233.5 227.6 1237.6 228.6 1242.4 230.3 1245.4 229.3 1250.8 230.9 1253.2 230 1258.2 229.7 1261.1 230.3 1265.6 229.9 1270 230.1 1273.3 230.5 1277.2 229.7 1281.8 228.2 1286.2 227.5 1289.9 228.9 1294.2 227.2 1297.5 228.8 1302.3 227.1 1306.9 227.3 1310.9 229.9 1314.6 228.2 1318.9 229.2 1321 229.5 1326.1 229.7 1329 229.2 1333.4 230.1 1337.5 231.9 1342.6 232.8 1346 232.5 1349.9 233.7 1353.8 234.5 1358.9 236.3 1361.8 238.4 1366.2 239.1 1370.6 240.4 1373.5 240.3 1378.8 240.1 1382.8 239.7 1385.2 240.7 1389.7 241.4 1393.5 243 1398.2 242.9 1402.8 245.7 1406.9 245.5 1410.9 246.2 1414.9 246 1419 243.9 1422.5 245.5 1425.4 245.3 1429.9 245.1 1435.2 243 1439.3 241.5 1441.8 243.3 1446.9 240.9 1450.3 240.7 1454.9 238.9 1458.7 241.6 1463.1 240.2 1466.1 241.3 1470.6 243.4 1474.8 243 1478.6 245.1 1483.8 245.4 1486.5 243.8 1491.2 244.2 1494.5 245.1 1498.5 244.3 1502.1 246.8 1507.8 243.2 1511.7 245.2 1515.9 244.6 1518.6 243.9 1522.2 242.9 1527.6 240.7 1530.3 242.9 1534.9 240 1538.9 241 1542.3 243 1547.3 242.8 1551.9 244.3 1556.4 243.5 1559.6 244.2 1563.5 243.2 1568.6 246.2 1573.1 243.9 1576.5 245.7 M488.9 517.5 493.1 514.9 496.7 514.5 500.1 511.6 504.1 510.8 508.6 509.6 512.2 508.4 517.2 505.3 520.5 503.2 525.8 502 528.8 499.4 533.7 494.2 537.7 490.8 541.8 484.8 546.4 480.1 550.2 477 554.5 471.8 558.1 467 561.6 460.9 565.4 458 570.1 451.9 574.9 448.5 578.3 443.9 581.4 439.2 585.4 435.6 590.1 429.6 593.8 427.6 598.7 421.8 601.5 416.6 606.1 411.9 610.1 408.8 613.9 407.4 617.8 405 621.5 402.5 625.9 399.1 629.8 395.9 633.7 393 637.8 392.4 641.3 389.3 645.5 386.2 651 386.5 654.5 381.4 659 378.1 661.9 374.5 667.2 371.9 671 371 674.8 368.3 679.3 364 682.8 361 686.2 357.6 691.2 356.1 694.2 352.2 698.7 349.7 702.2 347.7 705.9 346.6 710.6 343 715.1 340.7 719.9 336.2 722.6 336.4 728.2 331.8 731.8 329 735.8 326.2 740.7 322 744.7 318 748.6 313.2 753.2 311.6 758.7 306.5 762.9 301.9 766.9 300.3 771.6 296.9 776.1 295.3 779 293.6 784.6 292.5 788.7 291.8 792.1 290.8 797.9 287.7 801 287.3 805.7 284.2 810.7 284.1 814.3 282.8 819.2 279.2 822.5 278.4 826.8 273.9 830 272.5 834.9 269.3 839.2 265.8 842.9 266 846.8 261.5 851.5 259.8 854.5 257.6 858.8 255.9 862.6 255.1 868.3 254.3 870.6 253.3 876 251.8 879.5 248.8 884.3 248.3 888.3 248.3 892.3 246.5 896.4 243.7 899.9 245.4 903.4 243.5 907.1 240.3 911 241.7 916.3 240.5 919.9 238.1 925 237.3 927.8 235.3 931.1 234.8 935.2 234.9 940.1 235.2 944.5 234.2 947.4 234.9 953 235.3 956.7 234.9 961 236 964.8 236.4 967.8 235.5 971.9 236.9 975.7 235.9 981.4 236.6 983.9 235.1 989.4 236.4 993.7 233.8 997 235.4 1000 233.2 1005.2 233.7 1008.9 233 1012 231.1 1016.4 231 1020.9 233.7 1025.9 231.3 1028.6 232.5 1033.5 232 1036.3 232.3 1041.6 231.2 1045.6 231.8 1050 230.9 1052.8 231 1056.2 232.3 1060.8 233.3 1065.6 230.5 1068.9 232.9 1072.3 232.8 1076.5 232.9 1081.2 230.7 1085.4 231.2 1089.8 233 1092.1 231 1096.5 232.5 1100.5 232.6 1104.1 230.9 1108.3 231.8 1113.6 229.9 1116.9 231.1 1121.6 229 1124.4 229.7 1128.1 230.3 1132.3 229.6 1137 228.8 1140.7 227.2 1144.2 227.5 1149.6 224 1153.2 224.3 1157.4 223.2 1160.9 222 1166 222.4 1170 220.9 1174.4 220.1 1178.3 219.8 1181.8 219.5 1186.3 218.4 1188.8 219.1 1192.9 217 1197.6 217.4 1201.1 216.9 1206.4 217.3 1209.7 215.4 1214.6 214.7 1217.8 214.1 1222.6 214.6 1225.9 215.1 1230.3 215.9 1234.3 215.8 1238.9 216.9 1242.4 219.4 1245.8 219.7 1250.8 218.9 1254.3 220.1 1258.9 218.8 1261.4 218.2 1266.1 219.6 1269.1 217.6 1274.9 218.9 1277.6 217.4 1281.3 218.2 1286.9 218.9 1289.5 216.3 1293.4 218.1 1297.6 216.9 1301.2 218.7 1306.7 218.5 1309.6 218.9 1314.4 219.6 1317.5 219.3 1322.2 218.8 1325.9 218.8 1329.5 221.2 1333.1 221.6 1337.4 221.8 1341.3 221 1345.1 223.5 1349.1 224.4 1353.4 222.3 1357.2 224.9 1361 225.2 1366.2 227.1 1370.3 226.9 1373.3 227.4 1378.1 227.9 1381.5 228.7 1385.1 231.4 1390.4 229.6 1394.9 232.1 1398.5 232 1401.4 232.5 1406.3 235.6 1409.4 235.2 1414.1 236.6 1418.1 237.6 1421.2 234 1426.5 234.9 1429.6 233.9 1434.5 232.7 1438.1 233.8 1441.5 231 1447 229.6 1451.1 231 1453.9 228.1 1459.1 227.5 1463.3 229.5 1467.2 226.9 1471.3 227 1475.5 228.4 1477.9 227.1 1483.7 225.6 1486.6 226.9 1491.7 227.2 1494.4 225.1 1498.7 225.3 1503.5 227.4 1507 226.1 1510.2 227.3 1515.1 226.9 1518.7 228.2 1523.2 227 1526.1 228.2 1531.6 229.4 1535.5 230.5 1538.7 231 1543.6 229.6 1547.8 229.9 1552.4 228.1 1555.5 229.5 1560.6 230.2 1564.4 229.2 1567.6 231.4 1571.4 229.9 1576.5 230.1 M489.2 481.5 491.6 478.6 495.9 477.1 500 475.3 504.2 471.8 508.2 470.5 513.7 469 516.2 464.2 520.7 462.7 524.6 459.3 530.4 458.4 533.7 453.3 536.7 450.6 541.8 446.4 546.2 440.9 550.6 438.8 553.8 433.1 558.1 429.4 562.2 424.1 565.2 421.5 570.1 417.7 574.5 412 578 405 583 401.8 586.6 395.5 590.6 388.6 593.8 384 597.7 378.2 602.8 373.3 606.8 368.4 610 361.4 614.7 361.3 618.8 358.8 622.9 356.1 626.8 354.9 630.4 352.1 633.8 350.7 638.1 349.2 641 346.6 646.6 345 650.1 343 654.6 339.9 658.7 336.4 662.4 333.4 666.5 331.9 670.4 328.4 675 323 678.2 321.6 682.8 316.4 685.8 314 691.4 311 695.2 306.9 699.6 306.9 702.2 304.7 706.4 302.2 711 298.9 715.3 296.5 720.1 294.9 724.3 293.3 727.3 290.8 732.1 290.1 736.1 288.7 740.4 286 745.7 285.4 748.7 283.8 754.3 284.5 758.4 282.1 762.3 280.6 765.8 279.2 770 280.1 774.9 278.3 779.9 276.7 783.9 275.1 787.5 274.1 792.2 272 797.4 269.7 801.2 269.4 804.9 268.5 810.3 268 814 264.3 817.8 262.2 821.9 261.1 827.4 258.1 830.7 256.2 834.2 255.3 839.1 254 842.2 251.9 847.6 249.6 850.4 246.4 855.4 246.1 859 243.2 862.9 241.5 867.8 240.7 870.9 239.2 876.3 240.7 880 237.5 883.2 237.8 888.8 235.6 891.2 235.3 896.9 233.7 900.5 231.5 904.5 230.8 907.2 228.8 912 229.8 916.4 228.8 920 228.9 924.3 227.5 927 225.3 933 225.7 935.5 222.9 941 224.1 943.5 225.4 948.3 224.6 953.1 225.1 956.5 226.5 959.6 226.1 964.7 225.5 969 224.7 973.2 225.3 977.4 223.8 980.8 224.4 985.2 223.4 988.2 225.6 992.4 222.4 997.4 224.3 999.9 222.8 1004.4 223.5 1009.9 223.7 1012.1 220.7 1016.5 220.5 1020.8 222.5 1025.1 222.2 1028.9 221.1 1032.6 221.8 1037.3 220.3 1040.1 221.6 1044.1 219.4 1049.2 220.7 1053.5 219.6 1056.8 221.3 1060.9 221.9 1065.6 222.2 1068.8 220.9 1073.1 220.9 1076.6 220.6 1081.8 220.5 1085.6 221.9 1088.6 222.5 1092.8 222.3 1096.3 223.6 1101 223.3 1104.9 222.8 1108.7 221.6 1112.6 221.2 1117 221.8 1121.2 219.7 1124.8 220.5 1129.9 218.4 1132.1 219.6 1136.4 218.6 1141 216.2 1145.1 215.7 1148.8 213.7 1154.2 212.9 1157.9 212.5 1161.1 210.6 1164.6 210.5 1169.3 207.7 1174.3 208.9 1177.2 207.9 1182.2 207.1 1185.5 206.1 1190.2 204.1 1193.3 204.1 1197.7 202.9 1202.2 203.5 1205.4 201.1 1209.6 199.5 1214.7 201.1 1217.4 202.2 1222.5 203.1 1225.9 202 1229.2 204.2 1233.6 203.7 1237.4 204.7 1242.9 206.3 1246.6 206.7 1250.6 209.9 1254.5 210.1 1258.3 209 1261.2 209.2 1266.4 210.5 1269 211.7 1274 211.4 1277.7 210.7 1281.7 210.4 1286.7 210.7 1289.4 210.4 1293.4 209.1 1298.6 209.5 1301.4 209.3 1305.4 211.2 1309.3 211.9 1313.7 210.8 1318.7 210.7 1322.3 210.8 1325.9 212 1329.2 210.9 1333.6 212.3 1338.5 211.2 1341.9 209.1 1346.1 211 1350.8 211.4 1353.7 210.9 1357.1 210.9 1362.5 209.2 1366.8 208.9 1370.8 211.7 1373.8 210.1 1377.5 211.5 1381.6 212.3 1386.7 211.4 1389.4 212.9 1393.5 212.9 1397.5 212.6 1401.5 213.2 1405.2 215.8 1410.4 217.2 1414 217.2 1417.6 216 1421.9 218.5 1427 218.9 1430.1 219.3 1435.1 219.5 1438.3 220.7 1442 220.2 1447.4 221.1 1449.7 221.7 1454.8 223.5 1457.7 221.2 1463.5 218.8 1466.9 219.2 1470.6 218.3 1475.2 216.6 1479.4 214.4 1483.8 213.6 1486.9 212.6 1491.4 211 1495.3 210.4 1498.7 209.8 1502.4 209.7 1506.4 211.1 1510.4 208.8 1515.2 209 1519.7 209.6 1523.7 209.4 1526.3 209.2 1531.1 209.8 1534.8 209.1 1539.3 211 1542.6 212.1 1546.9 213 1550.9 212 1556.5 215 1559.4 212.7 1563.8 215.1 1567.3 216.2 1573 217.7 1576.5 217 M488.9 457.2 492.6 454.3 496.1 449.7 501.4 447.3 504.8 443.3 509.8 441 512.9 436.9 517.6 434.2 522 431.6 525.1 426.6 529.3 423.3 532.9 420.1 536.7 418.2 542 415 545.6 410.9 550.1 406.9 554.1 401.8 557.9 399.2 562.3 395 565.9 390.9 569.1 387.1 574.4 383.4 577.6 379.9 581 375 586.7 369.6 589.7 365.1 594.2 358.4 597.2 354.7 601.5 349 606.3 345.8 610.5 340.4 613.9 338 617.6 339.1 622.6 335.6 626.1 335.6 629.2 332.4 634.2 333.6 638 330.8 643 329.4 646.7 328.2 649.9 328.4 654.8 322.3 657.9 320.7 663 315.4 665.3 313.9 670.5 308.2 674.1 305.6 678.8 300.3 682 299.1 687.2 295.2 690.8 291.8 694.6 288.2 699.6 288.5 703.5 286.4 707 283.2 711.2 281.8 714.7 280.9 719.4 278.4 723.4 277.1 728.3 274.9 731.8 273.2 735.3 272.4 741.3 270.9 745.2 269.9 748.5 270.3 754.2 267.2 758.2 266.5 762 264.9 767 264.6 770.3 262.9 776 262.3 779.9 260.4 783.3 260.1 788.9 255.7 793.6 256.3 796 254.2 801 250.3 805.9 250.4 810.2 249 814.2 246.5 818.8 246 821.7 244.7 825.5 242.8 829.8 242.1 835.5 240.4 838.9 239.9 843.1 236 846 235.8 851.3 235.6 855.9 232.8 859.8 233.4 862.8 231.7 868.1 231.2 872.4 228.8 875.2 229.2 879.2 227.9 883.5 227.6 887.6 226.9 892.2 225.4 895.6 225.6 900.2 224.5 904.9 222.1 907.4 222.7 912.4 222.3 915.5 221.5 920 218.2 923.3 217.9 927.2 218.3 932.9 218.1 935.3 216 940.3 216.6 944.2 216.3 947.4 217.1 953 215.2 957 215.5 959.9 216.2 963.5 215.6 969.1 215.8 972 217.5 976.2 215 981.2 217.3 985.1 214.3 989.3 215.5 993.1 215.7 997.7 214.8 1001.3 216.2 1003.9 215.1 1009.4 215.7 1013.6 215.1 1016.2 214.5 1021.6 214.6 1024.5 213 1029.1 214.8 1034 213.5 1037.2 215.1 1041 214.9 1045.2 215.3 1049 215.2 1053.7 215.6 1057.4 216.1 1061.4 216 1065.8 214.4 1069.7 215.4 1072.3 216.2 1076.2 216.7 1081.4 215.5 1084.9 214.5 1088 217.1 1093.4 215.5 1097.6 215.2 1100.1 214.6 1104.8 215.4 1108.2 214.3 1112.4 213.6 1117.1 211.2 1120.2 212.4 1124.1 212.7 1129.5 210.3 1133.6 209.8 1136.9 208.7 1140.4 208.3 1145.4 206.9 1149 207.1 1152.7 205.8 1157.5 204.4 1160.5 204.2 1165.6 203.5 1170.2 201.7 1173.2 202.8 1178.5 200.4 1181.3 201 1186.4 200.9 1189.1 200.5 1194.3 197.8 1198.8 196.6 1201.3 198.3 1205.2 196.9 1209.8 195.1 1213.9 193.8 1217.3 197.4 1222.6 198.1 1225.7 198.3 1229.3 198.6 1233.9 198.3 1237.9 201.5 1242.4 201.7 1245.9 203 1249.9 201.7 1254.6 205.1 1258.2 203.9 1262.2 203 1265.5 204 1269.1 203.8 1274.1 204.9 1277.7 202.8 1282.9 205.1 1286.5 204 1289.2 205.7 1293 205.3 1297.6 204.3 1301.8 204.2 1306.8 204.3 1309.2 203.7 1314.5 204 1318.7 204.1 1321.3 204.7 1326.5 204.6 1330.7 204.7 1333.7 204.8 1338 205 1341.2 204.5 1346.6 204.4 1350 202.8 1353.3 204.9 1357.4 205.6 1361.4 203.7 1366 203.5 1370.7 202.4 1374.4 202.5 1378.5 203.2 1381.9 206.1 1385.3 204.1 1389.2 206.4 1393.4 205.3 1398.2 206.7 1402.4 206.3 1405.9 206.8 1409.8 207.1 1413.9 207.9 1417.3 207.2 1421.6 209.1 1425.5 210.7 1430.7 212.1 1434 210.2 1438 211.1 1441.5 214.3 1446.9 214.1 1450.8 213 1453.5 215.3 1458.9 214.8 1463.5 211.2 1467.5 211.3 1470 209.7 1474.9 209.4 1478.9 207.7 1483.6 207.4 1486.7 204.8 1491.4 202.6 1494.9 202 1499.2 202.9 1503.7 204.5 1506.2 204.7 1511.3 203.4 1514.9 205.9 1519.6 205.8 1522.9 203.6 1528 203.8 1531.1 206.4 1534.8 204.8 1539.2 204.5 1542.9 205.9 1546.8 205.2 1550.9 205.4 1556.4 206.5 1560.3 205.3 1564.9 204.6 1567.8 205.3 1572.8 206.3 1576.5 205.9 M266.3 424.3 271.1 424.2 276 422 281.2 420.3 285.7 421.1 289.1 418.1 294.2 418.7 298.1 415.8 302.5 415 M367.9 414.8 371.4 415.8 375.6 418.1 379.8 418.8 384.6 419.4 388.6 421.3 391.9 423.7 396.4 425.9 400.3 425.7 404.6 428.8 408.5 429.5 M488.4 417.3 493.2 414.9 496.6 411.8 500.8 409.5 504.2 405 508.2 403 512.8 399.6 516.7 395.9 520.9 393.1 524.6 387.7 529.3 385.9 534.5 381.5 536.7 377.2 540.9 372.1 544.7 366.4 549.5 361.1 554.5 358.2 558.2 353.1 562.4 347.5 565.7 344 569.1 337.9 573.2 336.4 577.6 333.5 582.9 329.5 585.3 329.7 591 325 594.4 322.1 598.6 319.7 602.9 318.9 605.9 315.2 610 314 614.7 311.3 617.5 308.6 621.5 304.3 625.6 300.8 630 298.4 633.8 296.1 638 292.6 641.5 290.1 645.8 286.4 649.1 282.1 653.7 281.9 658.5 279.2 662 274.7 665.3 274.8 670.6 270.5 673.7 269.6 678.9 266.4 682.9 264.1 685.7 262.6 690.5 260.3 694.9 259.2 698 260.7 703 258.7 707.9 259.2 710.6 258.4 715.8 258.8 718.9 258.2 722.6 258.1 727.1 256.7 732.3 256.7 735 255.6 740.4 253.9 744.4 254 749.7 251.7 753.8 250.9 757.1 248.2 763.1 248 767.2 246.7 771.3 247.2 775.6 244.2 778.8 243.5 783.4 240.9 788.7 239.9 792.6 239.4 797.7 240 800.7 238.6 804.9 236.8 810.4 236.2 815 235.4 817.8 231.6 821.4 232.1 825.9 231.6 830.7 228.7 835.2 229.1 838.7 228.3 842 227.1 845.9 224.6 851 223.2 855.4 223.6 859.3 222.4 862.7 222.1 866.7 222.6 871.8 222.4 875.3 220.4 878.9 219.1 884.2 220.9 887.5 217.6 891.8 220 895.2 216.4 900.9 217.4 903.1 216.9 908.3 214.2 911.8 215.1 915.9 211.7 920.4 212.2 924.4 210.2 928.1 209.1 931.4 208.2 935.5 209 940.1 208.5 943.9 208.9 947.3 208.6 953 207.9 956.5 210.8 960.1 208.4 965.2 209.2 968.8 208.9 973.1 208.3 976.1 207.4 979.7 208 984.5 208.9 987.8 208 992.5 207.5 997.2 208.9 1000.3 207 1005.8 208.7 1009.3 207.1 1012.2 207.5 1016.8 208.7 1021.4 206.7 1024.8 206.1 1028.9 208.4 1032.9 207.9 1036.4 207.3 1041.8 208 1044.7 209.6 1049 209.9 1052.9 208.3 1056.5 207.9 1060 209.9 1064.8 210.4 1069.5 208.1 1072.5 210.3 1077.5 209.7 1080.3 210.1 1084.1 208.7 1088.6 211 1092.8 210.8 1096.4 209.7 1101.9 209.6 1104.5 208.2 1108.9 207.3 1113.2 207 1116.5 204.2 1120.1 206.4 1124.2 203 1129.1 204.3 1132.4 202.9 1137.1 200.9 1140.2 202.6 1144.8 202 1149.7 198.8 1154.1 199.3 1157.8 198 1161.1 196.3 1165.8 197.9 1169 195.7 1172.7 195.5 1178.4 193.9 1181.5 196 1186.4 192.6 1190.2 192.5 1193.2 193.3 1197.1 191.1 1201.4 193.3 1206 190.1 1210.4 191.6 1215 190 1218.3 191.8 1221.9 190.5 1225.1 193.3 1229.9 193.6 1234.8 194.9 1238.8 194 1242.3 195.3 1246.8 196.5 1249.5 196.4 1254.3 199.5 1257.4 199.1 1262.6 198 1266.6 198.7 1270.2 197.9 1273.5 198.7 1278.2 200.3 1283 199.1 1285.3 200.5 1289.2 198.2 1293.3 199.8 1297.8 200 1302.5 199.8 1305.2 201.2 1310.9 198.6 1313.8 198.4 1317.3 199.7 1321.8 200.5 1325.3 200.8 1330.9 201.1 1334.6 199 1338.4 199.2 1343 198.3 1345.4 199 1349.9 198.9 1354.6 198.6 1357.6 197.5 1361.4 198.8 1366.2 197.7 1370.8 199.3 1373.8 198 1378 198.5 1382 197.2 1385.4 198.7 1389.2 199.2 1393.3 198.7 1398.7 199.1 1402.4 200.2 1405.1 200.6 1410.2 200 1414.4 199.8 1418.5 201 1422.1 201.6 1425.5 203.2 1431.2 202.8 1434.2 203.4 1438.2 203.9 1443.3 203.9 1447 203.3 1450.5 205.2 1455.1 203 1459.1 204.7 1463.5 201.9 1466.2 201.6 1471.1 201.7 1474.9 202 1478.2 202.4 1483.1 200.4 1486.9 201.4 1490 200.2 1494.2 198.2 1498.4 199.1 1502 201.2 1507.1 199.5 1511.8 199.8 1515.4 201.5 1519 201.6 1522.5 201 1527.4 199.8 1531.4 200.6 1535.8 200.2 1538.6 200.6 1543.5 201 1547.3 200.3 1552.3 200.9 1555.8 199.6 1560.1 200.6 1564.4 200.3 1568.2 200.7 1572.9 200.6 1576.5 200.2 M266.7 406 272.4 401.8 276.7 400.9 279.9 401.2 284.7 397.6 289.1 396.9 293.8 394.8 297.5 391.9 302.5 391.8 M366.8 405.3 370.8 403.9 375.4 402.6 379.8 402.5 383.5 402.2 388.2 403.6 392.2 403.5 396.5 403 400.7 403.1 403.7 401.9 408.9 401.8 412.3 397.8 417.4 396.6 419.6 394.6 424 393 428.7 390.4 432.3 387 436.6 385.4 440.2 382.7 444.8 381.7 449.4 380.3 453.3 377.4 456.4 378.4 460.3 374.4 464.7 374.9 469.3 373.5 472.2 370.3 476 369.4 480.2 366.8 484.7 367.1 488.5 366.1 491.8 361.2 497.5 355.8 500.4 351.6 505.5 349 508.8 343.9 513.5 341.5 516.6 337.1 521.8 332.7 524.6 326.6 530.4 323.4 533 318.9 538 315.1 540.9 311.9 545 310.8 550.2 304.7 554.7 301.1 557.3 296.6 562.3 294 565.1 290.7 569.5 287.8 575 283.6 577.4 281 582.7 277.4 586.6 273.2 590.8 270.5 595 268.8 598.6 263.8 602.8 261.4 606.5 259 609.9 255.9 614.9 253.4 617.1 251.6 622.6 249.8 626.7 246.6 629.8 246.6 634.6 242.5 638.8 240.3 642.3 240.1 646.8 238.2 649.9 236.3 653.8 234.3 658.1 231.6 662.3 229.4 665.6 230.4 670.7 227.9 674.1 227.6 677.4 223.6 681.5 222.3 685.7 220.7 691 220.9 695.2 219.1 698.3 221.6 702.6 222.7 707.1 224.3 710.5 223.2 715.1 226.5 718.4 225.1 724.2 228.3 726.8 228.3 730.7 229 734.9 226.9 740.7 228.4 744.6 225.9 749.6 224.4 752.9 222.8 758.1 223 761.3 222.3 767.4 222 770.8 220.9 774.9 220.3 779.7 218 783.5 216.8 788.1 216.2 793.1 215.4 796.2 216.1 800.4 213.1 806.3 212.7 810.2 211.8 813.4 210.6 819 211.5 822.6 210.6 827.1 207.8 830.3 209.1 833.8 207.4 839.4 207.2 841.8 203.8 846.6 203.6 852 202 854.8 203.7 859.4 205.1 863.9 207 867 206 871.5 206 875.7 208.9 880.1 208.9 882.8 208.3 887.7 208.5 892 211 895.5 208.6 899.9 208.2 904.7 207.4 907.5 207.3 911.4 206.9 915.8 206.2 920 203.8 924 202.9 927.5 203.3 931.2 201.7 935.4 201.6 940.7 201.7 944.8 200.5 948 200.7 951.5 201.8 956.9 200.6 959.7 200.9 964.1 202.7 969.4 202.5 972.6 202.9 976.6 203.4 981.1 202.3 984.9 202.6 989 199.9 992.4 202.4 997.3 201.2 1000 199.2 1004.5 201.6 1008.2 201 1014 200.8 1016.4 198.4 1021.3 201 1024.2 200.7 1028.9 200.2 1032.7 201.1 1036.4 201.7 1040.7 201.8 1044.1 203.1 1048.6 202.2 1053.2 202.4 1056.2 202.1 1061.6 202.3 1064.7 203.2 1068.5 203.7 1072.6 201.9 1077.7 204.1 1081.6 203.9 1084.1 203.6 1089.7 204.5 1093 203.3 1096.8 203.3 1100.4 202.6 1105.1 201.6 1108.7 201.8 1112.1 199.6 1116.8 198.1 1120.4 196.6 1124.5 197 1128.2 196.3 1133.7 194.2 1138 195.6 1141.9 194.9 1144.3 193.8 1149.7 191.8 1154.1 193.1 1158.1 192.3 1161.4 192 1165.1 190.9 1169.7 189.8 1173.7 190.8 1177.2 188.5 1181.3 187.2 1185.6 188.5 1188.9 187 1193.7 187.8 1197.6 185.4 1201.7 184.5 1205.7 185.5 1210.9 183.1 1214.8 181.8 1217.1 184.1 1222.9 186.1 1226.3 185.5 1230.3 187.7 1234.9 187.1 1238.6 187.5 1242.1 187.9 1246.4 189.8 1250.5 191.7 1253.2 190.6 1258 189.9 1261.8 191.9 1265.3 190.8 1270.1 193.2 1274 190.8 1277.3 190.9 1282.8 192.3 1285.8 191.5 1290.4 191.3 1294.7 193.3 1297.4 192.8 1301.9 191.7 1306.3 194.3 1311 191.8 1314.3 192.9 1317.4 193.1 1321.8 193.1 1326.7 192.8 1329.9 194.2 1333.1 192.6 1338.5 193.1 1342.5 194.4 1346.2 193.3 1350.3 192 1354.7 190.9 1357 191.1 1361.1 193.6 1366.6 192.3 1369.7 191 1373.7 192.1 1377.8 191.9 1381.6 190.8 1386.8 192.8 1389.5 191.3 1393.8 192.5 1397.3 192.5 1402 191.3 1406.2 193.1 1410.6 193 1415 194 1418.3 192.4 1421.6 192.1 1425.6 194.5 1431 192.3 1433.9 193.2 1438.8 194.7 1442.2 192.8 1445.7 194.1 1451.2 194.1 1454.5 195 1458.7 195.5 1462.7 193.5 1467.2 192.6 1470.9 192.8 1474.2 195 1479 193.3 1483.6 193.1 1487.7 193.4 1491.7 192.2 1495.2 193.2 1499.8 191.5 1502.6 191.7 1506.3 193.8 1510.3 191.8 1515 194.5 1519.3 192.6 1522.4 192.5 1526.6 194.7 1530.1 193.1 1534.8 194.6 1539.5 195.1 1542.6 195.3 1547.6 194.4 1552.4 192.5 1556.5 193.7 1559.7 194.1 1563.2 193.6 1568.3 191.8 1572.7 192.7 1576.5 193.1 M267.9 388.2 270.8 388.2 275.7 389 280.4 387.5 283.8 387.6 290 386.9 293.9 387.1 297.4 386.5 302.5 386.6 M367.1 392.4 371.5 393 376.5 391.3 380.4 389.5 383.3 389.8 388.4 389.8 391.8 388.4 395.5 385.2 400.5 384.5 404.6 385.9 407.7 383.2 412.8 375.3 417 367.9 421.4 357.6 423.5 348.7 428 339 431.8 332.4 436.6 320.7 440.5 312.7 443.7 305.6 448.5 294.8 453.5 297.6 456.5 297.5 460.2 298.9 465.1 301.2 469.1 304.4 472.4 303.3 476.8 305.5 479.7 308.1 485.3 308.7 488.6 310.8 491.8 306.6 496.7 301.4 500.6 297.3 504.5 291.6 509.9 287.9 514 281.7 517.7 279.5 522.1 274.7 526.2 269 529.5 265 M972.8 170.4 975.7 172.5 980.3 170.5 984.9 172.4 988.1 172.3 993.7 170.9 997.7 170.3 1001.5 171.4 1004.6 172.7 1009.8 171.7 1012.7 171.9 1016.9 173.6 1021.2 174.9 1024.8 176.2 1029.6 176 1032.9 177.8 1037.5 178 1041.3 179.1 1045.4 178.6 1048.9 180.6 1053.3 181 1057.6 181.5 1061.5 181.4 1064.2 182 1068.7 183.7 1073.6 183.8 1077 183.5 1080.6 184.1 1084.8 183 1089.6 183.3 1093.5 183.6 1097.5 185.7 1101.6 182.5 1105.6 183.3 1108.7 184.3 1112 184.2 1116.3 181.4 1121.5 181.1 1124.3 181.6 1129.7 180 1132.7 181.8 1137.4 180.7 1141.3 179.5 1145.1 177.3 1148.9 177.4 1153.1 177.8 1156.5 176.8 1162.1 176.1 1165.6 173.4 1169.6 174.6 1174.2 174.3 1177.2 173 1181.6 173.5 1186.6 172.4 1190.2 170.8 1194.7 168.9 1198 170.4 1202.4 168.7 1206.9 166.9 1209 168.6 1214.2 165.9 1217.6 168.6 1222.9 169.7 1226.6 172.6 1230.7 173.4 1233.4 175.1 1237.8 175.4 1242.9 178.5 1246 181.4 1250.6 182.1 1254.1 184.7 1257.8 185 1262.9 184 1266.7 184.3 1269.3 183.5 1273.7 182.8 1278.1 184.6 1282.7 183.2 1286.6 183.9 1289.2 184.1 1293.1 184.3 1298.9 184.7 1302.7 185.7 1305.9 183.1 1309.6 185 1314.3 186.4 1318.7 185.6 1322.5 185.4 1325.9 186.5 1330.2 186.4 1334.2 184.6 1339 184.6 1342.1 186 1345.9 186.3 1350.4 186 1354.4 185.2 1359 185.2 1361.1 184.8 1365.6 184.8 1369.1 185.8 1374.5 184.4 1379 186.1 1381.3 185.6 1385.7 185.8 1390.9 185.3 1394.1 185.7 1397.8 185.8 1402.4 184.5 1405.2 185.1 1409.6 182.9 1413.8 185.4 1417.3 182.7 1421.8 184.4 1425.3 185 1430.6 183.5 1433.3 184.9 1437.4 184.9 1442.6 185.6 1447 187.2 1449.8 186.1 1455 186.4 1457.9 186.5 1462.9 186.5 1467.5 184.8 1469.7 184.4 1473.9 184.1 1478.6 183.2 1481.9 184.7 1486.7 181.9 1491.5 182.2 1495 182.4 1499.1 183.1 1502.5 182.1 1507.5 184.4 1510.6 183.3 1514.7 182.8 1519.4 185.3 1523.9 184.3 1527.5 184.5 1531.1 185 1535.8 184.5 1539.3 185.8 1543.4 184.6 1547.2 185.2 1552.4 184.9 1556.7 185.6 1560.5 185.6 1564.1 185.6 1567.5 185.5 1572.3 185.7 1576.5 185 M267.2 371.1 271.6 351.8 276.2 327.4 281.3 305.5 283.8 284.3 288.5 262.2 294.5 240.2 298.2 216 301.6 195.8 305.9 196.4 311.8 194.4 314.8 193.6 320.4 194.9 324.9 194 327.4 196.1 332.7 196.1 336.4 194.5 340.4 194.7 346.6 194.4 350 194.9 354.8 194 359.5 195 362.6 192.8 367.7 193.4 370.8 189.7 375.6 186.4 379.7 183.3 383.9 180 387.6 176 391.1 175.1 396.7 170.8 400.4 166.6 404.3 164.5 408.5 161 M1534.3 141.8 1539 141.2 1544 141 1546.5 141.7 1552.2 140.8 1555.2 139.3 1560.8 141 1564.1 140.5 1567.4 139.2 1572.9 140.1 1576.5 140.5 M267.6 232.4 272.3 225.8 276.6 222.4 280.6 215.8 285 210.6 289.5 203.1 293.9 196.4 297.4 192 302.1 183.7 306.8 186 311 185.8 315.8 183.6 319.1 183.9 323.5 185.3 329.2 185.4 331.8 186.2 336.7 179.1 342.2 173 345.9 165.7 349.2 159.2 353.8 150.6 358.4 146 363.2 139 367.5 132 M146.2 156.2 150.4 154 154.1 153.2 159.5 150.5 163.8 145.6 167.5 145.3 170.9 142.9 175.4 138.4 178.5 138.2 182.6 133.8 187 132" fill="none" stroke="#111" stroke-width="1.3" stroke-dasharray="2.4 1.6" opacity="0.8"/>
<text transform="translate(219.4 195.5) rotate(-55) scale(1.00 1)" text-anchor="middle" style="font-size:33px;fill:#fff">13</text>
<text transform="translate(390.3 192) rotate(-22) scale(1.00 1)" text-anchor="middle" style="font-size:33px;fill:#6b6e9a">12</text>
<text transform="translate(510 372.4) rotate(-25) scale(1.00 1)" text-anchor="middle" style="font-size:33px;fill:#6b6e9a">11</text>
<text transform="translate(594.5 431.6) rotate(-60) scale(1.00 1)" text-anchor="middle" style="font-size:33px;fill:#fff">10</text>
<text transform="translate(833.2 385.3) rotate(-8) scale(1.10 1)" text-anchor="middle" style="font-size:33px;fill:#fff">9</text>
<text transform="translate(1117.7 353.9) rotate(0) scale(1.10 1)" text-anchor="middle" style="font-size:33px;fill:#fff">8</text>
<ellipse cx="640" cy="209.5" rx="126" ry="39.5" transform="rotate(14 640 209.5)" fill="none" stroke="#f01818" stroke-width="4.2" stroke-dasharray="28 12"/>
<g stroke="#e82020" stroke-width="2" stroke-dasharray="12 7"><line x1="224.5" y1="369" x2="595" y2="266"/><line x1="497" y1="634" x2="845" y2="410.5"/></g>
<ellipse cx="635.6" cy="1945" rx="127.5" ry="32" transform="rotate(12.5 635.6 1945)" fill="none" stroke="#3b54a5" stroke-width="5.8" stroke-dasharray="52 21" stroke-dashoffset="20"/>
<g stroke="#3b54a5" stroke-width="6" stroke-dasharray="55 21"><line x1="223.7" y1="2094.7" x2="595.7" y2="1993"/><line x1="494" y1="2361.8" x2="845.7" y2="2140.3"/></g>
<text x="1057.5" y="1914.7" style="font-size:41px;fill:#111">ML</text>
<text x="211.5" y="2044.5" style="font-size:41px;fill:#111">STW</text>
<text x="454.5" y="2205" style="font-size:41px;fill:#111">STF</text>
<text x="911.5" y="2324" style="font-size:41px;fill:#111">SAW</text>
<polygon points="261.6,1808.4 268.8,1808.4 268.8,1832 280.2,1832 265.2,1857.2 249.7,1832 261.6,1832" fill="#e8192c"/>
<text transform="translate(286.7 1846.2) scale(1.07 1)" style="font-size:26.4px;font-weight:bold;fill:#e8192c">XBT 34 (Fig. 7a)</text>
<polygon points="602.8,1808.4 610,1808.4 610,1832 621.4,1832 606.4,1857.2 590.9,1832 602.8,1832" fill="#e8192c"/>
<text transform="translate(627.9 1846.2) scale(1.07 1)" style="font-size:26.4px;font-weight:bold;fill:#e8192c">XBT 25 (Fig. 7c)</text>
<polygon points="1007,1808.4 1014.2,1808.4 1014.2,1832 1025.6,1832 1010.6,1857.2 995.1,1832 1007,1832" fill="#e8192c"/>
<text transform="translate(1032.1 1846.2) scale(1.07 1)" style="font-size:26.4px;font-weight:bold;fill:#e8192c">XBT 15 (Fig. 7d)</text>
<rect x="127" y="132.4" width="1471" height="504" fill="none" stroke="#000" stroke-width="2.6"/>
<line x1="112.4" y1="132.4" x2="127" y2="132.4" stroke="#000" stroke-width="2.6"/>
<text transform="translate(104.4 135.5) scale(1.130 1)" class="tl" text-anchor="end">0</text>
<line x1="112.4" y1="263" x2="127" y2="263" stroke="#000" stroke-width="2.6"/>
<text transform="translate(104.4 266.1) scale(1.130 1)" class="tl" text-anchor="end">100</text>
<line x1="112.4" y1="394.6" x2="127" y2="394.6" stroke="#000" stroke-width="2.6"/>
<text transform="translate(104.4 397.7) scale(1.130 1)" class="tl" text-anchor="end">200</text>
<line x1="112.4" y1="525.2" x2="127" y2="525.2" stroke="#000" stroke-width="2.6"/>
<text transform="translate(104.4 528.3) scale(1.130 1)" class="tl" text-anchor="end">300</text>
<line x1="112.4" y1="636.4" x2="127" y2="636.4" stroke="#000" stroke-width="2.6"/>
<text transform="translate(104.4 639.5) scale(1.130 1)" class="tl" text-anchor="end">375</text>
<line x1="267.5" y1="636.4" x2="267.5" y2="649.9" stroke="#000" stroke-width="2.6"/>
<text transform="translate(269 673.9) scale(1.130 1)" class="tl" text-anchor="middle">60</text>
<line x1="485.5" y1="636.4" x2="485.5" y2="649.9" stroke="#000" stroke-width="2.6"/>
<text transform="translate(487 673.9) scale(1.130 1)" class="tl" text-anchor="middle">50</text>
<line x1="703.5" y1="636.4" x2="703.5" y2="649.9" stroke="#000" stroke-width="2.6"/>
<text transform="translate(705 673.9) scale(1.130 1)" class="tl" text-anchor="middle">40</text>
<line x1="921.5" y1="636.4" x2="921.5" y2="649.9" stroke="#000" stroke-width="2.6"/>
<text transform="translate(923 673.9) scale(1.130 1)" class="tl" text-anchor="middle">30</text>
<line x1="1139.5" y1="636.4" x2="1139.5" y2="649.9" stroke="#000" stroke-width="2.6"/>
<text transform="translate(1141 673.9) scale(1.130 1)" class="tl" text-anchor="middle">20</text>
<line x1="1357.5" y1="636.4" x2="1357.5" y2="649.9" stroke="#000" stroke-width="2.6"/>
<text transform="translate(1359 673.9) scale(1.130 1)" class="tl" text-anchor="middle">10</text>
<line x1="1575.5" y1="636.4" x2="1575.5" y2="649.9" stroke="#000" stroke-width="2.6"/>
<text transform="translate(1577 673.9) scale(1.130 1)" class="tl" text-anchor="middle">0</text>
<text transform="translate(25.8 436.4) scale(1.235 1) rotate(-90)" class="lab" text-anchor="middle">Depth (m)</text>
<text transform="translate(6.5 134.3) scale(1.050 1)" class="pl">A</text>
<rect x="127" y="696.5" width="1471" height="504" fill="none" stroke="#000" stroke-width="2.6"/>
<line x1="112.4" y1="696.5" x2="127" y2="696.5" stroke="#000" stroke-width="2.6"/>
<text transform="translate(104.4 699.6) scale(1.130 1)" class="tl" text-anchor="end">0</text>
<line x1="112.4" y1="827.1" x2="127" y2="827.1" stroke="#000" stroke-width="2.6"/>
<text transform="translate(104.4 830.2) scale(1.130 1)" class="tl" text-anchor="end">100</text>
<line x1="112.4" y1="958.7" x2="127" y2="958.7" stroke="#000" stroke-width="2.6"/>
<text transform="translate(104.4 961.8) scale(1.130 1)" class="tl" text-anchor="end">200</text>
<line x1="112.4" y1="1089.3" x2="127" y2="1089.3" stroke="#000" stroke-width="2.6"/>
<text transform="translate(104.4 1092.4) scale(1.130 1)" class="tl" text-anchor="end">300</text>
<line x1="112.4" y1="1200.5" x2="127" y2="1200.5" stroke="#000" stroke-width="2.6"/>
<text transform="translate(104.4 1203.6) scale(1.130 1)" class="tl" text-anchor="end">375</text>
<line x1="267.5" y1="1200.5" x2="267.5" y2="1214" stroke="#000" stroke-width="2.6"/>
<text transform="translate(269 1238) scale(1.130 1)" class="tl" text-anchor="middle">60</text>
<line x1="485.5" y1="1200.5" x2="485.5" y2="1214" stroke="#000" stroke-width="2.6"/>
<text transform="translate(487 1238) scale(1.130 1)" class="tl" text-anchor="middle">50</text>
<line x1="703.5" y1="1200.5" x2="703.5" y2="1214" stroke="#000" stroke-width="2.6"/>
<text transform="translate(705 1238) scale(1.130 1)" class="tl" text-anchor="middle">40</text>
<line x1="921.5" y1="1200.5" x2="921.5" y2="1214" stroke="#000" stroke-width="2.6"/>
<text transform="translate(923 1238) scale(1.130 1)" class="tl" text-anchor="middle">30</text>
<line x1="1139.5" y1="1200.5" x2="1139.5" y2="1214" stroke="#000" stroke-width="2.6"/>
<text transform="translate(1141 1238) scale(1.130 1)" class="tl" text-anchor="middle">20</text>
<line x1="1357.5" y1="1200.5" x2="1357.5" y2="1214" stroke="#000" stroke-width="2.6"/>
<text transform="translate(1359 1238) scale(1.130 1)" class="tl" text-anchor="middle">10</text>
<line x1="1575.5" y1="1200.5" x2="1575.5" y2="1214" stroke="#000" stroke-width="2.6"/>
<text transform="translate(1577 1238) scale(1.130 1)" class="tl" text-anchor="middle">0</text>
<text transform="translate(25.8 1000.5) scale(1.235 1) rotate(-90)" class="lab" text-anchor="middle">Depth (m)</text>
<text transform="translate(6.5 696.9) scale(1.050 1)" class="pl">B</text>
<rect x="127" y="1258.6" width="1471" height="504" fill="none" stroke="#000" stroke-width="2.6"/>
<line x1="112.4" y1="1258.6" x2="127" y2="1258.6" stroke="#000" stroke-width="2.6"/>
<text transform="translate(104.4 1261.7) scale(1.130 1)" class="tl" text-anchor="end">0</text>
<line x1="112.4" y1="1389.2" x2="127" y2="1389.2" stroke="#000" stroke-width="2.6"/>
<text transform="translate(104.4 1392.3) scale(1.130 1)" class="tl" text-anchor="end">100</text>
<line x1="112.4" y1="1520.8" x2="127" y2="1520.8" stroke="#000" stroke-width="2.6"/>
<text transform="translate(104.4 1523.9) scale(1.130 1)" class="tl" text-anchor="end">200</text>
<line x1="112.4" y1="1651.4" x2="127" y2="1651.4" stroke="#000" stroke-width="2.6"/>
<text transform="translate(104.4 1654.5) scale(1.130 1)" class="tl" text-anchor="end">300</text>
<line x1="112.4" y1="1762.6" x2="127" y2="1762.6" stroke="#000" stroke-width="2.6"/>
<text transform="translate(104.4 1765.7) scale(1.130 1)" class="tl" text-anchor="end">375</text>
<line x1="267.5" y1="1762.6" x2="267.5" y2="1776.1" stroke="#000" stroke-width="2.6"/>
<text transform="translate(269 1800.1) scale(1.130 1)" class="tl" text-anchor="middle">60</text>
<line x1="485.5" y1="1762.6" x2="485.5" y2="1776.1" stroke="#000" stroke-width="2.6"/>
<text transform="translate(487 1800.1) scale(1.130 1)" class="tl" text-anchor="middle">50</text>
<line x1="703.5" y1="1762.6" x2="703.5" y2="1776.1" stroke="#000" stroke-width="2.6"/>
<text transform="translate(705 1800.1) scale(1.130 1)" class="tl" text-anchor="middle">40</text>
<line x1="921.5" y1="1762.6" x2="921.5" y2="1776.1" stroke="#000" stroke-width="2.6"/>
<text transform="translate(923 1800.1) scale(1.130 1)" class="tl" text-anchor="middle">30</text>
<line x1="1139.5" y1="1762.6" x2="1139.5" y2="1776.1" stroke="#000" stroke-width="2.6"/>
<text transform="translate(1141 1800.1) scale(1.130 1)" class="tl" text-anchor="middle">20</text>
<line x1="1357.5" y1="1762.6" x2="1357.5" y2="1776.1" stroke="#000" stroke-width="2.6"/>
<text transform="translate(1359 1800.1) scale(1.130 1)" class="tl" text-anchor="middle">10</text>
<line x1="1575.5" y1="1762.6" x2="1575.5" y2="1776.1" stroke="#000" stroke-width="2.6"/>
<text transform="translate(1577 1800.1) scale(1.130 1)" class="tl" text-anchor="middle">0</text>
<text transform="translate(25.8 1562.6) scale(1.235 1) rotate(-90)" class="lab" text-anchor="middle">Depth (m)</text>
<text transform="translate(6.5 1264) scale(1.050 1)" class="pl">C</text>
<rect x="127" y="1860.5" width="1471" height="504" fill="none" stroke="#000" stroke-width="2.6"/>
<line x1="112.4" y1="1860.5" x2="127" y2="1860.5" stroke="#000" stroke-width="2.6"/>
<text transform="translate(104.4 1863.6) scale(1.130 1)" class="tl" text-anchor="end">0</text>
<line x1="112.4" y1="1991.1" x2="127" y2="1991.1" stroke="#000" stroke-width="2.6"/>
<text transform="translate(104.4 1994.2) scale(1.130 1)" class="tl" text-anchor="end">100</text>
<line x1="112.4" y1="2122.7" x2="127" y2="2122.7" stroke="#000" stroke-width="2.6"/>
<text transform="translate(104.4 2125.8) scale(1.130 1)" class="tl" text-anchor="end">200</text>
<line x1="112.4" y1="2253.3" x2="127" y2="2253.3" stroke="#000" stroke-width="2.6"/>
<text transform="translate(104.4 2256.4) scale(1.130 1)" class="tl" text-anchor="end">300</text>
<line x1="112.4" y1="2364.5" x2="127" y2="2364.5" stroke="#000" stroke-width="2.6"/>
<text transform="translate(104.4 2367.6) scale(1.130 1)" class="tl" text-anchor="end">375</text>
<line x1="267.5" y1="2364.5" x2="267.5" y2="2378" stroke="#000" stroke-width="2.6"/>
<text transform="translate(269 2402) scale(1.130 1)" class="tl" text-anchor="middle">60</text>
<line x1="485.5" y1="2364.5" x2="485.5" y2="2378" stroke="#000" stroke-width="2.6"/>
<text transform="translate(487 2402) scale(1.130 1)" class="tl" text-anchor="middle">50</text>
<line x1="703.5" y1="2364.5" x2="703.5" y2="2378" stroke="#000" stroke-width="2.6"/>
<text transform="translate(705 2402) scale(1.130 1)" class="tl" text-anchor="middle">40</text>
<line x1="921.5" y1="2364.5" x2="921.5" y2="2378" stroke="#000" stroke-width="2.6"/>
<text transform="translate(923 2402) scale(1.130 1)" class="tl" text-anchor="middle">30</text>
<line x1="1139.5" y1="2364.5" x2="1139.5" y2="2378" stroke="#000" stroke-width="2.6"/>
<text transform="translate(1141 2402) scale(1.130 1)" class="tl" text-anchor="middle">20</text>
<line x1="1357.5" y1="2364.5" x2="1357.5" y2="2378" stroke="#000" stroke-width="2.6"/>
<text transform="translate(1359 2402) scale(1.130 1)" class="tl" text-anchor="middle">10</text>
<line x1="1575.5" y1="2364.5" x2="1575.5" y2="2378" stroke="#000" stroke-width="2.6"/>
<text transform="translate(1577 2402) scale(1.130 1)" class="tl" text-anchor="middle">0</text>
<text transform="translate(25.8 2164.5) scale(1.235 1) rotate(-90)" class="lab" text-anchor="middle">Depth (m)</text>
<text transform="translate(6.5 1865.8) scale(1.050 1)" class="pl">D</text>
<rect x="1625" y="172.2" width="41.2" height="7.2" fill="#da0000"/>
<rect x="1625" y="178.9" width="41.2" height="7.2" fill="#ee0000"/>
<rect x="1625" y="185.7" width="41.2" height="7.2" fill="#ff0100"/>
<rect x="1625" y="192.4" width="41.2" height="7.2" fill="#ff0d00"/>
<rect x="1625" y="199.2" width="41.2" height="7.2" fill="#ff1900"/>
<rect x="1625" y="205.9" width="41.2" height="7.2" fill="#ff2200"/>
<rect x="1625" y="212.6" width="41.2" height="7.2" fill="#ff2b00"/>
<rect x="1625" y="219.4" width="41.2" height="7.2" fill="#ff3300"/>
<rect x="1625" y="226.1" width="41.2" height="7.2" fill="#ff4400"/>
<rect x="1625" y="232.9" width="41.2" height="7.2" fill="#ff5400"/>
<rect x="1625" y="239.6" width="41.2" height="7.2" fill="#ff6100"/>
<rect x="1625" y="246.3" width="41.2" height="7.2" fill="#ff6d00"/>
<rect x="1625" y="253.1" width="41.2" height="7.2" fill="#ff7800"/>
<rect x="1625" y="259.8" width="41.2" height="7.2" fill="#ff8500"/>
<rect x="1625" y="266.5" width="41.2" height="7.2" fill="#ff9200"/>
<rect x="1625" y="273.3" width="41.2" height="7.2" fill="#ff9f00"/>
<rect x="1625" y="280" width="41.2" height="7.2" fill="#ffad00"/>
<rect x="1625" y="286.8" width="41.2" height="7.2" fill="#ffba00"/>
<rect x="1625" y="293.5" width="41.2" height="7.2" fill="#ffc800"/>
<rect x="1625" y="300.2" width="41.2" height="7.2" fill="#ffd500"/>
<rect x="1625" y="307" width="41.2" height="7.2" fill="#ffe200"/>
<rect x="1625" y="313.7" width="41.2" height="7.2" fill="#ffef00"/>
<rect x="1625" y="320.5" width="41.2" height="7.2" fill="#fffc00"/>
<rect x="1625" y="327.2" width="41.2" height="7.2" fill="#f7ff08"/>
<rect x="1625" y="333.9" width="41.2" height="7.2" fill="#ecff13"/>
<rect x="1625" y="340.7" width="41.2" height="7.2" fill="#e0ff20"/>
<rect x="1625" y="347.4" width="41.2" height="7.2" fill="#cbff35"/>
<rect x="1625" y="354.2" width="41.2" height="7.2" fill="#baff44"/>
<rect x="1625" y="360.9" width="41.2" height="7.2" fill="#adff4d"/>
<rect x="1625" y="367.6" width="41.2" height="7.2" fill="#a2ff53"/>
<rect x="1625" y="374.4" width="41.2" height="7.2" fill="#9aff57"/>
<rect x="1625" y="381.1" width="41.2" height="7.2" fill="#8eff62"/>
<rect x="1625" y="387.9" width="41.2" height="7.2" fill="#82ff6e"/>
<rect x="1625" y="394.6" width="41.2" height="7.2" fill="#73ff7d"/>
<rect x="1625" y="401.3" width="41.2" height="7.2" fill="#63ff8d"/>
<rect x="1625" y="408.1" width="41.2" height="7.2" fill="#58ff98"/>
<rect x="1625" y="414.8" width="41.2" height="7.2" fill="#4dffa4"/>
<rect x="1625" y="421.5" width="41.2" height="7.2" fill="#40ffb6"/>
<rect x="1625" y="428.3" width="41.2" height="7.2" fill="#35ffc5"/>
<rect x="1625" y="435" width="41.2" height="7.2" fill="#2cffd2"/>
<rect x="1625" y="441.8" width="41.2" height="7.2" fill="#22ffde"/>
<rect x="1625" y="448.5" width="41.2" height="7.2" fill="#14ffec"/>
<rect x="1625" y="455.2" width="41.2" height="7.2" fill="#09fff6"/>
<rect x="1625" y="462" width="41.2" height="7.2" fill="#00feff"/>
<rect x="1625" y="468.7" width="41.2" height="7.2" fill="#00f3ff"/>
<rect x="1625" y="475.5" width="41.2" height="7.2" fill="#00e8ff"/>
<rect x="1625" y="482.2" width="41.2" height="7.2" fill="#00d6ff"/>
<rect x="1625" y="488.9" width="41.2" height="7.2" fill="#00c4ff"/>
<rect x="1625" y="495.7" width="41.2" height="7.2" fill="#00b2ff"/>
<rect x="1625" y="502.4" width="41.2" height="7.2" fill="#00a3ff"/>
<rect x="1625" y="509.2" width="41.2" height="7.2" fill="#0096ff"/>
<rect x="1625" y="515.9" width="41.2" height="7.2" fill="#0089ff"/>
<rect x="1625" y="522.6" width="41.2" height="7.2" fill="#007bff"/>
<rect x="1625" y="529.4" width="41.2" height="7.2" fill="#006eff"/>
<rect x="1625" y="536.1" width="41.2" height="7.2" fill="#0061ff"/>
<rect x="1625" y="542.8" width="41.2" height="7.2" fill="#0054ff"/>
<rect x="1625" y="549.6" width="41.2" height="7.2" fill="#0047ff"/>
<rect x="1625" y="556.3" width="41.2" height="7.2" fill="#003aff"/>
<rect x="1625" y="563.1" width="41.2" height="7.2" fill="#002eff"/>
<rect x="1625" y="569.8" width="41.2" height="7.2" fill="#0026ff"/>
<rect x="1625" y="576.5" width="41.2" height="7.2" fill="#001dff"/>
<rect x="1625" y="583.3" width="41.2" height="7.2" fill="#0014ff"/>
<rect x="1625" y="590" width="41.2" height="7.2" fill="#000cff"/>
<rect x="1625" y="596.8" width="41.2" height="7.2" fill="#0005ff"/>
<text transform="translate(1681.5 183.2) scale(1.105 1)" class="cl">15</text>
<text transform="translate(1681.5 236.9) scale(1.105 1)" class="cl">14</text>
<text transform="translate(1681.5 290.6) scale(1.105 1)" class="cl">13</text>
<text transform="translate(1681.5 344.3) scale(1.105 1)" class="cl">12</text>
<text transform="translate(1681.5 398) scale(1.105 1)" class="cl">11</text>
<text transform="translate(1681.5 451.7) scale(1.105 1)" class="cl">10</text>
<text transform="translate(1681.5 505.4) scale(1.105 1)" class="cl">9</text>
<text transform="translate(1681.5 559.1) scale(1.105 1)" class="cl">8</text>
<text transform="translate(1681.5 612.8) scale(1.105 1)" class="cl">7</text>
<text transform="translate(1762.6 392.7) scale(1.155 1) rotate(-90)" class="lab" text-anchor="middle" style="font-size:27.4px">Temperature (°C)</text>
<rect x="1625.3" y="734.8" width="41.4" height="7.2" fill="#89160c"/>
<rect x="1625.3" y="741.5" width="41.4" height="7.2" fill="#92271d"/>
<rect x="1625.3" y="748.3" width="41.4" height="7.2" fill="#9b382f"/>
<rect x="1625.3" y="755" width="41.4" height="7.2" fill="#a44941"/>
<rect x="1625.3" y="761.8" width="41.4" height="7.2" fill="#ac5a53"/>
<rect x="1625.3" y="768.5" width="41.4" height="7.2" fill="#b56b65"/>
<rect x="1625.3" y="775.3" width="41.4" height="7.2" fill="#be7c76"/>
<rect x="1625.3" y="782" width="41.4" height="7.2" fill="#c78d88"/>
<rect x="1625.3" y="788.8" width="41.4" height="7.2" fill="#d09e9a"/>
<rect x="1625.3" y="795.5" width="41.4" height="7.2" fill="#d9afac"/>
<rect x="1625.3" y="802.3" width="41.4" height="7.2" fill="#e2c0be"/>
<rect x="1625.3" y="809" width="41.4" height="7.2" fill="#ebd1cf"/>
<rect x="1625.3" y="815.8" width="41.4" height="7.2" fill="#ffffff"/>
<rect x="1625.3" y="822.5" width="41.4" height="7.2" fill="#fdfdfe"/>
<rect x="1625.3" y="829.3" width="41.4" height="7.2" fill="#fafafd"/>
<rect x="1625.3" y="836" width="41.4" height="7.2" fill="#f7f7fb"/>
<rect x="1625.3" y="842.8" width="41.4" height="7.2" fill="#f3f4fa"/>
<rect x="1625.3" y="849.5" width="41.4" height="7.2" fill="#f0f1f9"/>
<rect x="1625.3" y="856.3" width="41.4" height="7.2" fill="#edeef7"/>
<rect x="1625.3" y="863" width="41.4" height="7.2" fill="#eaebf6"/>
<rect x="1625.3" y="869.8" width="41.4" height="7.2" fill="#e7e8f5"/>
<rect x="1625.3" y="876.5" width="41.4" height="7.2" fill="#e3e5f3"/>
<rect x="1625.3" y="883.3" width="41.4" height="7.2" fill="#e0e2f2"/>
<rect x="1625.3" y="890" width="41.4" height="7.2" fill="#dddef1"/>
<rect x="1625.3" y="896.8" width="41.4" height="7.2" fill="#dadbef"/>
<rect x="1625.3" y="903.5" width="41.4" height="7.2" fill="#d6d8ee"/>
<rect x="1625.3" y="910.3" width="41.4" height="7.2" fill="#d2d5ec"/>
<rect x="1625.3" y="917" width="41.4" height="7.2" fill="#ced1eb"/>
<rect x="1625.3" y="923.8" width="41.4" height="7.2" fill="#cacde9"/>
<rect x="1625.3" y="930.5" width="41.4" height="7.2" fill="#c6c9e8"/>
<rect x="1625.3" y="937.3" width="41.4" height="7.2" fill="#c1c6e6"/>
<rect x="1625.3" y="944" width="41.4" height="7.2" fill="#bdc2e4"/>
<rect x="1625.3" y="950.8" width="41.4" height="7.2" fill="#b9bee3"/>
<rect x="1625.3" y="957.5" width="41.4" height="7.2" fill="#b5bae1"/>
<rect x="1625.3" y="964.2" width="41.4" height="7.2" fill="#b0b7e0"/>
<rect x="1625.3" y="971" width="41.4" height="7.2" fill="#acb3de"/>
<rect x="1625.3" y="977.7" width="41.4" height="7.2" fill="#a8afdd"/>
<rect x="1625.3" y="984.5" width="41.4" height="7.2" fill="#a4abdb"/>
<rect x="1625.3" y="991.2" width="41.4" height="7.2" fill="#9fa7d9"/>
<rect x="1625.3" y="998" width="41.4" height="7.2" fill="#98a2d7"/>
<rect x="1625.3" y="1004.7" width="41.4" height="7.2" fill="#919cd4"/>
<rect x="1625.3" y="1011.5" width="41.4" height="7.2" fill="#8a96d1"/>
<rect x="1625.3" y="1018.2" width="41.4" height="7.2" fill="#8391cf"/>
<rect x="1625.3" y="1025" width="41.4" height="7.2" fill="#7c8bcc"/>
<rect x="1625.3" y="1031.7" width="41.4" height="7.2" fill="#7585c9"/>
<rect x="1625.3" y="1038.5" width="41.4" height="7.2" fill="#6e80c7"/>
<rect x="1625.3" y="1045.2" width="41.4" height="7.2" fill="#677ac4"/>
<rect x="1625.3" y="1052" width="41.4" height="7.2" fill="#6074c1"/>
<rect x="1625.3" y="1058.7" width="41.4" height="7.2" fill="#586fbf"/>
<rect x="1625.3" y="1065.5" width="41.4" height="7.2" fill="#5169bc"/>
<rect x="1625.3" y="1072.2" width="41.4" height="7.2" fill="#4a63b9"/>
<rect x="1625.3" y="1079" width="41.4" height="7.2" fill="#425db6"/>
<rect x="1625.3" y="1085.7" width="41.4" height="7.2" fill="#3856b1"/>
<rect x="1625.3" y="1092.5" width="41.4" height="7.2" fill="#2f4fad"/>
<rect x="1625.3" y="1099.2" width="41.4" height="7.2" fill="#2548a8"/>
<rect x="1625.3" y="1106" width="41.4" height="7.2" fill="#1b41a3"/>
<rect x="1625.3" y="1112.7" width="41.4" height="7.2" fill="#133b9f"/>
<rect x="1625.3" y="1119.5" width="41.4" height="7.2" fill="#12389c"/>
<rect x="1625.3" y="1126.2" width="41.4" height="7.2" fill="#11349a"/>
<rect x="1625.3" y="1133" width="41.4" height="7.2" fill="#0f3197"/>
<rect x="1625.3" y="1139.7" width="41.4" height="7.2" fill="#0e2e94"/>
<rect x="1625.3" y="1146.5" width="41.4" height="7.2" fill="#0d2b92"/>
<rect x="1625.3" y="1153.2" width="41.4" height="7.2" fill="#0b288f"/>
<rect x="1625.3" y="1160" width="41.4" height="7.2" fill="#0a258c"/>
<text transform="translate(1675 745.2) scale(1.050 1)" class="cl">0.05</text>
<text transform="translate(1675 830.9) scale(1.050 1)" class="cl">0</text>
<text transform="translate(1675 916.6) scale(1.050 1)" class="cl">-0.05</text>
<text transform="translate(1675 1002.3) scale(1.050 1)" class="cl">-0.1</text>
<text transform="translate(1675 1088) scale(1.050 1)" class="cl">-0.15</text>
<text transform="translate(1675 1173.7) scale(1.050 1)" class="cl">-0.2</text>
<text transform="translate(1761.7 954.2) scale(1.110 1) rotate(-90)" class="lab" text-anchor="middle" style="font-size:29.2px">Temperature gradient (°C/m)</text>
<text transform="translate(881.5 2425.8) scale(1.206 1)" class="lab" text-anchor="middle">Distance (km)</text>
</svg></body></html>
